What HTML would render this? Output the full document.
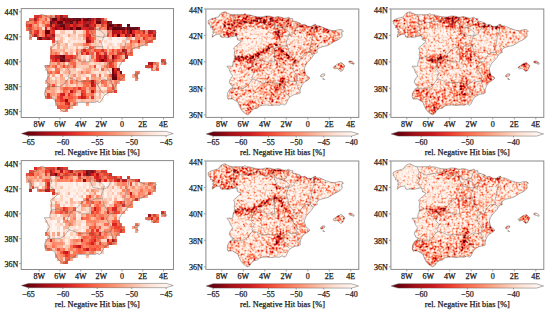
<!DOCTYPE html><html><head><meta charset="utf-8"><style>
html,body{margin:0;padding:0;background:#fff;}
body{width:550px;height:310px;overflow:hidden;position:relative;}
svg{position:absolute;left:0;top:0;}
text{font-family:"Liberation Serif",serif;fill:#1a1a1a;stroke:#1a1a1a;stroke-width:0.25px;}
</style></head><body>
<svg width="550" height="310" viewBox="0 0 550 310">
<defs>
<linearGradient id="cbg" x1="0" x2="1" y1="0" y2="0"><stop offset="0.000" stop-color="#67000d"/><stop offset="0.125" stop-color="#a50f15"/><stop offset="0.250" stop-color="#cb181d"/><stop offset="0.375" stop-color="#ef3b2c"/><stop offset="0.500" stop-color="#fb6a4a"/><stop offset="0.625" stop-color="#fc9272"/><stop offset="0.750" stop-color="#fcbba1"/><stop offset="0.875" stop-color="#fee0d2"/><stop offset="1.000" stop-color="#fff5f0"/></linearGradient>
<clipPath id="sp0"><path d="M30.3 38.3 L30.2 36.1 L30.8 35.2 L31.8 33.9 L30.2 33.6 L32.1 31.9 L30.0 31.1 L30.8 29.8 L29.5 29.4 L28.4 29.4 L28.6 27.9 L27.7 26.9 L26.2 25.4 L26.7 24.2 L25.8 23.2 L27.1 22.1 L29.5 20.8 L32.1 20.2 L34.6 19.4 L36.2 19.2 L36.7 17.9 L38.3 16.1 L40.5 14.7 L42.6 14.3 L44.0 15.2 L46.5 16.4 L49.1 17.2 L52.8 17.1 L56.9 17.1 L60.0 16.9 L61.6 16.1 L63.1 17.2 L66.2 17.3 L69.3 18.2 L72.9 18.9 L75.5 19.2 L78.6 19.2 L81.7 18.3 L83.3 18.3 L86.4 18.6 L89.0 19.4 L91.0 19.4 L93.1 18.8 L96.2 19.4 L99.3 20.4 L101.9 20.2 L103.7 19.4 L105.5 20.7 L107.6 20.8 L107.8 23.6 L109.7 23.2 L112.3 24.2 L114.3 24.8 L116.4 26.7 L119.0 26.2 L122.1 28.1 L125.2 28.2 L128.8 26.1 L129.9 26.4 L130.9 27.7 L133.5 27.7 L137.1 29.2 L139.9 30.4 L142.3 31.1 L143.8 31.7 L148.0 32.3 L150.6 31.4 L153.7 31.1 L154.9 31.3 L156.5 32.7 L154.7 33.6 L155.0 35.2 L155.2 37.3 L153.7 39.2 L151.1 40.9 L148.0 42.3 L144.9 44.2 L141.8 46.0 L138.1 46.9 L134.5 47.9 L131.9 48.9 L130.9 51.0 L131.2 52.9 L129.3 53.5 L127.8 54.8 L126.2 57.3 L123.7 60.4 L121.6 62.3 L120.0 64.8 L118.8 67.9 L119.0 69.8 L119.8 72.3 L120.5 74.4 L122.6 75.6 L124.2 76.9 L123.1 78.1 L121.6 79.1 L119.5 80.4 L117.4 81.9 L116.4 83.9 L115.4 86.0 L114.6 88.5 L114.9 91.0 L112.8 91.9 L109.7 92.3 L107.1 93.5 L105.0 94.8 L103.5 96.6 L102.2 99.1 L100.9 101.6 L99.3 102.6 L97.3 101.4 L94.7 102.6 L91.0 102.4 L86.9 102.9 L82.8 102.4 L78.6 102.6 L76.0 103.1 L73.5 105.4 L70.3 106.0 L67.8 107.9 L66.7 109.7 L65.7 111.0 L64.1 111.6 L62.1 110.6 L60.0 109.1 L57.9 106.6 L56.9 104.8 L55.7 102.3 L54.8 99.8 L51.7 97.9 L49.6 96.6 L47.1 96.6 L45.3 96.9 L44.5 94.1 L45.0 91.0 L47.1 87.3 L49.6 86.0 L50.2 84.1 L48.6 84.1 L46.5 81.0 L47.1 78.5 L49.1 75.6 L49.6 74.8 L47.6 71.7 L46.5 68.5 L44.2 65.8 L49.6 65.8 L50.2 61.7 L51.7 58.5 L51.2 55.4 L51.7 51.0 L50.7 48.5 L52.8 46.7 L55.9 44.2 L57.9 41.9 L54.3 40.7 L53.8 37.3 L51.2 37.3 L47.6 38.2 L45.0 38.6 L42.4 38.2 L39.8 38.6 L38.3 37.9 L37.2 35.2 L34.6 35.7 L32.6 36.4 L30.3 38.3Z M146.4 67.0 L148.0 68.4 L150.3 67.7 L152.6 69.7 L153.7 70.8 L155.7 69.8 L157.8 65.4 L156.8 64.4 L155.2 62.9 L154.2 62.3 L152.6 62.9 L150.6 63.8 L148.5 65.4 L146.7 66.4Z M161.4 61.7 L161.9 62.5 L164.5 63.3 L166.6 63.9 L166.8 63.2 L165.6 61.7 L163.5 60.9 L161.9 60.9Z M134.5 75.6 L136.1 76.0 L137.1 75.1 L138.7 74.2 L138.1 72.9 L136.1 73.2 L134.5 74.4Z M136.4 77.9 L137.1 78.3 L138.5 78.4 L137.6 77.5 L136.8 77.4Z"/></clipPath>
<clipPath id="sp1"><path d="M212.4 37.2 L212.3 34.8 L213.0 33.9 L214.1 32.5 L212.3 32.1 L214.3 30.4 L212.1 29.5 L213.0 28.2 L211.6 27.8 L210.5 27.8 L210.7 26.2 L209.8 25.1 L208.1 23.5 L208.7 22.2 L207.8 21.2 L209.1 20.0 L211.6 18.7 L214.3 18.0 L217.0 17.2 L218.6 16.9 L219.1 15.6 L220.7 13.6 L223.1 12.2 L225.2 11.8 L226.6 12.7 L229.3 14.0 L232.0 14.8 L235.8 14.7 L240.1 14.7 L243.3 14.6 L244.9 13.6 L246.5 14.8 L249.8 14.9 L253.0 15.9 L256.7 16.7 L259.4 16.9 L262.7 16.9 L265.9 16.0 L267.5 16.0 L270.7 16.3 L273.4 17.2 L275.6 17.2 L277.7 16.5 L280.9 17.2 L284.2 18.3 L286.8 18.0 L288.7 17.2 L290.6 18.5 L292.8 18.7 L293.0 21.6 L294.9 21.2 L297.6 22.2 L299.7 22.9 L301.9 24.9 L304.6 24.3 L307.8 26.3 L311.0 26.5 L314.8 24.2 L315.9 24.6 L316.9 25.9 L319.6 25.9 L323.4 27.5 L326.3 28.8 L328.8 29.5 L330.4 30.2 L334.7 30.8 L337.4 29.9 L340.6 29.5 L341.9 29.8 L343.5 31.2 L341.7 32.1 L342.0 33.9 L342.2 36.1 L340.6 38.1 L337.9 39.9 L334.7 41.4 L331.4 43.4 L328.2 45.4 L324.5 46.3 L320.7 47.3 L318.0 48.4 L316.9 50.6 L317.3 52.6 L315.3 53.3 L313.7 54.6 L312.1 57.3 L309.4 60.6 L307.3 62.5 L305.7 65.2 L304.4 68.5 L304.6 70.5 L305.4 73.1 L306.2 75.4 L308.3 76.7 L309.9 78.0 L308.9 79.3 L307.3 80.4 L305.1 81.7 L303.0 83.3 L301.9 85.4 L300.8 87.7 L300.1 90.3 L300.3 92.9 L298.1 93.9 L294.9 94.3 L292.2 95.6 L290.1 96.9 L288.4 98.9 L287.2 101.5 L285.8 104.2 L284.2 105.2 L282.0 103.9 L279.3 105.2 L275.6 105.0 L271.2 105.5 L266.9 105.0 L262.7 105.2 L260.0 105.8 L257.3 108.2 L254.1 108.8 L251.4 110.8 L250.3 112.8 L249.2 114.1 L247.6 114.8 L245.5 113.7 L243.3 112.1 L241.2 109.5 L240.1 107.5 L238.8 104.8 L237.9 102.2 L234.7 100.2 L232.6 98.9 L229.9 98.9 L228.0 99.2 L227.2 96.3 L227.7 92.9 L229.9 89.0 L232.6 87.7 L233.1 85.7 L231.5 85.7 L229.3 82.4 L229.9 79.7 L232.0 76.7 L232.6 75.8 L230.4 72.5 L229.3 69.2 L226.9 66.2 L232.6 66.2 L233.1 61.9 L234.7 58.6 L234.2 55.3 L234.7 50.6 L233.6 48.0 L235.8 46.0 L239.0 43.4 L241.2 41.0 L237.4 39.7 L236.9 36.1 L234.2 36.1 L230.4 37.0 L227.7 37.4 L225.0 37.0 L222.3 37.4 L220.7 36.8 L219.7 33.9 L217.0 34.4 L214.8 35.2 L212.4 37.2Z M333.1 67.6 L334.7 69.0 L337.0 68.2 L339.5 70.3 L340.6 71.5 L342.7 70.5 L344.9 65.8 L343.8 64.8 L342.2 63.2 L341.1 62.5 L339.5 63.2 L337.4 64.1 L335.2 65.8 L333.4 66.9Z M348.7 61.9 L349.2 62.8 L351.9 63.6 L354.0 64.3 L354.2 63.5 L352.9 61.9 L350.8 61.1 L349.2 61.1Z M320.7 76.7 L322.3 77.1 L323.4 76.2 L325.0 75.1 L324.5 73.8 L322.3 74.0 L320.7 75.4Z M322.6 79.1 L323.4 79.5 L324.8 79.6 L323.9 78.7 L323.1 78.5Z"/></clipPath>
<clipPath id="sp2"><path d="M397.4 37.2 L397.3 34.8 L398.0 33.9 L399.1 32.5 L397.3 32.1 L399.3 30.4 L397.1 29.5 L398.0 28.2 L396.6 27.8 L395.5 27.8 L395.7 26.2 L394.8 25.1 L393.1 23.5 L393.7 22.2 L392.8 21.2 L394.1 20.0 L396.6 18.7 L399.3 18.0 L402.0 17.2 L403.6 16.9 L404.1 15.6 L405.7 13.6 L408.1 12.2 L410.2 11.8 L411.6 12.7 L414.3 14.0 L417.0 14.8 L420.8 14.7 L425.1 14.7 L428.3 14.6 L429.9 13.6 L431.5 14.8 L434.8 14.9 L438.0 15.9 L441.7 16.7 L444.4 16.9 L447.7 16.9 L450.9 16.0 L452.5 16.0 L455.7 16.3 L458.4 17.2 L460.6 17.2 L462.7 16.5 L465.9 17.2 L469.2 18.3 L471.8 18.0 L473.7 17.2 L475.6 18.5 L477.8 18.7 L478.0 21.6 L479.9 21.2 L482.6 22.2 L484.7 22.9 L486.9 24.9 L489.6 24.3 L492.8 26.3 L496.0 26.5 L499.8 24.2 L500.9 24.6 L501.9 25.9 L504.6 25.9 L508.4 27.5 L511.3 28.8 L513.8 29.5 L515.4 30.2 L519.7 30.8 L522.4 29.9 L525.6 29.5 L526.9 29.8 L528.5 31.2 L526.7 32.1 L527.0 33.9 L527.2 36.1 L525.6 38.1 L522.9 39.9 L519.7 41.4 L516.5 43.4 L513.2 45.4 L509.5 46.3 L505.7 47.3 L503.0 48.4 L501.9 50.6 L502.3 52.6 L500.3 53.3 L498.7 54.6 L497.1 57.3 L494.4 60.6 L492.3 62.5 L490.7 65.2 L489.4 68.5 L489.6 70.5 L490.4 73.1 L491.2 75.4 L493.3 76.7 L494.9 78.0 L493.9 79.3 L492.3 80.4 L490.1 81.7 L488.0 83.3 L486.9 85.4 L485.8 87.7 L485.1 90.3 L485.3 92.9 L483.1 93.9 L479.9 94.3 L477.2 95.6 L475.1 96.9 L473.4 98.9 L472.2 101.5 L470.8 104.2 L469.2 105.2 L467.0 103.9 L464.3 105.2 L460.6 105.0 L456.2 105.5 L451.9 105.0 L447.7 105.2 L445.0 105.8 L442.3 108.2 L439.1 108.8 L436.4 110.8 L435.3 112.8 L434.2 114.1 L432.6 114.8 L430.4 113.7 L428.3 112.1 L426.1 109.5 L425.1 107.5 L423.8 104.8 L422.9 102.2 L419.7 100.2 L417.6 98.9 L414.9 98.9 L413.0 99.2 L412.2 96.3 L412.7 92.9 L414.9 89.0 L417.6 87.7 L418.1 85.7 L416.5 85.7 L414.3 82.4 L414.9 79.7 L417.0 76.7 L417.6 75.8 L415.4 72.5 L414.3 69.2 L411.9 66.2 L417.6 66.2 L418.1 61.9 L419.7 58.6 L419.2 55.3 L419.7 50.6 L418.6 48.0 L420.8 46.0 L424.0 43.4 L426.1 41.0 L422.4 39.7 L421.9 36.1 L419.2 36.1 L415.4 37.0 L412.7 37.4 L410.0 37.0 L407.3 37.4 L405.7 36.8 L404.7 33.9 L402.0 34.4 L399.8 35.2 L397.4 37.2Z M518.1 67.6 L519.7 69.0 L522.0 68.2 L524.5 70.3 L525.6 71.5 L527.7 70.5 L529.9 65.8 L528.8 64.8 L527.2 63.2 L526.1 62.5 L524.5 63.2 L522.4 64.1 L520.2 65.8 L518.4 66.9Z M533.6 61.9 L534.2 62.8 L536.9 63.6 L539.0 64.3 L539.2 63.5 L538.0 61.9 L535.8 61.1 L534.2 61.1Z M505.7 76.7 L507.3 77.1 L508.4 76.2 L510.0 75.1 L509.5 73.8 L507.3 74.0 L505.7 75.4Z M507.6 79.1 L508.4 79.5 L509.8 79.6 L508.9 78.7 L508.1 78.5Z"/></clipPath>
<clipPath id="sp3"><path d="M30.3 190.3 L30.2 188.1 L30.8 187.2 L31.8 185.9 L30.2 185.6 L32.1 183.9 L30.0 183.1 L30.8 181.8 L29.5 181.4 L28.4 181.4 L28.6 179.9 L27.7 178.9 L26.2 177.4 L26.7 176.2 L25.8 175.2 L27.1 174.1 L29.5 172.8 L32.1 172.2 L34.6 171.4 L36.2 171.2 L36.7 169.9 L38.3 168.1 L40.5 166.7 L42.6 166.3 L44.0 167.2 L46.5 168.4 L49.1 169.2 L52.8 169.1 L56.9 169.1 L60.0 168.9 L61.6 168.1 L63.1 169.2 L66.2 169.3 L69.3 170.2 L72.9 170.9 L75.5 171.2 L78.6 171.2 L81.7 170.3 L83.3 170.3 L86.4 170.6 L89.0 171.4 L91.0 171.4 L93.1 170.8 L96.2 171.4 L99.3 172.4 L101.9 172.2 L103.7 171.4 L105.5 172.7 L107.6 172.8 L107.8 175.6 L109.7 175.2 L112.3 176.2 L114.3 176.8 L116.4 178.7 L119.0 178.2 L122.1 180.1 L125.2 180.2 L128.8 178.1 L129.9 178.4 L130.9 179.7 L133.5 179.7 L137.1 181.2 L139.9 182.4 L142.3 183.1 L143.8 183.7 L148.0 184.3 L150.6 183.4 L153.7 183.1 L154.9 183.3 L156.5 184.7 L154.7 185.6 L155.0 187.2 L155.2 189.3 L153.7 191.2 L151.1 192.9 L148.0 194.3 L144.9 196.2 L141.8 198.0 L138.1 198.9 L134.5 199.9 L131.9 200.9 L130.9 203.0 L131.2 204.9 L129.3 205.5 L127.8 206.8 L126.2 209.3 L123.7 212.4 L121.6 214.3 L120.0 216.8 L118.8 219.9 L119.0 221.8 L119.8 224.3 L120.5 226.4 L122.6 227.6 L124.2 228.9 L123.1 230.1 L121.6 231.1 L119.5 232.4 L117.4 233.9 L116.4 235.9 L115.4 238.0 L114.6 240.5 L114.9 243.0 L112.8 243.9 L109.7 244.3 L107.1 245.5 L105.0 246.8 L103.5 248.6 L102.2 251.1 L100.9 253.6 L99.3 254.6 L97.3 253.4 L94.7 254.6 L91.0 254.4 L86.9 254.9 L82.8 254.4 L78.6 254.6 L76.0 255.1 L73.5 257.4 L70.3 258.0 L67.8 259.9 L66.7 261.7 L65.7 263.0 L64.1 263.6 L62.1 262.6 L60.0 261.1 L57.9 258.6 L56.9 256.8 L55.7 254.3 L54.8 251.8 L51.7 249.9 L49.6 248.6 L47.1 248.6 L45.3 248.9 L44.5 246.1 L45.0 243.0 L47.1 239.3 L49.6 238.0 L50.2 236.1 L48.6 236.1 L46.5 233.0 L47.1 230.5 L49.1 227.6 L49.6 226.8 L47.6 223.7 L46.5 220.5 L44.2 217.8 L49.6 217.8 L50.2 213.7 L51.7 210.5 L51.2 207.4 L51.7 203.0 L50.7 200.5 L52.8 198.7 L55.9 196.2 L57.9 193.9 L54.3 192.7 L53.8 189.3 L51.2 189.3 L47.6 190.2 L45.0 190.6 L42.4 190.2 L39.8 190.6 L38.3 189.9 L37.2 187.2 L34.6 187.7 L32.6 188.4 L30.3 190.3Z M146.4 219.0 L148.0 220.4 L150.3 219.7 L152.6 221.7 L153.7 222.8 L155.7 221.8 L157.8 217.4 L156.8 216.4 L155.2 214.9 L154.2 214.3 L152.6 214.9 L150.6 215.8 L148.5 217.4 L146.7 218.4Z M161.4 213.7 L161.9 214.5 L164.5 215.3 L166.6 215.9 L166.8 215.2 L165.6 213.7 L163.5 212.9 L161.9 212.9Z M134.5 227.6 L136.1 228.0 L137.1 227.1 L138.7 226.1 L138.1 224.9 L136.1 225.2 L134.5 226.4Z M136.4 229.9 L137.1 230.3 L138.5 230.4 L137.6 229.5 L136.8 229.4Z"/></clipPath>
<clipPath id="sp4"><path d="M212.4 189.2 L212.3 186.8 L213.0 185.9 L214.1 184.5 L212.3 184.1 L214.3 182.4 L212.1 181.5 L213.0 180.2 L211.6 179.8 L210.5 179.8 L210.7 178.2 L209.8 177.1 L208.1 175.5 L208.7 174.2 L207.8 173.2 L209.1 172.0 L211.6 170.7 L214.3 170.0 L217.0 169.2 L218.6 168.9 L219.1 167.6 L220.7 165.6 L223.1 164.2 L225.2 163.8 L226.6 164.7 L229.3 166.0 L232.0 166.8 L235.8 166.7 L240.1 166.7 L243.3 166.6 L244.9 165.6 L246.5 166.8 L249.8 166.9 L253.0 167.9 L256.7 168.7 L259.4 168.9 L262.7 168.9 L265.9 168.0 L267.5 168.0 L270.7 168.3 L273.4 169.2 L275.6 169.2 L277.7 168.5 L280.9 169.2 L284.2 170.3 L286.8 170.0 L288.7 169.2 L290.6 170.5 L292.8 170.7 L293.0 173.6 L294.9 173.2 L297.6 174.2 L299.7 174.9 L301.9 176.9 L304.6 176.3 L307.8 178.3 L311.0 178.5 L314.8 176.2 L315.9 176.6 L316.9 177.9 L319.6 177.9 L323.4 179.5 L326.3 180.8 L328.8 181.5 L330.4 182.2 L334.7 182.8 L337.4 181.9 L340.6 181.5 L341.9 181.8 L343.5 183.2 L341.7 184.1 L342.0 185.9 L342.2 188.1 L340.6 190.1 L337.9 191.9 L334.7 193.4 L331.4 195.4 L328.2 197.4 L324.5 198.3 L320.7 199.3 L318.0 200.4 L316.9 202.6 L317.3 204.6 L315.3 205.3 L313.7 206.6 L312.1 209.3 L309.4 212.6 L307.3 214.5 L305.7 217.2 L304.4 220.5 L304.6 222.5 L305.4 225.1 L306.2 227.4 L308.3 228.7 L309.9 230.0 L308.9 231.3 L307.3 232.4 L305.1 233.7 L303.0 235.3 L301.9 237.4 L300.8 239.7 L300.1 242.3 L300.3 244.9 L298.1 245.9 L294.9 246.3 L292.2 247.6 L290.1 248.9 L288.4 250.9 L287.2 253.5 L285.8 256.2 L284.2 257.2 L282.0 255.9 L279.3 257.2 L275.6 257.0 L271.2 257.5 L266.9 257.0 L262.7 257.2 L260.0 257.8 L257.3 260.1 L254.1 260.8 L251.4 262.8 L250.3 264.8 L249.2 266.1 L247.6 266.8 L245.5 265.7 L243.3 264.1 L241.2 261.5 L240.1 259.5 L238.8 256.8 L237.9 254.2 L234.7 252.2 L232.6 250.9 L229.9 250.9 L228.0 251.2 L227.2 248.3 L227.7 244.9 L229.9 241.0 L232.6 239.7 L233.1 237.7 L231.5 237.7 L229.3 234.4 L229.9 231.7 L232.0 228.7 L232.6 227.8 L230.4 224.5 L229.3 221.2 L226.9 218.2 L232.6 218.2 L233.1 213.9 L234.7 210.6 L234.2 207.3 L234.7 202.6 L233.6 200.0 L235.8 198.0 L239.0 195.4 L241.2 193.0 L237.4 191.7 L236.9 188.1 L234.2 188.1 L230.4 189.0 L227.7 189.4 L225.0 189.0 L222.3 189.4 L220.7 188.8 L219.7 185.9 L217.0 186.4 L214.8 187.2 L212.4 189.2Z M333.1 219.6 L334.7 221.0 L337.0 220.2 L339.5 222.3 L340.6 223.5 L342.7 222.5 L344.9 217.8 L343.8 216.8 L342.2 215.2 L341.1 214.5 L339.5 215.2 L337.4 216.1 L335.2 217.8 L333.4 218.9Z M348.7 213.9 L349.2 214.8 L351.9 215.6 L354.0 216.3 L354.2 215.5 L352.9 213.9 L350.8 213.1 L349.2 213.1Z M320.7 228.7 L322.3 229.1 L323.4 228.2 L325.0 227.1 L324.5 225.8 L322.3 226.0 L320.7 227.4Z M322.6 231.1 L323.4 231.5 L324.8 231.6 L323.9 230.7 L323.1 230.5Z"/></clipPath>
<clipPath id="sp5"><path d="M397.4 189.2 L397.3 186.8 L398.0 185.9 L399.1 184.5 L397.3 184.1 L399.3 182.4 L397.1 181.5 L398.0 180.2 L396.6 179.8 L395.5 179.8 L395.7 178.2 L394.8 177.1 L393.1 175.5 L393.7 174.2 L392.8 173.2 L394.1 172.0 L396.6 170.7 L399.3 170.0 L402.0 169.2 L403.6 168.9 L404.1 167.6 L405.7 165.6 L408.1 164.2 L410.2 163.8 L411.6 164.7 L414.3 166.0 L417.0 166.8 L420.8 166.7 L425.1 166.7 L428.3 166.6 L429.9 165.6 L431.5 166.8 L434.8 166.9 L438.0 167.9 L441.7 168.7 L444.4 168.9 L447.7 168.9 L450.9 168.0 L452.5 168.0 L455.7 168.3 L458.4 169.2 L460.6 169.2 L462.7 168.5 L465.9 169.2 L469.2 170.3 L471.8 170.0 L473.7 169.2 L475.6 170.5 L477.8 170.7 L478.0 173.6 L479.9 173.2 L482.6 174.2 L484.7 174.9 L486.9 176.9 L489.6 176.3 L492.8 178.3 L496.0 178.5 L499.8 176.2 L500.9 176.6 L501.9 177.9 L504.6 177.9 L508.4 179.5 L511.3 180.8 L513.8 181.5 L515.4 182.2 L519.7 182.8 L522.4 181.9 L525.6 181.5 L526.9 181.8 L528.5 183.2 L526.7 184.1 L527.0 185.9 L527.2 188.1 L525.6 190.1 L522.9 191.9 L519.7 193.4 L516.5 195.4 L513.2 197.4 L509.5 198.3 L505.7 199.3 L503.0 200.4 L501.9 202.6 L502.3 204.6 L500.3 205.3 L498.7 206.6 L497.1 209.3 L494.4 212.6 L492.3 214.5 L490.7 217.2 L489.4 220.5 L489.6 222.5 L490.4 225.1 L491.2 227.4 L493.3 228.7 L494.9 230.0 L493.9 231.3 L492.3 232.4 L490.1 233.7 L488.0 235.3 L486.9 237.4 L485.8 239.7 L485.1 242.3 L485.3 244.9 L483.1 245.9 L479.9 246.3 L477.2 247.6 L475.1 248.9 L473.4 250.9 L472.2 253.5 L470.8 256.2 L469.2 257.2 L467.0 255.9 L464.3 257.2 L460.6 257.0 L456.2 257.5 L451.9 257.0 L447.7 257.2 L445.0 257.8 L442.3 260.1 L439.1 260.8 L436.4 262.8 L435.3 264.8 L434.2 266.1 L432.6 266.8 L430.4 265.7 L428.3 264.1 L426.1 261.5 L425.1 259.5 L423.8 256.8 L422.9 254.2 L419.7 252.2 L417.6 250.9 L414.9 250.9 L413.0 251.2 L412.2 248.3 L412.7 244.9 L414.9 241.0 L417.6 239.7 L418.1 237.7 L416.5 237.7 L414.3 234.4 L414.9 231.7 L417.0 228.7 L417.6 227.8 L415.4 224.5 L414.3 221.2 L411.9 218.2 L417.6 218.2 L418.1 213.9 L419.7 210.6 L419.2 207.3 L419.7 202.6 L418.6 200.0 L420.8 198.0 L424.0 195.4 L426.1 193.0 L422.4 191.7 L421.9 188.1 L419.2 188.1 L415.4 189.0 L412.7 189.4 L410.0 189.0 L407.3 189.4 L405.7 188.8 L404.7 185.9 L402.0 186.4 L399.8 187.2 L397.4 189.2Z M518.1 219.6 L519.7 221.0 L522.0 220.2 L524.5 222.3 L525.6 223.5 L527.7 222.5 L529.9 217.8 L528.8 216.8 L527.2 215.2 L526.1 214.5 L524.5 215.2 L522.4 216.1 L520.2 217.8 L518.4 218.9Z M533.6 213.9 L534.2 214.8 L536.9 215.6 L539.0 216.3 L539.2 215.5 L538.0 213.9 L535.8 213.1 L534.2 213.1Z M505.7 228.7 L507.3 229.1 L508.4 228.2 L510.0 227.1 L509.5 225.8 L507.3 226.0 L505.7 227.4Z M507.6 231.1 L508.4 231.5 L509.8 231.6 L508.9 230.7 L508.1 230.5Z"/></clipPath>
<filter id="nf0" filterUnits="userSpaceOnUse" x="21.2" y="8.6" width="152.3" height="108.9" color-interpolation-filters="sRGB"><feGaussianBlur in="SourceGraphic" stdDeviation="1.2" result="v"/><feTurbulence type="fractalNoise" baseFrequency="0.50" numOctaves="2" seed="7" result="n0"/><feColorMatrix in="n0" type="matrix" values="1 0 0 0 0 1 0 0 0 0 1 0 0 0 0 0 0 0 0 1" result="n"/><feTurbulence type="fractalNoise" baseFrequency="0.3" numOctaves="2" seed="5" result="m0"/><feColorMatrix in="m0" type="matrix" values="0 1 0 0 0 0 1 0 0 0 0 1 0 0 0 0 0 0 0 1" result="m"/><feComposite in="v" in2="n" operator="arithmetic" k1="1.200" k2="0.400" k3="0.900" k4="-0.450" result="s1"/><feComposite in="s1" in2="m" operator="arithmetic" k1="1.400" k2="0.300" k3="0.500" k4="-0.250" result="s"/><feComponentTransfer in="s"><feFuncR type="table" tableValues="1.0000 0.9961 0.9882 0.9882 0.9843 0.9373 0.7961 0.6471 0.4039"/><feFuncG type="table" tableValues="0.9608 0.8784 0.7333 0.5725 0.4157 0.2314 0.0941 0.0588 0.0000"/><feFuncB type="table" tableValues="0.9412 0.8235 0.6314 0.4471 0.2902 0.1725 0.1137 0.0824 0.0510"/></feComponentTransfer></filter>
<filter id="nf1" filterUnits="userSpaceOnUse" x="205.9" y="9.0" width="152.9" height="108.4" color-interpolation-filters="sRGB"><feGaussianBlur in="SourceGraphic" stdDeviation="1.2" result="v"/><feTurbulence type="fractalNoise" baseFrequency="0.50" numOctaves="2" seed="20" result="n0"/><feColorMatrix in="n0" type="matrix" values="1 0 0 0 0 1 0 0 0 0 1 0 0 0 0 0 0 0 0 1" result="n"/><feTurbulence type="fractalNoise" baseFrequency="0.3" numOctaves="2" seed="16" result="m0"/><feColorMatrix in="m0" type="matrix" values="0 1 0 0 0 0 1 0 0 0 0 1 0 0 0 0 0 0 0 1" result="m"/><feComposite in="v" in2="n" operator="arithmetic" k1="1.200" k2="0.400" k3="0.900" k4="-0.450" result="s1"/><feComposite in="s1" in2="m" operator="arithmetic" k1="1.400" k2="0.300" k3="0.500" k4="-0.250" result="s"/><feComponentTransfer in="s"><feFuncR type="table" tableValues="1.0000 0.9961 0.9882 0.9882 0.9843 0.9373 0.7961 0.6471 0.4039"/><feFuncG type="table" tableValues="0.9608 0.8784 0.7333 0.5725 0.4157 0.2314 0.0941 0.0588 0.0000"/><feFuncB type="table" tableValues="0.9412 0.8235 0.6314 0.4471 0.2902 0.1725 0.1137 0.0824 0.0510"/></feComponentTransfer></filter>
<filter id="nf2" filterUnits="userSpaceOnUse" x="390.9" y="9.0" width="152.9" height="108.4" color-interpolation-filters="sRGB"><feGaussianBlur in="SourceGraphic" stdDeviation="1.2" result="v"/><feTurbulence type="fractalNoise" baseFrequency="0.50" numOctaves="2" seed="33" result="n0"/><feColorMatrix in="n0" type="matrix" values="1 0 0 0 0 1 0 0 0 0 1 0 0 0 0 0 0 0 0 1" result="n"/><feTurbulence type="fractalNoise" baseFrequency="0.3" numOctaves="2" seed="27" result="m0"/><feColorMatrix in="m0" type="matrix" values="0 1 0 0 0 0 1 0 0 0 0 1 0 0 0 0 0 0 0 1" result="m"/><feComposite in="v" in2="n" operator="arithmetic" k1="1.200" k2="0.400" k3="0.900" k4="-0.450" result="s1"/><feComposite in="s1" in2="m" operator="arithmetic" k1="1.400" k2="0.300" k3="0.500" k4="-0.250" result="s"/><feComponentTransfer in="s"><feFuncR type="table" tableValues="1.0000 0.9961 0.9882 0.9882 0.9843 0.9373 0.7961 0.6471 0.4039"/><feFuncG type="table" tableValues="0.9608 0.8784 0.7333 0.5725 0.4157 0.2314 0.0941 0.0588 0.0000"/><feFuncB type="table" tableValues="0.9412 0.8235 0.6314 0.4471 0.2902 0.1725 0.1137 0.0824 0.0510"/></feComponentTransfer></filter>
<filter id="nf3" filterUnits="userSpaceOnUse" x="21.2" y="160.6" width="152.3" height="108.9" color-interpolation-filters="sRGB"><feGaussianBlur in="SourceGraphic" stdDeviation="1.2" result="v"/><feTurbulence type="fractalNoise" baseFrequency="0.50" numOctaves="2" seed="46" result="n0"/><feColorMatrix in="n0" type="matrix" values="1 0 0 0 0 1 0 0 0 0 1 0 0 0 0 0 0 0 0 1" result="n"/><feTurbulence type="fractalNoise" baseFrequency="0.3" numOctaves="2" seed="38" result="m0"/><feColorMatrix in="m0" type="matrix" values="0 1 0 0 0 0 1 0 0 0 0 1 0 0 0 0 0 0 0 1" result="m"/><feComposite in="v" in2="n" operator="arithmetic" k1="1.200" k2="0.400" k3="0.900" k4="-0.450" result="s1"/><feComposite in="s1" in2="m" operator="arithmetic" k1="1.400" k2="0.300" k3="0.500" k4="-0.250" result="s"/><feComponentTransfer in="s"><feFuncR type="table" tableValues="1.0000 0.9961 0.9882 0.9882 0.9843 0.9373 0.7961 0.6471 0.4039"/><feFuncG type="table" tableValues="0.9608 0.8784 0.7333 0.5725 0.4157 0.2314 0.0941 0.0588 0.0000"/><feFuncB type="table" tableValues="0.9412 0.8235 0.6314 0.4471 0.2902 0.1725 0.1137 0.0824 0.0510"/></feComponentTransfer></filter>
<filter id="nf4" filterUnits="userSpaceOnUse" x="205.9" y="161.0" width="152.9" height="108.4" color-interpolation-filters="sRGB"><feGaussianBlur in="SourceGraphic" stdDeviation="1.2" result="v"/><feTurbulence type="fractalNoise" baseFrequency="0.50" numOctaves="2" seed="59" result="n0"/><feColorMatrix in="n0" type="matrix" values="1 0 0 0 0 1 0 0 0 0 1 0 0 0 0 0 0 0 0 1" result="n"/><feTurbulence type="fractalNoise" baseFrequency="0.3" numOctaves="2" seed="49" result="m0"/><feColorMatrix in="m0" type="matrix" values="0 1 0 0 0 0 1 0 0 0 0 1 0 0 0 0 0 0 0 1" result="m"/><feComposite in="v" in2="n" operator="arithmetic" k1="1.200" k2="0.400" k3="0.900" k4="-0.450" result="s1"/><feComposite in="s1" in2="m" operator="arithmetic" k1="1.400" k2="0.300" k3="0.500" k4="-0.250" result="s"/><feComponentTransfer in="s"><feFuncR type="table" tableValues="1.0000 0.9961 0.9882 0.9882 0.9843 0.9373 0.7961 0.6471 0.4039"/><feFuncG type="table" tableValues="0.9608 0.8784 0.7333 0.5725 0.4157 0.2314 0.0941 0.0588 0.0000"/><feFuncB type="table" tableValues="0.9412 0.8235 0.6314 0.4471 0.2902 0.1725 0.1137 0.0824 0.0510"/></feComponentTransfer></filter>
<filter id="nf5" filterUnits="userSpaceOnUse" x="390.9" y="161.0" width="152.9" height="108.4" color-interpolation-filters="sRGB"><feGaussianBlur in="SourceGraphic" stdDeviation="1.2" result="v"/><feTurbulence type="fractalNoise" baseFrequency="0.50" numOctaves="2" seed="72" result="n0"/><feColorMatrix in="n0" type="matrix" values="1 0 0 0 0 1 0 0 0 0 1 0 0 0 0 0 0 0 0 1" result="n"/><feTurbulence type="fractalNoise" baseFrequency="0.3" numOctaves="2" seed="60" result="m0"/><feColorMatrix in="m0" type="matrix" values="0 1 0 0 0 0 1 0 0 0 0 1 0 0 0 0 0 0 0 1" result="m"/><feComposite in="v" in2="n" operator="arithmetic" k1="1.200" k2="0.400" k3="0.900" k4="-0.450" result="s1"/><feComposite in="s1" in2="m" operator="arithmetic" k1="1.400" k2="0.300" k3="0.500" k4="-0.250" result="s"/><feComponentTransfer in="s"><feFuncR type="table" tableValues="1.0000 0.9961 0.9882 0.9882 0.9843 0.9373 0.7961 0.6471 0.4039"/><feFuncG type="table" tableValues="0.9608 0.8784 0.7333 0.5725 0.4157 0.2314 0.0941 0.0588 0.0000"/><feFuncB type="table" tableValues="0.9412 0.8235 0.6314 0.4471 0.2902 0.1725 0.1137 0.0824 0.0510"/></feComponentTransfer></filter>
</defs>
<g shape-rendering="crispEdges"><rect x="34.1" y="14.8" width="2.8" height="3.3" fill="#e63228"/><rect x="36.7" y="14.8" width="2.8" height="3.3" fill="#de2a25"/><rect x="39.3" y="14.8" width="2.8" height="3.3" fill="#f24733"/><rect x="41.9" y="14.8" width="2.8" height="3.3" fill="#fc9373"/><rect x="44.5" y="14.8" width="2.8" height="3.3" fill="#fc8262"/><rect x="47.1" y="14.8" width="2.8" height="3.3" fill="#fca689"/><rect x="49.6" y="14.8" width="2.8" height="3.3" fill="#fb6e4e"/><rect x="52.2" y="14.8" width="2.8" height="3.3" fill="#fcaa8d"/><rect x="54.8" y="14.8" width="2.8" height="3.3" fill="#da2623"/><rect x="57.4" y="14.8" width="2.8" height="3.3" fill="#eb372a"/><rect x="60.0" y="14.8" width="2.8" height="3.3" fill="#a20e15"/><rect x="62.6" y="14.8" width="2.8" height="3.3" fill="#e53128"/><rect x="65.2" y="14.8" width="2.8" height="3.3" fill="#de2b25"/><rect x="29.0" y="17.9" width="2.8" height="3.3" fill="#f85f43"/><rect x="31.5" y="17.9" width="2.8" height="3.3" fill="#fb6e4e"/><rect x="34.1" y="17.9" width="2.8" height="3.3" fill="#bf151b"/><rect x="36.7" y="17.9" width="2.8" height="3.3" fill="#f24834"/><rect x="39.3" y="17.9" width="2.8" height="3.3" fill="#fc8d6d"/><rect x="41.9" y="17.9" width="2.8" height="3.3" fill="#fc9777"/><rect x="44.5" y="17.9" width="2.8" height="3.3" fill="#f6583f"/><rect x="47.1" y="17.9" width="2.8" height="3.3" fill="#fcbfa7"/><rect x="49.6" y="17.9" width="2.8" height="3.3" fill="#d21e20"/><rect x="52.2" y="17.9" width="2.8" height="3.3" fill="#67000d"/><rect x="54.8" y="17.9" width="2.8" height="3.3" fill="#67000d"/><rect x="57.4" y="17.9" width="2.8" height="3.3" fill="#d92623"/><rect x="60.0" y="17.9" width="2.8" height="3.3" fill="#9f0d14"/><rect x="62.6" y="17.9" width="2.8" height="3.3" fill="#67000d"/><rect x="65.2" y="17.9" width="2.8" height="3.3" fill="#900a12"/><rect x="67.8" y="17.9" width="2.8" height="3.3" fill="#7e0610"/><rect x="70.3" y="17.9" width="2.8" height="3.3" fill="#870811"/><rect x="72.9" y="17.9" width="2.8" height="3.3" fill="#67000d"/><rect x="75.5" y="17.9" width="2.8" height="3.3" fill="#67000d"/><rect x="78.1" y="17.9" width="2.8" height="3.3" fill="#67000d"/><rect x="80.7" y="17.9" width="2.8" height="3.3" fill="#e43027"/><rect x="83.3" y="17.9" width="2.8" height="3.3" fill="#800610"/><rect x="85.9" y="17.9" width="2.8" height="3.3" fill="#67000d"/><rect x="88.5" y="17.9" width="2.8" height="3.3" fill="#830711"/><rect x="91.0" y="17.9" width="2.8" height="3.3" fill="#be151a"/><rect x="93.6" y="17.9" width="2.8" height="3.3" fill="#e63328"/><rect x="96.2" y="17.9" width="2.8" height="3.3" fill="#900a12"/><rect x="98.8" y="17.9" width="2.8" height="3.3" fill="#930b13"/><rect x="101.4" y="17.9" width="2.8" height="3.3" fill="#e43128"/><rect x="104.0" y="17.9" width="2.8" height="3.3" fill="#fc9070"/><rect x="26.4" y="21.1" width="2.8" height="3.3" fill="#fb7959"/><rect x="29.0" y="21.1" width="2.8" height="3.3" fill="#fc8666"/><rect x="31.5" y="21.1" width="2.8" height="3.3" fill="#fb7e5e"/><rect x="34.1" y="21.1" width="2.8" height="3.3" fill="#f24834"/><rect x="36.7" y="21.1" width="2.8" height="3.3" fill="#fc8464"/><rect x="39.3" y="21.1" width="2.8" height="3.3" fill="#fcb094"/><rect x="41.9" y="21.1" width="2.8" height="3.3" fill="#fb7252"/><rect x="44.5" y="21.1" width="2.8" height="3.3" fill="#fca082"/><rect x="47.1" y="21.1" width="2.8" height="3.3" fill="#fc8464"/><rect x="49.6" y="21.1" width="2.8" height="3.3" fill="#67000d"/><rect x="52.2" y="21.1" width="2.8" height="3.3" fill="#a00e14"/><rect x="54.8" y="21.1" width="2.8" height="3.3" fill="#cc181d"/><rect x="57.4" y="21.1" width="2.8" height="3.3" fill="#67000d"/><rect x="60.0" y="21.1" width="2.8" height="3.3" fill="#67000d"/><rect x="62.6" y="21.1" width="2.8" height="3.3" fill="#d62322"/><rect x="65.2" y="21.1" width="2.8" height="3.3" fill="#890811"/><rect x="67.8" y="21.1" width="2.8" height="3.3" fill="#960b13"/><rect x="70.3" y="21.1" width="2.8" height="3.3" fill="#67000d"/><rect x="72.9" y="21.1" width="2.8" height="3.3" fill="#d01d1f"/><rect x="75.5" y="21.1" width="2.8" height="3.3" fill="#840711"/><rect x="78.1" y="21.1" width="2.8" height="3.3" fill="#cb181d"/><rect x="80.7" y="21.1" width="2.8" height="3.3" fill="#df2b25"/><rect x="83.3" y="21.1" width="2.8" height="3.3" fill="#b21218"/><rect x="85.9" y="21.1" width="2.8" height="3.3" fill="#c3161b"/><rect x="88.5" y="21.1" width="2.8" height="3.3" fill="#ba1419"/><rect x="91.0" y="21.1" width="2.8" height="3.3" fill="#d42121"/><rect x="93.6" y="21.1" width="2.8" height="3.3" fill="#f24633"/><rect x="96.2" y="21.1" width="2.8" height="3.3" fill="#72030e"/><rect x="98.8" y="21.1" width="2.8" height="3.3" fill="#67000d"/><rect x="101.4" y="21.1" width="2.8" height="3.3" fill="#de2a25"/><rect x="104.0" y="21.1" width="2.8" height="3.3" fill="#ec382b"/><rect x="106.6" y="21.1" width="2.8" height="3.3" fill="#67000d"/><rect x="109.2" y="21.1" width="2.8" height="3.3" fill="#930b13"/><rect x="26.4" y="24.2" width="2.8" height="3.3" fill="#f24935"/><rect x="29.0" y="24.2" width="2.8" height="3.3" fill="#df2b25"/><rect x="31.5" y="24.2" width="2.8" height="3.3" fill="#fc7f5f"/><rect x="34.1" y="24.2" width="2.8" height="3.3" fill="#fca486"/><rect x="36.7" y="24.2" width="2.8" height="3.3" fill="#fb7e5e"/><rect x="39.3" y="24.2" width="2.8" height="3.3" fill="#fdceba"/><rect x="41.9" y="24.2" width="2.8" height="3.3" fill="#fca78a"/><rect x="44.5" y="24.2" width="2.8" height="3.3" fill="#f34a36"/><rect x="47.1" y="24.2" width="2.8" height="3.3" fill="#ed392b"/><rect x="49.6" y="24.2" width="2.8" height="3.3" fill="#920b13"/><rect x="52.2" y="24.2" width="2.8" height="3.3" fill="#ef3b2c"/><rect x="54.8" y="24.2" width="2.8" height="3.3" fill="#b91419"/><rect x="57.4" y="24.2" width="2.8" height="3.3" fill="#a00e14"/><rect x="60.0" y="24.2" width="2.8" height="3.3" fill="#6a010d"/><rect x="62.6" y="24.2" width="2.8" height="3.3" fill="#6c010e"/><rect x="65.2" y="24.2" width="2.8" height="3.3" fill="#bf151a"/><rect x="67.8" y="24.2" width="2.8" height="3.3" fill="#bb141a"/><rect x="70.3" y="24.2" width="2.8" height="3.3" fill="#e73328"/><rect x="72.9" y="24.2" width="2.8" height="3.3" fill="#c8171c"/><rect x="75.5" y="24.2" width="2.8" height="3.3" fill="#d72322"/><rect x="78.1" y="24.2" width="2.8" height="3.3" fill="#ec382b"/><rect x="80.7" y="24.2" width="2.8" height="3.3" fill="#ea362a"/><rect x="83.3" y="24.2" width="2.8" height="3.3" fill="#b01117"/><rect x="85.9" y="24.2" width="2.8" height="3.3" fill="#8c0912"/><rect x="88.5" y="24.2" width="2.8" height="3.3" fill="#d01c1f"/><rect x="91.0" y="24.2" width="2.8" height="3.3" fill="#e12e26"/><rect x="93.6" y="24.2" width="2.8" height="3.3" fill="#cf1b1e"/><rect x="96.2" y="24.2" width="2.8" height="3.3" fill="#fc8868"/><rect x="98.8" y="24.2" width="2.8" height="3.3" fill="#fc9272"/><rect x="101.4" y="24.2" width="2.8" height="3.3" fill="#f14130"/><rect x="104.0" y="24.2" width="2.8" height="3.3" fill="#f96144"/><rect x="106.6" y="24.2" width="2.8" height="3.3" fill="#850711"/><rect x="109.2" y="24.2" width="2.8" height="3.3" fill="#67000d"/><rect x="111.8" y="24.2" width="2.8" height="3.3" fill="#67000d"/><rect x="114.3" y="24.2" width="2.8" height="3.3" fill="#ae1117"/><rect x="116.9" y="24.2" width="2.8" height="3.3" fill="#67000d"/><rect x="119.5" y="24.2" width="2.8" height="3.3" fill="#a91016"/><rect x="127.3" y="24.2" width="2.8" height="3.3" fill="#67000d"/><rect x="26.4" y="27.3" width="2.8" height="3.3" fill="#fb6f4f"/><rect x="29.0" y="27.3" width="2.8" height="3.3" fill="#f24834"/><rect x="31.5" y="27.3" width="2.8" height="3.3" fill="#fb7050"/><rect x="34.1" y="27.3" width="2.8" height="3.3" fill="#fc8c6c"/><rect x="36.7" y="27.3" width="2.8" height="3.3" fill="#fb6d4d"/><rect x="39.3" y="27.3" width="2.8" height="3.3" fill="#fc8f6f"/><rect x="41.9" y="27.3" width="2.8" height="3.3" fill="#fee0d2"/><rect x="44.5" y="27.3" width="2.8" height="3.3" fill="#d01d1f"/><rect x="47.1" y="27.3" width="2.8" height="3.3" fill="#fcae93"/><rect x="49.6" y="27.3" width="2.8" height="3.3" fill="#f03e2e"/><rect x="52.2" y="27.3" width="2.8" height="3.3" fill="#c9181d"/><rect x="54.8" y="27.3" width="2.8" height="3.3" fill="#910a12"/><rect x="57.4" y="27.3" width="2.8" height="3.3" fill="#b41318"/><rect x="60.0" y="27.3" width="2.8" height="3.3" fill="#c9181d"/><rect x="62.6" y="27.3" width="2.8" height="3.3" fill="#67000d"/><rect x="65.2" y="27.3" width="2.8" height="3.3" fill="#ae1117"/><rect x="67.8" y="27.3" width="2.8" height="3.3" fill="#b21218"/><rect x="70.3" y="27.3" width="2.8" height="3.3" fill="#77040f"/><rect x="72.9" y="27.3" width="2.8" height="3.3" fill="#d01d1f"/><rect x="75.5" y="27.3" width="2.8" height="3.3" fill="#67000d"/><rect x="78.1" y="27.3" width="2.8" height="3.3" fill="#67000d"/><rect x="80.7" y="27.3" width="2.8" height="3.3" fill="#db2824"/><rect x="83.3" y="27.3" width="2.8" height="3.3" fill="#d82422"/><rect x="85.9" y="27.3" width="2.8" height="3.3" fill="#d32020"/><rect x="88.5" y="27.3" width="2.8" height="3.3" fill="#b91419"/><rect x="91.0" y="27.3" width="2.8" height="3.3" fill="#c8171c"/><rect x="93.6" y="27.3" width="2.8" height="3.3" fill="#f34b36"/><rect x="96.2" y="27.3" width="2.8" height="3.3" fill="#fdc8b3"/><rect x="98.8" y="27.3" width="2.8" height="3.3" fill="#fb7959"/><rect x="101.4" y="27.3" width="2.8" height="3.3" fill="#fc9070"/><rect x="104.0" y="27.3" width="2.8" height="3.3" fill="#fb7a5a"/><rect x="106.6" y="27.3" width="2.8" height="3.3" fill="#67000d"/><rect x="109.2" y="27.3" width="2.8" height="3.3" fill="#c4161c"/><rect x="111.8" y="27.3" width="2.8" height="3.3" fill="#67000d"/><rect x="114.3" y="27.3" width="2.8" height="3.3" fill="#67000d"/><rect x="116.9" y="27.3" width="2.8" height="3.3" fill="#67000d"/><rect x="119.5" y="27.3" width="2.8" height="3.3" fill="#67000d"/><rect x="122.1" y="27.3" width="2.8" height="3.3" fill="#67000d"/><rect x="124.7" y="27.3" width="2.8" height="3.3" fill="#b11217"/><rect x="127.3" y="27.3" width="2.8" height="3.3" fill="#67000d"/><rect x="129.9" y="27.3" width="2.8" height="3.3" fill="#67000d"/><rect x="132.4" y="27.3" width="2.8" height="3.3" fill="#67000d"/><rect x="135.0" y="27.3" width="2.8" height="3.3" fill="#67000d"/><rect x="137.6" y="27.3" width="2.8" height="3.3" fill="#ac1116"/><rect x="29.0" y="30.4" width="2.8" height="3.3" fill="#f96245"/><rect x="31.5" y="30.4" width="2.8" height="3.3" fill="#fc8363"/><rect x="34.1" y="30.4" width="2.8" height="3.3" fill="#ee3a2c"/><rect x="36.7" y="30.4" width="2.8" height="3.3" fill="#de2a25"/><rect x="39.3" y="30.4" width="2.8" height="3.3" fill="#fc9777"/><rect x="41.9" y="30.4" width="2.8" height="3.3" fill="#fb7454"/><rect x="44.5" y="30.4" width="2.8" height="3.3" fill="#67000d"/><rect x="47.1" y="30.4" width="2.8" height="3.3" fill="#67000d"/><rect x="49.6" y="30.4" width="2.8" height="3.3" fill="#f14532"/><rect x="52.2" y="30.4" width="2.8" height="3.3" fill="#e22f27"/><rect x="54.8" y="30.4" width="2.8" height="3.3" fill="#ffede5"/><rect x="57.4" y="30.4" width="2.8" height="3.3" fill="#ffede5"/><rect x="60.0" y="30.4" width="2.8" height="3.3" fill="#fdc9b4"/><rect x="62.6" y="30.4" width="2.8" height="3.3" fill="#fdc5af"/><rect x="65.2" y="30.4" width="2.8" height="3.3" fill="#fee6db"/><rect x="67.8" y="30.4" width="2.8" height="3.3" fill="#fee4d8"/><rect x="70.3" y="30.4" width="2.8" height="3.3" fill="#fee9df"/><rect x="72.9" y="30.4" width="2.8" height="3.3" fill="#fca88b"/><rect x="75.5" y="30.4" width="2.8" height="3.3" fill="#fee9df"/><rect x="78.1" y="30.4" width="2.8" height="3.3" fill="#fee5d9"/><rect x="80.7" y="30.4" width="2.8" height="3.3" fill="#fedecf"/><rect x="83.3" y="30.4" width="2.8" height="3.3" fill="#fcaf93"/><rect x="85.9" y="30.4" width="2.8" height="3.3" fill="#ed392b"/><rect x="88.5" y="30.4" width="2.8" height="3.3" fill="#fb7a5a"/><rect x="91.0" y="30.4" width="2.8" height="3.3" fill="#fb7353"/><rect x="93.6" y="30.4" width="2.8" height="3.3" fill="#fb7757"/><rect x="96.2" y="30.4" width="2.8" height="3.3" fill="#fee3d7"/><rect x="98.8" y="30.4" width="2.8" height="3.3" fill="#fedfd1"/><rect x="101.4" y="30.4" width="2.8" height="3.3" fill="#fedaca"/><rect x="104.0" y="30.4" width="2.8" height="3.3" fill="#fdd7c6"/><rect x="106.6" y="30.4" width="2.8" height="3.3" fill="#fb7656"/><rect x="109.2" y="30.4" width="2.8" height="3.3" fill="#fc8868"/><rect x="111.8" y="30.4" width="2.8" height="3.3" fill="#aa1016"/><rect x="114.3" y="30.4" width="2.8" height="3.3" fill="#b91419"/><rect x="116.9" y="30.4" width="2.8" height="3.3" fill="#c2161b"/><rect x="119.5" y="30.4" width="2.8" height="3.3" fill="#dd2a25"/><rect x="122.1" y="30.4" width="2.8" height="3.3" fill="#aa1016"/><rect x="124.7" y="30.4" width="2.8" height="3.3" fill="#e53228"/><rect x="127.3" y="30.4" width="2.8" height="3.3" fill="#a50f15"/><rect x="129.9" y="30.4" width="2.8" height="3.3" fill="#67000d"/><rect x="132.4" y="30.4" width="2.8" height="3.3" fill="#dc2824"/><rect x="135.0" y="30.4" width="2.8" height="3.3" fill="#f45039"/><rect x="137.6" y="30.4" width="2.8" height="3.3" fill="#f03f2e"/><rect x="140.2" y="30.4" width="2.8" height="3.3" fill="#f86043"/><rect x="142.8" y="30.4" width="2.8" height="3.3" fill="#da2623"/><rect x="145.4" y="30.4" width="2.8" height="3.3" fill="#fc9778"/><rect x="148.0" y="30.4" width="2.8" height="3.3" fill="#bd151a"/><rect x="150.6" y="30.4" width="2.8" height="3.3" fill="#c4161c"/><rect x="153.1" y="30.4" width="2.8" height="3.3" fill="#ee3a2b"/><rect x="29.0" y="33.6" width="2.8" height="3.3" fill="#fcaa8d"/><rect x="31.5" y="33.6" width="2.8" height="3.3" fill="#f96144"/><rect x="34.1" y="33.6" width="2.8" height="3.3" fill="#bf151a"/><rect x="36.7" y="33.6" width="2.8" height="3.3" fill="#f24834"/><rect x="39.3" y="33.6" width="2.8" height="3.3" fill="#fca082"/><rect x="41.9" y="33.6" width="2.8" height="3.3" fill="#fb7757"/><rect x="44.5" y="33.6" width="2.8" height="3.3" fill="#ac1116"/><rect x="47.1" y="33.6" width="2.8" height="3.3" fill="#e32f27"/><rect x="49.6" y="33.6" width="2.8" height="3.3" fill="#db2723"/><rect x="52.2" y="33.6" width="2.8" height="3.3" fill="#ad1117"/><rect x="54.8" y="33.6" width="2.8" height="3.3" fill="#fdc5af"/><rect x="57.4" y="33.6" width="2.8" height="3.3" fill="#fcc3ac"/><rect x="60.0" y="33.6" width="2.8" height="3.3" fill="#fed7c7"/><rect x="62.6" y="33.6" width="2.8" height="3.3" fill="#fee9e0"/><rect x="65.2" y="33.6" width="2.8" height="3.3" fill="#fee1d4"/><rect x="67.8" y="33.6" width="2.8" height="3.3" fill="#fca183"/><rect x="70.3" y="33.6" width="2.8" height="3.3" fill="#fdd0bd"/><rect x="72.9" y="33.6" width="2.8" height="3.3" fill="#fdcbb7"/><rect x="75.5" y="33.6" width="2.8" height="3.3" fill="#ffeee6"/><rect x="78.1" y="33.6" width="2.8" height="3.3" fill="#fcbfa7"/><rect x="80.7" y="33.6" width="2.8" height="3.3" fill="#fcbfa6"/><rect x="83.3" y="33.6" width="2.8" height="3.3" fill="#fc8b6b"/><rect x="85.9" y="33.6" width="2.8" height="3.3" fill="#e83429"/><rect x="88.5" y="33.6" width="2.8" height="3.3" fill="#dd2924"/><rect x="91.0" y="33.6" width="2.8" height="3.3" fill="#fc8868"/><rect x="93.6" y="33.6" width="2.8" height="3.3" fill="#fc9677"/><rect x="96.2" y="33.6" width="2.8" height="3.3" fill="#fee5da"/><rect x="98.8" y="33.6" width="2.8" height="3.3" fill="#feddce"/><rect x="101.4" y="33.6" width="2.8" height="3.3" fill="#fee1d3"/><rect x="104.0" y="33.6" width="2.8" height="3.3" fill="#fed8c7"/><rect x="106.6" y="33.6" width="2.8" height="3.3" fill="#f44f39"/><rect x="109.2" y="33.6" width="2.8" height="3.3" fill="#fc8c6c"/><rect x="111.8" y="33.6" width="2.8" height="3.3" fill="#c0151b"/><rect x="114.3" y="33.6" width="2.8" height="3.3" fill="#f14331"/><rect x="116.9" y="33.6" width="2.8" height="3.3" fill="#6c010e"/><rect x="119.5" y="33.6" width="2.8" height="3.3" fill="#f24533"/><rect x="122.1" y="33.6" width="2.8" height="3.3" fill="#f75b40"/><rect x="124.7" y="33.6" width="2.8" height="3.3" fill="#a60f15"/><rect x="127.3" y="33.6" width="2.8" height="3.3" fill="#c8171c"/><rect x="129.9" y="33.6" width="2.8" height="3.3" fill="#f44e38"/><rect x="132.4" y="33.6" width="2.8" height="3.3" fill="#930b13"/><rect x="135.0" y="33.6" width="2.8" height="3.3" fill="#fb7252"/><rect x="137.6" y="33.6" width="2.8" height="3.3" fill="#fc9475"/><rect x="140.2" y="33.6" width="2.8" height="3.3" fill="#f6563d"/><rect x="142.8" y="33.6" width="2.8" height="3.3" fill="#fa6547"/><rect x="145.4" y="33.6" width="2.8" height="3.3" fill="#f85e42"/><rect x="148.0" y="33.6" width="2.8" height="3.3" fill="#e83429"/><rect x="150.6" y="33.6" width="2.8" height="3.3" fill="#f7593f"/><rect x="153.1" y="33.6" width="2.8" height="3.3" fill="#c5171c"/><rect x="29.0" y="36.7" width="2.8" height="3.3" fill="#fc9474"/><rect x="36.7" y="36.7" width="2.8" height="3.3" fill="#c0151b"/><rect x="39.3" y="36.7" width="2.8" height="3.3" fill="#67000d"/><rect x="41.9" y="36.7" width="2.8" height="3.3" fill="#d01c1f"/><rect x="44.5" y="36.7" width="2.8" height="3.3" fill="#b31218"/><rect x="47.1" y="36.7" width="2.8" height="3.3" fill="#940b13"/><rect x="49.6" y="36.7" width="2.8" height="3.3" fill="#d21f20"/><rect x="52.2" y="36.7" width="2.8" height="3.3" fill="#e22f27"/><rect x="54.8" y="36.7" width="2.8" height="3.3" fill="#fff3ed"/><rect x="57.4" y="36.7" width="2.8" height="3.3" fill="#fedac9"/><rect x="60.0" y="36.7" width="2.8" height="3.3" fill="#fcc0a8"/><rect x="62.6" y="36.7" width="2.8" height="3.3" fill="#fee0d1"/><rect x="65.2" y="36.7" width="2.8" height="3.3" fill="#fff5ef"/><rect x="67.8" y="36.7" width="2.8" height="3.3" fill="#fee8dd"/><rect x="70.3" y="36.7" width="2.8" height="3.3" fill="#fedbcc"/><rect x="72.9" y="36.7" width="2.8" height="3.3" fill="#fdd1be"/><rect x="75.5" y="36.7" width="2.8" height="3.3" fill="#fee2d4"/><rect x="78.1" y="36.7" width="2.8" height="3.3" fill="#fdceba"/><rect x="80.7" y="36.7" width="2.8" height="3.3" fill="#fee8de"/><rect x="83.3" y="36.7" width="2.8" height="3.3" fill="#fca183"/><rect x="85.9" y="36.7" width="2.8" height="3.3" fill="#b91419"/><rect x="88.5" y="36.7" width="2.8" height="3.3" fill="#e22f27"/><rect x="91.0" y="36.7" width="2.8" height="3.3" fill="#f75c41"/><rect x="93.6" y="36.7" width="2.8" height="3.3" fill="#fb7858"/><rect x="96.2" y="36.7" width="2.8" height="3.3" fill="#fed7c6"/><rect x="98.8" y="36.7" width="2.8" height="3.3" fill="#fee7dc"/><rect x="101.4" y="36.7" width="2.8" height="3.3" fill="#fff0e8"/><rect x="104.0" y="36.7" width="2.8" height="3.3" fill="#fff1ea"/><rect x="106.6" y="36.7" width="2.8" height="3.3" fill="#fee6da"/><rect x="109.2" y="36.7" width="2.8" height="3.3" fill="#fdd4c2"/><rect x="111.8" y="36.7" width="2.8" height="3.3" fill="#fff4ee"/><rect x="114.3" y="36.7" width="2.8" height="3.3" fill="#fff3ed"/><rect x="116.9" y="36.7" width="2.8" height="3.3" fill="#ffebe2"/><rect x="119.5" y="36.7" width="2.8" height="3.3" fill="#fff5f0"/><rect x="122.1" y="36.7" width="2.8" height="3.3" fill="#fee3d6"/><rect x="124.7" y="36.7" width="2.8" height="3.3" fill="#fedecf"/><rect x="127.3" y="36.7" width="2.8" height="3.3" fill="#fc9e80"/><rect x="129.9" y="36.7" width="2.8" height="3.3" fill="#fcac90"/><rect x="132.4" y="36.7" width="2.8" height="3.3" fill="#fee0d2"/><rect x="135.0" y="36.7" width="2.8" height="3.3" fill="#fb7d5d"/><rect x="137.6" y="36.7" width="2.8" height="3.3" fill="#fb7454"/><rect x="140.2" y="36.7" width="2.8" height="3.3" fill="#fca082"/><rect x="142.8" y="36.7" width="2.8" height="3.3" fill="#e53128"/><rect x="145.4" y="36.7" width="2.8" height="3.3" fill="#f96144"/><rect x="148.0" y="36.7" width="2.8" height="3.3" fill="#fc8363"/><rect x="150.6" y="36.7" width="2.8" height="3.3" fill="#fb6f4f"/><rect x="153.1" y="36.7" width="2.8" height="3.3" fill="#fa6446"/><rect x="52.2" y="39.8" width="2.8" height="3.3" fill="#f24734"/><rect x="54.8" y="39.8" width="2.8" height="3.3" fill="#fed9c9"/><rect x="57.4" y="39.8" width="2.8" height="3.3" fill="#fcb49a"/><rect x="60.0" y="39.8" width="2.8" height="3.3" fill="#fcb89e"/><rect x="62.6" y="39.8" width="2.8" height="3.3" fill="#ffebe2"/><rect x="65.2" y="39.8" width="2.8" height="3.3" fill="#fff5f0"/><rect x="67.8" y="39.8" width="2.8" height="3.3" fill="#fdd5c3"/><rect x="70.3" y="39.8" width="2.8" height="3.3" fill="#fee8dd"/><rect x="72.9" y="39.8" width="2.8" height="3.3" fill="#fee7dd"/><rect x="75.5" y="39.8" width="2.8" height="3.3" fill="#fee7dc"/><rect x="78.1" y="39.8" width="2.8" height="3.3" fill="#fee1d3"/><rect x="80.7" y="39.8" width="2.8" height="3.3" fill="#fedfd0"/><rect x="83.3" y="39.8" width="2.8" height="3.3" fill="#fed7c6"/><rect x="85.9" y="39.8" width="2.8" height="3.3" fill="#a30f15"/><rect x="88.5" y="39.8" width="2.8" height="3.3" fill="#bc141a"/><rect x="91.0" y="39.8" width="2.8" height="3.3" fill="#f6553d"/><rect x="93.6" y="39.8" width="2.8" height="3.3" fill="#fcbba1"/><rect x="96.2" y="39.8" width="2.8" height="3.3" fill="#fdd5c3"/><rect x="98.8" y="39.8" width="2.8" height="3.3" fill="#fc9576"/><rect x="101.4" y="39.8" width="2.8" height="3.3" fill="#fff4ef"/><rect x="104.0" y="39.8" width="2.8" height="3.3" fill="#fed9c8"/><rect x="106.6" y="39.8" width="2.8" height="3.3" fill="#ffede4"/><rect x="109.2" y="39.8" width="2.8" height="3.3" fill="#fee9df"/><rect x="111.8" y="39.8" width="2.8" height="3.3" fill="#fff4ef"/><rect x="114.3" y="39.8" width="2.8" height="3.3" fill="#fff5f0"/><rect x="116.9" y="39.8" width="2.8" height="3.3" fill="#fff1eb"/><rect x="119.5" y="39.8" width="2.8" height="3.3" fill="#fff5f0"/><rect x="122.1" y="39.8" width="2.8" height="3.3" fill="#fcc3ac"/><rect x="124.7" y="39.8" width="2.8" height="3.3" fill="#fff0e9"/><rect x="127.3" y="39.8" width="2.8" height="3.3" fill="#fee0d2"/><rect x="129.9" y="39.8" width="2.8" height="3.3" fill="#f5523b"/><rect x="132.4" y="39.8" width="2.8" height="3.3" fill="#fc8767"/><rect x="135.0" y="39.8" width="2.8" height="3.3" fill="#fb7757"/><rect x="137.6" y="39.8" width="2.8" height="3.3" fill="#cb181d"/><rect x="140.2" y="39.8" width="2.8" height="3.3" fill="#fc9272"/><rect x="142.8" y="39.8" width="2.8" height="3.3" fill="#fc9676"/><rect x="145.4" y="39.8" width="2.8" height="3.3" fill="#f96345"/><rect x="148.0" y="39.8" width="2.8" height="3.3" fill="#f6583f"/><rect x="150.6" y="39.8" width="2.8" height="3.3" fill="#fa6647"/><rect x="52.2" y="42.9" width="2.8" height="3.3" fill="#fcb99f"/><rect x="54.8" y="42.9" width="2.8" height="3.3" fill="#fee5da"/><rect x="57.4" y="42.9" width="2.8" height="3.3" fill="#fc9f81"/><rect x="60.0" y="42.9" width="2.8" height="3.3" fill="#fdcdb8"/><rect x="62.6" y="42.9" width="2.8" height="3.3" fill="#fdceba"/><rect x="65.2" y="42.9" width="2.8" height="3.3" fill="#fcaf93"/><rect x="67.8" y="42.9" width="2.8" height="3.3" fill="#fff5f0"/><rect x="70.3" y="42.9" width="2.8" height="3.3" fill="#fee9df"/><rect x="72.9" y="42.9" width="2.8" height="3.3" fill="#fcb79c"/><rect x="75.5" y="42.9" width="2.8" height="3.3" fill="#fcb99f"/><rect x="78.1" y="42.9" width="2.8" height="3.3" fill="#fcb499"/><rect x="80.7" y="42.9" width="2.8" height="3.3" fill="#fcb094"/><rect x="83.3" y="42.9" width="2.8" height="3.3" fill="#fc7e5e"/><rect x="85.9" y="42.9" width="2.8" height="3.3" fill="#f96346"/><rect x="88.5" y="42.9" width="2.8" height="3.3" fill="#fc9c7e"/><rect x="91.0" y="42.9" width="2.8" height="3.3" fill="#fdcab5"/><rect x="93.6" y="42.9" width="2.8" height="3.3" fill="#fcc2ab"/><rect x="96.2" y="42.9" width="2.8" height="3.3" fill="#fdcab5"/><rect x="98.8" y="42.9" width="2.8" height="3.3" fill="#fedaca"/><rect x="101.4" y="42.9" width="2.8" height="3.3" fill="#fff5f0"/><rect x="104.0" y="42.9" width="2.8" height="3.3" fill="#ffede5"/><rect x="106.6" y="42.9" width="2.8" height="3.3" fill="#fee1d4"/><rect x="109.2" y="42.9" width="2.8" height="3.3" fill="#fdd1be"/><rect x="111.8" y="42.9" width="2.8" height="3.3" fill="#fee2d5"/><rect x="114.3" y="42.9" width="2.8" height="3.3" fill="#fff4ef"/><rect x="116.9" y="42.9" width="2.8" height="3.3" fill="#fedaca"/><rect x="119.5" y="42.9" width="2.8" height="3.3" fill="#fcb89e"/><rect x="122.1" y="42.9" width="2.8" height="3.3" fill="#fdd7c6"/><rect x="124.7" y="42.9" width="2.8" height="3.3" fill="#fcb499"/><rect x="127.3" y="42.9" width="2.8" height="3.3" fill="#fca386"/><rect x="129.9" y="42.9" width="2.8" height="3.3" fill="#fb7b5b"/><rect x="132.4" y="42.9" width="2.8" height="3.3" fill="#fca487"/><rect x="135.0" y="42.9" width="2.8" height="3.3" fill="#fdc5ae"/><rect x="137.6" y="42.9" width="2.8" height="3.3" fill="#fc9171"/><rect x="140.2" y="42.9" width="2.8" height="3.3" fill="#fcaa8d"/><rect x="142.8" y="42.9" width="2.8" height="3.3" fill="#fcc0a7"/><rect x="145.4" y="42.9" width="2.8" height="3.3" fill="#fc9677"/><rect x="49.6" y="46.0" width="2.8" height="3.3" fill="#fca285"/><rect x="52.2" y="46.0" width="2.8" height="3.3" fill="#fedccd"/><rect x="54.8" y="46.0" width="2.8" height="3.3" fill="#fedfd1"/><rect x="57.4" y="46.0" width="2.8" height="3.3" fill="#fcab8f"/><rect x="60.0" y="46.0" width="2.8" height="3.3" fill="#fedccc"/><rect x="62.6" y="46.0" width="2.8" height="3.3" fill="#fcb99f"/><rect x="65.2" y="46.0" width="2.8" height="3.3" fill="#fcbaa0"/><rect x="67.8" y="46.0" width="2.8" height="3.3" fill="#fee3d6"/><rect x="70.3" y="46.0" width="2.8" height="3.3" fill="#feddce"/><rect x="72.9" y="46.0" width="2.8" height="3.3" fill="#fee6db"/><rect x="75.5" y="46.0" width="2.8" height="3.3" fill="#fcbda4"/><rect x="78.1" y="46.0" width="2.8" height="3.3" fill="#fee6da"/><rect x="80.7" y="46.0" width="2.8" height="3.3" fill="#fed8c8"/><rect x="83.3" y="46.0" width="2.8" height="3.3" fill="#fcad92"/><rect x="85.9" y="46.0" width="2.8" height="3.3" fill="#fdd4c2"/><rect x="88.5" y="46.0" width="2.8" height="3.3" fill="#f24834"/><rect x="91.0" y="46.0" width="2.8" height="3.3" fill="#fb6a4a"/><rect x="93.6" y="46.0" width="2.8" height="3.3" fill="#fca184"/><rect x="96.2" y="46.0" width="2.8" height="3.3" fill="#fedaca"/><rect x="98.8" y="46.0" width="2.8" height="3.3" fill="#fdd7c6"/><rect x="101.4" y="46.0" width="2.8" height="3.3" fill="#feded0"/><rect x="104.0" y="46.0" width="2.8" height="3.3" fill="#fee7db"/><rect x="106.6" y="46.0" width="2.8" height="3.3" fill="#fcc1a9"/><rect x="109.2" y="46.0" width="2.8" height="3.3" fill="#ffebe1"/><rect x="111.8" y="46.0" width="2.8" height="3.3" fill="#fdd0bd"/><rect x="114.3" y="46.0" width="2.8" height="3.3" fill="#fee6da"/><rect x="116.9" y="46.0" width="2.8" height="3.3" fill="#fee7dc"/><rect x="119.5" y="46.0" width="2.8" height="3.3" fill="#fca587"/><rect x="122.1" y="46.0" width="2.8" height="3.3" fill="#fc8363"/><rect x="124.7" y="46.0" width="2.8" height="3.3" fill="#fca284"/><rect x="127.3" y="46.0" width="2.8" height="3.3" fill="#fc8767"/><rect x="129.9" y="46.0" width="2.8" height="3.3" fill="#fb7e5e"/><rect x="132.4" y="46.0" width="2.8" height="3.3" fill="#fcab8f"/><rect x="135.0" y="46.0" width="2.8" height="3.3" fill="#fcc2aa"/><rect x="137.6" y="46.0" width="2.8" height="3.3" fill="#fc9374"/><rect x="49.6" y="49.2" width="2.8" height="3.3" fill="#fc9575"/><rect x="52.2" y="49.2" width="2.8" height="3.3" fill="#fca284"/><rect x="54.8" y="49.2" width="2.8" height="3.3" fill="#fcb196"/><rect x="57.4" y="49.2" width="2.8" height="3.3" fill="#fcbca2"/><rect x="60.0" y="49.2" width="2.8" height="3.3" fill="#fcb99e"/><rect x="62.6" y="49.2" width="2.8" height="3.3" fill="#fca689"/><rect x="65.2" y="49.2" width="2.8" height="3.3" fill="#fedacb"/><rect x="67.8" y="49.2" width="2.8" height="3.3" fill="#fdd5c4"/><rect x="70.3" y="49.2" width="2.8" height="3.3" fill="#fdc5ae"/><rect x="72.9" y="49.2" width="2.8" height="3.3" fill="#fee0d2"/><rect x="75.5" y="49.2" width="2.8" height="3.3" fill="#fc8262"/><rect x="78.1" y="49.2" width="2.8" height="3.3" fill="#fcac90"/><rect x="80.7" y="49.2" width="2.8" height="3.3" fill="#f75a40"/><rect x="83.3" y="49.2" width="2.8" height="3.3" fill="#d72422"/><rect x="85.9" y="49.2" width="2.8" height="3.3" fill="#f5523a"/><rect x="88.5" y="49.2" width="2.8" height="3.3" fill="#fc8161"/><rect x="91.0" y="49.2" width="2.8" height="3.3" fill="#fc8a6a"/><rect x="93.6" y="49.2" width="2.8" height="3.3" fill="#f24633"/><rect x="96.2" y="49.2" width="2.8" height="3.3" fill="#f6563d"/><rect x="98.8" y="49.2" width="2.8" height="3.3" fill="#f85e43"/><rect x="101.4" y="49.2" width="2.8" height="3.3" fill="#e83429"/><rect x="104.0" y="49.2" width="2.8" height="3.3" fill="#fa6748"/><rect x="106.6" y="49.2" width="2.8" height="3.3" fill="#fcc3ab"/><rect x="109.2" y="49.2" width="2.8" height="3.3" fill="#fc8e6e"/><rect x="111.8" y="49.2" width="2.8" height="3.3" fill="#f34935"/><rect x="114.3" y="49.2" width="2.8" height="3.3" fill="#fc8363"/><rect x="116.9" y="49.2" width="2.8" height="3.3" fill="#f44e38"/><rect x="119.5" y="49.2" width="2.8" height="3.3" fill="#fb7b5b"/><rect x="122.1" y="49.2" width="2.8" height="3.3" fill="#ad1117"/><rect x="124.7" y="49.2" width="2.8" height="3.3" fill="#d62221"/><rect x="127.3" y="49.2" width="2.8" height="3.3" fill="#fca486"/><rect x="129.9" y="49.2" width="2.8" height="3.3" fill="#fc8363"/><rect x="49.6" y="52.3" width="2.8" height="3.3" fill="#fc9e80"/><rect x="52.2" y="52.3" width="2.8" height="3.3" fill="#fc8e6e"/><rect x="54.8" y="52.3" width="2.8" height="3.3" fill="#fb6a4a"/><rect x="57.4" y="52.3" width="2.8" height="3.3" fill="#fc9171"/><rect x="60.0" y="52.3" width="2.8" height="3.3" fill="#fedccd"/><rect x="62.6" y="52.3" width="2.8" height="3.3" fill="#fcaf93"/><rect x="65.2" y="52.3" width="2.8" height="3.3" fill="#fb7a5a"/><rect x="67.8" y="52.3" width="2.8" height="3.3" fill="#fdcdb9"/><rect x="70.3" y="52.3" width="2.8" height="3.3" fill="#fcb297"/><rect x="72.9" y="52.3" width="2.8" height="3.3" fill="#ffeee6"/><rect x="75.5" y="52.3" width="2.8" height="3.3" fill="#fa6547"/><rect x="78.1" y="52.3" width="2.8" height="3.3" fill="#fcc4ad"/><rect x="80.7" y="52.3" width="2.8" height="3.3" fill="#e32f27"/><rect x="83.3" y="52.3" width="2.8" height="3.3" fill="#fb6c4c"/><rect x="85.9" y="52.3" width="2.8" height="3.3" fill="#d42121"/><rect x="88.5" y="52.3" width="2.8" height="3.3" fill="#fc7f5f"/><rect x="91.0" y="52.3" width="2.8" height="3.3" fill="#f85d42"/><rect x="93.6" y="52.3" width="2.8" height="3.3" fill="#fcbfa7"/><rect x="96.2" y="52.3" width="2.8" height="3.3" fill="#da2623"/><rect x="98.8" y="52.3" width="2.8" height="3.3" fill="#f86044"/><rect x="101.4" y="52.3" width="2.8" height="3.3" fill="#fc8969"/><rect x="104.0" y="52.3" width="2.8" height="3.3" fill="#e32f27"/><rect x="106.6" y="52.3" width="2.8" height="3.3" fill="#fcb094"/><rect x="109.2" y="52.3" width="2.8" height="3.3" fill="#fb6d4d"/><rect x="111.8" y="52.3" width="2.8" height="3.3" fill="#f85f43"/><rect x="114.3" y="52.3" width="2.8" height="3.3" fill="#fc8a6a"/><rect x="116.9" y="52.3" width="2.8" height="3.3" fill="#ed392b"/><rect x="119.5" y="52.3" width="2.8" height="3.3" fill="#e43027"/><rect x="122.1" y="52.3" width="2.8" height="3.3" fill="#f6563d"/><rect x="124.7" y="52.3" width="2.8" height="3.3" fill="#c7171c"/><rect x="127.3" y="52.3" width="2.8" height="3.3" fill="#fb7a5a"/><rect x="129.9" y="52.3" width="2.8" height="3.3" fill="#f85e42"/><rect x="49.6" y="55.4" width="2.8" height="3.3" fill="#e53128"/><rect x="52.2" y="55.4" width="2.8" height="3.3" fill="#dd2924"/><rect x="54.8" y="55.4" width="2.8" height="3.3" fill="#c0151b"/><rect x="57.4" y="55.4" width="2.8" height="3.3" fill="#ba1419"/><rect x="60.0" y="55.4" width="2.8" height="3.3" fill="#810610"/><rect x="62.6" y="55.4" width="2.8" height="3.3" fill="#67000d"/><rect x="65.2" y="55.4" width="2.8" height="3.3" fill="#ed392b"/><rect x="67.8" y="55.4" width="2.8" height="3.3" fill="#ec382b"/><rect x="70.3" y="55.4" width="2.8" height="3.3" fill="#e02c26"/><rect x="72.9" y="55.4" width="2.8" height="3.3" fill="#f5513a"/><rect x="75.5" y="55.4" width="2.8" height="3.3" fill="#fc8969"/><rect x="78.1" y="55.4" width="2.8" height="3.3" fill="#fcb499"/><rect x="80.7" y="55.4" width="2.8" height="3.3" fill="#fee4d8"/><rect x="83.3" y="55.4" width="2.8" height="3.3" fill="#fdd4c2"/><rect x="85.9" y="55.4" width="2.8" height="3.3" fill="#ffebe2"/><rect x="88.5" y="55.4" width="2.8" height="3.3" fill="#fee6db"/><rect x="91.0" y="55.4" width="2.8" height="3.3" fill="#fb6f4f"/><rect x="93.6" y="55.4" width="2.8" height="3.3" fill="#fcb095"/><rect x="96.2" y="55.4" width="2.8" height="3.3" fill="#db2824"/><rect x="98.8" y="55.4" width="2.8" height="3.3" fill="#c0151b"/><rect x="101.4" y="55.4" width="2.8" height="3.3" fill="#e12d26"/><rect x="104.0" y="55.4" width="2.8" height="3.3" fill="#ad1117"/><rect x="106.6" y="55.4" width="2.8" height="3.3" fill="#f7583f"/><rect x="109.2" y="55.4" width="2.8" height="3.3" fill="#fc9373"/><rect x="111.8" y="55.4" width="2.8" height="3.3" fill="#850711"/><rect x="114.3" y="55.4" width="2.8" height="3.3" fill="#da2723"/><rect x="116.9" y="55.4" width="2.8" height="3.3" fill="#f6563d"/><rect x="119.5" y="55.4" width="2.8" height="3.3" fill="#fc7f5f"/><rect x="122.1" y="55.4" width="2.8" height="3.3" fill="#fcb89e"/><rect x="124.7" y="55.4" width="2.8" height="3.3" fill="#c9181d"/><rect x="49.6" y="58.5" width="2.8" height="3.3" fill="#fc8464"/><rect x="52.2" y="58.5" width="2.8" height="3.3" fill="#e93529"/><rect x="54.8" y="58.5" width="2.8" height="3.3" fill="#ca181d"/><rect x="57.4" y="58.5" width="2.8" height="3.3" fill="#e83429"/><rect x="60.0" y="58.5" width="2.8" height="3.3" fill="#75030f"/><rect x="62.6" y="58.5" width="2.8" height="3.3" fill="#79040f"/><rect x="65.2" y="58.5" width="2.8" height="3.3" fill="#d42121"/><rect x="67.8" y="58.5" width="2.8" height="3.3" fill="#cb181d"/><rect x="70.3" y="58.5" width="2.8" height="3.3" fill="#f85f43"/><rect x="72.9" y="58.5" width="2.8" height="3.3" fill="#fc8666"/><rect x="75.5" y="58.5" width="2.8" height="3.3" fill="#fdd0bd"/><rect x="78.1" y="58.5" width="2.8" height="3.3" fill="#fc9475"/><rect x="80.7" y="58.5" width="2.8" height="3.3" fill="#fdcfbc"/><rect x="83.3" y="58.5" width="2.8" height="3.3" fill="#fca689"/><rect x="85.9" y="58.5" width="2.8" height="3.3" fill="#feeae1"/><rect x="88.5" y="58.5" width="2.8" height="3.3" fill="#fcbea5"/><rect x="91.0" y="58.5" width="2.8" height="3.3" fill="#fcad91"/><rect x="93.6" y="58.5" width="2.8" height="3.3" fill="#fb7050"/><rect x="96.2" y="58.5" width="2.8" height="3.3" fill="#e22e27"/><rect x="98.8" y="58.5" width="2.8" height="3.3" fill="#bf151a"/><rect x="101.4" y="58.5" width="2.8" height="3.3" fill="#800610"/><rect x="104.0" y="58.5" width="2.8" height="3.3" fill="#c4161c"/><rect x="106.6" y="58.5" width="2.8" height="3.3" fill="#f04130"/><rect x="109.2" y="58.5" width="2.8" height="3.3" fill="#f75b40"/><rect x="111.8" y="58.5" width="2.8" height="3.3" fill="#db2724"/><rect x="114.3" y="58.5" width="2.8" height="3.3" fill="#f86043"/><rect x="116.9" y="58.5" width="2.8" height="3.3" fill="#fb7e5e"/><rect x="119.5" y="58.5" width="2.8" height="3.3" fill="#fc8464"/><rect x="122.1" y="58.5" width="2.8" height="3.3" fill="#fb7555"/><rect x="160.9" y="58.5" width="2.8" height="3.3" fill="#f14331"/><rect x="163.5" y="58.5" width="2.8" height="3.3" fill="#fa6748"/><rect x="49.6" y="61.7" width="2.8" height="3.3" fill="#fca98d"/><rect x="52.2" y="61.7" width="2.8" height="3.3" fill="#fca183"/><rect x="54.8" y="61.7" width="2.8" height="3.3" fill="#fcb499"/><rect x="57.4" y="61.7" width="2.8" height="3.3" fill="#fb6e4e"/><rect x="60.0" y="61.7" width="2.8" height="3.3" fill="#fca88b"/><rect x="62.6" y="61.7" width="2.8" height="3.3" fill="#fc8a6a"/><rect x="65.2" y="61.7" width="2.8" height="3.3" fill="#fee0d1"/><rect x="67.8" y="61.7" width="2.8" height="3.3" fill="#fcb195"/><rect x="70.3" y="61.7" width="2.8" height="3.3" fill="#fb7050"/><rect x="72.9" y="61.7" width="2.8" height="3.3" fill="#f96245"/><rect x="75.5" y="61.7" width="2.8" height="3.3" fill="#fcbea6"/><rect x="78.1" y="61.7" width="2.8" height="3.3" fill="#fcc1aa"/><rect x="80.7" y="61.7" width="2.8" height="3.3" fill="#fc997a"/><rect x="83.3" y="61.7" width="2.8" height="3.3" fill="#fca385"/><rect x="85.9" y="61.7" width="2.8" height="3.3" fill="#fcb095"/><rect x="88.5" y="61.7" width="2.8" height="3.3" fill="#fdd6c5"/><rect x="91.0" y="61.7" width="2.8" height="3.3" fill="#fee0d2"/><rect x="93.6" y="61.7" width="2.8" height="3.3" fill="#fdccb7"/><rect x="96.2" y="61.7" width="2.8" height="3.3" fill="#fdcfbb"/><rect x="98.8" y="61.7" width="2.8" height="3.3" fill="#fcc2ab"/><rect x="101.4" y="61.7" width="2.8" height="3.3" fill="#fed8c7"/><rect x="104.0" y="61.7" width="2.8" height="3.3" fill="#fcaf94"/><rect x="106.6" y="61.7" width="2.8" height="3.3" fill="#fb7d5d"/><rect x="109.2" y="61.7" width="2.8" height="3.3" fill="#e83429"/><rect x="111.8" y="61.7" width="2.8" height="3.3" fill="#f7593f"/><rect x="114.3" y="61.7" width="2.8" height="3.3" fill="#fc9070"/><rect x="116.9" y="61.7" width="2.8" height="3.3" fill="#ffebe2"/><rect x="119.5" y="61.7" width="2.8" height="3.3" fill="#ffede5"/><rect x="148.0" y="61.7" width="2.8" height="3.3" fill="#b91419"/><rect x="150.6" y="61.7" width="2.8" height="3.3" fill="#ae1117"/><rect x="153.1" y="61.7" width="2.8" height="3.3" fill="#fb7454"/><rect x="155.7" y="61.7" width="2.8" height="3.3" fill="#fc8e6e"/><rect x="160.9" y="61.7" width="2.8" height="3.3" fill="#fc8565"/><rect x="163.5" y="61.7" width="2.8" height="3.3" fill="#f44e38"/><rect x="44.5" y="64.8" width="2.8" height="3.3" fill="#fca78a"/><rect x="47.1" y="64.8" width="2.8" height="3.3" fill="#fc8464"/><rect x="49.6" y="64.8" width="2.8" height="3.3" fill="#fca386"/><rect x="52.2" y="64.8" width="2.8" height="3.3" fill="#fb7858"/><rect x="54.8" y="64.8" width="2.8" height="3.3" fill="#f6583f"/><rect x="57.4" y="64.8" width="2.8" height="3.3" fill="#fcbfa6"/><rect x="60.0" y="64.8" width="2.8" height="3.3" fill="#fc8c6c"/><rect x="62.6" y="64.8" width="2.8" height="3.3" fill="#f14331"/><rect x="65.2" y="64.8" width="2.8" height="3.3" fill="#fc8c6c"/><rect x="67.8" y="64.8" width="2.8" height="3.3" fill="#fc8464"/><rect x="70.3" y="64.8" width="2.8" height="3.3" fill="#fc9778"/><rect x="72.9" y="64.8" width="2.8" height="3.3" fill="#f6573e"/><rect x="75.5" y="64.8" width="2.8" height="3.3" fill="#fdc6b0"/><rect x="78.1" y="64.8" width="2.8" height="3.3" fill="#fdcfbb"/><rect x="80.7" y="64.8" width="2.8" height="3.3" fill="#fdceba"/><rect x="83.3" y="64.8" width="2.8" height="3.3" fill="#fdccb7"/><rect x="85.9" y="64.8" width="2.8" height="3.3" fill="#fdc9b4"/><rect x="88.5" y="64.8" width="2.8" height="3.3" fill="#fc9778"/><rect x="91.0" y="64.8" width="2.8" height="3.3" fill="#fcaf93"/><rect x="93.6" y="64.8" width="2.8" height="3.3" fill="#f24935"/><rect x="96.2" y="64.8" width="2.8" height="3.3" fill="#fee9df"/><rect x="98.8" y="64.8" width="2.8" height="3.3" fill="#fedbcc"/><rect x="101.4" y="64.8" width="2.8" height="3.3" fill="#fcb499"/><rect x="104.0" y="64.8" width="2.8" height="3.3" fill="#fc8363"/><rect x="106.6" y="64.8" width="2.8" height="3.3" fill="#fb7252"/><rect x="109.2" y="64.8" width="2.8" height="3.3" fill="#ee3a2b"/><rect x="111.8" y="64.8" width="2.8" height="3.3" fill="#f0402f"/><rect x="114.3" y="64.8" width="2.8" height="3.3" fill="#fc8b6b"/><rect x="116.9" y="64.8" width="2.8" height="3.3" fill="#fff5f0"/><rect x="145.4" y="64.8" width="2.8" height="3.3" fill="#f14432"/><rect x="148.0" y="64.8" width="2.8" height="3.3" fill="#f03f2e"/><rect x="150.6" y="64.8" width="2.8" height="3.3" fill="#d82523"/><rect x="153.1" y="64.8" width="2.8" height="3.3" fill="#fcbaa0"/><rect x="155.7" y="64.8" width="2.8" height="3.3" fill="#fc8a6a"/><rect x="44.5" y="67.9" width="2.8" height="3.3" fill="#fdc9b4"/><rect x="47.1" y="67.9" width="2.8" height="3.3" fill="#fcaa8d"/><rect x="49.6" y="67.9" width="2.8" height="3.3" fill="#fcc4ad"/><rect x="52.2" y="67.9" width="2.8" height="3.3" fill="#fedfd0"/><rect x="54.8" y="67.9" width="2.8" height="3.3" fill="#fb6c4c"/><rect x="57.4" y="67.9" width="2.8" height="3.3" fill="#fb7656"/><rect x="60.0" y="67.9" width="2.8" height="3.3" fill="#fcc0a8"/><rect x="62.6" y="67.9" width="2.8" height="3.3" fill="#fedccd"/><rect x="65.2" y="67.9" width="2.8" height="3.3" fill="#fcb195"/><rect x="67.8" y="67.9" width="2.8" height="3.3" fill="#fcad91"/><rect x="70.3" y="67.9" width="2.8" height="3.3" fill="#fdccb8"/><rect x="72.9" y="67.9" width="2.8" height="3.3" fill="#fcbea5"/><rect x="75.5" y="67.9" width="2.8" height="3.3" fill="#ffece3"/><rect x="78.1" y="67.9" width="2.8" height="3.3" fill="#fee0d2"/><rect x="80.7" y="67.9" width="2.8" height="3.3" fill="#fdceba"/><rect x="83.3" y="67.9" width="2.8" height="3.3" fill="#fcb99f"/><rect x="85.9" y="67.9" width="2.8" height="3.3" fill="#fca588"/><rect x="88.5" y="67.9" width="2.8" height="3.3" fill="#fca082"/><rect x="91.0" y="67.9" width="2.8" height="3.3" fill="#fdceba"/><rect x="93.6" y="67.9" width="2.8" height="3.3" fill="#fcb195"/><rect x="96.2" y="67.9" width="2.8" height="3.3" fill="#fcc1a9"/><rect x="98.8" y="67.9" width="2.8" height="3.3" fill="#fff1eb"/><rect x="101.4" y="67.9" width="2.8" height="3.3" fill="#fa6748"/><rect x="104.0" y="67.9" width="2.8" height="3.3" fill="#fcb195"/><rect x="106.6" y="67.9" width="2.8" height="3.3" fill="#fcc2ab"/><rect x="109.2" y="67.9" width="2.8" height="3.3" fill="#fdceba"/><rect x="111.8" y="67.9" width="2.8" height="3.3" fill="#67000d"/><rect x="114.3" y="67.9" width="2.8" height="3.3" fill="#d92623"/><rect x="116.9" y="67.9" width="2.8" height="3.3" fill="#a20e15"/><rect x="150.6" y="67.9" width="2.8" height="3.3" fill="#fc8161"/><rect x="153.1" y="67.9" width="2.8" height="3.3" fill="#fdc8b2"/><rect x="155.7" y="67.9" width="2.8" height="3.3" fill="#f5543c"/><rect x="47.1" y="71.0" width="2.8" height="3.3" fill="#fc8969"/><rect x="49.6" y="71.0" width="2.8" height="3.3" fill="#f75a40"/><rect x="52.2" y="71.0" width="2.8" height="3.3" fill="#fc9474"/><rect x="54.8" y="71.0" width="2.8" height="3.3" fill="#fa6547"/><rect x="57.4" y="71.0" width="2.8" height="3.3" fill="#f6563e"/><rect x="60.0" y="71.0" width="2.8" height="3.3" fill="#fee0d3"/><rect x="62.6" y="71.0" width="2.8" height="3.3" fill="#fcbaa0"/><rect x="65.2" y="71.0" width="2.8" height="3.3" fill="#fcae92"/><rect x="67.8" y="71.0" width="2.8" height="3.3" fill="#fc9c7e"/><rect x="70.3" y="71.0" width="2.8" height="3.3" fill="#fdcab5"/><rect x="72.9" y="71.0" width="2.8" height="3.3" fill="#fdcfbc"/><rect x="75.5" y="71.0" width="2.8" height="3.3" fill="#fdd2c0"/><rect x="78.1" y="71.0" width="2.8" height="3.3" fill="#fcb79c"/><rect x="80.7" y="71.0" width="2.8" height="3.3" fill="#fb7555"/><rect x="83.3" y="71.0" width="2.8" height="3.3" fill="#fcad91"/><rect x="85.9" y="71.0" width="2.8" height="3.3" fill="#fc8a6a"/><rect x="88.5" y="71.0" width="2.8" height="3.3" fill="#fca588"/><rect x="91.0" y="71.0" width="2.8" height="3.3" fill="#fdd3c1"/><rect x="93.6" y="71.0" width="2.8" height="3.3" fill="#fee2d5"/><rect x="96.2" y="71.0" width="2.8" height="3.3" fill="#fee5d9"/><rect x="98.8" y="71.0" width="2.8" height="3.3" fill="#fdd2bf"/><rect x="101.4" y="71.0" width="2.8" height="3.3" fill="#fed8c8"/><rect x="104.0" y="71.0" width="2.8" height="3.3" fill="#fdceba"/><rect x="106.6" y="71.0" width="2.8" height="3.3" fill="#ffefe8"/><rect x="109.2" y="71.0" width="2.8" height="3.3" fill="#fee0d2"/><rect x="111.8" y="71.0" width="2.8" height="3.3" fill="#7c0510"/><rect x="114.3" y="71.0" width="2.8" height="3.3" fill="#b91419"/><rect x="116.9" y="71.0" width="2.8" height="3.3" fill="#f85d42"/><rect x="119.5" y="71.0" width="2.8" height="3.3" fill="#820610"/><rect x="135.0" y="71.0" width="2.8" height="3.3" fill="#fb7454"/><rect x="137.6" y="71.0" width="2.8" height="3.3" fill="#fb7858"/><rect x="47.1" y="74.2" width="2.8" height="3.3" fill="#fcb99f"/><rect x="49.6" y="74.2" width="2.8" height="3.3" fill="#fee0d2"/><rect x="52.2" y="74.2" width="2.8" height="3.3" fill="#fca183"/><rect x="54.8" y="74.2" width="2.8" height="3.3" fill="#feeae0"/><rect x="57.4" y="74.2" width="2.8" height="3.3" fill="#fee4d8"/><rect x="60.0" y="74.2" width="2.8" height="3.3" fill="#fc9373"/><rect x="62.6" y="74.2" width="2.8" height="3.3" fill="#fee5d9"/><rect x="65.2" y="74.2" width="2.8" height="3.3" fill="#fdd4c2"/><rect x="67.8" y="74.2" width="2.8" height="3.3" fill="#fedecf"/><rect x="70.3" y="74.2" width="2.8" height="3.3" fill="#fcbba1"/><rect x="72.9" y="74.2" width="2.8" height="3.3" fill="#fc8c6c"/><rect x="75.5" y="74.2" width="2.8" height="3.3" fill="#fee1d3"/><rect x="78.1" y="74.2" width="2.8" height="3.3" fill="#fcbda4"/><rect x="80.7" y="74.2" width="2.8" height="3.3" fill="#fed7c6"/><rect x="83.3" y="74.2" width="2.8" height="3.3" fill="#fdcdb9"/><rect x="85.9" y="74.2" width="2.8" height="3.3" fill="#fee6da"/><rect x="88.5" y="74.2" width="2.8" height="3.3" fill="#ffebe2"/><rect x="91.0" y="74.2" width="2.8" height="3.3" fill="#fc8c6c"/><rect x="93.6" y="74.2" width="2.8" height="3.3" fill="#fc8767"/><rect x="96.2" y="74.2" width="2.8" height="3.3" fill="#fed9c9"/><rect x="98.8" y="74.2" width="2.8" height="3.3" fill="#fa6648"/><rect x="101.4" y="74.2" width="2.8" height="3.3" fill="#ffede4"/><rect x="104.0" y="74.2" width="2.8" height="3.3" fill="#fcb89e"/><rect x="106.6" y="74.2" width="2.8" height="3.3" fill="#fca385"/><rect x="109.2" y="74.2" width="2.8" height="3.3" fill="#f85d42"/><rect x="111.8" y="74.2" width="2.8" height="3.3" fill="#67000d"/><rect x="114.3" y="74.2" width="2.8" height="3.3" fill="#850711"/><rect x="116.9" y="74.2" width="2.8" height="3.3" fill="#f75c41"/><rect x="119.5" y="74.2" width="2.8" height="3.3" fill="#fa6547"/><rect x="122.1" y="74.2" width="2.8" height="3.3" fill="#fa6547"/><rect x="132.4" y="74.2" width="2.8" height="3.3" fill="#fcb398"/><rect x="135.0" y="74.2" width="2.8" height="3.3" fill="#fb6b4b"/><rect x="47.1" y="77.3" width="2.8" height="3.3" fill="#fc997b"/><rect x="49.6" y="77.3" width="2.8" height="3.3" fill="#fdc7b1"/><rect x="52.2" y="77.3" width="2.8" height="3.3" fill="#fee6db"/><rect x="54.8" y="77.3" width="2.8" height="3.3" fill="#fcc1a9"/><rect x="57.4" y="77.3" width="2.8" height="3.3" fill="#fdd7c5"/><rect x="60.0" y="77.3" width="2.8" height="3.3" fill="#fca98d"/><rect x="62.6" y="77.3" width="2.8" height="3.3" fill="#fcb499"/><rect x="65.2" y="77.3" width="2.8" height="3.3" fill="#ffefe8"/><rect x="67.8" y="77.3" width="2.8" height="3.3" fill="#fee2d4"/><rect x="70.3" y="77.3" width="2.8" height="3.3" fill="#fca386"/><rect x="72.9" y="77.3" width="2.8" height="3.3" fill="#fedbcc"/><rect x="75.5" y="77.3" width="2.8" height="3.3" fill="#fca78b"/><rect x="78.1" y="77.3" width="2.8" height="3.3" fill="#fcad90"/><rect x="80.7" y="77.3" width="2.8" height="3.3" fill="#fee1d3"/><rect x="83.3" y="77.3" width="2.8" height="3.3" fill="#ffece4"/><rect x="85.9" y="77.3" width="2.8" height="3.3" fill="#fc8262"/><rect x="88.5" y="77.3" width="2.8" height="3.3" fill="#fee7db"/><rect x="91.0" y="77.3" width="2.8" height="3.3" fill="#fc9f81"/><rect x="93.6" y="77.3" width="2.8" height="3.3" fill="#fc9879"/><rect x="96.2" y="77.3" width="2.8" height="3.3" fill="#fcb094"/><rect x="98.8" y="77.3" width="2.8" height="3.3" fill="#fc9b7c"/><rect x="101.4" y="77.3" width="2.8" height="3.3" fill="#fdd4c2"/><rect x="104.0" y="77.3" width="2.8" height="3.3" fill="#feddce"/><rect x="106.6" y="77.3" width="2.8" height="3.3" fill="#fc9878"/><rect x="109.2" y="77.3" width="2.8" height="3.3" fill="#fc9d7e"/><rect x="111.8" y="77.3" width="2.8" height="3.3" fill="#67000d"/><rect x="114.3" y="77.3" width="2.8" height="3.3" fill="#67000d"/><rect x="116.9" y="77.3" width="2.8" height="3.3" fill="#f34c37"/><rect x="119.5" y="77.3" width="2.8" height="3.3" fill="#fb6f4f"/><rect x="122.1" y="77.3" width="2.8" height="3.3" fill="#fc8464"/><rect x="135.0" y="77.3" width="2.8" height="3.3" fill="#fc8666"/><rect x="44.5" y="80.4" width="2.8" height="3.3" fill="#fcac8f"/><rect x="47.1" y="80.4" width="2.8" height="3.3" fill="#fca689"/><rect x="49.6" y="80.4" width="2.8" height="3.3" fill="#fcb69b"/><rect x="52.2" y="80.4" width="2.8" height="3.3" fill="#fcc2ab"/><rect x="54.8" y="80.4" width="2.8" height="3.3" fill="#fcaa8d"/><rect x="57.4" y="80.4" width="2.8" height="3.3" fill="#fdd3c1"/><rect x="60.0" y="80.4" width="2.8" height="3.3" fill="#fcb59a"/><rect x="62.6" y="80.4" width="2.8" height="3.3" fill="#fcb69b"/><rect x="65.2" y="80.4" width="2.8" height="3.3" fill="#fc9878"/><rect x="67.8" y="80.4" width="2.8" height="3.3" fill="#fdcab5"/><rect x="70.3" y="80.4" width="2.8" height="3.3" fill="#fb6e4e"/><rect x="72.9" y="80.4" width="2.8" height="3.3" fill="#fca284"/><rect x="75.5" y="80.4" width="2.8" height="3.3" fill="#fc8262"/><rect x="78.1" y="80.4" width="2.8" height="3.3" fill="#fcb69c"/><rect x="80.7" y="80.4" width="2.8" height="3.3" fill="#fc8c6c"/><rect x="83.3" y="80.4" width="2.8" height="3.3" fill="#f96245"/><rect x="85.9" y="80.4" width="2.8" height="3.3" fill="#fb6d4d"/><rect x="88.5" y="80.4" width="2.8" height="3.3" fill="#f85f43"/><rect x="91.0" y="80.4" width="2.8" height="3.3" fill="#b51318"/><rect x="93.6" y="80.4" width="2.8" height="3.3" fill="#f5533b"/><rect x="96.2" y="80.4" width="2.8" height="3.3" fill="#fc9879"/><rect x="98.8" y="80.4" width="2.8" height="3.3" fill="#fcc1a9"/><rect x="101.4" y="80.4" width="2.8" height="3.3" fill="#fa6547"/><rect x="104.0" y="80.4" width="2.8" height="3.3" fill="#fb7959"/><rect x="106.6" y="80.4" width="2.8" height="3.3" fill="#fcbba1"/><rect x="109.2" y="80.4" width="2.8" height="3.3" fill="#fc9a7b"/><rect x="111.8" y="80.4" width="2.8" height="3.3" fill="#fcb398"/><rect x="114.3" y="80.4" width="2.8" height="3.3" fill="#fc7f5f"/><rect x="116.9" y="80.4" width="2.8" height="3.3" fill="#fca98d"/><rect x="47.1" y="83.5" width="2.8" height="3.3" fill="#fc9070"/><rect x="49.6" y="83.5" width="2.8" height="3.3" fill="#fca88b"/><rect x="52.2" y="83.5" width="2.8" height="3.3" fill="#f24834"/><rect x="54.8" y="83.5" width="2.8" height="3.3" fill="#fcae92"/><rect x="57.4" y="83.5" width="2.8" height="3.3" fill="#fee3d7"/><rect x="60.0" y="83.5" width="2.8" height="3.3" fill="#fcb094"/><rect x="62.6" y="83.5" width="2.8" height="3.3" fill="#fdd6c5"/><rect x="65.2" y="83.5" width="2.8" height="3.3" fill="#fcaa8d"/><rect x="67.8" y="83.5" width="2.8" height="3.3" fill="#fcc1a9"/><rect x="70.3" y="83.5" width="2.8" height="3.3" fill="#fdd1be"/><rect x="72.9" y="83.5" width="2.8" height="3.3" fill="#fedbcb"/><rect x="75.5" y="83.5" width="2.8" height="3.3" fill="#fca98d"/><rect x="78.1" y="83.5" width="2.8" height="3.3" fill="#fdc5ae"/><rect x="80.7" y="83.5" width="2.8" height="3.3" fill="#fcba9f"/><rect x="83.3" y="83.5" width="2.8" height="3.3" fill="#fb7a5a"/><rect x="85.9" y="83.5" width="2.8" height="3.3" fill="#fb6a4a"/><rect x="88.5" y="83.5" width="2.8" height="3.3" fill="#fc8d6d"/><rect x="91.0" y="83.5" width="2.8" height="3.3" fill="#c3161b"/><rect x="93.6" y="83.5" width="2.8" height="3.3" fill="#e22e27"/><rect x="96.2" y="83.5" width="2.8" height="3.3" fill="#fdc7b1"/><rect x="98.8" y="83.5" width="2.8" height="3.3" fill="#fedaca"/><rect x="101.4" y="83.5" width="2.8" height="3.3" fill="#fca98c"/><rect x="104.0" y="83.5" width="2.8" height="3.3" fill="#fb7858"/><rect x="106.6" y="83.5" width="2.8" height="3.3" fill="#fcac8f"/><rect x="109.2" y="83.5" width="2.8" height="3.3" fill="#fdcbb6"/><rect x="111.8" y="83.5" width="2.8" height="3.3" fill="#fa6849"/><rect x="114.3" y="83.5" width="2.8" height="3.3" fill="#fca689"/><rect x="44.5" y="86.6" width="2.8" height="3.3" fill="#fcbea6"/><rect x="47.1" y="86.6" width="2.8" height="3.3" fill="#fb7555"/><rect x="49.6" y="86.6" width="2.8" height="3.3" fill="#fca78b"/><rect x="52.2" y="86.6" width="2.8" height="3.3" fill="#fca285"/><rect x="54.8" y="86.6" width="2.8" height="3.3" fill="#fcb79c"/><rect x="57.4" y="86.6" width="2.8" height="3.3" fill="#fdd3c0"/><rect x="60.0" y="86.6" width="2.8" height="3.3" fill="#fc8a6a"/><rect x="62.6" y="86.6" width="2.8" height="3.3" fill="#f85d42"/><rect x="65.2" y="86.6" width="2.8" height="3.3" fill="#f7593f"/><rect x="67.8" y="86.6" width="2.8" height="3.3" fill="#fb7151"/><rect x="70.3" y="86.6" width="2.8" height="3.3" fill="#fb7454"/><rect x="72.9" y="86.6" width="2.8" height="3.3" fill="#f5533b"/><rect x="75.5" y="86.6" width="2.8" height="3.3" fill="#fb7151"/><rect x="78.1" y="86.6" width="2.8" height="3.3" fill="#e22f27"/><rect x="80.7" y="86.6" width="2.8" height="3.3" fill="#fa6446"/><rect x="83.3" y="86.6" width="2.8" height="3.3" fill="#f96446"/><rect x="85.9" y="86.6" width="2.8" height="3.3" fill="#fca689"/><rect x="88.5" y="86.6" width="2.8" height="3.3" fill="#fb7252"/><rect x="91.0" y="86.6" width="2.8" height="3.3" fill="#fa6648"/><rect x="93.6" y="86.6" width="2.8" height="3.3" fill="#f96446"/><rect x="96.2" y="86.6" width="2.8" height="3.3" fill="#fdd2bf"/><rect x="98.8" y="86.6" width="2.8" height="3.3" fill="#fdc4ad"/><rect x="101.4" y="86.6" width="2.8" height="3.3" fill="#fee5da"/><rect x="104.0" y="86.6" width="2.8" height="3.3" fill="#fee0d2"/><rect x="106.6" y="86.6" width="2.8" height="3.3" fill="#fc8e6e"/><rect x="109.2" y="86.6" width="2.8" height="3.3" fill="#fc8565"/><rect x="111.8" y="86.6" width="2.8" height="3.3" fill="#f14331"/><rect x="114.3" y="86.6" width="2.8" height="3.3" fill="#fca98c"/><rect x="44.5" y="89.8" width="2.8" height="3.3" fill="#fc9879"/><rect x="47.1" y="89.8" width="2.8" height="3.3" fill="#fcb398"/><rect x="49.6" y="89.8" width="2.8" height="3.3" fill="#fcab8e"/><rect x="52.2" y="89.8" width="2.8" height="3.3" fill="#fca284"/><rect x="54.8" y="89.8" width="2.8" height="3.3" fill="#fcc3ab"/><rect x="57.4" y="89.8" width="2.8" height="3.3" fill="#fedaca"/><rect x="60.0" y="89.8" width="2.8" height="3.3" fill="#fcac90"/><rect x="62.6" y="89.8" width="2.8" height="3.3" fill="#f96245"/><rect x="65.2" y="89.8" width="2.8" height="3.3" fill="#fb7a5a"/><rect x="67.8" y="89.8" width="2.8" height="3.3" fill="#fc9d7f"/><rect x="70.3" y="89.8" width="2.8" height="3.3" fill="#c0151b"/><rect x="72.9" y="89.8" width="2.8" height="3.3" fill="#f5523b"/><rect x="75.5" y="89.8" width="2.8" height="3.3" fill="#fc9677"/><rect x="78.1" y="89.8" width="2.8" height="3.3" fill="#fcad91"/><rect x="80.7" y="89.8" width="2.8" height="3.3" fill="#f03f2e"/><rect x="83.3" y="89.8" width="2.8" height="3.3" fill="#f24835"/><rect x="85.9" y="89.8" width="2.8" height="3.3" fill="#fcba9f"/><rect x="88.5" y="89.8" width="2.8" height="3.3" fill="#fc9272"/><rect x="91.0" y="89.8" width="2.8" height="3.3" fill="#bd151a"/><rect x="93.6" y="89.8" width="2.8" height="3.3" fill="#f85f43"/><rect x="96.2" y="89.8" width="2.8" height="3.3" fill="#fcbfa7"/><rect x="98.8" y="89.8" width="2.8" height="3.3" fill="#fca385"/><rect x="101.4" y="89.8" width="2.8" height="3.3" fill="#fcc3ab"/><rect x="104.0" y="89.8" width="2.8" height="3.3" fill="#fcbaa0"/><rect x="106.6" y="89.8" width="2.8" height="3.3" fill="#fb7151"/><rect x="109.2" y="89.8" width="2.8" height="3.3" fill="#fb7757"/><rect x="111.8" y="89.8" width="2.8" height="3.3" fill="#fc9778"/><rect x="114.3" y="89.8" width="2.8" height="3.3" fill="#ef3c2c"/><rect x="44.5" y="92.9" width="2.8" height="3.3" fill="#fcaf93"/><rect x="47.1" y="92.9" width="2.8" height="3.3" fill="#e93529"/><rect x="49.6" y="92.9" width="2.8" height="3.3" fill="#fc8e6e"/><rect x="52.2" y="92.9" width="2.8" height="3.3" fill="#fc9b7c"/><rect x="54.8" y="92.9" width="2.8" height="3.3" fill="#fcaf94"/><rect x="57.4" y="92.9" width="2.8" height="3.3" fill="#fb7757"/><rect x="60.0" y="92.9" width="2.8" height="3.3" fill="#d32020"/><rect x="62.6" y="92.9" width="2.8" height="3.3" fill="#cc191e"/><rect x="65.2" y="92.9" width="2.8" height="3.3" fill="#fc8d6d"/><rect x="67.8" y="92.9" width="2.8" height="3.3" fill="#e12d26"/><rect x="70.3" y="92.9" width="2.8" height="3.3" fill="#fa6748"/><rect x="72.9" y="92.9" width="2.8" height="3.3" fill="#fc9171"/><rect x="75.5" y="92.9" width="2.8" height="3.3" fill="#fdc8b2"/><rect x="78.1" y="92.9" width="2.8" height="3.3" fill="#fcb79c"/><rect x="80.7" y="92.9" width="2.8" height="3.3" fill="#d42121"/><rect x="83.3" y="92.9" width="2.8" height="3.3" fill="#f03e2e"/><rect x="85.9" y="92.9" width="2.8" height="3.3" fill="#fc8666"/><rect x="88.5" y="92.9" width="2.8" height="3.3" fill="#fc8363"/><rect x="91.0" y="92.9" width="2.8" height="3.3" fill="#fb6e4e"/><rect x="93.6" y="92.9" width="2.8" height="3.3" fill="#fcbca3"/><rect x="96.2" y="92.9" width="2.8" height="3.3" fill="#fee4d8"/><rect x="98.8" y="92.9" width="2.8" height="3.3" fill="#fcaf93"/><rect x="101.4" y="92.9" width="2.8" height="3.3" fill="#ffede5"/><rect x="104.0" y="92.9" width="2.8" height="3.3" fill="#fff1ea"/><rect x="106.6" y="92.9" width="2.8" height="3.3" fill="#fee6db"/><rect x="44.5" y="96.0" width="2.8" height="3.3" fill="#fb7757"/><rect x="47.1" y="96.0" width="2.8" height="3.3" fill="#f03e2e"/><rect x="49.6" y="96.0" width="2.8" height="3.3" fill="#fb7454"/><rect x="52.2" y="96.0" width="2.8" height="3.3" fill="#fcbea6"/><rect x="54.8" y="96.0" width="2.8" height="3.3" fill="#fcac8f"/><rect x="57.4" y="96.0" width="2.8" height="3.3" fill="#f44e38"/><rect x="60.0" y="96.0" width="2.8" height="3.3" fill="#e22e26"/><rect x="62.6" y="96.0" width="2.8" height="3.3" fill="#fb7252"/><rect x="65.2" y="96.0" width="2.8" height="3.3" fill="#fb7858"/><rect x="67.8" y="96.0" width="2.8" height="3.3" fill="#f6553d"/><rect x="70.3" y="96.0" width="2.8" height="3.3" fill="#f6563d"/><rect x="72.9" y="96.0" width="2.8" height="3.3" fill="#fb7050"/><rect x="75.5" y="96.0" width="2.8" height="3.3" fill="#fc8c6c"/><rect x="78.1" y="96.0" width="2.8" height="3.3" fill="#ed392b"/><rect x="80.7" y="96.0" width="2.8" height="3.3" fill="#c6171c"/><rect x="83.3" y="96.0" width="2.8" height="3.3" fill="#d32020"/><rect x="85.9" y="96.0" width="2.8" height="3.3" fill="#fb694a"/><rect x="88.5" y="96.0" width="2.8" height="3.3" fill="#fcb296"/><rect x="91.0" y="96.0" width="2.8" height="3.3" fill="#e53228"/><rect x="93.6" y="96.0" width="2.8" height="3.3" fill="#fcb89e"/><rect x="96.2" y="96.0" width="2.8" height="3.3" fill="#fdcfbb"/><rect x="98.8" y="96.0" width="2.8" height="3.3" fill="#fcb69c"/><rect x="101.4" y="96.0" width="2.8" height="3.3" fill="#ffefe8"/><rect x="54.8" y="99.1" width="2.8" height="3.3" fill="#fb6a4a"/><rect x="57.4" y="99.1" width="2.8" height="3.3" fill="#f96446"/><rect x="60.0" y="99.1" width="2.8" height="3.3" fill="#ea362a"/><rect x="62.6" y="99.1" width="2.8" height="3.3" fill="#f03d2d"/><rect x="65.2" y="99.1" width="2.8" height="3.3" fill="#950b13"/><rect x="67.8" y="99.1" width="2.8" height="3.3" fill="#fa6547"/><rect x="70.3" y="99.1" width="2.8" height="3.3" fill="#fb6e4e"/><rect x="72.9" y="99.1" width="2.8" height="3.3" fill="#fc8565"/><rect x="75.5" y="99.1" width="2.8" height="3.3" fill="#fcc2aa"/><rect x="78.1" y="99.1" width="2.8" height="3.3" fill="#fdcdb9"/><rect x="80.7" y="99.1" width="2.8" height="3.3" fill="#fcae92"/><rect x="83.3" y="99.1" width="2.8" height="3.3" fill="#fcbca3"/><rect x="85.9" y="99.1" width="2.8" height="3.3" fill="#fdc6af"/><rect x="88.5" y="99.1" width="2.8" height="3.3" fill="#fcc3ac"/><rect x="91.0" y="99.1" width="2.8" height="3.3" fill="#fcb79c"/><rect x="93.6" y="99.1" width="2.8" height="3.3" fill="#fcbea5"/><rect x="96.2" y="99.1" width="2.8" height="3.3" fill="#fed7c6"/><rect x="98.8" y="99.1" width="2.8" height="3.3" fill="#fff0e8"/><rect x="101.4" y="99.1" width="2.8" height="3.3" fill="#ffebe1"/><rect x="54.8" y="102.3" width="2.8" height="3.3" fill="#fcaa8e"/><rect x="57.4" y="102.3" width="2.8" height="3.3" fill="#fc8464"/><rect x="60.0" y="102.3" width="2.8" height="3.3" fill="#fb7353"/><rect x="62.6" y="102.3" width="2.8" height="3.3" fill="#fb7b5b"/><rect x="65.2" y="102.3" width="2.8" height="3.3" fill="#df2b25"/><rect x="67.8" y="102.3" width="2.8" height="3.3" fill="#d72322"/><rect x="70.3" y="102.3" width="2.8" height="3.3" fill="#fca588"/><rect x="72.9" y="102.3" width="2.8" height="3.3" fill="#fb6d4d"/><rect x="75.5" y="102.3" width="2.8" height="3.3" fill="#fcab8e"/><rect x="85.9" y="102.3" width="2.8" height="3.3" fill="#fca386"/><rect x="57.4" y="105.4" width="2.8" height="3.3" fill="#f96446"/><rect x="60.0" y="105.4" width="2.8" height="3.3" fill="#f75c41"/><rect x="62.6" y="105.4" width="2.8" height="3.3" fill="#f96245"/><rect x="65.2" y="105.4" width="2.8" height="3.3" fill="#f96144"/><rect x="67.8" y="105.4" width="2.8" height="3.3" fill="#f34c37"/><rect x="70.3" y="105.4" width="2.8" height="3.3" fill="#fcaf94"/><rect x="60.0" y="108.5" width="2.8" height="3.3" fill="#fcc4ac"/><rect x="62.6" y="108.5" width="2.8" height="3.3" fill="#fcb296"/><rect x="65.2" y="108.5" width="2.8" height="3.3" fill="#fc8464"/></g>
<path d="M49.1 17.3 L51.2 21.7 L50.2 25.4 L51.7 30.4 L49.6 32.9 L52.2 36.1 L53.8 37.3 M51.2 22.3 L57.9 24.8 L65.2 23.6 L70.3 22.9 L75.0 21.7 L75.5 19.2 M75.0 21.7 L77.6 24.2 L80.7 26.1 L82.8 26.7 L84.8 24.2 L87.9 22.9 L89.5 19.8 M87.9 22.9 L90.0 25.4 L92.1 27.9 L96.2 29.2 L101.4 27.9 L104.0 20.4 M90.0 25.4 L90.0 29.2 L93.1 35.4 L99.3 36.7 L103.5 37.3 L104.5 34.2 L101.4 31.1 L96.2 29.2 M114.3 24.8 L110.7 30.4 L107.6 35.4 L103.5 37.3 M103.5 37.3 L101.4 42.9 L102.4 46.7 M129.3 26.1 L128.3 32.9 L126.2 39.2 L125.7 42.9 L124.2 49.2 L124.7 52.9 L127.3 55.4 M124.7 52.9 L120.0 52.9 L115.9 56.7 L113.8 61.7 L110.7 61.7 M110.7 61.7 L104.5 54.2 L102.4 46.7 M74.5 57.9 L78.6 54.2 L81.7 50.4 L86.9 47.3 L90.0 49.2 M74.5 57.9 L76.6 59.2 L82.8 61.7 L90.0 61.7 L90.0 55.4 L90.0 49.2 M90.0 49.2 L95.2 46.7 L102.4 46.7 M50.7 58.5 L57.9 56.7 L64.1 59.2 L70.3 60.4 L74.5 57.9 M70.3 60.4 L67.2 67.9 L70.3 71.7 L68.3 76.6 L69.3 77.9 M48.6 86.6 L53.8 86.6 L60.0 86.6 L64.1 84.1 L67.2 79.8 L69.3 77.9 M69.3 77.9 L73.5 79.1 L78.6 81.6 L85.9 81.0 L93.1 81.6 L97.3 84.1 M97.3 84.1 L99.3 87.9 L101.4 91.6 L104.5 94.1 M97.3 84.1 L103.5 79.1 L106.6 80.4 L110.7 79.8 M110.7 79.8 L111.8 82.9 L112.8 86.6 L114.3 88.5 M110.7 79.8 L111.8 75.4 L108.6 70.4 L106.6 66.7 L108.6 62.9 L110.7 61.7" fill="none" stroke="#5a5a5a" stroke-width="0.45" stroke-opacity="0.9"/>
<path d="M30.3 38.3 L30.2 36.1 L30.8 35.2 L31.8 33.9 L30.2 33.6 L32.1 31.9 L30.0 31.1 L30.8 29.8 L29.5 29.4 L28.4 29.4 L28.6 27.9 L27.7 26.9 L26.2 25.4 L26.7 24.2 L25.8 23.2 L27.1 22.1 L29.5 20.8 L32.1 20.2 L34.6 19.4 L36.2 19.2 L36.7 17.9 L38.3 16.1 L40.5 14.7 L42.6 14.3 L44.0 15.2 L46.5 16.4 L49.1 17.2 L52.8 17.1 L56.9 17.1 L60.0 16.9 L61.6 16.1 L63.1 17.2 L66.2 17.3 L69.3 18.2 L72.9 18.9 L75.5 19.2 L78.6 19.2 L81.7 18.3 L83.3 18.3 L86.4 18.6 L89.0 19.4 L91.0 19.4 L93.1 18.8 L96.2 19.4 L99.3 20.4 L101.9 20.2 L103.7 19.4 L105.5 20.7 L107.6 20.8 L107.8 23.6 L109.7 23.2 L112.3 24.2 L114.3 24.8 L116.4 26.7 L119.0 26.2 L122.1 28.1 L125.2 28.2 L128.8 26.1 L129.9 26.4 L130.9 27.7 L133.5 27.7 L137.1 29.2 L139.9 30.4 L142.3 31.1 L143.8 31.7 L148.0 32.3 L150.6 31.4 L153.7 31.1 L154.9 31.3 L156.5 32.7 L154.7 33.6 L155.0 35.2 L155.2 37.3 L153.7 39.2 L151.1 40.9 L148.0 42.3 L144.9 44.2 L141.8 46.0 L138.1 46.9 L134.5 47.9 L131.9 48.9 L130.9 51.0 L131.2 52.9 L129.3 53.5 L127.8 54.8 L126.2 57.3 L123.7 60.4 L121.6 62.3 L120.0 64.8 L118.8 67.9 L119.0 69.8 L119.8 72.3 L120.5 74.4 L122.6 75.6 L124.2 76.9 L123.1 78.1 L121.6 79.1 L119.5 80.4 L117.4 81.9 L116.4 83.9 L115.4 86.0 L114.6 88.5 L114.9 91.0 L112.8 91.9 L109.7 92.3 L107.1 93.5 L105.0 94.8 L103.5 96.6 L102.2 99.1 L100.9 101.6 L99.3 102.6 L97.3 101.4 L94.7 102.6 L91.0 102.4 L86.9 102.9 L82.8 102.4 L78.6 102.6 L76.0 103.1 L73.5 105.4 L70.3 106.0 L67.8 107.9 L66.7 109.7 L65.7 111.0 L64.1 111.6 L62.1 110.6 L60.0 109.1 L57.9 106.6 L56.9 104.8 L55.7 102.3 L54.8 99.8 L51.7 97.9 L49.6 96.6 L47.1 96.6 L45.3 96.9 L44.5 94.1 L45.0 91.0 L47.1 87.3 L49.6 86.0 L50.2 84.1 L48.6 84.1 L46.5 81.0 L47.1 78.5 L49.1 75.6 L49.6 74.8 L47.6 71.7 L46.5 68.5 L44.2 65.8 L49.6 65.8 L50.2 61.7 L51.7 58.5 L51.2 55.4 L51.7 51.0 L50.7 48.5 L52.8 46.7 L55.9 44.2 L57.9 41.9 L54.3 40.7 L53.8 37.3 L51.2 37.3 L47.6 38.2 L45.0 38.6 L42.4 38.2 L39.8 38.6 L38.3 37.9 L37.2 35.2 L34.6 35.7 L32.6 36.4 L30.3 38.3Z M146.4 67.0 L148.0 68.4 L150.3 67.7 L152.6 69.7 L153.7 70.8 L155.7 69.8 L157.8 65.4 L156.8 64.4 L155.2 62.9 L154.2 62.3 L152.6 62.9 L150.6 63.8 L148.5 65.4 L146.7 66.4Z M161.4 61.7 L161.9 62.5 L164.5 63.3 L166.6 63.9 L166.8 63.2 L165.6 61.7 L163.5 60.9 L161.9 60.9Z M134.5 75.6 L136.1 76.0 L137.1 75.1 L138.7 74.2 L138.1 72.9 L136.1 73.2 L134.5 74.4Z M136.4 77.9 L137.1 78.3 L138.5 78.4 L137.6 77.5 L136.8 77.4Z" fill="none" stroke="#555" stroke-width="0.45"/>
<rect x="21.2" y="8.6" width="152.3" height="108.9" fill="none" stroke="#8a8a8a" stroke-width="1"/>
<line x1="19.2" x2="21.2" y1="11.7" y2="11.7" stroke="#888" stroke-width="0.8"/>
<text x="18.2" y="15.2" font-size="8" text-anchor="end">44N</text>
<line x1="19.2" x2="21.2" y1="36.7" y2="36.7" stroke="#888" stroke-width="0.8"/>
<text x="18.2" y="40.2" font-size="8" text-anchor="end">42N</text>
<line x1="19.2" x2="21.2" y1="61.7" y2="61.7" stroke="#888" stroke-width="0.8"/>
<text x="18.2" y="65.2" font-size="8" text-anchor="end">40N</text>
<line x1="19.2" x2="21.2" y1="86.6" y2="86.6" stroke="#888" stroke-width="0.8"/>
<text x="18.2" y="90.1" font-size="8" text-anchor="end">38N</text>
<line x1="19.2" x2="21.2" y1="111.6" y2="111.6" stroke="#888" stroke-width="0.8"/>
<text x="18.2" y="115.1" font-size="8" text-anchor="end">36N</text>
<line x1="39.3" x2="39.3" y1="117.5" y2="119.5" stroke="#888" stroke-width="0.8"/>
<text x="39.3" y="126.6" font-size="8" text-anchor="middle">8W</text>
<line x1="60.0" x2="60.0" y1="117.5" y2="119.5" stroke="#888" stroke-width="0.8"/>
<text x="60.0" y="126.6" font-size="8" text-anchor="middle">6W</text>
<line x1="80.7" x2="80.7" y1="117.5" y2="119.5" stroke="#888" stroke-width="0.8"/>
<text x="80.7" y="126.6" font-size="8" text-anchor="middle">4W</text>
<line x1="101.4" x2="101.4" y1="117.5" y2="119.5" stroke="#888" stroke-width="0.8"/>
<text x="101.4" y="126.6" font-size="8" text-anchor="middle">2W</text>
<line x1="122.1" x2="122.1" y1="117.5" y2="119.5" stroke="#888" stroke-width="0.8"/>
<text x="122.1" y="126.6" font-size="8" text-anchor="middle">0</text>
<line x1="142.8" x2="142.8" y1="117.5" y2="119.5" stroke="#888" stroke-width="0.8"/>
<text x="142.8" y="126.6" font-size="8" text-anchor="middle">2E</text>
<line x1="163.5" x2="163.5" y1="117.5" y2="119.5" stroke="#888" stroke-width="0.8"/>
<text x="163.5" y="126.6" font-size="8" text-anchor="middle">4E</text>
<linearGradient id="cbg0" gradientUnits="userSpaceOnUse" x1="28.5" x2="166.2" y1="0" y2="0"><stop offset="0.000" stop-color="#67000d"/><stop offset="0.125" stop-color="#a50f15"/><stop offset="0.250" stop-color="#cb181d"/><stop offset="0.375" stop-color="#ef3b2c"/><stop offset="0.500" stop-color="#fb6a4a"/><stop offset="0.625" stop-color="#fc9272"/><stop offset="0.750" stop-color="#fcbba1"/><stop offset="0.875" stop-color="#fee0d2"/><stop offset="1.000" stop-color="#fff5f0"/></linearGradient>
<path d="M21.5 133.6 L28.5 131.4 L166.2 131.4 L173.2 133.6 L166.2 135.7 L28.5 135.7 Z" fill="url(#cbg0)" stroke="#555" stroke-width="0.45"/>
<line x1="28.5" x2="28.5" y1="135.7" y2="137.0" stroke="#555" stroke-width="0.6"/>
<text x="28.5" y="144.7" font-size="8" text-anchor="middle">−65</text>
<line x1="62.9" x2="62.9" y1="135.7" y2="137.0" stroke="#555" stroke-width="0.6"/>
<text x="62.9" y="144.7" font-size="8" text-anchor="middle">−60</text>
<line x1="97.3" x2="97.3" y1="135.7" y2="137.0" stroke="#555" stroke-width="0.6"/>
<text x="97.3" y="144.7" font-size="8" text-anchor="middle">−55</text>
<line x1="131.8" x2="131.8" y1="135.7" y2="137.0" stroke="#555" stroke-width="0.6"/>
<text x="131.8" y="144.7" font-size="8" text-anchor="middle">−50</text>
<line x1="166.2" x2="166.2" y1="135.7" y2="137.0" stroke="#555" stroke-width="0.6"/>
<text x="166.2" y="144.7" font-size="8" text-anchor="middle">−45</text>
<text x="97.3" y="154.9" font-size="8.25" text-anchor="middle">rel. Negative Hit bias [%]</text>
<g clip-path="url(#sp1)"><g filter="url(#nf1)"><rect x="205.7" y="9.0" width="5.6" height="6.8" fill="#494949"/><rect x="211.1" y="9.0" width="5.6" height="6.8" fill="#424242"/><rect x="216.4" y="9.0" width="5.6" height="6.8" fill="#494949"/><rect x="221.8" y="9.0" width="5.6" height="6.8" fill="#494949"/><rect x="227.2" y="9.0" width="5.6" height="6.8" fill="#494949"/><rect x="232.6" y="9.0" width="5.6" height="6.8" fill="#676767"/><rect x="237.9" y="9.0" width="5.6" height="6.8" fill="#676767"/><rect x="243.3" y="9.0" width="5.6" height="6.8" fill="#676767"/><rect x="248.7" y="9.0" width="5.6" height="6.8" fill="#676767"/><rect x="254.1" y="9.0" width="5.6" height="6.8" fill="#888888"/><rect x="259.4" y="9.0" width="5.6" height="6.8" fill="#949494"/><rect x="264.8" y="9.0" width="5.6" height="6.8" fill="#888888"/><rect x="270.2" y="9.0" width="5.6" height="6.8" fill="#888888"/><rect x="275.6" y="9.0" width="5.6" height="6.8" fill="#888888"/><rect x="280.9" y="9.0" width="5.6" height="6.8" fill="#7c7c7c"/><rect x="286.3" y="9.0" width="5.6" height="6.8" fill="#676767"/><rect x="291.7" y="9.0" width="5.6" height="6.8" fill="#575757"/><rect x="297.1" y="9.0" width="5.6" height="6.8" fill="#494949"/><rect x="302.4" y="9.0" width="5.6" height="6.8" fill="#616161"/><rect x="307.8" y="9.0" width="5.6" height="6.8" fill="#6d6d6d"/><rect x="313.2" y="9.0" width="5.6" height="6.8" fill="#6d6d6d"/><rect x="318.6" y="9.0" width="5.6" height="6.8" fill="#606060"/><rect x="323.9" y="9.0" width="5.6" height="6.8" fill="#545454"/><rect x="329.3" y="9.0" width="5.6" height="6.8" fill="#494949"/><rect x="334.7" y="9.0" width="5.6" height="6.8" fill="#424242"/><rect x="340.1" y="9.0" width="5.6" height="6.8" fill="#3f3f3f"/><rect x="345.4" y="9.0" width="5.6" height="6.8" fill="#494949"/><rect x="350.8" y="9.0" width="5.6" height="6.8" fill="#494949"/><rect x="205.7" y="15.6" width="5.6" height="6.8" fill="#494949"/><rect x="211.1" y="15.6" width="5.6" height="6.8" fill="#494949"/><rect x="216.4" y="15.6" width="5.6" height="6.8" fill="#2e2e2e"/><rect x="221.8" y="15.6" width="5.6" height="6.8" fill="#494949"/><rect x="227.2" y="15.6" width="5.6" height="6.8" fill="#676767"/><rect x="232.6" y="15.6" width="5.6" height="6.8" fill="#676767"/><rect x="237.9" y="15.6" width="5.6" height="6.8" fill="#888888"/><rect x="243.3" y="15.6" width="5.6" height="6.8" fill="#888888"/><rect x="248.7" y="15.6" width="5.6" height="6.8" fill="#888888"/><rect x="254.1" y="15.6" width="5.6" height="6.8" fill="#adadad"/><rect x="259.4" y="15.6" width="5.6" height="6.8" fill="#888888"/><rect x="264.8" y="15.6" width="5.6" height="6.8" fill="#888888"/><rect x="270.2" y="15.6" width="5.6" height="6.8" fill="#888888"/><rect x="275.6" y="15.6" width="5.6" height="6.8" fill="#888888"/><rect x="280.9" y="15.6" width="5.6" height="6.8" fill="#888888"/><rect x="286.3" y="15.6" width="5.6" height="6.8" fill="#676767"/><rect x="291.7" y="15.6" width="5.6" height="6.8" fill="#494949"/><rect x="297.1" y="15.6" width="5.6" height="6.8" fill="#505050"/><rect x="302.4" y="15.6" width="5.6" height="6.8" fill="#676767"/><rect x="307.8" y="15.6" width="5.6" height="6.8" fill="#7c7c7c"/><rect x="313.2" y="15.6" width="5.6" height="6.8" fill="#7c7c7c"/><rect x="318.6" y="15.6" width="5.6" height="6.8" fill="#676767"/><rect x="323.9" y="15.6" width="5.6" height="6.8" fill="#494949"/><rect x="329.3" y="15.6" width="5.6" height="6.8" fill="#3f3f3f"/><rect x="334.7" y="15.6" width="5.6" height="6.8" fill="#3f3f3f"/><rect x="340.1" y="15.6" width="5.6" height="6.8" fill="#494949"/><rect x="345.4" y="15.6" width="5.6" height="6.8" fill="#494949"/><rect x="350.8" y="15.6" width="5.6" height="6.8" fill="#494949"/><rect x="205.7" y="22.2" width="5.6" height="6.8" fill="#494949"/><rect x="211.1" y="22.2" width="5.6" height="6.8" fill="#494949"/><rect x="216.4" y="22.2" width="5.6" height="6.8" fill="#2e2e2e"/><rect x="221.8" y="22.2" width="5.6" height="6.8" fill="#676767"/><rect x="227.2" y="22.2" width="5.6" height="6.8" fill="#888888"/><rect x="232.6" y="22.2" width="5.6" height="6.8" fill="#888888"/><rect x="237.9" y="22.2" width="5.6" height="6.8" fill="#676767"/><rect x="243.3" y="22.2" width="5.6" height="6.8" fill="#494949"/><rect x="248.7" y="22.2" width="5.6" height="6.8" fill="#494949"/><rect x="254.1" y="22.2" width="5.6" height="6.8" fill="#494949"/><rect x="259.4" y="22.2" width="5.6" height="6.8" fill="#494949"/><rect x="264.8" y="22.2" width="5.6" height="6.8" fill="#676767"/><rect x="270.2" y="22.2" width="5.6" height="6.8" fill="#676767"/><rect x="275.6" y="22.2" width="5.6" height="6.8" fill="#676767"/><rect x="280.9" y="22.2" width="5.6" height="6.8" fill="#676767"/><rect x="286.3" y="22.2" width="5.6" height="6.8" fill="#676767"/><rect x="291.7" y="22.2" width="5.6" height="6.8" fill="#494949"/><rect x="297.1" y="22.2" width="5.6" height="6.8" fill="#494949"/><rect x="302.4" y="22.2" width="5.6" height="6.8" fill="#676767"/><rect x="307.8" y="22.2" width="5.6" height="6.8" fill="#888888"/><rect x="313.2" y="22.2" width="5.6" height="6.8" fill="#888888"/><rect x="318.6" y="22.2" width="5.6" height="6.8" fill="#676767"/><rect x="323.9" y="22.2" width="5.6" height="6.8" fill="#494949"/><rect x="329.3" y="22.2" width="5.6" height="6.8" fill="#2e2e2e"/><rect x="334.7" y="22.2" width="5.6" height="6.8" fill="#494949"/><rect x="340.1" y="22.2" width="5.6" height="6.8" fill="#494949"/><rect x="345.4" y="22.2" width="5.6" height="6.8" fill="#494949"/><rect x="350.8" y="22.2" width="5.6" height="6.8" fill="#373737"/><rect x="205.7" y="28.8" width="5.6" height="6.8" fill="#494949"/><rect x="211.1" y="28.8" width="5.6" height="6.8" fill="#494949"/><rect x="216.4" y="28.8" width="5.6" height="6.8" fill="#2e2e2e"/><rect x="221.8" y="28.8" width="5.6" height="6.8" fill="#494949"/><rect x="227.2" y="28.8" width="5.6" height="6.8" fill="#676767"/><rect x="232.6" y="28.8" width="5.6" height="6.8" fill="#494949"/><rect x="237.9" y="28.8" width="5.6" height="6.8" fill="#191919"/><rect x="243.3" y="28.8" width="5.6" height="6.8" fill="#080808"/><rect x="248.7" y="28.8" width="5.6" height="6.8" fill="#080808"/><rect x="254.1" y="28.8" width="5.6" height="6.8" fill="#080808"/><rect x="259.4" y="28.8" width="5.6" height="6.8" fill="#191919"/><rect x="264.8" y="28.8" width="5.6" height="6.8" fill="#191919"/><rect x="270.2" y="28.8" width="5.6" height="6.8" fill="#191919"/><rect x="275.6" y="28.8" width="5.6" height="6.8" fill="#676767"/><rect x="280.9" y="28.8" width="5.6" height="6.8" fill="#676767"/><rect x="286.3" y="28.8" width="5.6" height="6.8" fill="#191919"/><rect x="291.7" y="28.8" width="5.6" height="6.8" fill="#2e2e2e"/><rect x="297.1" y="28.8" width="5.6" height="6.8" fill="#494949"/><rect x="302.4" y="28.8" width="5.6" height="6.8" fill="#494949"/><rect x="307.8" y="28.8" width="5.6" height="6.8" fill="#676767"/><rect x="313.2" y="28.8" width="5.6" height="6.8" fill="#494949"/><rect x="318.6" y="28.8" width="5.6" height="6.8" fill="#494949"/><rect x="323.9" y="28.8" width="5.6" height="6.8" fill="#2e2e2e"/><rect x="329.3" y="28.8" width="5.6" height="6.8" fill="#494949"/><rect x="334.7" y="28.8" width="5.6" height="6.8" fill="#494949"/><rect x="340.1" y="28.8" width="5.6" height="6.8" fill="#494949"/><rect x="345.4" y="28.8" width="5.6" height="6.8" fill="#373737"/><rect x="350.8" y="28.8" width="5.6" height="6.8" fill="#191919"/><rect x="205.7" y="35.4" width="5.6" height="6.8" fill="#525252"/><rect x="211.1" y="35.4" width="5.6" height="6.8" fill="#676767"/><rect x="216.4" y="35.4" width="5.6" height="6.8" fill="#676767"/><rect x="221.8" y="35.4" width="5.6" height="6.8" fill="#676767"/><rect x="227.2" y="35.4" width="5.6" height="6.8" fill="#676767"/><rect x="232.6" y="35.4" width="5.6" height="6.8" fill="#676767"/><rect x="237.9" y="35.4" width="5.6" height="6.8" fill="#2e2e2e"/><rect x="243.3" y="35.4" width="5.6" height="6.8" fill="#191919"/><rect x="248.7" y="35.4" width="5.6" height="6.8" fill="#080808"/><rect x="254.1" y="35.4" width="5.6" height="6.8" fill="#080808"/><rect x="259.4" y="35.4" width="5.6" height="6.8" fill="#080808"/><rect x="264.8" y="35.4" width="5.6" height="6.8" fill="#191919"/><rect x="270.2" y="35.4" width="5.6" height="6.8" fill="#191919"/><rect x="275.6" y="35.4" width="5.6" height="6.8" fill="#888888"/><rect x="280.9" y="35.4" width="5.6" height="6.8" fill="#191919"/><rect x="286.3" y="35.4" width="5.6" height="6.8" fill="#191919"/><rect x="291.7" y="35.4" width="5.6" height="6.8" fill="#191919"/><rect x="297.1" y="35.4" width="5.6" height="6.8" fill="#191919"/><rect x="302.4" y="35.4" width="5.6" height="6.8" fill="#2e2e2e"/><rect x="307.8" y="35.4" width="5.6" height="6.8" fill="#2e2e2e"/><rect x="313.2" y="35.4" width="5.6" height="6.8" fill="#494949"/><rect x="318.6" y="35.4" width="5.6" height="6.8" fill="#2e2e2e"/><rect x="323.9" y="35.4" width="5.6" height="6.8" fill="#494949"/><rect x="329.3" y="35.4" width="5.6" height="6.8" fill="#676767"/><rect x="334.7" y="35.4" width="5.6" height="6.8" fill="#494949"/><rect x="340.1" y="35.4" width="5.6" height="6.8" fill="#3b3b3b"/><rect x="345.4" y="35.4" width="5.6" height="6.8" fill="#191919"/><rect x="350.8" y="35.4" width="5.6" height="6.8" fill="#191919"/><rect x="205.7" y="42.1" width="5.6" height="6.8" fill="#676767"/><rect x="211.1" y="42.1" width="5.6" height="6.8" fill="#676767"/><rect x="216.4" y="42.1" width="5.6" height="6.8" fill="#676767"/><rect x="221.8" y="42.1" width="5.6" height="6.8" fill="#676767"/><rect x="227.2" y="42.1" width="5.6" height="6.8" fill="#494949"/><rect x="232.6" y="42.1" width="5.6" height="6.8" fill="#2e2e2e"/><rect x="237.9" y="42.1" width="5.6" height="6.8" fill="#191919"/><rect x="243.3" y="42.1" width="5.6" height="6.8" fill="#080808"/><rect x="248.7" y="42.1" width="5.6" height="6.8" fill="#080808"/><rect x="254.1" y="42.1" width="5.6" height="6.8" fill="#191919"/><rect x="259.4" y="42.1" width="5.6" height="6.8" fill="#191919"/><rect x="264.8" y="42.1" width="5.6" height="6.8" fill="#2e2e2e"/><rect x="270.2" y="42.1" width="5.6" height="6.8" fill="#494949"/><rect x="275.6" y="42.1" width="5.6" height="6.8" fill="#2e2e2e"/><rect x="280.9" y="42.1" width="5.6" height="6.8" fill="#2e2e2e"/><rect x="286.3" y="42.1" width="5.6" height="6.8" fill="#191919"/><rect x="291.7" y="42.1" width="5.6" height="6.8" fill="#191919"/><rect x="297.1" y="42.1" width="5.6" height="6.8" fill="#2e2e2e"/><rect x="302.4" y="42.1" width="5.6" height="6.8" fill="#2e2e2e"/><rect x="307.8" y="42.1" width="5.6" height="6.8" fill="#494949"/><rect x="313.2" y="42.1" width="5.6" height="6.8" fill="#494949"/><rect x="318.6" y="42.1" width="5.6" height="6.8" fill="#191919"/><rect x="323.9" y="42.1" width="5.6" height="6.8" fill="#2e2e2e"/><rect x="329.3" y="42.1" width="5.6" height="6.8" fill="#494949"/><rect x="334.7" y="42.1" width="5.6" height="6.8" fill="#575757"/><rect x="340.1" y="42.1" width="5.6" height="6.8" fill="#2e2e2e"/><rect x="345.4" y="42.1" width="5.6" height="6.8" fill="#191919"/><rect x="350.8" y="42.1" width="5.6" height="6.8" fill="#191919"/><rect x="205.7" y="48.7" width="5.6" height="6.8" fill="#676767"/><rect x="211.1" y="48.7" width="5.6" height="6.8" fill="#676767"/><rect x="216.4" y="48.7" width="5.6" height="6.8" fill="#545454"/><rect x="221.8" y="48.7" width="5.6" height="6.8" fill="#494949"/><rect x="227.2" y="48.7" width="5.6" height="6.8" fill="#373737"/><rect x="232.6" y="48.7" width="5.6" height="6.8" fill="#191919"/><rect x="237.9" y="48.7" width="5.6" height="6.8" fill="#2e2e2e"/><rect x="243.3" y="48.7" width="5.6" height="6.8" fill="#191919"/><rect x="248.7" y="48.7" width="5.6" height="6.8" fill="#191919"/><rect x="254.1" y="48.7" width="5.6" height="6.8" fill="#2e2e2e"/><rect x="259.4" y="48.7" width="5.6" height="6.8" fill="#494949"/><rect x="264.8" y="48.7" width="5.6" height="6.8" fill="#676767"/><rect x="270.2" y="48.7" width="5.6" height="6.8" fill="#494949"/><rect x="275.6" y="48.7" width="5.6" height="6.8" fill="#676767"/><rect x="280.9" y="48.7" width="5.6" height="6.8" fill="#494949"/><rect x="286.3" y="48.7" width="5.6" height="6.8" fill="#2e2e2e"/><rect x="291.7" y="48.7" width="5.6" height="6.8" fill="#2e2e2e"/><rect x="297.1" y="48.7" width="5.6" height="6.8" fill="#2e2e2e"/><rect x="302.4" y="48.7" width="5.6" height="6.8" fill="#494949"/><rect x="307.8" y="48.7" width="5.6" height="6.8" fill="#494949"/><rect x="313.2" y="48.7" width="5.6" height="6.8" fill="#494949"/><rect x="318.6" y="48.7" width="5.6" height="6.8" fill="#353535"/><rect x="323.9" y="48.7" width="5.6" height="6.8" fill="#232323"/><rect x="329.3" y="48.7" width="5.6" height="6.8" fill="#2e2e2e"/><rect x="334.7" y="48.7" width="5.6" height="6.8" fill="#4c4c4c"/><rect x="340.1" y="48.7" width="5.6" height="6.8" fill="#494949"/><rect x="345.4" y="48.7" width="5.6" height="6.8" fill="#494949"/><rect x="350.8" y="48.7" width="5.6" height="6.8" fill="#494949"/><rect x="205.7" y="55.3" width="5.6" height="6.8" fill="#676767"/><rect x="211.1" y="55.3" width="5.6" height="6.8" fill="#414141"/><rect x="216.4" y="55.3" width="5.6" height="6.8" fill="#191919"/><rect x="221.8" y="55.3" width="5.6" height="6.8" fill="#191919"/><rect x="227.2" y="55.3" width="5.6" height="6.8" fill="#2e2e2e"/><rect x="232.6" y="55.3" width="5.6" height="6.8" fill="#676767"/><rect x="237.9" y="55.3" width="5.6" height="6.8" fill="#888888"/><rect x="243.3" y="55.3" width="5.6" height="6.8" fill="#676767"/><rect x="248.7" y="55.3" width="5.6" height="6.8" fill="#888888"/><rect x="254.1" y="55.3" width="5.6" height="6.8" fill="#494949"/><rect x="259.4" y="55.3" width="5.6" height="6.8" fill="#494949"/><rect x="264.8" y="55.3" width="5.6" height="6.8" fill="#191919"/><rect x="270.2" y="55.3" width="5.6" height="6.8" fill="#191919"/><rect x="275.6" y="55.3" width="5.6" height="6.8" fill="#888888"/><rect x="280.9" y="55.3" width="5.6" height="6.8" fill="#676767"/><rect x="286.3" y="55.3" width="5.6" height="6.8" fill="#191919"/><rect x="291.7" y="55.3" width="5.6" height="6.8" fill="#2e2e2e"/><rect x="297.1" y="55.3" width="5.6" height="6.8" fill="#191919"/><rect x="302.4" y="55.3" width="5.6" height="6.8" fill="#2e2e2e"/><rect x="307.8" y="55.3" width="5.6" height="6.8" fill="#191919"/><rect x="313.2" y="55.3" width="5.6" height="6.8" fill="#373737"/><rect x="318.6" y="55.3" width="5.6" height="6.8" fill="#494949"/><rect x="323.9" y="55.3" width="5.6" height="6.8" fill="#353535"/><rect x="329.3" y="55.3" width="5.6" height="6.8" fill="#676767"/><rect x="334.7" y="55.3" width="5.6" height="6.8" fill="#676767"/><rect x="340.1" y="55.3" width="5.6" height="6.8" fill="#5f5f5f"/><rect x="345.4" y="55.3" width="5.6" height="6.8" fill="#494949"/><rect x="350.8" y="55.3" width="5.6" height="6.8" fill="#494949"/><rect x="205.7" y="61.9" width="5.6" height="6.8" fill="#2e2e2e"/><rect x="211.1" y="61.9" width="5.6" height="6.8" fill="#1e1e1e"/><rect x="216.4" y="61.9" width="5.6" height="6.8" fill="#191919"/><rect x="221.8" y="61.9" width="5.6" height="6.8" fill="#191919"/><rect x="227.2" y="61.9" width="5.6" height="6.8" fill="#191919"/><rect x="232.6" y="61.9" width="5.6" height="6.8" fill="#2e2e2e"/><rect x="237.9" y="61.9" width="5.6" height="6.8" fill="#2e2e2e"/><rect x="243.3" y="61.9" width="5.6" height="6.8" fill="#494949"/><rect x="248.7" y="61.9" width="5.6" height="6.8" fill="#676767"/><rect x="254.1" y="61.9" width="5.6" height="6.8" fill="#494949"/><rect x="259.4" y="61.9" width="5.6" height="6.8" fill="#494949"/><rect x="264.8" y="61.9" width="5.6" height="6.8" fill="#494949"/><rect x="270.2" y="61.9" width="5.6" height="6.8" fill="#2e2e2e"/><rect x="275.6" y="61.9" width="5.6" height="6.8" fill="#494949"/><rect x="280.9" y="61.9" width="5.6" height="6.8" fill="#494949"/><rect x="286.3" y="61.9" width="5.6" height="6.8" fill="#2e2e2e"/><rect x="291.7" y="61.9" width="5.6" height="6.8" fill="#494949"/><rect x="297.1" y="61.9" width="5.6" height="6.8" fill="#191919"/><rect x="302.4" y="61.9" width="5.6" height="6.8" fill="#2e2e2e"/><rect x="307.8" y="61.9" width="5.6" height="6.8" fill="#2e2e2e"/><rect x="313.2" y="61.9" width="5.6" height="6.8" fill="#232323"/><rect x="318.6" y="61.9" width="5.6" height="6.8" fill="#2e2e2e"/><rect x="323.9" y="61.9" width="5.6" height="6.8" fill="#2e2e2e"/><rect x="329.3" y="61.9" width="5.6" height="6.8" fill="#373737"/><rect x="334.7" y="61.9" width="5.6" height="6.8" fill="#676767"/><rect x="340.1" y="61.9" width="5.6" height="6.8" fill="#676767"/><rect x="345.4" y="61.9" width="5.6" height="6.8" fill="#676767"/><rect x="350.8" y="61.9" width="5.6" height="6.8" fill="#525252"/><rect x="205.7" y="68.5" width="5.6" height="6.8" fill="#2e2e2e"/><rect x="211.1" y="68.5" width="5.6" height="6.8" fill="#252525"/><rect x="216.4" y="68.5" width="5.6" height="6.8" fill="#1e1e1e"/><rect x="221.8" y="68.5" width="5.6" height="6.8" fill="#191919"/><rect x="227.2" y="68.5" width="5.6" height="6.8" fill="#191919"/><rect x="232.6" y="68.5" width="5.6" height="6.8" fill="#191919"/><rect x="237.9" y="68.5" width="5.6" height="6.8" fill="#2e2e2e"/><rect x="243.3" y="68.5" width="5.6" height="6.8" fill="#2e2e2e"/><rect x="248.7" y="68.5" width="5.6" height="6.8" fill="#191919"/><rect x="254.1" y="68.5" width="5.6" height="6.8" fill="#2e2e2e"/><rect x="259.4" y="68.5" width="5.6" height="6.8" fill="#2e2e2e"/><rect x="264.8" y="68.5" width="5.6" height="6.8" fill="#191919"/><rect x="270.2" y="68.5" width="5.6" height="6.8" fill="#2e2e2e"/><rect x="275.6" y="68.5" width="5.6" height="6.8" fill="#2e2e2e"/><rect x="280.9" y="68.5" width="5.6" height="6.8" fill="#494949"/><rect x="286.3" y="68.5" width="5.6" height="6.8" fill="#191919"/><rect x="291.7" y="68.5" width="5.6" height="6.8" fill="#2e2e2e"/><rect x="297.1" y="68.5" width="5.6" height="6.8" fill="#494949"/><rect x="302.4" y="68.5" width="5.6" height="6.8" fill="#494949"/><rect x="307.8" y="68.5" width="5.6" height="6.8" fill="#424242"/><rect x="313.2" y="68.5" width="5.6" height="6.8" fill="#373737"/><rect x="318.6" y="68.5" width="5.6" height="6.8" fill="#2e2e2e"/><rect x="323.9" y="68.5" width="5.6" height="6.8" fill="#2e2e2e"/><rect x="329.3" y="68.5" width="5.6" height="6.8" fill="#353535"/><rect x="334.7" y="68.5" width="5.6" height="6.8" fill="#191919"/><rect x="340.1" y="68.5" width="5.6" height="6.8" fill="#2e2e2e"/><rect x="345.4" y="68.5" width="5.6" height="6.8" fill="#525252"/><rect x="350.8" y="68.5" width="5.6" height="6.8" fill="#676767"/><rect x="205.7" y="75.1" width="5.6" height="6.8" fill="#2e2e2e"/><rect x="211.1" y="75.1" width="5.6" height="6.8" fill="#272727"/><rect x="216.4" y="75.1" width="5.6" height="6.8" fill="#252525"/><rect x="221.8" y="75.1" width="5.6" height="6.8" fill="#1f1f1f"/><rect x="227.2" y="75.1" width="5.6" height="6.8" fill="#191919"/><rect x="232.6" y="75.1" width="5.6" height="6.8" fill="#191919"/><rect x="237.9" y="75.1" width="5.6" height="6.8" fill="#2e2e2e"/><rect x="243.3" y="75.1" width="5.6" height="6.8" fill="#191919"/><rect x="248.7" y="75.1" width="5.6" height="6.8" fill="#191919"/><rect x="254.1" y="75.1" width="5.6" height="6.8" fill="#191919"/><rect x="259.4" y="75.1" width="5.6" height="6.8" fill="#2e2e2e"/><rect x="264.8" y="75.1" width="5.6" height="6.8" fill="#494949"/><rect x="270.2" y="75.1" width="5.6" height="6.8" fill="#2e2e2e"/><rect x="275.6" y="75.1" width="5.6" height="6.8" fill="#2e2e2e"/><rect x="280.9" y="75.1" width="5.6" height="6.8" fill="#191919"/><rect x="286.3" y="75.1" width="5.6" height="6.8" fill="#494949"/><rect x="291.7" y="75.1" width="5.6" height="6.8" fill="#2e2e2e"/><rect x="297.1" y="75.1" width="5.6" height="6.8" fill="#494949"/><rect x="302.4" y="75.1" width="5.6" height="6.8" fill="#494949"/><rect x="307.8" y="75.1" width="5.6" height="6.8" fill="#494949"/><rect x="313.2" y="75.1" width="5.6" height="6.8" fill="#373737"/><rect x="318.6" y="75.1" width="5.6" height="6.8" fill="#2e2e2e"/><rect x="323.9" y="75.1" width="5.6" height="6.8" fill="#2e2e2e"/><rect x="329.3" y="75.1" width="5.6" height="6.8" fill="#272727"/><rect x="334.7" y="75.1" width="5.6" height="6.8" fill="#232323"/><rect x="340.1" y="75.1" width="5.6" height="6.8" fill="#232323"/><rect x="345.4" y="75.1" width="5.6" height="6.8" fill="#2e2e2e"/><rect x="350.8" y="75.1" width="5.6" height="6.8" fill="#525252"/><rect x="205.7" y="81.7" width="5.6" height="6.8" fill="#2e2e2e"/><rect x="211.1" y="81.7" width="5.6" height="6.8" fill="#272727"/><rect x="216.4" y="81.7" width="5.6" height="6.8" fill="#2a2a2a"/><rect x="221.8" y="81.7" width="5.6" height="6.8" fill="#2e2e2e"/><rect x="227.2" y="81.7" width="5.6" height="6.8" fill="#2e2e2e"/><rect x="232.6" y="81.7" width="5.6" height="6.8" fill="#2e2e2e"/><rect x="237.9" y="81.7" width="5.6" height="6.8" fill="#2e2e2e"/><rect x="243.3" y="81.7" width="5.6" height="6.8" fill="#2e2e2e"/><rect x="248.7" y="81.7" width="5.6" height="6.8" fill="#191919"/><rect x="254.1" y="81.7" width="5.6" height="6.8" fill="#2e2e2e"/><rect x="259.4" y="81.7" width="5.6" height="6.8" fill="#494949"/><rect x="264.8" y="81.7" width="5.6" height="6.8" fill="#494949"/><rect x="270.2" y="81.7" width="5.6" height="6.8" fill="#494949"/><rect x="275.6" y="81.7" width="5.6" height="6.8" fill="#2e2e2e"/><rect x="280.9" y="81.7" width="5.6" height="6.8" fill="#494949"/><rect x="286.3" y="81.7" width="5.6" height="6.8" fill="#2e2e2e"/><rect x="291.7" y="81.7" width="5.6" height="6.8" fill="#2e2e2e"/><rect x="297.1" y="81.7" width="5.6" height="6.8" fill="#2e2e2e"/><rect x="302.4" y="81.7" width="5.6" height="6.8" fill="#2e2e2e"/><rect x="307.8" y="81.7" width="5.6" height="6.8" fill="#3f3f3f"/><rect x="313.2" y="81.7" width="5.6" height="6.8" fill="#3b3b3b"/><rect x="318.6" y="81.7" width="5.6" height="6.8" fill="#2e2e2e"/><rect x="323.9" y="81.7" width="5.6" height="6.8" fill="#2e2e2e"/><rect x="329.3" y="81.7" width="5.6" height="6.8" fill="#2e2e2e"/><rect x="334.7" y="81.7" width="5.6" height="6.8" fill="#292929"/><rect x="340.1" y="81.7" width="5.6" height="6.8" fill="#232323"/><rect x="345.4" y="81.7" width="5.6" height="6.8" fill="#232323"/><rect x="350.8" y="81.7" width="5.6" height="6.8" fill="#2e2e2e"/><rect x="205.7" y="88.3" width="5.6" height="6.8" fill="#2e2e2e"/><rect x="211.1" y="88.3" width="5.6" height="6.8" fill="#2a2a2a"/><rect x="216.4" y="88.3" width="5.6" height="6.8" fill="#2e2e2e"/><rect x="221.8" y="88.3" width="5.6" height="6.8" fill="#373737"/><rect x="227.2" y="88.3" width="5.6" height="6.8" fill="#494949"/><rect x="232.6" y="88.3" width="5.6" height="6.8" fill="#494949"/><rect x="237.9" y="88.3" width="5.6" height="6.8" fill="#2e2e2e"/><rect x="243.3" y="88.3" width="5.6" height="6.8" fill="#494949"/><rect x="248.7" y="88.3" width="5.6" height="6.8" fill="#494949"/><rect x="254.1" y="88.3" width="5.6" height="6.8" fill="#2e2e2e"/><rect x="259.4" y="88.3" width="5.6" height="6.8" fill="#494949"/><rect x="264.8" y="88.3" width="5.6" height="6.8" fill="#494949"/><rect x="270.2" y="88.3" width="5.6" height="6.8" fill="#494949"/><rect x="275.6" y="88.3" width="5.6" height="6.8" fill="#494949"/><rect x="280.9" y="88.3" width="5.6" height="6.8" fill="#494949"/><rect x="286.3" y="88.3" width="5.6" height="6.8" fill="#2e2e2e"/><rect x="291.7" y="88.3" width="5.6" height="6.8" fill="#191919"/><rect x="297.1" y="88.3" width="5.6" height="6.8" fill="#191919"/><rect x="302.4" y="88.3" width="5.6" height="6.8" fill="#272727"/><rect x="307.8" y="88.3" width="5.6" height="6.8" fill="#2e2e2e"/><rect x="313.2" y="88.3" width="5.6" height="6.8" fill="#383838"/><rect x="318.6" y="88.3" width="5.6" height="6.8" fill="#373737"/><rect x="323.9" y="88.3" width="5.6" height="6.8" fill="#2e2e2e"/><rect x="329.3" y="88.3" width="5.6" height="6.8" fill="#2e2e2e"/><rect x="334.7" y="88.3" width="5.6" height="6.8" fill="#2e2e2e"/><rect x="340.1" y="88.3" width="5.6" height="6.8" fill="#292929"/><rect x="345.4" y="88.3" width="5.6" height="6.8" fill="#232323"/><rect x="350.8" y="88.3" width="5.6" height="6.8" fill="#232323"/><rect x="205.7" y="94.9" width="5.6" height="6.8" fill="#2e2e2e"/><rect x="211.1" y="94.9" width="5.6" height="6.8" fill="#2e2e2e"/><rect x="216.4" y="94.9" width="5.6" height="6.8" fill="#373737"/><rect x="221.8" y="94.9" width="5.6" height="6.8" fill="#3b3b3b"/><rect x="227.2" y="94.9" width="5.6" height="6.8" fill="#2e2e2e"/><rect x="232.6" y="94.9" width="5.6" height="6.8" fill="#2e2e2e"/><rect x="237.9" y="94.9" width="5.6" height="6.8" fill="#2e2e2e"/><rect x="243.3" y="94.9" width="5.6" height="6.8" fill="#191919"/><rect x="248.7" y="94.9" width="5.6" height="6.8" fill="#2e2e2e"/><rect x="254.1" y="94.9" width="5.6" height="6.8" fill="#191919"/><rect x="259.4" y="94.9" width="5.6" height="6.8" fill="#494949"/><rect x="264.8" y="94.9" width="5.6" height="6.8" fill="#2e2e2e"/><rect x="270.2" y="94.9" width="5.6" height="6.8" fill="#494949"/><rect x="275.6" y="94.9" width="5.6" height="6.8" fill="#494949"/><rect x="280.9" y="94.9" width="5.6" height="6.8" fill="#2e2e2e"/><rect x="286.3" y="94.9" width="5.6" height="6.8" fill="#191919"/><rect x="291.7" y="94.9" width="5.6" height="6.8" fill="#1e1e1e"/><rect x="297.1" y="94.9" width="5.6" height="6.8" fill="#191919"/><rect x="302.4" y="94.9" width="5.6" height="6.8" fill="#191919"/><rect x="307.8" y="94.9" width="5.6" height="6.8" fill="#272727"/><rect x="313.2" y="94.9" width="5.6" height="6.8" fill="#2e2e2e"/><rect x="318.6" y="94.9" width="5.6" height="6.8" fill="#383838"/><rect x="323.9" y="94.9" width="5.6" height="6.8" fill="#373737"/><rect x="329.3" y="94.9" width="5.6" height="6.8" fill="#2e2e2e"/><rect x="334.7" y="94.9" width="5.6" height="6.8" fill="#2e2e2e"/><rect x="340.1" y="94.9" width="5.6" height="6.8" fill="#2e2e2e"/><rect x="345.4" y="94.9" width="5.6" height="6.8" fill="#2e2e2e"/><rect x="350.8" y="94.9" width="5.6" height="6.8" fill="#2e2e2e"/><rect x="205.7" y="101.5" width="5.6" height="6.8" fill="#2e2e2e"/><rect x="211.1" y="101.5" width="5.6" height="6.8" fill="#373737"/><rect x="216.4" y="101.5" width="5.6" height="6.8" fill="#3b3b3b"/><rect x="221.8" y="101.5" width="5.6" height="6.8" fill="#2e2e2e"/><rect x="227.2" y="101.5" width="5.6" height="6.8" fill="#2e2e2e"/><rect x="232.6" y="101.5" width="5.6" height="6.8" fill="#2e2e2e"/><rect x="237.9" y="101.5" width="5.6" height="6.8" fill="#2e2e2e"/><rect x="243.3" y="101.5" width="5.6" height="6.8" fill="#2e2e2e"/><rect x="248.7" y="101.5" width="5.6" height="6.8" fill="#676767"/><rect x="254.1" y="101.5" width="5.6" height="6.8" fill="#494949"/><rect x="259.4" y="101.5" width="5.6" height="6.8" fill="#2e2e2e"/><rect x="264.8" y="101.5" width="5.6" height="6.8" fill="#191919"/><rect x="270.2" y="101.5" width="5.6" height="6.8" fill="#2e2e2e"/><rect x="275.6" y="101.5" width="5.6" height="6.8" fill="#2e2e2e"/><rect x="280.9" y="101.5" width="5.6" height="6.8" fill="#191919"/><rect x="286.3" y="101.5" width="5.6" height="6.8" fill="#1f1f1f"/><rect x="291.7" y="101.5" width="5.6" height="6.8" fill="#191919"/><rect x="297.1" y="101.5" width="5.6" height="6.8" fill="#1e1e1e"/><rect x="302.4" y="101.5" width="5.6" height="6.8" fill="#191919"/><rect x="307.8" y="101.5" width="5.6" height="6.8" fill="#191919"/><rect x="313.2" y="101.5" width="5.6" height="6.8" fill="#272727"/><rect x="318.6" y="101.5" width="5.6" height="6.8" fill="#2e2e2e"/><rect x="323.9" y="101.5" width="5.6" height="6.8" fill="#2e2e2e"/><rect x="329.3" y="101.5" width="5.6" height="6.8" fill="#2e2e2e"/><rect x="334.7" y="101.5" width="5.6" height="6.8" fill="#2e2e2e"/><rect x="340.1" y="101.5" width="5.6" height="6.8" fill="#2e2e2e"/><rect x="345.4" y="101.5" width="5.6" height="6.8" fill="#2e2e2e"/><rect x="350.8" y="101.5" width="5.6" height="6.8" fill="#2e2e2e"/><rect x="205.7" y="108.2" width="5.6" height="6.8" fill="#2e2e2e"/><rect x="211.1" y="108.2" width="5.6" height="6.8" fill="#3b3b3b"/><rect x="216.4" y="108.2" width="5.6" height="6.8" fill="#2e2e2e"/><rect x="221.8" y="108.2" width="5.6" height="6.8" fill="#2e2e2e"/><rect x="227.2" y="108.2" width="5.6" height="6.8" fill="#2e2e2e"/><rect x="232.6" y="108.2" width="5.6" height="6.8" fill="#2e2e2e"/><rect x="237.9" y="108.2" width="5.6" height="6.8" fill="#373737"/><rect x="243.3" y="108.2" width="5.6" height="6.8" fill="#494949"/><rect x="248.7" y="108.2" width="5.6" height="6.8" fill="#676767"/><rect x="254.1" y="108.2" width="5.6" height="6.8" fill="#2e2e2e"/><rect x="259.4" y="108.2" width="5.6" height="6.8" fill="#2e2e2e"/><rect x="264.8" y="108.2" width="5.6" height="6.8" fill="#272727"/><rect x="270.2" y="108.2" width="5.6" height="6.8" fill="#272727"/><rect x="275.6" y="108.2" width="5.6" height="6.8" fill="#272727"/><rect x="280.9" y="108.2" width="5.6" height="6.8" fill="#232323"/><rect x="286.3" y="108.2" width="5.6" height="6.8" fill="#191919"/><rect x="291.7" y="108.2" width="5.6" height="6.8" fill="#1f1f1f"/><rect x="297.1" y="108.2" width="5.6" height="6.8" fill="#191919"/><rect x="302.4" y="108.2" width="5.6" height="6.8" fill="#1e1e1e"/><rect x="307.8" y="108.2" width="5.6" height="6.8" fill="#191919"/><rect x="313.2" y="108.2" width="5.6" height="6.8" fill="#191919"/><rect x="318.6" y="108.2" width="5.6" height="6.8" fill="#2e2e2e"/><rect x="323.9" y="108.2" width="5.6" height="6.8" fill="#2e2e2e"/><rect x="329.3" y="108.2" width="5.6" height="6.8" fill="#2e2e2e"/><rect x="334.7" y="108.2" width="5.6" height="6.8" fill="#2e2e2e"/><rect x="340.1" y="108.2" width="5.6" height="6.8" fill="#2e2e2e"/><rect x="345.4" y="108.2" width="5.6" height="6.8" fill="#2e2e2e"/><rect x="350.8" y="108.2" width="5.6" height="6.8" fill="#2e2e2e"/><polyline points="232.6,59.9 241.2,57.9 251.4,57.3 258.4,53.9 264.0,50.0 271.2,46.7" fill="none" stroke="#e9e9e9" stroke-width="2.3" stroke-linecap="round" stroke-linejoin="round"/><polyline points="275.6,44.7 280.9,50.0 286.3,55.3 291.7,59.2 296.0,61.2" fill="none" stroke="#e9e9e9" stroke-width="2.3" stroke-linecap="round" stroke-linejoin="round"/><polyline points="283.6,77.7 279.9,84.4 275.6,91.0" fill="none" stroke="#ffffff" stroke-width="2.3" stroke-linecap="round" stroke-linejoin="round"/><polyline points="272.3,96.3 270.2,102.2" fill="none" stroke="#c0c0c0" stroke-width="2.3" stroke-linecap="round" stroke-linejoin="round"/><polyline points="237.9,22.9 243.3,22.2 254.1,21.6 264.8,22.2 272.3,21.6" fill="none" stroke="#c0c0c0" stroke-width="2.4" stroke-linecap="round" stroke-linejoin="round"/><polyline points="297.1,24.2 307.8,26.2 318.6,27.5 329.3,30.8" fill="none" stroke="#c0c0c0" stroke-width="2.3" stroke-linecap="round" stroke-linejoin="round"/><polyline points="226.1,32.8 234.7,34.1" fill="none" stroke="#c0c0c0" stroke-width="2.4" stroke-linecap="round" stroke-linejoin="round"/><polyline points="248.7,68.5 261.6,69.2" fill="none" stroke="#9a9a9a" stroke-width="2.3" stroke-linecap="round" stroke-linejoin="round"/><polyline points="247.6,105.5 250.8,109.5" fill="none" stroke="#c0c0c0" stroke-width="2.3" stroke-linecap="round" stroke-linejoin="round"/><polyline points="273.4,31.5 279.9,36.8" fill="none" stroke="#e9e9e9" stroke-width="2.4" stroke-linecap="round" stroke-linejoin="round"/></g></g>
<path d="M232.0 14.9 L234.2 19.6 L233.1 23.5 L234.7 28.8 L232.6 31.5 L235.2 34.8 L236.9 36.1 M234.2 20.2 L241.2 22.9 L248.7 21.6 L254.1 20.9 L258.9 19.6 L259.4 16.9 M258.9 19.6 L261.6 22.2 L264.8 24.2 L266.9 24.9 L269.1 22.2 L272.3 20.9 L273.9 17.6 M272.3 20.9 L274.5 23.5 L276.6 26.2 L280.9 27.5 L286.3 26.2 L289.0 18.3 M274.5 23.5 L274.5 27.5 L277.7 34.1 L284.2 35.4 L288.4 36.1 L289.5 32.8 L286.3 29.5 L280.9 27.5 M299.7 22.9 L296.0 28.8 L292.8 34.1 L288.4 36.1 M288.4 36.1 L286.3 42.1 L287.4 46.0 M315.3 24.2 L314.2 31.5 L312.1 38.1 L311.6 42.1 L309.9 48.7 L310.5 52.6 L313.2 55.3 M310.5 52.6 L305.7 52.6 L301.4 56.6 L299.2 61.9 L296.0 61.9 M296.0 61.9 L289.5 53.9 L287.4 46.0 M258.4 57.9 L262.7 53.9 L265.9 50.0 L271.2 46.7 L274.5 48.7 M258.4 57.9 L260.5 59.2 L266.9 61.9 L274.5 61.9 L274.5 55.3 L274.5 48.7 M274.5 48.7 L279.9 46.0 L287.4 46.0 M233.6 58.6 L241.2 56.6 L247.6 59.2 L254.1 60.6 L258.4 57.9 M254.1 60.6 L250.8 68.5 L254.1 72.5 L251.9 77.7 L253.0 79.1 M231.5 88.3 L236.9 88.3 L243.3 88.3 L247.6 85.7 L250.8 81.0 L253.0 79.1 M253.0 79.1 L257.3 80.4 L262.7 83.0 L270.2 82.4 L277.7 83.0 L282.0 85.7 M282.0 85.7 L284.2 89.6 L286.3 93.6 L289.5 96.3 M282.0 85.7 L288.4 80.4 L291.7 81.7 L296.0 81.0 M296.0 81.0 L297.1 84.4 L298.1 88.3 L299.7 90.3 M296.0 81.0 L297.1 76.4 L293.8 71.1 L291.7 67.2 L293.8 63.2 L296.0 61.9" fill="none" stroke="#5a5a5a" stroke-width="0.45" stroke-opacity="0.9"/>
<path d="M212.4 37.2 L212.3 34.8 L213.0 33.9 L214.1 32.5 L212.3 32.1 L214.3 30.4 L212.1 29.5 L213.0 28.2 L211.6 27.8 L210.5 27.8 L210.7 26.2 L209.8 25.1 L208.1 23.5 L208.7 22.2 L207.8 21.2 L209.1 20.0 L211.6 18.7 L214.3 18.0 L217.0 17.2 L218.6 16.9 L219.1 15.6 L220.7 13.6 L223.1 12.2 L225.2 11.8 L226.6 12.7 L229.3 14.0 L232.0 14.8 L235.8 14.7 L240.1 14.7 L243.3 14.6 L244.9 13.6 L246.5 14.8 L249.8 14.9 L253.0 15.9 L256.7 16.7 L259.4 16.9 L262.7 16.9 L265.9 16.0 L267.5 16.0 L270.7 16.3 L273.4 17.2 L275.6 17.2 L277.7 16.5 L280.9 17.2 L284.2 18.3 L286.8 18.0 L288.7 17.2 L290.6 18.5 L292.8 18.7 L293.0 21.6 L294.9 21.2 L297.6 22.2 L299.7 22.9 L301.9 24.9 L304.6 24.3 L307.8 26.3 L311.0 26.5 L314.8 24.2 L315.9 24.6 L316.9 25.9 L319.6 25.9 L323.4 27.5 L326.3 28.8 L328.8 29.5 L330.4 30.2 L334.7 30.8 L337.4 29.9 L340.6 29.5 L341.9 29.8 L343.5 31.2 L341.7 32.1 L342.0 33.9 L342.2 36.1 L340.6 38.1 L337.9 39.9 L334.7 41.4 L331.4 43.4 L328.2 45.4 L324.5 46.3 L320.7 47.3 L318.0 48.4 L316.9 50.6 L317.3 52.6 L315.3 53.3 L313.7 54.6 L312.1 57.3 L309.4 60.6 L307.3 62.5 L305.7 65.2 L304.4 68.5 L304.6 70.5 L305.4 73.1 L306.2 75.4 L308.3 76.7 L309.9 78.0 L308.9 79.3 L307.3 80.4 L305.1 81.7 L303.0 83.3 L301.9 85.4 L300.8 87.7 L300.1 90.3 L300.3 92.9 L298.1 93.9 L294.9 94.3 L292.2 95.6 L290.1 96.9 L288.4 98.9 L287.2 101.5 L285.8 104.2 L284.2 105.2 L282.0 103.9 L279.3 105.2 L275.6 105.0 L271.2 105.5 L266.9 105.0 L262.7 105.2 L260.0 105.8 L257.3 108.2 L254.1 108.8 L251.4 110.8 L250.3 112.8 L249.2 114.1 L247.6 114.8 L245.5 113.7 L243.3 112.1 L241.2 109.5 L240.1 107.5 L238.8 104.8 L237.9 102.2 L234.7 100.2 L232.6 98.9 L229.9 98.9 L228.0 99.2 L227.2 96.3 L227.7 92.9 L229.9 89.0 L232.6 87.7 L233.1 85.7 L231.5 85.7 L229.3 82.4 L229.9 79.7 L232.0 76.7 L232.6 75.8 L230.4 72.5 L229.3 69.2 L226.9 66.2 L232.6 66.2 L233.1 61.9 L234.7 58.6 L234.2 55.3 L234.7 50.6 L233.6 48.0 L235.8 46.0 L239.0 43.4 L241.2 41.0 L237.4 39.7 L236.9 36.1 L234.2 36.1 L230.4 37.0 L227.7 37.4 L225.0 37.0 L222.3 37.4 L220.7 36.8 L219.7 33.9 L217.0 34.4 L214.8 35.2 L212.4 37.2Z M333.1 67.6 L334.7 69.0 L337.0 68.2 L339.5 70.3 L340.6 71.5 L342.7 70.5 L344.9 65.8 L343.8 64.8 L342.2 63.2 L341.1 62.5 L339.5 63.2 L337.4 64.1 L335.2 65.8 L333.4 66.9Z M348.7 61.9 L349.2 62.8 L351.9 63.6 L354.0 64.3 L354.2 63.5 L352.9 61.9 L350.8 61.1 L349.2 61.1Z M320.7 76.7 L322.3 77.1 L323.4 76.2 L325.0 75.1 L324.5 73.8 L322.3 74.0 L320.7 75.4Z M322.6 79.1 L323.4 79.5 L324.8 79.6 L323.9 78.7 L323.1 78.5Z" fill="none" stroke="#555" stroke-width="0.45"/>
<rect x="205.9" y="9.0" width="152.9" height="108.4" fill="none" stroke="#8a8a8a" stroke-width="1"/>
<line x1="203.9" x2="205.9" y1="9.0" y2="9.0" stroke="#888" stroke-width="0.8"/>
<text x="202.9" y="12.5" font-size="8" text-anchor="end">44N</text>
<line x1="203.9" x2="205.9" y1="35.4" y2="35.4" stroke="#888" stroke-width="0.8"/>
<text x="202.9" y="38.9" font-size="8" text-anchor="end">42N</text>
<line x1="203.9" x2="205.9" y1="61.9" y2="61.9" stroke="#888" stroke-width="0.8"/>
<text x="202.9" y="65.4" font-size="8" text-anchor="end">40N</text>
<line x1="203.9" x2="205.9" y1="88.3" y2="88.3" stroke="#888" stroke-width="0.8"/>
<text x="202.9" y="91.8" font-size="8" text-anchor="end">38N</text>
<line x1="203.9" x2="205.9" y1="114.8" y2="114.8" stroke="#888" stroke-width="0.8"/>
<text x="202.9" y="118.3" font-size="8" text-anchor="end">36N</text>
<line x1="221.8" x2="221.8" y1="117.4" y2="119.4" stroke="#888" stroke-width="0.8"/>
<text x="221.8" y="126.5" font-size="8" text-anchor="middle">8W</text>
<line x1="243.3" x2="243.3" y1="117.4" y2="119.4" stroke="#888" stroke-width="0.8"/>
<text x="243.3" y="126.5" font-size="8" text-anchor="middle">6W</text>
<line x1="264.8" x2="264.8" y1="117.4" y2="119.4" stroke="#888" stroke-width="0.8"/>
<text x="264.8" y="126.5" font-size="8" text-anchor="middle">4W</text>
<line x1="286.3" x2="286.3" y1="117.4" y2="119.4" stroke="#888" stroke-width="0.8"/>
<text x="286.3" y="126.5" font-size="8" text-anchor="middle">2W</text>
<line x1="307.8" x2="307.8" y1="117.4" y2="119.4" stroke="#888" stroke-width="0.8"/>
<text x="307.8" y="126.5" font-size="8" text-anchor="middle">0</text>
<line x1="329.3" x2="329.3" y1="117.4" y2="119.4" stroke="#888" stroke-width="0.8"/>
<text x="329.3" y="126.5" font-size="8" text-anchor="middle">2E</text>
<line x1="350.8" x2="350.8" y1="117.4" y2="119.4" stroke="#888" stroke-width="0.8"/>
<text x="350.8" y="126.5" font-size="8" text-anchor="middle">4E</text>
<linearGradient id="cbg1" gradientUnits="userSpaceOnUse" x1="213.2" x2="351.5" y1="0" y2="0"><stop offset="0.000" stop-color="#67000d"/><stop offset="0.125" stop-color="#a50f15"/><stop offset="0.250" stop-color="#cb181d"/><stop offset="0.375" stop-color="#ef3b2c"/><stop offset="0.500" stop-color="#fb6a4a"/><stop offset="0.625" stop-color="#fc9272"/><stop offset="0.750" stop-color="#fcbba1"/><stop offset="0.875" stop-color="#fee0d2"/><stop offset="1.000" stop-color="#fff5f0"/></linearGradient>
<path d="M206.2 133.9 L213.2 131.8 L351.5 131.8 L358.5 133.9 L351.5 136.1 L213.2 136.1 Z" fill="url(#cbg1)" stroke="#555" stroke-width="0.45"/>
<line x1="213.2" x2="213.2" y1="136.1" y2="137.4" stroke="#555" stroke-width="0.6"/>
<text x="213.2" y="145.1" font-size="8" text-anchor="middle">−65</text>
<line x1="240.9" x2="240.9" y1="136.1" y2="137.4" stroke="#555" stroke-width="0.6"/>
<text x="240.9" y="145.1" font-size="8" text-anchor="middle">−60</text>
<line x1="268.5" x2="268.5" y1="136.1" y2="137.4" stroke="#555" stroke-width="0.6"/>
<text x="268.5" y="145.1" font-size="8" text-anchor="middle">−55</text>
<line x1="296.2" x2="296.2" y1="136.1" y2="137.4" stroke="#555" stroke-width="0.6"/>
<text x="296.2" y="145.1" font-size="8" text-anchor="middle">−50</text>
<line x1="323.8" x2="323.8" y1="136.1" y2="137.4" stroke="#555" stroke-width="0.6"/>
<text x="323.8" y="145.1" font-size="8" text-anchor="middle">−45</text>
<line x1="351.5" x2="351.5" y1="136.1" y2="137.4" stroke="#555" stroke-width="0.6"/>
<text x="351.5" y="145.1" font-size="8" text-anchor="middle">−40</text>
<text x="282.4" y="155.3" font-size="8.25" text-anchor="middle">rel. Negative Hit bias [%]</text>
<g clip-path="url(#sp2)"><g filter="url(#nf2)"><rect x="390.7" y="9.0" width="5.6" height="6.8" fill="#494949"/><rect x="396.1" y="9.0" width="5.6" height="6.8" fill="#424242"/><rect x="401.4" y="9.0" width="5.6" height="6.8" fill="#494949"/><rect x="406.8" y="9.0" width="5.6" height="6.8" fill="#494949"/><rect x="412.2" y="9.0" width="5.6" height="6.8" fill="#494949"/><rect x="417.6" y="9.0" width="5.6" height="6.8" fill="#2e2e2e"/><rect x="422.9" y="9.0" width="5.6" height="6.8" fill="#2e2e2e"/><rect x="428.3" y="9.0" width="5.6" height="6.8" fill="#2e2e2e"/><rect x="433.7" y="9.0" width="5.6" height="6.8" fill="#2e2e2e"/><rect x="439.1" y="9.0" width="5.6" height="6.8" fill="#5f5f5f"/><rect x="444.4" y="9.0" width="5.6" height="6.8" fill="#949494"/><rect x="449.8" y="9.0" width="5.6" height="6.8" fill="#a0a0a0"/><rect x="455.2" y="9.0" width="5.6" height="6.8" fill="#888888"/><rect x="460.6" y="9.0" width="5.6" height="6.8" fill="#717171"/><rect x="465.9" y="9.0" width="5.6" height="6.8" fill="#5c5c5c"/><rect x="471.3" y="9.0" width="5.6" height="6.8" fill="#525252"/><rect x="476.7" y="9.0" width="5.6" height="6.8" fill="#494949"/><rect x="482.1" y="9.0" width="5.6" height="6.8" fill="#494949"/><rect x="487.4" y="9.0" width="5.6" height="6.8" fill="#6c6c6c"/><rect x="492.8" y="9.0" width="5.6" height="6.8" fill="#676767"/><rect x="498.2" y="9.0" width="5.6" height="6.8" fill="#545454"/><rect x="503.6" y="9.0" width="5.6" height="6.8" fill="#494949"/><rect x="508.9" y="9.0" width="5.6" height="6.8" fill="#383838"/><rect x="514.3" y="9.0" width="5.6" height="6.8" fill="#2e2e2e"/><rect x="519.7" y="9.0" width="5.6" height="6.8" fill="#2e2e2e"/><rect x="525.0" y="9.0" width="5.6" height="6.8" fill="#2e2e2e"/><rect x="530.4" y="9.0" width="5.6" height="6.8" fill="#2e2e2e"/><rect x="535.8" y="9.0" width="5.6" height="6.8" fill="#2e2e2e"/><rect x="390.7" y="15.6" width="5.6" height="6.8" fill="#494949"/><rect x="396.1" y="15.6" width="5.6" height="6.8" fill="#494949"/><rect x="401.4" y="15.6" width="5.6" height="6.8" fill="#2e2e2e"/><rect x="406.8" y="15.6" width="5.6" height="6.8" fill="#494949"/><rect x="412.2" y="15.6" width="5.6" height="6.8" fill="#2e2e2e"/><rect x="417.6" y="15.6" width="5.6" height="6.8" fill="#2e2e2e"/><rect x="422.9" y="15.6" width="5.6" height="6.8" fill="#494949"/><rect x="428.3" y="15.6" width="5.6" height="6.8" fill="#494949"/><rect x="433.7" y="15.6" width="5.6" height="6.8" fill="#494949"/><rect x="439.1" y="15.6" width="5.6" height="6.8" fill="#676767"/><rect x="444.4" y="15.6" width="5.6" height="6.8" fill="#adadad"/><rect x="449.8" y="15.6" width="5.6" height="6.8" fill="#adadad"/><rect x="455.2" y="15.6" width="5.6" height="6.8" fill="#888888"/><rect x="460.6" y="15.6" width="5.6" height="6.8" fill="#676767"/><rect x="465.9" y="15.6" width="5.6" height="6.8" fill="#676767"/><rect x="471.3" y="15.6" width="5.6" height="6.8" fill="#494949"/><rect x="476.7" y="15.6" width="5.6" height="6.8" fill="#494949"/><rect x="482.1" y="15.6" width="5.6" height="6.8" fill="#676767"/><rect x="487.4" y="15.6" width="5.6" height="6.8" fill="#7c7c7c"/><rect x="492.8" y="15.6" width="5.6" height="6.8" fill="#717171"/><rect x="498.2" y="15.6" width="5.6" height="6.8" fill="#5c5c5c"/><rect x="503.6" y="15.6" width="5.6" height="6.8" fill="#3f3f3f"/><rect x="508.9" y="15.6" width="5.6" height="6.8" fill="#2e2e2e"/><rect x="514.3" y="15.6" width="5.6" height="6.8" fill="#2e2e2e"/><rect x="519.7" y="15.6" width="5.6" height="6.8" fill="#2e2e2e"/><rect x="525.0" y="15.6" width="5.6" height="6.8" fill="#2e2e2e"/><rect x="530.4" y="15.6" width="5.6" height="6.8" fill="#2e2e2e"/><rect x="535.8" y="15.6" width="5.6" height="6.8" fill="#2e2e2e"/><rect x="390.7" y="22.2" width="5.6" height="6.8" fill="#494949"/><rect x="396.1" y="22.2" width="5.6" height="6.8" fill="#494949"/><rect x="401.4" y="22.2" width="5.6" height="6.8" fill="#2e2e2e"/><rect x="406.8" y="22.2" width="5.6" height="6.8" fill="#494949"/><rect x="412.2" y="22.2" width="5.6" height="6.8" fill="#676767"/><rect x="417.6" y="22.2" width="5.6" height="6.8" fill="#494949"/><rect x="422.9" y="22.2" width="5.6" height="6.8" fill="#2e2e2e"/><rect x="428.3" y="22.2" width="5.6" height="6.8" fill="#494949"/><rect x="433.7" y="22.2" width="5.6" height="6.8" fill="#494949"/><rect x="439.1" y="22.2" width="5.6" height="6.8" fill="#2e2e2e"/><rect x="444.4" y="22.2" width="5.6" height="6.8" fill="#676767"/><rect x="449.8" y="22.2" width="5.6" height="6.8" fill="#888888"/><rect x="455.2" y="22.2" width="5.6" height="6.8" fill="#676767"/><rect x="460.6" y="22.2" width="5.6" height="6.8" fill="#494949"/><rect x="465.9" y="22.2" width="5.6" height="6.8" fill="#494949"/><rect x="471.3" y="22.2" width="5.6" height="6.8" fill="#494949"/><rect x="476.7" y="22.2" width="5.6" height="6.8" fill="#676767"/><rect x="482.1" y="22.2" width="5.6" height="6.8" fill="#888888"/><rect x="487.4" y="22.2" width="5.6" height="6.8" fill="#676767"/><rect x="492.8" y="22.2" width="5.6" height="6.8" fill="#888888"/><rect x="498.2" y="22.2" width="5.6" height="6.8" fill="#676767"/><rect x="503.6" y="22.2" width="5.6" height="6.8" fill="#2e2e2e"/><rect x="508.9" y="22.2" width="5.6" height="6.8" fill="#2e2e2e"/><rect x="514.3" y="22.2" width="5.6" height="6.8" fill="#2e2e2e"/><rect x="519.7" y="22.2" width="5.6" height="6.8" fill="#2e2e2e"/><rect x="525.0" y="22.2" width="5.6" height="6.8" fill="#2e2e2e"/><rect x="530.4" y="22.2" width="5.6" height="6.8" fill="#2e2e2e"/><rect x="535.8" y="22.2" width="5.6" height="6.8" fill="#2e2e2e"/><rect x="390.7" y="28.8" width="5.6" height="6.8" fill="#494949"/><rect x="396.1" y="28.8" width="5.6" height="6.8" fill="#494949"/><rect x="401.4" y="28.8" width="5.6" height="6.8" fill="#494949"/><rect x="406.8" y="28.8" width="5.6" height="6.8" fill="#494949"/><rect x="412.2" y="28.8" width="5.6" height="6.8" fill="#676767"/><rect x="417.6" y="28.8" width="5.6" height="6.8" fill="#2e2e2e"/><rect x="422.9" y="28.8" width="5.6" height="6.8" fill="#191919"/><rect x="428.3" y="28.8" width="5.6" height="6.8" fill="#080808"/><rect x="433.7" y="28.8" width="5.6" height="6.8" fill="#191919"/><rect x="439.1" y="28.8" width="5.6" height="6.8" fill="#080808"/><rect x="444.4" y="28.8" width="5.6" height="6.8" fill="#191919"/><rect x="449.8" y="28.8" width="5.6" height="6.8" fill="#191919"/><rect x="455.2" y="28.8" width="5.6" height="6.8" fill="#191919"/><rect x="460.6" y="28.8" width="5.6" height="6.8" fill="#191919"/><rect x="465.9" y="28.8" width="5.6" height="6.8" fill="#191919"/><rect x="471.3" y="28.8" width="5.6" height="6.8" fill="#191919"/><rect x="476.7" y="28.8" width="5.6" height="6.8" fill="#191919"/><rect x="482.1" y="28.8" width="5.6" height="6.8" fill="#2e2e2e"/><rect x="487.4" y="28.8" width="5.6" height="6.8" fill="#2e2e2e"/><rect x="492.8" y="28.8" width="5.6" height="6.8" fill="#2e2e2e"/><rect x="498.2" y="28.8" width="5.6" height="6.8" fill="#2e2e2e"/><rect x="503.6" y="28.8" width="5.6" height="6.8" fill="#2e2e2e"/><rect x="508.9" y="28.8" width="5.6" height="6.8" fill="#2e2e2e"/><rect x="514.3" y="28.8" width="5.6" height="6.8" fill="#2e2e2e"/><rect x="519.7" y="28.8" width="5.6" height="6.8" fill="#2e2e2e"/><rect x="525.0" y="28.8" width="5.6" height="6.8" fill="#2e2e2e"/><rect x="530.4" y="28.8" width="5.6" height="6.8" fill="#2e2e2e"/><rect x="535.8" y="28.8" width="5.6" height="6.8" fill="#2e2e2e"/><rect x="390.7" y="35.4" width="5.6" height="6.8" fill="#525252"/><rect x="396.1" y="35.4" width="5.6" height="6.8" fill="#676767"/><rect x="401.4" y="35.4" width="5.6" height="6.8" fill="#676767"/><rect x="406.8" y="35.4" width="5.6" height="6.8" fill="#676767"/><rect x="412.2" y="35.4" width="5.6" height="6.8" fill="#676767"/><rect x="417.6" y="35.4" width="5.6" height="6.8" fill="#494949"/><rect x="422.9" y="35.4" width="5.6" height="6.8" fill="#2e2e2e"/><rect x="428.3" y="35.4" width="5.6" height="6.8" fill="#191919"/><rect x="433.7" y="35.4" width="5.6" height="6.8" fill="#191919"/><rect x="439.1" y="35.4" width="5.6" height="6.8" fill="#191919"/><rect x="444.4" y="35.4" width="5.6" height="6.8" fill="#191919"/><rect x="449.8" y="35.4" width="5.6" height="6.8" fill="#2e2e2e"/><rect x="455.2" y="35.4" width="5.6" height="6.8" fill="#2e2e2e"/><rect x="460.6" y="35.4" width="5.6" height="6.8" fill="#494949"/><rect x="465.9" y="35.4" width="5.6" height="6.8" fill="#191919"/><rect x="471.3" y="35.4" width="5.6" height="6.8" fill="#191919"/><rect x="476.7" y="35.4" width="5.6" height="6.8" fill="#191919"/><rect x="482.1" y="35.4" width="5.6" height="6.8" fill="#191919"/><rect x="487.4" y="35.4" width="5.6" height="6.8" fill="#191919"/><rect x="492.8" y="35.4" width="5.6" height="6.8" fill="#191919"/><rect x="498.2" y="35.4" width="5.6" height="6.8" fill="#2e2e2e"/><rect x="503.6" y="35.4" width="5.6" height="6.8" fill="#191919"/><rect x="508.9" y="35.4" width="5.6" height="6.8" fill="#2e2e2e"/><rect x="514.3" y="35.4" width="5.6" height="6.8" fill="#2e2e2e"/><rect x="519.7" y="35.4" width="5.6" height="6.8" fill="#2e2e2e"/><rect x="525.0" y="35.4" width="5.6" height="6.8" fill="#2e2e2e"/><rect x="530.4" y="35.4" width="5.6" height="6.8" fill="#2e2e2e"/><rect x="535.8" y="35.4" width="5.6" height="6.8" fill="#2e2e2e"/><rect x="390.7" y="42.1" width="5.6" height="6.8" fill="#676767"/><rect x="396.1" y="42.1" width="5.6" height="6.8" fill="#676767"/><rect x="401.4" y="42.1" width="5.6" height="6.8" fill="#676767"/><rect x="406.8" y="42.1" width="5.6" height="6.8" fill="#676767"/><rect x="412.2" y="42.1" width="5.6" height="6.8" fill="#3e3e3e"/><rect x="417.6" y="42.1" width="5.6" height="6.8" fill="#191919"/><rect x="422.9" y="42.1" width="5.6" height="6.8" fill="#191919"/><rect x="428.3" y="42.1" width="5.6" height="6.8" fill="#191919"/><rect x="433.7" y="42.1" width="5.6" height="6.8" fill="#191919"/><rect x="439.1" y="42.1" width="5.6" height="6.8" fill="#191919"/><rect x="444.4" y="42.1" width="5.6" height="6.8" fill="#191919"/><rect x="449.8" y="42.1" width="5.6" height="6.8" fill="#2e2e2e"/><rect x="455.2" y="42.1" width="5.6" height="6.8" fill="#494949"/><rect x="460.6" y="42.1" width="5.6" height="6.8" fill="#494949"/><rect x="465.9" y="42.1" width="5.6" height="6.8" fill="#494949"/><rect x="471.3" y="42.1" width="5.6" height="6.8" fill="#2e2e2e"/><rect x="476.7" y="42.1" width="5.6" height="6.8" fill="#191919"/><rect x="482.1" y="42.1" width="5.6" height="6.8" fill="#191919"/><rect x="487.4" y="42.1" width="5.6" height="6.8" fill="#191919"/><rect x="492.8" y="42.1" width="5.6" height="6.8" fill="#2e2e2e"/><rect x="498.2" y="42.1" width="5.6" height="6.8" fill="#2e2e2e"/><rect x="503.6" y="42.1" width="5.6" height="6.8" fill="#191919"/><rect x="508.9" y="42.1" width="5.6" height="6.8" fill="#191919"/><rect x="514.3" y="42.1" width="5.6" height="6.8" fill="#292929"/><rect x="519.7" y="42.1" width="5.6" height="6.8" fill="#2e2e2e"/><rect x="525.0" y="42.1" width="5.6" height="6.8" fill="#2e2e2e"/><rect x="530.4" y="42.1" width="5.6" height="6.8" fill="#383838"/><rect x="535.8" y="42.1" width="5.6" height="6.8" fill="#3f3f3f"/><rect x="390.7" y="48.7" width="5.6" height="6.8" fill="#676767"/><rect x="396.1" y="48.7" width="5.6" height="6.8" fill="#676767"/><rect x="401.4" y="48.7" width="5.6" height="6.8" fill="#545454"/><rect x="406.8" y="48.7" width="5.6" height="6.8" fill="#3b3b3b"/><rect x="412.2" y="48.7" width="5.6" height="6.8" fill="#1f1f1f"/><rect x="417.6" y="48.7" width="5.6" height="6.8" fill="#191919"/><rect x="422.9" y="48.7" width="5.6" height="6.8" fill="#191919"/><rect x="428.3" y="48.7" width="5.6" height="6.8" fill="#191919"/><rect x="433.7" y="48.7" width="5.6" height="6.8" fill="#191919"/><rect x="439.1" y="48.7" width="5.6" height="6.8" fill="#2e2e2e"/><rect x="444.4" y="48.7" width="5.6" height="6.8" fill="#2e2e2e"/><rect x="449.8" y="48.7" width="5.6" height="6.8" fill="#2e2e2e"/><rect x="455.2" y="48.7" width="5.6" height="6.8" fill="#2e2e2e"/><rect x="460.6" y="48.7" width="5.6" height="6.8" fill="#676767"/><rect x="465.9" y="48.7" width="5.6" height="6.8" fill="#676767"/><rect x="471.3" y="48.7" width="5.6" height="6.8" fill="#494949"/><rect x="476.7" y="48.7" width="5.6" height="6.8" fill="#2e2e2e"/><rect x="482.1" y="48.7" width="5.6" height="6.8" fill="#2e2e2e"/><rect x="487.4" y="48.7" width="5.6" height="6.8" fill="#2e2e2e"/><rect x="492.8" y="48.7" width="5.6" height="6.8" fill="#2e2e2e"/><rect x="498.2" y="48.7" width="5.6" height="6.8" fill="#2e2e2e"/><rect x="503.6" y="48.7" width="5.6" height="6.8" fill="#232323"/><rect x="508.9" y="48.7" width="5.6" height="6.8" fill="#191919"/><rect x="514.3" y="48.7" width="5.6" height="6.8" fill="#191919"/><rect x="519.7" y="48.7" width="5.6" height="6.8" fill="#494949"/><rect x="525.0" y="48.7" width="5.6" height="6.8" fill="#494949"/><rect x="530.4" y="48.7" width="5.6" height="6.8" fill="#494949"/><rect x="535.8" y="48.7" width="5.6" height="6.8" fill="#494949"/><rect x="390.7" y="55.3" width="5.6" height="6.8" fill="#676767"/><rect x="396.1" y="55.3" width="5.6" height="6.8" fill="#414141"/><rect x="401.4" y="55.3" width="5.6" height="6.8" fill="#191919"/><rect x="406.8" y="55.3" width="5.6" height="6.8" fill="#191919"/><rect x="412.2" y="55.3" width="5.6" height="6.8" fill="#1e1e1e"/><rect x="417.6" y="55.3" width="5.6" height="6.8" fill="#2e2e2e"/><rect x="422.9" y="55.3" width="5.6" height="6.8" fill="#2e2e2e"/><rect x="428.3" y="55.3" width="5.6" height="6.8" fill="#676767"/><rect x="433.7" y="55.3" width="5.6" height="6.8" fill="#888888"/><rect x="439.1" y="55.3" width="5.6" height="6.8" fill="#888888"/><rect x="444.4" y="55.3" width="5.6" height="6.8" fill="#494949"/><rect x="449.8" y="55.3" width="5.6" height="6.8" fill="#191919"/><rect x="455.2" y="55.3" width="5.6" height="6.8" fill="#191919"/><rect x="460.6" y="55.3" width="5.6" height="6.8" fill="#676767"/><rect x="465.9" y="55.3" width="5.6" height="6.8" fill="#888888"/><rect x="471.3" y="55.3" width="5.6" height="6.8" fill="#494949"/><rect x="476.7" y="55.3" width="5.6" height="6.8" fill="#2e2e2e"/><rect x="482.1" y="55.3" width="5.6" height="6.8" fill="#191919"/><rect x="487.4" y="55.3" width="5.6" height="6.8" fill="#191919"/><rect x="492.8" y="55.3" width="5.6" height="6.8" fill="#191919"/><rect x="498.2" y="55.3" width="5.6" height="6.8" fill="#272727"/><rect x="503.6" y="55.3" width="5.6" height="6.8" fill="#2e2e2e"/><rect x="508.9" y="55.3" width="5.6" height="6.8" fill="#383838"/><rect x="514.3" y="55.3" width="5.6" height="6.8" fill="#888888"/><rect x="519.7" y="55.3" width="5.6" height="6.8" fill="#888888"/><rect x="525.0" y="55.3" width="5.6" height="6.8" fill="#6f6f6f"/><rect x="530.4" y="55.3" width="5.6" height="6.8" fill="#494949"/><rect x="535.8" y="55.3" width="5.6" height="6.8" fill="#494949"/><rect x="390.7" y="61.9" width="5.6" height="6.8" fill="#2e2e2e"/><rect x="396.1" y="61.9" width="5.6" height="6.8" fill="#191919"/><rect x="401.4" y="61.9" width="5.6" height="6.8" fill="#191919"/><rect x="406.8" y="61.9" width="5.6" height="6.8" fill="#191919"/><rect x="412.2" y="61.9" width="5.6" height="6.8" fill="#191919"/><rect x="417.6" y="61.9" width="5.6" height="6.8" fill="#191919"/><rect x="422.9" y="61.9" width="5.6" height="6.8" fill="#2e2e2e"/><rect x="428.3" y="61.9" width="5.6" height="6.8" fill="#494949"/><rect x="433.7" y="61.9" width="5.6" height="6.8" fill="#676767"/><rect x="439.1" y="61.9" width="5.6" height="6.8" fill="#494949"/><rect x="444.4" y="61.9" width="5.6" height="6.8" fill="#494949"/><rect x="449.8" y="61.9" width="5.6" height="6.8" fill="#2e2e2e"/><rect x="455.2" y="61.9" width="5.6" height="6.8" fill="#2e2e2e"/><rect x="460.6" y="61.9" width="5.6" height="6.8" fill="#2e2e2e"/><rect x="465.9" y="61.9" width="5.6" height="6.8" fill="#2e2e2e"/><rect x="471.3" y="61.9" width="5.6" height="6.8" fill="#2e2e2e"/><rect x="476.7" y="61.9" width="5.6" height="6.8" fill="#494949"/><rect x="482.1" y="61.9" width="5.6" height="6.8" fill="#494949"/><rect x="487.4" y="61.9" width="5.6" height="6.8" fill="#191919"/><rect x="492.8" y="61.9" width="5.6" height="6.8" fill="#292929"/><rect x="498.2" y="61.9" width="5.6" height="6.8" fill="#2e2e2e"/><rect x="503.6" y="61.9" width="5.6" height="6.8" fill="#494949"/><rect x="508.9" y="61.9" width="5.6" height="6.8" fill="#494949"/><rect x="514.3" y="61.9" width="5.6" height="6.8" fill="#525252"/><rect x="519.7" y="61.9" width="5.6" height="6.8" fill="#888888"/><rect x="525.0" y="61.9" width="5.6" height="6.8" fill="#888888"/><rect x="530.4" y="61.9" width="5.6" height="6.8" fill="#676767"/><rect x="535.8" y="61.9" width="5.6" height="6.8" fill="#525252"/><rect x="390.7" y="68.5" width="5.6" height="6.8" fill="#2e2e2e"/><rect x="396.1" y="68.5" width="5.6" height="6.8" fill="#252525"/><rect x="401.4" y="68.5" width="5.6" height="6.8" fill="#191919"/><rect x="406.8" y="68.5" width="5.6" height="6.8" fill="#191919"/><rect x="412.2" y="68.5" width="5.6" height="6.8" fill="#191919"/><rect x="417.6" y="68.5" width="5.6" height="6.8" fill="#191919"/><rect x="422.9" y="68.5" width="5.6" height="6.8" fill="#191919"/><rect x="428.3" y="68.5" width="5.6" height="6.8" fill="#2e2e2e"/><rect x="433.7" y="68.5" width="5.6" height="6.8" fill="#191919"/><rect x="439.1" y="68.5" width="5.6" height="6.8" fill="#2e2e2e"/><rect x="444.4" y="68.5" width="5.6" height="6.8" fill="#2e2e2e"/><rect x="449.8" y="68.5" width="5.6" height="6.8" fill="#191919"/><rect x="455.2" y="68.5" width="5.6" height="6.8" fill="#191919"/><rect x="460.6" y="68.5" width="5.6" height="6.8" fill="#2e2e2e"/><rect x="465.9" y="68.5" width="5.6" height="6.8" fill="#2e2e2e"/><rect x="471.3" y="68.5" width="5.6" height="6.8" fill="#191919"/><rect x="476.7" y="68.5" width="5.6" height="6.8" fill="#2e2e2e"/><rect x="482.1" y="68.5" width="5.6" height="6.8" fill="#494949"/><rect x="487.4" y="68.5" width="5.6" height="6.8" fill="#676767"/><rect x="492.8" y="68.5" width="5.6" height="6.8" fill="#505050"/><rect x="498.2" y="68.5" width="5.6" height="6.8" fill="#494949"/><rect x="503.6" y="68.5" width="5.6" height="6.8" fill="#494949"/><rect x="508.9" y="68.5" width="5.6" height="6.8" fill="#494949"/><rect x="514.3" y="68.5" width="5.6" height="6.8" fill="#505050"/><rect x="519.7" y="68.5" width="5.6" height="6.8" fill="#2e2e2e"/><rect x="525.0" y="68.5" width="5.6" height="6.8" fill="#2e2e2e"/><rect x="530.4" y="68.5" width="5.6" height="6.8" fill="#5c5c5c"/><rect x="535.8" y="68.5" width="5.6" height="6.8" fill="#676767"/><rect x="390.7" y="75.1" width="5.6" height="6.8" fill="#2e2e2e"/><rect x="396.1" y="75.1" width="5.6" height="6.8" fill="#2b2b2b"/><rect x="401.4" y="75.1" width="5.6" height="6.8" fill="#252525"/><rect x="406.8" y="75.1" width="5.6" height="6.8" fill="#191919"/><rect x="412.2" y="75.1" width="5.6" height="6.8" fill="#191919"/><rect x="417.6" y="75.1" width="5.6" height="6.8" fill="#191919"/><rect x="422.9" y="75.1" width="5.6" height="6.8" fill="#191919"/><rect x="428.3" y="75.1" width="5.6" height="6.8" fill="#191919"/><rect x="433.7" y="75.1" width="5.6" height="6.8" fill="#191919"/><rect x="439.1" y="75.1" width="5.6" height="6.8" fill="#191919"/><rect x="444.4" y="75.1" width="5.6" height="6.8" fill="#191919"/><rect x="449.8" y="75.1" width="5.6" height="6.8" fill="#2e2e2e"/><rect x="455.2" y="75.1" width="5.6" height="6.8" fill="#2e2e2e"/><rect x="460.6" y="75.1" width="5.6" height="6.8" fill="#494949"/><rect x="465.9" y="75.1" width="5.6" height="6.8" fill="#2e2e2e"/><rect x="471.3" y="75.1" width="5.6" height="6.8" fill="#191919"/><rect x="476.7" y="75.1" width="5.6" height="6.8" fill="#2e2e2e"/><rect x="482.1" y="75.1" width="5.6" height="6.8" fill="#676767"/><rect x="487.4" y="75.1" width="5.6" height="6.8" fill="#888888"/><rect x="492.8" y="75.1" width="5.6" height="6.8" fill="#494949"/><rect x="498.2" y="75.1" width="5.6" height="6.8" fill="#494949"/><rect x="503.6" y="75.1" width="5.6" height="6.8" fill="#494949"/><rect x="508.9" y="75.1" width="5.6" height="6.8" fill="#494949"/><rect x="514.3" y="75.1" width="5.6" height="6.8" fill="#3f3f3f"/><rect x="519.7" y="75.1" width="5.6" height="6.8" fill="#2e2e2e"/><rect x="525.0" y="75.1" width="5.6" height="6.8" fill="#2e2e2e"/><rect x="530.4" y="75.1" width="5.6" height="6.8" fill="#2e2e2e"/><rect x="535.8" y="75.1" width="5.6" height="6.8" fill="#5c5c5c"/><rect x="390.7" y="81.7" width="5.6" height="6.8" fill="#2e2e2e"/><rect x="396.1" y="81.7" width="5.6" height="6.8" fill="#2b2b2b"/><rect x="401.4" y="81.7" width="5.6" height="6.8" fill="#2e2e2e"/><rect x="406.8" y="81.7" width="5.6" height="6.8" fill="#2e2e2e"/><rect x="412.2" y="81.7" width="5.6" height="6.8" fill="#191919"/><rect x="417.6" y="81.7" width="5.6" height="6.8" fill="#2e2e2e"/><rect x="422.9" y="81.7" width="5.6" height="6.8" fill="#2e2e2e"/><rect x="428.3" y="81.7" width="5.6" height="6.8" fill="#2e2e2e"/><rect x="433.7" y="81.7" width="5.6" height="6.8" fill="#191919"/><rect x="439.1" y="81.7" width="5.6" height="6.8" fill="#191919"/><rect x="444.4" y="81.7" width="5.6" height="6.8" fill="#2e2e2e"/><rect x="449.8" y="81.7" width="5.6" height="6.8" fill="#494949"/><rect x="455.2" y="81.7" width="5.6" height="6.8" fill="#494949"/><rect x="460.6" y="81.7" width="5.6" height="6.8" fill="#888888"/><rect x="465.9" y="81.7" width="5.6" height="6.8" fill="#494949"/><rect x="471.3" y="81.7" width="5.6" height="6.8" fill="#2e2e2e"/><rect x="476.7" y="81.7" width="5.6" height="6.8" fill="#2e2e2e"/><rect x="482.1" y="81.7" width="5.6" height="6.8" fill="#2e2e2e"/><rect x="487.4" y="81.7" width="5.6" height="6.8" fill="#2e2e2e"/><rect x="492.8" y="81.7" width="5.6" height="6.8" fill="#525252"/><rect x="498.2" y="81.7" width="5.6" height="6.8" fill="#494949"/><rect x="503.6" y="81.7" width="5.6" height="6.8" fill="#494949"/><rect x="508.9" y="81.7" width="5.6" height="6.8" fill="#494949"/><rect x="514.3" y="81.7" width="5.6" height="6.8" fill="#494949"/><rect x="519.7" y="81.7" width="5.6" height="6.8" fill="#3b3b3b"/><rect x="525.0" y="81.7" width="5.6" height="6.8" fill="#2e2e2e"/><rect x="530.4" y="81.7" width="5.6" height="6.8" fill="#2e2e2e"/><rect x="535.8" y="81.7" width="5.6" height="6.8" fill="#2e2e2e"/><rect x="390.7" y="88.3" width="5.6" height="6.8" fill="#2e2e2e"/><rect x="396.1" y="88.3" width="5.6" height="6.8" fill="#2e2e2e"/><rect x="401.4" y="88.3" width="5.6" height="6.8" fill="#353535"/><rect x="406.8" y="88.3" width="5.6" height="6.8" fill="#3f3f3f"/><rect x="412.2" y="88.3" width="5.6" height="6.8" fill="#676767"/><rect x="417.6" y="88.3" width="5.6" height="6.8" fill="#676767"/><rect x="422.9" y="88.3" width="5.6" height="6.8" fill="#676767"/><rect x="428.3" y="88.3" width="5.6" height="6.8" fill="#494949"/><rect x="433.7" y="88.3" width="5.6" height="6.8" fill="#494949"/><rect x="439.1" y="88.3" width="5.6" height="6.8" fill="#494949"/><rect x="444.4" y="88.3" width="5.6" height="6.8" fill="#494949"/><rect x="449.8" y="88.3" width="5.6" height="6.8" fill="#494949"/><rect x="455.2" y="88.3" width="5.6" height="6.8" fill="#676767"/><rect x="460.6" y="88.3" width="5.6" height="6.8" fill="#888888"/><rect x="465.9" y="88.3" width="5.6" height="6.8" fill="#494949"/><rect x="471.3" y="88.3" width="5.6" height="6.8" fill="#494949"/><rect x="476.7" y="88.3" width="5.6" height="6.8" fill="#2e2e2e"/><rect x="482.1" y="88.3" width="5.6" height="6.8" fill="#2e2e2e"/><rect x="487.4" y="88.3" width="5.6" height="6.8" fill="#2e2e2e"/><rect x="492.8" y="88.3" width="5.6" height="6.8" fill="#2e2e2e"/><rect x="498.2" y="88.3" width="5.6" height="6.8" fill="#4e4e4e"/><rect x="503.6" y="88.3" width="5.6" height="6.8" fill="#494949"/><rect x="508.9" y="88.3" width="5.6" height="6.8" fill="#494949"/><rect x="514.3" y="88.3" width="5.6" height="6.8" fill="#494949"/><rect x="519.7" y="88.3" width="5.6" height="6.8" fill="#494949"/><rect x="525.0" y="88.3" width="5.6" height="6.8" fill="#3b3b3b"/><rect x="530.4" y="88.3" width="5.6" height="6.8" fill="#2e2e2e"/><rect x="535.8" y="88.3" width="5.6" height="6.8" fill="#2e2e2e"/><rect x="390.7" y="94.9" width="5.6" height="6.8" fill="#2e2e2e"/><rect x="396.1" y="94.9" width="5.6" height="6.8" fill="#353535"/><rect x="401.4" y="94.9" width="5.6" height="6.8" fill="#3f3f3f"/><rect x="406.8" y="94.9" width="5.6" height="6.8" fill="#575757"/><rect x="412.2" y="94.9" width="5.6" height="6.8" fill="#494949"/><rect x="417.6" y="94.9" width="5.6" height="6.8" fill="#676767"/><rect x="422.9" y="94.9" width="5.6" height="6.8" fill="#494949"/><rect x="428.3" y="94.9" width="5.6" height="6.8" fill="#494949"/><rect x="433.7" y="94.9" width="5.6" height="6.8" fill="#494949"/><rect x="439.1" y="94.9" width="5.6" height="6.8" fill="#494949"/><rect x="444.4" y="94.9" width="5.6" height="6.8" fill="#494949"/><rect x="449.8" y="94.9" width="5.6" height="6.8" fill="#494949"/><rect x="455.2" y="94.9" width="5.6" height="6.8" fill="#494949"/><rect x="460.6" y="94.9" width="5.6" height="6.8" fill="#676767"/><rect x="465.9" y="94.9" width="5.6" height="6.8" fill="#494949"/><rect x="471.3" y="94.9" width="5.6" height="6.8" fill="#2e2e2e"/><rect x="476.7" y="94.9" width="5.6" height="6.8" fill="#353535"/><rect x="482.1" y="94.9" width="5.6" height="6.8" fill="#2e2e2e"/><rect x="487.4" y="94.9" width="5.6" height="6.8" fill="#2e2e2e"/><rect x="492.8" y="94.9" width="5.6" height="6.8" fill="#2e2e2e"/><rect x="498.2" y="94.9" width="5.6" height="6.8" fill="#2e2e2e"/><rect x="503.6" y="94.9" width="5.6" height="6.8" fill="#4e4e4e"/><rect x="508.9" y="94.9" width="5.6" height="6.8" fill="#494949"/><rect x="514.3" y="94.9" width="5.6" height="6.8" fill="#494949"/><rect x="519.7" y="94.9" width="5.6" height="6.8" fill="#494949"/><rect x="525.0" y="94.9" width="5.6" height="6.8" fill="#494949"/><rect x="530.4" y="94.9" width="5.6" height="6.8" fill="#2e2e2e"/><rect x="535.8" y="94.9" width="5.6" height="6.8" fill="#2e2e2e"/><rect x="390.7" y="101.5" width="5.6" height="6.8" fill="#2e2e2e"/><rect x="396.1" y="101.5" width="5.6" height="6.8" fill="#3f3f3f"/><rect x="401.4" y="101.5" width="5.6" height="6.8" fill="#575757"/><rect x="406.8" y="101.5" width="5.6" height="6.8" fill="#494949"/><rect x="412.2" y="101.5" width="5.6" height="6.8" fill="#575757"/><rect x="417.6" y="101.5" width="5.6" height="6.8" fill="#505050"/><rect x="422.9" y="101.5" width="5.6" height="6.8" fill="#494949"/><rect x="428.3" y="101.5" width="5.6" height="6.8" fill="#494949"/><rect x="433.7" y="101.5" width="5.6" height="6.8" fill="#888888"/><rect x="439.1" y="101.5" width="5.6" height="6.8" fill="#494949"/><rect x="444.4" y="101.5" width="5.6" height="6.8" fill="#494949"/><rect x="449.8" y="101.5" width="5.6" height="6.8" fill="#494949"/><rect x="455.2" y="101.5" width="5.6" height="6.8" fill="#494949"/><rect x="460.6" y="101.5" width="5.6" height="6.8" fill="#494949"/><rect x="465.9" y="101.5" width="5.6" height="6.8" fill="#2e2e2e"/><rect x="471.3" y="101.5" width="5.6" height="6.8" fill="#373737"/><rect x="476.7" y="101.5" width="5.6" height="6.8" fill="#2e2e2e"/><rect x="482.1" y="101.5" width="5.6" height="6.8" fill="#353535"/><rect x="487.4" y="101.5" width="5.6" height="6.8" fill="#2e2e2e"/><rect x="492.8" y="101.5" width="5.6" height="6.8" fill="#2e2e2e"/><rect x="498.2" y="101.5" width="5.6" height="6.8" fill="#2e2e2e"/><rect x="503.6" y="101.5" width="5.6" height="6.8" fill="#2e2e2e"/><rect x="508.9" y="101.5" width="5.6" height="6.8" fill="#2e2e2e"/><rect x="514.3" y="101.5" width="5.6" height="6.8" fill="#2e2e2e"/><rect x="519.7" y="101.5" width="5.6" height="6.8" fill="#2e2e2e"/><rect x="525.0" y="101.5" width="5.6" height="6.8" fill="#2e2e2e"/><rect x="530.4" y="101.5" width="5.6" height="6.8" fill="#2e2e2e"/><rect x="535.8" y="101.5" width="5.6" height="6.8" fill="#2e2e2e"/><rect x="390.7" y="108.2" width="5.6" height="6.8" fill="#2e2e2e"/><rect x="396.1" y="108.2" width="5.6" height="6.8" fill="#575757"/><rect x="401.4" y="108.2" width="5.6" height="6.8" fill="#494949"/><rect x="406.8" y="108.2" width="5.6" height="6.8" fill="#575757"/><rect x="412.2" y="108.2" width="5.6" height="6.8" fill="#505050"/><rect x="417.6" y="108.2" width="5.6" height="6.8" fill="#494949"/><rect x="422.9" y="108.2" width="5.6" height="6.8" fill="#525252"/><rect x="428.3" y="108.2" width="5.6" height="6.8" fill="#676767"/><rect x="433.7" y="108.2" width="5.6" height="6.8" fill="#888888"/><rect x="439.1" y="108.2" width="5.6" height="6.8" fill="#494949"/><rect x="444.4" y="108.2" width="5.6" height="6.8" fill="#494949"/><rect x="449.8" y="108.2" width="5.6" height="6.8" fill="#494949"/><rect x="455.2" y="108.2" width="5.6" height="6.8" fill="#494949"/><rect x="460.6" y="108.2" width="5.6" height="6.8" fill="#3f3f3f"/><rect x="465.9" y="108.2" width="5.6" height="6.8" fill="#3b3b3b"/><rect x="471.3" y="108.2" width="5.6" height="6.8" fill="#2e2e2e"/><rect x="476.7" y="108.2" width="5.6" height="6.8" fill="#373737"/><rect x="482.1" y="108.2" width="5.6" height="6.8" fill="#2e2e2e"/><rect x="487.4" y="108.2" width="5.6" height="6.8" fill="#353535"/><rect x="492.8" y="108.2" width="5.6" height="6.8" fill="#2e2e2e"/><rect x="498.2" y="108.2" width="5.6" height="6.8" fill="#2e2e2e"/><rect x="503.6" y="108.2" width="5.6" height="6.8" fill="#2e2e2e"/><rect x="508.9" y="108.2" width="5.6" height="6.8" fill="#2e2e2e"/><rect x="514.3" y="108.2" width="5.6" height="6.8" fill="#2e2e2e"/><rect x="519.7" y="108.2" width="5.6" height="6.8" fill="#2e2e2e"/><rect x="525.0" y="108.2" width="5.6" height="6.8" fill="#2e2e2e"/><rect x="530.4" y="108.2" width="5.6" height="6.8" fill="#2e2e2e"/><rect x="535.8" y="108.2" width="5.6" height="6.8" fill="#2e2e2e"/><polyline points="428.3,58.6 436.9,57.9 446.6,57.3" fill="none" stroke="#e9e9e9" stroke-width="2.3" stroke-linecap="round" stroke-linejoin="round"/><polyline points="465.9,80.4 461.6,89.6" fill="none" stroke="#c0c0c0" stroke-width="2.3" stroke-linecap="round" stroke-linejoin="round"/><polyline points="487.4,73.8 490.7,77.7" fill="none" stroke="#e9e9e9" stroke-width="2.4" stroke-linecap="round" stroke-linejoin="round"/><polyline points="441.2,21.6 455.2,22.2" fill="none" stroke="#c0c0c0" stroke-width="2.4" stroke-linecap="round" stroke-linejoin="round"/><polyline points="494.9,26.2 502.5,26.8" fill="none" stroke="#c0c0c0" stroke-width="2.3" stroke-linecap="round" stroke-linejoin="round"/><polyline points="459.5,31.5 462.7,35.4" fill="none" stroke="#c0c0c0" stroke-width="2.4" stroke-linecap="round" stroke-linejoin="round"/><polyline points="429.4,105.5 434.8,108.2" fill="none" stroke="#c0c0c0" stroke-width="2.4" stroke-linecap="round" stroke-linejoin="round"/><polyline points="487.4,25.5 494.9,26.2" fill="none" stroke="#c0c0c0" stroke-width="2.3" stroke-linecap="round" stroke-linejoin="round"/></g></g>
<path d="M417.0 14.9 L419.2 19.6 L418.1 23.5 L419.7 28.8 L417.6 31.5 L420.2 34.8 L421.9 36.1 M419.2 20.2 L426.1 22.9 L433.7 21.6 L439.1 20.9 L443.9 19.6 L444.4 16.9 M443.9 19.6 L446.6 22.2 L449.8 24.2 L451.9 24.9 L454.1 22.2 L457.3 20.9 L458.9 17.6 M457.3 20.9 L459.5 23.5 L461.6 26.2 L465.9 27.5 L471.3 26.2 L474.0 18.3 M459.5 23.5 L459.5 27.5 L462.7 34.1 L469.2 35.4 L473.4 36.1 L474.5 32.8 L471.3 29.5 L465.9 27.5 M484.7 22.9 L481.0 28.8 L477.8 34.1 L473.4 36.1 M473.4 36.1 L471.3 42.1 L472.4 46.0 M500.3 24.2 L499.2 31.5 L497.1 38.1 L496.6 42.1 L494.9 48.7 L495.5 52.6 L498.2 55.3 M495.5 52.6 L490.7 52.6 L486.4 56.6 L484.2 61.9 L481.0 61.9 M481.0 61.9 L474.5 53.9 L472.4 46.0 M443.4 57.9 L447.7 53.9 L450.9 50.0 L456.2 46.7 L459.5 48.7 M443.4 57.9 L445.5 59.2 L451.9 61.9 L459.5 61.9 L459.5 55.3 L459.5 48.7 M459.5 48.7 L464.9 46.0 L472.4 46.0 M418.6 58.6 L426.1 56.6 L432.6 59.2 L439.1 60.6 L443.4 57.9 M439.1 60.6 L435.8 68.5 L439.1 72.5 L436.9 77.7 L438.0 79.1 M416.5 88.3 L421.9 88.3 L428.3 88.3 L432.6 85.7 L435.8 81.0 L438.0 79.1 M438.0 79.1 L442.3 80.4 L447.7 83.0 L455.2 82.4 L462.7 83.0 L467.0 85.7 M467.0 85.7 L469.2 89.6 L471.3 93.6 L474.5 96.3 M467.0 85.7 L473.4 80.4 L476.7 81.7 L481.0 81.0 M481.0 81.0 L482.1 84.4 L483.1 88.3 L484.7 90.3 M481.0 81.0 L482.1 76.4 L478.8 71.1 L476.7 67.2 L478.8 63.2 L481.0 61.9" fill="none" stroke="#5a5a5a" stroke-width="0.45" stroke-opacity="0.9"/>
<path d="M397.4 37.2 L397.3 34.8 L398.0 33.9 L399.1 32.5 L397.3 32.1 L399.3 30.4 L397.1 29.5 L398.0 28.2 L396.6 27.8 L395.5 27.8 L395.7 26.2 L394.8 25.1 L393.1 23.5 L393.7 22.2 L392.8 21.2 L394.1 20.0 L396.6 18.7 L399.3 18.0 L402.0 17.2 L403.6 16.9 L404.1 15.6 L405.7 13.6 L408.1 12.2 L410.2 11.8 L411.6 12.7 L414.3 14.0 L417.0 14.8 L420.8 14.7 L425.1 14.7 L428.3 14.6 L429.9 13.6 L431.5 14.8 L434.8 14.9 L438.0 15.9 L441.7 16.7 L444.4 16.9 L447.7 16.9 L450.9 16.0 L452.5 16.0 L455.7 16.3 L458.4 17.2 L460.6 17.2 L462.7 16.5 L465.9 17.2 L469.2 18.3 L471.8 18.0 L473.7 17.2 L475.6 18.5 L477.8 18.7 L478.0 21.6 L479.9 21.2 L482.6 22.2 L484.7 22.9 L486.9 24.9 L489.6 24.3 L492.8 26.3 L496.0 26.5 L499.8 24.2 L500.9 24.6 L501.9 25.9 L504.6 25.9 L508.4 27.5 L511.3 28.8 L513.8 29.5 L515.4 30.2 L519.7 30.8 L522.4 29.9 L525.6 29.5 L526.9 29.8 L528.5 31.2 L526.7 32.1 L527.0 33.9 L527.2 36.1 L525.6 38.1 L522.9 39.9 L519.7 41.4 L516.5 43.4 L513.2 45.4 L509.5 46.3 L505.7 47.3 L503.0 48.4 L501.9 50.6 L502.3 52.6 L500.3 53.3 L498.7 54.6 L497.1 57.3 L494.4 60.6 L492.3 62.5 L490.7 65.2 L489.4 68.5 L489.6 70.5 L490.4 73.1 L491.2 75.4 L493.3 76.7 L494.9 78.0 L493.9 79.3 L492.3 80.4 L490.1 81.7 L488.0 83.3 L486.9 85.4 L485.8 87.7 L485.1 90.3 L485.3 92.9 L483.1 93.9 L479.9 94.3 L477.2 95.6 L475.1 96.9 L473.4 98.9 L472.2 101.5 L470.8 104.2 L469.2 105.2 L467.0 103.9 L464.3 105.2 L460.6 105.0 L456.2 105.5 L451.9 105.0 L447.7 105.2 L445.0 105.8 L442.3 108.2 L439.1 108.8 L436.4 110.8 L435.3 112.8 L434.2 114.1 L432.6 114.8 L430.4 113.7 L428.3 112.1 L426.1 109.5 L425.1 107.5 L423.8 104.8 L422.9 102.2 L419.7 100.2 L417.6 98.9 L414.9 98.9 L413.0 99.2 L412.2 96.3 L412.7 92.9 L414.9 89.0 L417.6 87.7 L418.1 85.7 L416.5 85.7 L414.3 82.4 L414.9 79.7 L417.0 76.7 L417.6 75.8 L415.4 72.5 L414.3 69.2 L411.9 66.2 L417.6 66.2 L418.1 61.9 L419.7 58.6 L419.2 55.3 L419.7 50.6 L418.6 48.0 L420.8 46.0 L424.0 43.4 L426.1 41.0 L422.4 39.7 L421.9 36.1 L419.2 36.1 L415.4 37.0 L412.7 37.4 L410.0 37.0 L407.3 37.4 L405.7 36.8 L404.7 33.9 L402.0 34.4 L399.8 35.2 L397.4 37.2Z M518.1 67.6 L519.7 69.0 L522.0 68.2 L524.5 70.3 L525.6 71.5 L527.7 70.5 L529.9 65.8 L528.8 64.8 L527.2 63.2 L526.1 62.5 L524.5 63.2 L522.4 64.1 L520.2 65.8 L518.4 66.9Z M533.6 61.9 L534.2 62.8 L536.9 63.6 L539.0 64.3 L539.2 63.5 L538.0 61.9 L535.8 61.1 L534.2 61.1Z M505.7 76.7 L507.3 77.1 L508.4 76.2 L510.0 75.1 L509.5 73.8 L507.3 74.0 L505.7 75.4Z M507.6 79.1 L508.4 79.5 L509.8 79.6 L508.9 78.7 L508.1 78.5Z" fill="none" stroke="#555" stroke-width="0.45"/>
<rect x="390.9" y="9.0" width="152.9" height="108.4" fill="none" stroke="#8a8a8a" stroke-width="1"/>
<line x1="388.9" x2="390.9" y1="9.0" y2="9.0" stroke="#888" stroke-width="0.8"/>
<text x="387.9" y="12.5" font-size="8" text-anchor="end">44N</text>
<line x1="388.9" x2="390.9" y1="35.4" y2="35.4" stroke="#888" stroke-width="0.8"/>
<text x="387.9" y="38.9" font-size="8" text-anchor="end">42N</text>
<line x1="388.9" x2="390.9" y1="61.9" y2="61.9" stroke="#888" stroke-width="0.8"/>
<text x="387.9" y="65.4" font-size="8" text-anchor="end">40N</text>
<line x1="388.9" x2="390.9" y1="88.3" y2="88.3" stroke="#888" stroke-width="0.8"/>
<text x="387.9" y="91.8" font-size="8" text-anchor="end">38N</text>
<line x1="388.9" x2="390.9" y1="114.8" y2="114.8" stroke="#888" stroke-width="0.8"/>
<text x="387.9" y="118.3" font-size="8" text-anchor="end">36N</text>
<line x1="406.8" x2="406.8" y1="117.4" y2="119.4" stroke="#888" stroke-width="0.8"/>
<text x="406.8" y="126.5" font-size="8" text-anchor="middle">8W</text>
<line x1="428.3" x2="428.3" y1="117.4" y2="119.4" stroke="#888" stroke-width="0.8"/>
<text x="428.3" y="126.5" font-size="8" text-anchor="middle">6W</text>
<line x1="449.8" x2="449.8" y1="117.4" y2="119.4" stroke="#888" stroke-width="0.8"/>
<text x="449.8" y="126.5" font-size="8" text-anchor="middle">4W</text>
<line x1="471.3" x2="471.3" y1="117.4" y2="119.4" stroke="#888" stroke-width="0.8"/>
<text x="471.3" y="126.5" font-size="8" text-anchor="middle">2W</text>
<line x1="492.8" x2="492.8" y1="117.4" y2="119.4" stroke="#888" stroke-width="0.8"/>
<text x="492.8" y="126.5" font-size="8" text-anchor="middle">0</text>
<line x1="514.3" x2="514.3" y1="117.4" y2="119.4" stroke="#888" stroke-width="0.8"/>
<text x="514.3" y="126.5" font-size="8" text-anchor="middle">2E</text>
<line x1="535.8" x2="535.8" y1="117.4" y2="119.4" stroke="#888" stroke-width="0.8"/>
<text x="535.8" y="126.5" font-size="8" text-anchor="middle">4E</text>
<linearGradient id="cbg2" gradientUnits="userSpaceOnUse" x1="398.2" x2="536.5" y1="0" y2="0"><stop offset="0.000" stop-color="#67000d"/><stop offset="0.125" stop-color="#a50f15"/><stop offset="0.250" stop-color="#cb181d"/><stop offset="0.375" stop-color="#ef3b2c"/><stop offset="0.500" stop-color="#fb6a4a"/><stop offset="0.625" stop-color="#fc9272"/><stop offset="0.750" stop-color="#fcbba1"/><stop offset="0.875" stop-color="#fee0d2"/><stop offset="1.000" stop-color="#fff5f0"/></linearGradient>
<path d="M391.2 133.9 L398.2 131.8 L536.5 131.8 L543.5 133.9 L536.5 136.1 L398.2 136.1 Z" fill="url(#cbg2)" stroke="#555" stroke-width="0.45"/>
<line x1="421.2" x2="421.2" y1="136.1" y2="137.4" stroke="#555" stroke-width="0.6"/>
<text x="421.2" y="145.1" font-size="8" text-anchor="middle">−60</text>
<line x1="467.4" x2="467.4" y1="136.1" y2="137.4" stroke="#555" stroke-width="0.6"/>
<text x="467.4" y="145.1" font-size="8" text-anchor="middle">−50</text>
<line x1="513.5" x2="513.5" y1="136.1" y2="137.4" stroke="#555" stroke-width="0.6"/>
<text x="513.5" y="145.1" font-size="8" text-anchor="middle">−40</text>
<text x="467.3" y="155.3" font-size="8.25" text-anchor="middle">rel. Negative Hit bias [%]</text>
<g shape-rendering="crispEdges"><rect x="34.1" y="166.8" width="2.8" height="3.3" fill="#dd2924"/><rect x="36.7" y="166.8" width="2.8" height="3.3" fill="#f96245"/><rect x="39.3" y="166.8" width="2.8" height="3.3" fill="#fb6a4a"/><rect x="41.9" y="166.8" width="2.8" height="3.3" fill="#fc9c7e"/><rect x="44.5" y="166.8" width="2.8" height="3.3" fill="#f6563d"/><rect x="47.1" y="166.8" width="2.8" height="3.3" fill="#f24734"/><rect x="49.6" y="166.8" width="2.8" height="3.3" fill="#f03d2d"/><rect x="52.2" y="166.8" width="2.8" height="3.3" fill="#ed392b"/><rect x="54.8" y="166.8" width="2.8" height="3.3" fill="#fb7454"/><rect x="57.4" y="166.8" width="2.8" height="3.3" fill="#a20e15"/><rect x="60.0" y="166.8" width="2.8" height="3.3" fill="#d21f20"/><rect x="62.6" y="166.8" width="2.8" height="3.3" fill="#ef3b2c"/><rect x="65.2" y="166.8" width="2.8" height="3.3" fill="#ef3c2d"/><rect x="29.0" y="169.9" width="2.8" height="3.3" fill="#f34935"/><rect x="31.5" y="169.9" width="2.8" height="3.3" fill="#f6563d"/><rect x="34.1" y="169.9" width="2.8" height="3.3" fill="#fc8d6d"/><rect x="36.7" y="169.9" width="2.8" height="3.3" fill="#fc8262"/><rect x="39.3" y="169.9" width="2.8" height="3.3" fill="#fc997b"/><rect x="41.9" y="169.9" width="2.8" height="3.3" fill="#fc8b6b"/><rect x="44.5" y="169.9" width="2.8" height="3.3" fill="#e53228"/><rect x="47.1" y="169.9" width="2.8" height="3.3" fill="#f24633"/><rect x="49.6" y="169.9" width="2.8" height="3.3" fill="#b91419"/><rect x="52.2" y="169.9" width="2.8" height="3.3" fill="#e73329"/><rect x="54.8" y="169.9" width="2.8" height="3.3" fill="#fb7555"/><rect x="57.4" y="169.9" width="2.8" height="3.3" fill="#fb7252"/><rect x="60.0" y="169.9" width="2.8" height="3.3" fill="#bb141a"/><rect x="62.6" y="169.9" width="2.8" height="3.3" fill="#fb7959"/><rect x="65.2" y="169.9" width="2.8" height="3.3" fill="#f5523b"/><rect x="67.8" y="169.9" width="2.8" height="3.3" fill="#e02d26"/><rect x="70.3" y="169.9" width="2.8" height="3.3" fill="#b81319"/><rect x="72.9" y="169.9" width="2.8" height="3.3" fill="#fc8a6a"/><rect x="75.5" y="169.9" width="2.8" height="3.3" fill="#f96345"/><rect x="78.1" y="169.9" width="2.8" height="3.3" fill="#f5533b"/><rect x="80.7" y="169.9" width="2.8" height="3.3" fill="#f44f39"/><rect x="83.3" y="169.9" width="2.8" height="3.3" fill="#e12d26"/><rect x="85.9" y="169.9" width="2.8" height="3.3" fill="#850711"/><rect x="88.5" y="169.9" width="2.8" height="3.3" fill="#930b13"/><rect x="91.0" y="169.9" width="2.8" height="3.3" fill="#810610"/><rect x="93.6" y="169.9" width="2.8" height="3.3" fill="#c8171c"/><rect x="96.2" y="169.9" width="2.8" height="3.3" fill="#fb6d4d"/><rect x="98.8" y="169.9" width="2.8" height="3.3" fill="#fb7353"/><rect x="101.4" y="169.9" width="2.8" height="3.3" fill="#ec382b"/><rect x="104.0" y="169.9" width="2.8" height="3.3" fill="#ee3a2b"/><rect x="26.4" y="173.1" width="2.8" height="3.3" fill="#f6563d"/><rect x="29.0" y="173.1" width="2.8" height="3.3" fill="#ef3b2c"/><rect x="31.5" y="173.1" width="2.8" height="3.3" fill="#e73429"/><rect x="34.1" y="173.1" width="2.8" height="3.3" fill="#fc8666"/><rect x="36.7" y="173.1" width="2.8" height="3.3" fill="#fb7353"/><rect x="39.3" y="173.1" width="2.8" height="3.3" fill="#fc9c7e"/><rect x="41.9" y="173.1" width="2.8" height="3.3" fill="#fcb398"/><rect x="44.5" y="173.1" width="2.8" height="3.3" fill="#ef3d2d"/><rect x="47.1" y="173.1" width="2.8" height="3.3" fill="#fc9676"/><rect x="49.6" y="173.1" width="2.8" height="3.3" fill="#b71319"/><rect x="52.2" y="173.1" width="2.8" height="3.3" fill="#c7171c"/><rect x="54.8" y="173.1" width="2.8" height="3.3" fill="#67000d"/><rect x="57.4" y="173.1" width="2.8" height="3.3" fill="#e43027"/><rect x="60.0" y="173.1" width="2.8" height="3.3" fill="#fb7555"/><rect x="62.6" y="173.1" width="2.8" height="3.3" fill="#f34a36"/><rect x="65.2" y="173.1" width="2.8" height="3.3" fill="#e93529"/><rect x="67.8" y="173.1" width="2.8" height="3.3" fill="#f5513a"/><rect x="70.3" y="173.1" width="2.8" height="3.3" fill="#fb6849"/><rect x="72.9" y="173.1" width="2.8" height="3.3" fill="#f03e2e"/><rect x="75.5" y="173.1" width="2.8" height="3.3" fill="#fb7050"/><rect x="78.1" y="173.1" width="2.8" height="3.3" fill="#b01217"/><rect x="80.7" y="173.1" width="2.8" height="3.3" fill="#fb7454"/><rect x="83.3" y="173.1" width="2.8" height="3.3" fill="#c9181d"/><rect x="85.9" y="173.1" width="2.8" height="3.3" fill="#77040f"/><rect x="88.5" y="173.1" width="2.8" height="3.3" fill="#a10e15"/><rect x="91.0" y="173.1" width="2.8" height="3.3" fill="#d11e1f"/><rect x="93.6" y="173.1" width="2.8" height="3.3" fill="#f24734"/><rect x="96.2" y="173.1" width="2.8" height="3.3" fill="#bc141a"/><rect x="98.8" y="173.1" width="2.8" height="3.3" fill="#f6563d"/><rect x="101.4" y="173.1" width="2.8" height="3.3" fill="#fb6849"/><rect x="104.0" y="173.1" width="2.8" height="3.3" fill="#f14532"/><rect x="106.6" y="173.1" width="2.8" height="3.3" fill="#f5543c"/><rect x="109.2" y="173.1" width="2.8" height="3.3" fill="#e12e26"/><rect x="26.4" y="176.2" width="2.8" height="3.3" fill="#fcb59a"/><rect x="29.0" y="176.2" width="2.8" height="3.3" fill="#fc9f81"/><rect x="31.5" y="176.2" width="2.8" height="3.3" fill="#fca587"/><rect x="34.1" y="176.2" width="2.8" height="3.3" fill="#fc8e6e"/><rect x="36.7" y="176.2" width="2.8" height="3.3" fill="#fcc0a8"/><rect x="39.3" y="176.2" width="2.8" height="3.3" fill="#fc8161"/><rect x="41.9" y="176.2" width="2.8" height="3.3" fill="#fcb99f"/><rect x="44.5" y="176.2" width="2.8" height="3.3" fill="#fca386"/><rect x="47.1" y="176.2" width="2.8" height="3.3" fill="#fca385"/><rect x="49.6" y="176.2" width="2.8" height="3.3" fill="#fdc5ae"/><rect x="52.2" y="176.2" width="2.8" height="3.3" fill="#fedfd1"/><rect x="54.8" y="176.2" width="2.8" height="3.3" fill="#fc9e7f"/><rect x="57.4" y="176.2" width="2.8" height="3.3" fill="#fca487"/><rect x="60.0" y="176.2" width="2.8" height="3.3" fill="#dd2924"/><rect x="62.6" y="176.2" width="2.8" height="3.3" fill="#fb7656"/><rect x="65.2" y="176.2" width="2.8" height="3.3" fill="#f96144"/><rect x="67.8" y="176.2" width="2.8" height="3.3" fill="#fc8161"/><rect x="70.3" y="176.2" width="2.8" height="3.3" fill="#fc8e6e"/><rect x="72.9" y="176.2" width="2.8" height="3.3" fill="#fcbda4"/><rect x="75.5" y="176.2" width="2.8" height="3.3" fill="#fcb79c"/><rect x="78.1" y="176.2" width="2.8" height="3.3" fill="#f24633"/><rect x="80.7" y="176.2" width="2.8" height="3.3" fill="#fc997a"/><rect x="83.3" y="176.2" width="2.8" height="3.3" fill="#fc997a"/><rect x="85.9" y="176.2" width="2.8" height="3.3" fill="#fa6748"/><rect x="88.5" y="176.2" width="2.8" height="3.3" fill="#fc8f6f"/><rect x="91.0" y="176.2" width="2.8" height="3.3" fill="#fc9070"/><rect x="93.6" y="176.2" width="2.8" height="3.3" fill="#df2c25"/><rect x="96.2" y="176.2" width="2.8" height="3.3" fill="#d21f20"/><rect x="98.8" y="176.2" width="2.8" height="3.3" fill="#f03e2e"/><rect x="101.4" y="176.2" width="2.8" height="3.3" fill="#fb6f4f"/><rect x="104.0" y="176.2" width="2.8" height="3.3" fill="#fb7b5b"/><rect x="106.6" y="176.2" width="2.8" height="3.3" fill="#f34935"/><rect x="109.2" y="176.2" width="2.8" height="3.3" fill="#f03f2e"/><rect x="111.8" y="176.2" width="2.8" height="3.3" fill="#f24734"/><rect x="114.3" y="176.2" width="2.8" height="3.3" fill="#eb372a"/><rect x="116.9" y="176.2" width="2.8" height="3.3" fill="#fb7757"/><rect x="119.5" y="176.2" width="2.8" height="3.3" fill="#ed392b"/><rect x="127.3" y="176.2" width="2.8" height="3.3" fill="#ed392b"/><rect x="26.4" y="179.3" width="2.8" height="3.3" fill="#fcab8f"/><rect x="29.0" y="179.3" width="2.8" height="3.3" fill="#fc8a6a"/><rect x="31.5" y="179.3" width="2.8" height="3.3" fill="#fca184"/><rect x="34.1" y="179.3" width="2.8" height="3.3" fill="#fcbca3"/><rect x="36.7" y="179.3" width="2.8" height="3.3" fill="#fca082"/><rect x="39.3" y="179.3" width="2.8" height="3.3" fill="#fdcbb7"/><rect x="41.9" y="179.3" width="2.8" height="3.3" fill="#fc8060"/><rect x="44.5" y="179.3" width="2.8" height="3.3" fill="#f34c37"/><rect x="47.1" y="179.3" width="2.8" height="3.3" fill="#f5513a"/><rect x="49.6" y="179.3" width="2.8" height="3.3" fill="#fca88b"/><rect x="52.2" y="179.3" width="2.8" height="3.3" fill="#fdcab4"/><rect x="54.8" y="179.3" width="2.8" height="3.3" fill="#fc9c7d"/><rect x="57.4" y="179.3" width="2.8" height="3.3" fill="#fc8060"/><rect x="60.0" y="179.3" width="2.8" height="3.3" fill="#fc8767"/><rect x="62.6" y="179.3" width="2.8" height="3.3" fill="#fc8d6d"/><rect x="65.2" y="179.3" width="2.8" height="3.3" fill="#fc8565"/><rect x="67.8" y="179.3" width="2.8" height="3.3" fill="#fc9474"/><rect x="70.3" y="179.3" width="2.8" height="3.3" fill="#fb6c4c"/><rect x="72.9" y="179.3" width="2.8" height="3.3" fill="#fcbba1"/><rect x="75.5" y="179.3" width="2.8" height="3.3" fill="#fb7757"/><rect x="78.1" y="179.3" width="2.8" height="3.3" fill="#fb7252"/><rect x="80.7" y="179.3" width="2.8" height="3.3" fill="#fc9c7d"/><rect x="83.3" y="179.3" width="2.8" height="3.3" fill="#8c0912"/><rect x="85.9" y="179.3" width="2.8" height="3.3" fill="#fb7b5b"/><rect x="88.5" y="179.3" width="2.8" height="3.3" fill="#fb7b5b"/><rect x="91.0" y="179.3" width="2.8" height="3.3" fill="#fcb398"/><rect x="93.6" y="179.3" width="2.8" height="3.3" fill="#fb7c5c"/><rect x="96.2" y="179.3" width="2.8" height="3.3" fill="#d82522"/><rect x="98.8" y="179.3" width="2.8" height="3.3" fill="#b11217"/><rect x="101.4" y="179.3" width="2.8" height="3.3" fill="#fb7151"/><rect x="104.0" y="179.3" width="2.8" height="3.3" fill="#dc2824"/><rect x="106.6" y="179.3" width="2.8" height="3.3" fill="#fc9373"/><rect x="109.2" y="179.3" width="2.8" height="3.3" fill="#f75a40"/><rect x="111.8" y="179.3" width="2.8" height="3.3" fill="#fb7e5e"/><rect x="114.3" y="179.3" width="2.8" height="3.3" fill="#e12e26"/><rect x="116.9" y="179.3" width="2.8" height="3.3" fill="#c1161b"/><rect x="119.5" y="179.3" width="2.8" height="3.3" fill="#fb7454"/><rect x="122.1" y="179.3" width="2.8" height="3.3" fill="#c4161b"/><rect x="124.7" y="179.3" width="2.8" height="3.3" fill="#ce1b1e"/><rect x="127.3" y="179.3" width="2.8" height="3.3" fill="#fc9d7e"/><rect x="129.9" y="179.3" width="2.8" height="3.3" fill="#fc8565"/><rect x="132.4" y="179.3" width="2.8" height="3.3" fill="#fb7353"/><rect x="135.0" y="179.3" width="2.8" height="3.3" fill="#f14130"/><rect x="137.6" y="179.3" width="2.8" height="3.3" fill="#d11d1f"/><rect x="29.0" y="182.4" width="2.8" height="3.3" fill="#fc9f81"/><rect x="31.5" y="182.4" width="2.8" height="3.3" fill="#fcaa8e"/><rect x="34.1" y="182.4" width="2.8" height="3.3" fill="#fee6db"/><rect x="36.7" y="182.4" width="2.8" height="3.3" fill="#fff5f0"/><rect x="39.3" y="182.4" width="2.8" height="3.3" fill="#fdd5c4"/><rect x="41.9" y="182.4" width="2.8" height="3.3" fill="#fee3d6"/><rect x="44.5" y="182.4" width="2.8" height="3.3" fill="#fb6a4a"/><rect x="47.1" y="182.4" width="2.8" height="3.3" fill="#d32020"/><rect x="49.6" y="182.4" width="2.8" height="3.3" fill="#fee5d9"/><rect x="52.2" y="182.4" width="2.8" height="3.3" fill="#ffebe1"/><rect x="54.8" y="182.4" width="2.8" height="3.3" fill="#fdc5ae"/><rect x="57.4" y="182.4" width="2.8" height="3.3" fill="#fee7dc"/><rect x="60.0" y="182.4" width="2.8" height="3.3" fill="#ffede4"/><rect x="62.6" y="182.4" width="2.8" height="3.3" fill="#fff1ea"/><rect x="65.2" y="182.4" width="2.8" height="3.3" fill="#ffeee6"/><rect x="67.8" y="182.4" width="2.8" height="3.3" fill="#ffebe2"/><rect x="70.3" y="182.4" width="2.8" height="3.3" fill="#feeae0"/><rect x="72.9" y="182.4" width="2.8" height="3.3" fill="#fff5f0"/><rect x="75.5" y="182.4" width="2.8" height="3.3" fill="#fed9c9"/><rect x="78.1" y="182.4" width="2.8" height="3.3" fill="#fff1eb"/><rect x="80.7" y="182.4" width="2.8" height="3.3" fill="#fff1eb"/><rect x="83.3" y="182.4" width="2.8" height="3.3" fill="#fee3d6"/><rect x="85.9" y="182.4" width="2.8" height="3.3" fill="#fee7dc"/><rect x="88.5" y="182.4" width="2.8" height="3.3" fill="#fdd5c3"/><rect x="91.0" y="182.4" width="2.8" height="3.3" fill="#fcc2aa"/><rect x="93.6" y="182.4" width="2.8" height="3.3" fill="#fdc8b2"/><rect x="96.2" y="182.4" width="2.8" height="3.3" fill="#fee6db"/><rect x="98.8" y="182.4" width="2.8" height="3.3" fill="#fdc5ae"/><rect x="101.4" y="182.4" width="2.8" height="3.3" fill="#ffefe8"/><rect x="104.0" y="182.4" width="2.8" height="3.3" fill="#fff4ef"/><rect x="106.6" y="182.4" width="2.8" height="3.3" fill="#ffebe2"/><rect x="109.2" y="182.4" width="2.8" height="3.3" fill="#fed8c8"/><rect x="111.8" y="182.4" width="2.8" height="3.3" fill="#fee9df"/><rect x="114.3" y="182.4" width="2.8" height="3.3" fill="#fcbca2"/><rect x="116.9" y="182.4" width="2.8" height="3.3" fill="#fc8c6c"/><rect x="119.5" y="182.4" width="2.8" height="3.3" fill="#fc9576"/><rect x="122.1" y="182.4" width="2.8" height="3.3" fill="#fc7f5f"/><rect x="124.7" y="182.4" width="2.8" height="3.3" fill="#fc8767"/><rect x="127.3" y="182.4" width="2.8" height="3.3" fill="#fdc4ae"/><rect x="129.9" y="182.4" width="2.8" height="3.3" fill="#f14331"/><rect x="132.4" y="182.4" width="2.8" height="3.3" fill="#fed8c8"/><rect x="135.0" y="182.4" width="2.8" height="3.3" fill="#fca588"/><rect x="137.6" y="182.4" width="2.8" height="3.3" fill="#fee1d3"/><rect x="140.2" y="182.4" width="2.8" height="3.3" fill="#fcb59a"/><rect x="142.8" y="182.4" width="2.8" height="3.3" fill="#fc9677"/><rect x="145.4" y="182.4" width="2.8" height="3.3" fill="#fcb89d"/><rect x="148.0" y="182.4" width="2.8" height="3.3" fill="#fb7050"/><rect x="150.6" y="182.4" width="2.8" height="3.3" fill="#fc8161"/><rect x="153.1" y="182.4" width="2.8" height="3.3" fill="#fcab8e"/><rect x="29.0" y="185.6" width="2.8" height="3.3" fill="#fcac90"/><rect x="31.5" y="185.6" width="2.8" height="3.3" fill="#f24733"/><rect x="34.1" y="185.6" width="2.8" height="3.3" fill="#fee4d7"/><rect x="36.7" y="185.6" width="2.8" height="3.3" fill="#fdcdb9"/><rect x="39.3" y="185.6" width="2.8" height="3.3" fill="#fff2ec"/><rect x="41.9" y="185.6" width="2.8" height="3.3" fill="#fcb89e"/><rect x="44.5" y="185.6" width="2.8" height="3.3" fill="#fb6b4b"/><rect x="47.1" y="185.6" width="2.8" height="3.3" fill="#e22e26"/><rect x="49.6" y="185.6" width="2.8" height="3.3" fill="#fee6db"/><rect x="52.2" y="185.6" width="2.8" height="3.3" fill="#fee1d4"/><rect x="54.8" y="185.6" width="2.8" height="3.3" fill="#fdd4c2"/><rect x="57.4" y="185.6" width="2.8" height="3.3" fill="#fee1d3"/><rect x="60.0" y="185.6" width="2.8" height="3.3" fill="#fcc2aa"/><rect x="62.6" y="185.6" width="2.8" height="3.3" fill="#ffefe7"/><rect x="65.2" y="185.6" width="2.8" height="3.3" fill="#fff0e9"/><rect x="67.8" y="185.6" width="2.8" height="3.3" fill="#fedfd0"/><rect x="70.3" y="185.6" width="2.8" height="3.3" fill="#ffebe2"/><rect x="72.9" y="185.6" width="2.8" height="3.3" fill="#fff5f0"/><rect x="75.5" y="185.6" width="2.8" height="3.3" fill="#fff0e9"/><rect x="78.1" y="185.6" width="2.8" height="3.3" fill="#fee4d7"/><rect x="80.7" y="185.6" width="2.8" height="3.3" fill="#ffece3"/><rect x="83.3" y="185.6" width="2.8" height="3.3" fill="#feddce"/><rect x="85.9" y="185.6" width="2.8" height="3.3" fill="#ffefe7"/><rect x="88.5" y="185.6" width="2.8" height="3.3" fill="#fed8c8"/><rect x="91.0" y="185.6" width="2.8" height="3.3" fill="#feeae0"/><rect x="93.6" y="185.6" width="2.8" height="3.3" fill="#fee5d9"/><rect x="96.2" y="185.6" width="2.8" height="3.3" fill="#fee8de"/><rect x="98.8" y="185.6" width="2.8" height="3.3" fill="#ffebe2"/><rect x="101.4" y="185.6" width="2.8" height="3.3" fill="#fcbaa0"/><rect x="104.0" y="185.6" width="2.8" height="3.3" fill="#ffebe2"/><rect x="106.6" y="185.6" width="2.8" height="3.3" fill="#fdcbb6"/><rect x="109.2" y="185.6" width="2.8" height="3.3" fill="#fdd6c5"/><rect x="111.8" y="185.6" width="2.8" height="3.3" fill="#fca587"/><rect x="114.3" y="185.6" width="2.8" height="3.3" fill="#fee7dd"/><rect x="116.9" y="185.6" width="2.8" height="3.3" fill="#fdd2bf"/><rect x="119.5" y="185.6" width="2.8" height="3.3" fill="#fc9272"/><rect x="122.1" y="185.6" width="2.8" height="3.3" fill="#fdc8b3"/><rect x="124.7" y="185.6" width="2.8" height="3.3" fill="#fb7252"/><rect x="127.3" y="185.6" width="2.8" height="3.3" fill="#fdc8b2"/><rect x="129.9" y="185.6" width="2.8" height="3.3" fill="#fcb398"/><rect x="132.4" y="185.6" width="2.8" height="3.3" fill="#fc9171"/><rect x="135.0" y="185.6" width="2.8" height="3.3" fill="#fdcdb9"/><rect x="137.6" y="185.6" width="2.8" height="3.3" fill="#fcb499"/><rect x="140.2" y="185.6" width="2.8" height="3.3" fill="#fc9e7f"/><rect x="142.8" y="185.6" width="2.8" height="3.3" fill="#fcb99f"/><rect x="145.4" y="185.6" width="2.8" height="3.3" fill="#fc8868"/><rect x="148.0" y="185.6" width="2.8" height="3.3" fill="#fcb89d"/><rect x="150.6" y="185.6" width="2.8" height="3.3" fill="#fc8b6b"/><rect x="153.1" y="185.6" width="2.8" height="3.3" fill="#fb6c4c"/><rect x="29.0" y="188.7" width="2.8" height="3.3" fill="#d01d1f"/><rect x="36.7" y="188.7" width="2.8" height="3.3" fill="#fc8c6c"/><rect x="39.3" y="188.7" width="2.8" height="3.3" fill="#f96346"/><rect x="41.9" y="188.7" width="2.8" height="3.3" fill="#fb7a5a"/><rect x="44.5" y="188.7" width="2.8" height="3.3" fill="#bf151a"/><rect x="47.1" y="188.7" width="2.8" height="3.3" fill="#c2161b"/><rect x="49.6" y="188.7" width="2.8" height="3.3" fill="#fb6b4b"/><rect x="52.2" y="188.7" width="2.8" height="3.3" fill="#f6563d"/><rect x="54.8" y="188.7" width="2.8" height="3.3" fill="#fff0e8"/><rect x="57.4" y="188.7" width="2.8" height="3.3" fill="#fedccc"/><rect x="60.0" y="188.7" width="2.8" height="3.3" fill="#feeae1"/><rect x="62.6" y="188.7" width="2.8" height="3.3" fill="#ffebe2"/><rect x="65.2" y="188.7" width="2.8" height="3.3" fill="#fee6da"/><rect x="67.8" y="188.7" width="2.8" height="3.3" fill="#fee6db"/><rect x="70.3" y="188.7" width="2.8" height="3.3" fill="#ffede5"/><rect x="72.9" y="188.7" width="2.8" height="3.3" fill="#fee7db"/><rect x="75.5" y="188.7" width="2.8" height="3.3" fill="#fff2ec"/><rect x="78.1" y="188.7" width="2.8" height="3.3" fill="#fee4d7"/><rect x="80.7" y="188.7" width="2.8" height="3.3" fill="#fee0d2"/><rect x="83.3" y="188.7" width="2.8" height="3.3" fill="#fff5f0"/><rect x="85.9" y="188.7" width="2.8" height="3.3" fill="#fcb195"/><rect x="88.5" y="188.7" width="2.8" height="3.3" fill="#fee1d4"/><rect x="91.0" y="188.7" width="2.8" height="3.3" fill="#fc8f6f"/><rect x="93.6" y="188.7" width="2.8" height="3.3" fill="#fca98c"/><rect x="96.2" y="188.7" width="2.8" height="3.3" fill="#fcb499"/><rect x="98.8" y="188.7" width="2.8" height="3.3" fill="#fee1d3"/><rect x="101.4" y="188.7" width="2.8" height="3.3" fill="#fdd6c5"/><rect x="104.0" y="188.7" width="2.8" height="3.3" fill="#fee8dd"/><rect x="106.6" y="188.7" width="2.8" height="3.3" fill="#fee0d2"/><rect x="109.2" y="188.7" width="2.8" height="3.3" fill="#fdd5c3"/><rect x="111.8" y="188.7" width="2.8" height="3.3" fill="#ffede4"/><rect x="114.3" y="188.7" width="2.8" height="3.3" fill="#fee3d6"/><rect x="116.9" y="188.7" width="2.8" height="3.3" fill="#fee8dd"/><rect x="119.5" y="188.7" width="2.8" height="3.3" fill="#feded0"/><rect x="122.1" y="188.7" width="2.8" height="3.3" fill="#fc8666"/><rect x="124.7" y="188.7" width="2.8" height="3.3" fill="#fca588"/><rect x="127.3" y="188.7" width="2.8" height="3.3" fill="#fb7959"/><rect x="129.9" y="188.7" width="2.8" height="3.3" fill="#fcc1a9"/><rect x="132.4" y="188.7" width="2.8" height="3.3" fill="#fcb69c"/><rect x="135.0" y="188.7" width="2.8" height="3.3" fill="#fcb195"/><rect x="137.6" y="188.7" width="2.8" height="3.3" fill="#fca689"/><rect x="140.2" y="188.7" width="2.8" height="3.3" fill="#fb7656"/><rect x="142.8" y="188.7" width="2.8" height="3.3" fill="#fca082"/><rect x="145.4" y="188.7" width="2.8" height="3.3" fill="#fca184"/><rect x="148.0" y="188.7" width="2.8" height="3.3" fill="#fb7b5b"/><rect x="150.6" y="188.7" width="2.8" height="3.3" fill="#fca284"/><rect x="153.1" y="188.7" width="2.8" height="3.3" fill="#fc9373"/><rect x="52.2" y="191.8" width="2.8" height="3.3" fill="#e43128"/><rect x="54.8" y="191.8" width="2.8" height="3.3" fill="#fcc3ac"/><rect x="57.4" y="191.8" width="2.8" height="3.3" fill="#fcb89e"/><rect x="60.0" y="191.8" width="2.8" height="3.3" fill="#fee7dc"/><rect x="62.6" y="191.8" width="2.8" height="3.3" fill="#fff3ee"/><rect x="65.2" y="191.8" width="2.8" height="3.3" fill="#fee3d7"/><rect x="67.8" y="191.8" width="2.8" height="3.3" fill="#fcb99e"/><rect x="70.3" y="191.8" width="2.8" height="3.3" fill="#fff1ea"/><rect x="72.9" y="191.8" width="2.8" height="3.3" fill="#fff0e8"/><rect x="75.5" y="191.8" width="2.8" height="3.3" fill="#fed9c9"/><rect x="78.1" y="191.8" width="2.8" height="3.3" fill="#ffeee6"/><rect x="80.7" y="191.8" width="2.8" height="3.3" fill="#fff1ea"/><rect x="83.3" y="191.8" width="2.8" height="3.3" fill="#fedecf"/><rect x="85.9" y="191.8" width="2.8" height="3.3" fill="#ffece3"/><rect x="88.5" y="191.8" width="2.8" height="3.3" fill="#fdc7b0"/><rect x="91.0" y="191.8" width="2.8" height="3.3" fill="#fdc6b0"/><rect x="93.6" y="191.8" width="2.8" height="3.3" fill="#fc9879"/><rect x="96.2" y="191.8" width="2.8" height="3.3" fill="#fee2d5"/><rect x="98.8" y="191.8" width="2.8" height="3.3" fill="#ffece3"/><rect x="101.4" y="191.8" width="2.8" height="3.3" fill="#fdcbb7"/><rect x="104.0" y="191.8" width="2.8" height="3.3" fill="#fff2eb"/><rect x="106.6" y="191.8" width="2.8" height="3.3" fill="#fdd3c0"/><rect x="109.2" y="191.8" width="2.8" height="3.3" fill="#fee3d7"/><rect x="111.8" y="191.8" width="2.8" height="3.3" fill="#fdc5ae"/><rect x="114.3" y="191.8" width="2.8" height="3.3" fill="#ffefe8"/><rect x="116.9" y="191.8" width="2.8" height="3.3" fill="#fdc8b2"/><rect x="119.5" y="191.8" width="2.8" height="3.3" fill="#fca386"/><rect x="122.1" y="191.8" width="2.8" height="3.3" fill="#fcc0a8"/><rect x="124.7" y="191.8" width="2.8" height="3.3" fill="#fcab8f"/><rect x="127.3" y="191.8" width="2.8" height="3.3" fill="#fc8868"/><rect x="129.9" y="191.8" width="2.8" height="3.3" fill="#c7171c"/><rect x="132.4" y="191.8" width="2.8" height="3.3" fill="#fca285"/><rect x="135.0" y="191.8" width="2.8" height="3.3" fill="#fcc2aa"/><rect x="137.6" y="191.8" width="2.8" height="3.3" fill="#fb7d5d"/><rect x="140.2" y="191.8" width="2.8" height="3.3" fill="#fc8c6c"/><rect x="142.8" y="191.8" width="2.8" height="3.3" fill="#fc9778"/><rect x="145.4" y="191.8" width="2.8" height="3.3" fill="#fcb79c"/><rect x="148.0" y="191.8" width="2.8" height="3.3" fill="#f14231"/><rect x="150.6" y="191.8" width="2.8" height="3.3" fill="#fcbfa7"/><rect x="52.2" y="194.9" width="2.8" height="3.3" fill="#fee4d7"/><rect x="54.8" y="194.9" width="2.8" height="3.3" fill="#fff5f0"/><rect x="57.4" y="194.9" width="2.8" height="3.3" fill="#fff5f0"/><rect x="60.0" y="194.9" width="2.8" height="3.3" fill="#fdd3c1"/><rect x="62.6" y="194.9" width="2.8" height="3.3" fill="#fff2eb"/><rect x="65.2" y="194.9" width="2.8" height="3.3" fill="#fee5d9"/><rect x="67.8" y="194.9" width="2.8" height="3.3" fill="#ffede5"/><rect x="70.3" y="194.9" width="2.8" height="3.3" fill="#fff5f0"/><rect x="72.9" y="194.9" width="2.8" height="3.3" fill="#fee5d9"/><rect x="75.5" y="194.9" width="2.8" height="3.3" fill="#fff5f0"/><rect x="78.1" y="194.9" width="2.8" height="3.3" fill="#fee4d8"/><rect x="80.7" y="194.9" width="2.8" height="3.3" fill="#fcc2aa"/><rect x="83.3" y="194.9" width="2.8" height="3.3" fill="#fff1ea"/><rect x="85.9" y="194.9" width="2.8" height="3.3" fill="#fc8161"/><rect x="88.5" y="194.9" width="2.8" height="3.3" fill="#f0402f"/><rect x="91.0" y="194.9" width="2.8" height="3.3" fill="#fca183"/><rect x="93.6" y="194.9" width="2.8" height="3.3" fill="#fdd4c2"/><rect x="96.2" y="194.9" width="2.8" height="3.3" fill="#fc8666"/><rect x="98.8" y="194.9" width="2.8" height="3.3" fill="#fcab8e"/><rect x="101.4" y="194.9" width="2.8" height="3.3" fill="#fedccc"/><rect x="104.0" y="194.9" width="2.8" height="3.3" fill="#fff1eb"/><rect x="106.6" y="194.9" width="2.8" height="3.3" fill="#fed9c9"/><rect x="109.2" y="194.9" width="2.8" height="3.3" fill="#fedbcc"/><rect x="111.8" y="194.9" width="2.8" height="3.3" fill="#fff0e8"/><rect x="114.3" y="194.9" width="2.8" height="3.3" fill="#fdd5c4"/><rect x="116.9" y="194.9" width="2.8" height="3.3" fill="#fee6db"/><rect x="119.5" y="194.9" width="2.8" height="3.3" fill="#fdcdb9"/><rect x="122.1" y="194.9" width="2.8" height="3.3" fill="#fc9070"/><rect x="124.7" y="194.9" width="2.8" height="3.3" fill="#fdc9b4"/><rect x="127.3" y="194.9" width="2.8" height="3.3" fill="#fcbaa0"/><rect x="129.9" y="194.9" width="2.8" height="3.3" fill="#f44f39"/><rect x="132.4" y="194.9" width="2.8" height="3.3" fill="#fb7050"/><rect x="135.0" y="194.9" width="2.8" height="3.3" fill="#fca183"/><rect x="137.6" y="194.9" width="2.8" height="3.3" fill="#fc8666"/><rect x="140.2" y="194.9" width="2.8" height="3.3" fill="#fc997a"/><rect x="142.8" y="194.9" width="2.8" height="3.3" fill="#fc8262"/><rect x="145.4" y="194.9" width="2.8" height="3.3" fill="#fca588"/><rect x="49.6" y="198.0" width="2.8" height="3.3" fill="#feeae0"/><rect x="52.2" y="198.0" width="2.8" height="3.3" fill="#fcc0a8"/><rect x="54.8" y="198.0" width="2.8" height="3.3" fill="#fee3d6"/><rect x="57.4" y="198.0" width="2.8" height="3.3" fill="#fee6da"/><rect x="60.0" y="198.0" width="2.8" height="3.3" fill="#fdd3c1"/><rect x="62.6" y="198.0" width="2.8" height="3.3" fill="#ffefe8"/><rect x="65.2" y="198.0" width="2.8" height="3.3" fill="#ffefe8"/><rect x="67.8" y="198.0" width="2.8" height="3.3" fill="#ffeee6"/><rect x="70.3" y="198.0" width="2.8" height="3.3" fill="#fcb195"/><rect x="72.9" y="198.0" width="2.8" height="3.3" fill="#fff5f0"/><rect x="75.5" y="198.0" width="2.8" height="3.3" fill="#ffeee6"/><rect x="78.1" y="198.0" width="2.8" height="3.3" fill="#fff4ee"/><rect x="80.7" y="198.0" width="2.8" height="3.3" fill="#fff4ee"/><rect x="83.3" y="198.0" width="2.8" height="3.3" fill="#fca284"/><rect x="85.9" y="198.0" width="2.8" height="3.3" fill="#f03f2f"/><rect x="88.5" y="198.0" width="2.8" height="3.3" fill="#fc9879"/><rect x="91.0" y="198.0" width="2.8" height="3.3" fill="#fcb79d"/><rect x="93.6" y="198.0" width="2.8" height="3.3" fill="#fcb59a"/><rect x="96.2" y="198.0" width="2.8" height="3.3" fill="#fcb296"/><rect x="98.8" y="198.0" width="2.8" height="3.3" fill="#fcb99f"/><rect x="101.4" y="198.0" width="2.8" height="3.3" fill="#fedccc"/><rect x="104.0" y="198.0" width="2.8" height="3.3" fill="#fcc4ad"/><rect x="106.6" y="198.0" width="2.8" height="3.3" fill="#fed8c8"/><rect x="109.2" y="198.0" width="2.8" height="3.3" fill="#fdc9b3"/><rect x="111.8" y="198.0" width="2.8" height="3.3" fill="#fff1eb"/><rect x="114.3" y="198.0" width="2.8" height="3.3" fill="#fcb297"/><rect x="116.9" y="198.0" width="2.8" height="3.3" fill="#feeae0"/><rect x="119.5" y="198.0" width="2.8" height="3.3" fill="#ffede5"/><rect x="122.1" y="198.0" width="2.8" height="3.3" fill="#fdc9b3"/><rect x="124.7" y="198.0" width="2.8" height="3.3" fill="#fc9879"/><rect x="127.3" y="198.0" width="2.8" height="3.3" fill="#fc8a6a"/><rect x="129.9" y="198.0" width="2.8" height="3.3" fill="#fcb499"/><rect x="132.4" y="198.0" width="2.8" height="3.3" fill="#fc8b6b"/><rect x="135.0" y="198.0" width="2.8" height="3.3" fill="#df2c25"/><rect x="137.6" y="198.0" width="2.8" height="3.3" fill="#fca487"/><rect x="49.6" y="201.2" width="2.8" height="3.3" fill="#fee6da"/><rect x="52.2" y="201.2" width="2.8" height="3.3" fill="#ffebe2"/><rect x="54.8" y="201.2" width="2.8" height="3.3" fill="#fc9f81"/><rect x="57.4" y="201.2" width="2.8" height="3.3" fill="#fdceba"/><rect x="60.0" y="201.2" width="2.8" height="3.3" fill="#fee3d7"/><rect x="62.6" y="201.2" width="2.8" height="3.3" fill="#fff0e9"/><rect x="65.2" y="201.2" width="2.8" height="3.3" fill="#fdcdb8"/><rect x="67.8" y="201.2" width="2.8" height="3.3" fill="#ffece4"/><rect x="70.3" y="201.2" width="2.8" height="3.3" fill="#fcb89d"/><rect x="72.9" y="201.2" width="2.8" height="3.3" fill="#fdc8b2"/><rect x="75.5" y="201.2" width="2.8" height="3.3" fill="#feddce"/><rect x="78.1" y="201.2" width="2.8" height="3.3" fill="#fcbda3"/><rect x="80.7" y="201.2" width="2.8" height="3.3" fill="#fb7353"/><rect x="83.3" y="201.2" width="2.8" height="3.3" fill="#fcc1a9"/><rect x="85.9" y="201.2" width="2.8" height="3.3" fill="#fa6849"/><rect x="88.5" y="201.2" width="2.8" height="3.3" fill="#fc8d6d"/><rect x="91.0" y="201.2" width="2.8" height="3.3" fill="#f6563d"/><rect x="93.6" y="201.2" width="2.8" height="3.3" fill="#fc8e6e"/><rect x="96.2" y="201.2" width="2.8" height="3.3" fill="#fc8767"/><rect x="98.8" y="201.2" width="2.8" height="3.3" fill="#f6553d"/><rect x="101.4" y="201.2" width="2.8" height="3.3" fill="#fcb69b"/><rect x="104.0" y="201.2" width="2.8" height="3.3" fill="#fcad91"/><rect x="106.6" y="201.2" width="2.8" height="3.3" fill="#fdcbb6"/><rect x="109.2" y="201.2" width="2.8" height="3.3" fill="#ffefe8"/><rect x="111.8" y="201.2" width="2.8" height="3.3" fill="#fed9c9"/><rect x="114.3" y="201.2" width="2.8" height="3.3" fill="#fc8262"/><rect x="116.9" y="201.2" width="2.8" height="3.3" fill="#f75c41"/><rect x="119.5" y="201.2" width="2.8" height="3.3" fill="#e63228"/><rect x="122.1" y="201.2" width="2.8" height="3.3" fill="#fb6849"/><rect x="124.7" y="201.2" width="2.8" height="3.3" fill="#fca78a"/><rect x="127.3" y="201.2" width="2.8" height="3.3" fill="#fc8c6c"/><rect x="129.9" y="201.2" width="2.8" height="3.3" fill="#fc9070"/><rect x="49.6" y="204.3" width="2.8" height="3.3" fill="#fdc6af"/><rect x="52.2" y="204.3" width="2.8" height="3.3" fill="#fdccb7"/><rect x="54.8" y="204.3" width="2.8" height="3.3" fill="#fc8f6f"/><rect x="57.4" y="204.3" width="2.8" height="3.3" fill="#fc8767"/><rect x="60.0" y="204.3" width="2.8" height="3.3" fill="#feeae1"/><rect x="62.6" y="204.3" width="2.8" height="3.3" fill="#fdd4c3"/><rect x="65.2" y="204.3" width="2.8" height="3.3" fill="#ffeee6"/><rect x="67.8" y="204.3" width="2.8" height="3.3" fill="#fee9df"/><rect x="70.3" y="204.3" width="2.8" height="3.3" fill="#fdcbb6"/><rect x="72.9" y="204.3" width="2.8" height="3.3" fill="#feeae1"/><rect x="75.5" y="204.3" width="2.8" height="3.3" fill="#fff2eb"/><rect x="78.1" y="204.3" width="2.8" height="3.3" fill="#feeae0"/><rect x="80.7" y="204.3" width="2.8" height="3.3" fill="#fc9373"/><rect x="83.3" y="204.3" width="2.8" height="3.3" fill="#fc8363"/><rect x="85.9" y="204.3" width="2.8" height="3.3" fill="#fc9979"/><rect x="88.5" y="204.3" width="2.8" height="3.3" fill="#fc8363"/><rect x="91.0" y="204.3" width="2.8" height="3.3" fill="#fdd0bd"/><rect x="93.6" y="204.3" width="2.8" height="3.3" fill="#fc8a6a"/><rect x="96.2" y="204.3" width="2.8" height="3.3" fill="#f96346"/><rect x="98.8" y="204.3" width="2.8" height="3.3" fill="#fc8d6d"/><rect x="101.4" y="204.3" width="2.8" height="3.3" fill="#fc9576"/><rect x="104.0" y="204.3" width="2.8" height="3.3" fill="#fdc4ae"/><rect x="106.6" y="204.3" width="2.8" height="3.3" fill="#fee1d3"/><rect x="109.2" y="204.3" width="2.8" height="3.3" fill="#fcbba1"/><rect x="111.8" y="204.3" width="2.8" height="3.3" fill="#fdc5ae"/><rect x="114.3" y="204.3" width="2.8" height="3.3" fill="#f34d37"/><rect x="116.9" y="204.3" width="2.8" height="3.3" fill="#fb7d5d"/><rect x="119.5" y="204.3" width="2.8" height="3.3" fill="#fc8b6b"/><rect x="122.1" y="204.3" width="2.8" height="3.3" fill="#dd2a25"/><rect x="124.7" y="204.3" width="2.8" height="3.3" fill="#fc8d6d"/><rect x="127.3" y="204.3" width="2.8" height="3.3" fill="#fc8767"/><rect x="129.9" y="204.3" width="2.8" height="3.3" fill="#fc8161"/><rect x="49.6" y="207.4" width="2.8" height="3.3" fill="#fee8dd"/><rect x="52.2" y="207.4" width="2.8" height="3.3" fill="#fee3d7"/><rect x="54.8" y="207.4" width="2.8" height="3.3" fill="#fc8767"/><rect x="57.4" y="207.4" width="2.8" height="3.3" fill="#fc8b6b"/><rect x="60.0" y="207.4" width="2.8" height="3.3" fill="#fb7858"/><rect x="62.6" y="207.4" width="2.8" height="3.3" fill="#e12e26"/><rect x="65.2" y="207.4" width="2.8" height="3.3" fill="#f34a36"/><rect x="67.8" y="207.4" width="2.8" height="3.3" fill="#fc8464"/><rect x="70.3" y="207.4" width="2.8" height="3.3" fill="#fc8f6f"/><rect x="72.9" y="207.4" width="2.8" height="3.3" fill="#f6563d"/><rect x="75.5" y="207.4" width="2.8" height="3.3" fill="#ffede5"/><rect x="78.1" y="207.4" width="2.8" height="3.3" fill="#fee4d8"/><rect x="80.7" y="207.4" width="2.8" height="3.3" fill="#fcb398"/><rect x="83.3" y="207.4" width="2.8" height="3.3" fill="#fcc3ab"/><rect x="85.9" y="207.4" width="2.8" height="3.3" fill="#fedccd"/><rect x="88.5" y="207.4" width="2.8" height="3.3" fill="#fdd0bd"/><rect x="91.0" y="207.4" width="2.8" height="3.3" fill="#fb7151"/><rect x="93.6" y="207.4" width="2.8" height="3.3" fill="#cb181d"/><rect x="96.2" y="207.4" width="2.8" height="3.3" fill="#f44f39"/><rect x="98.8" y="207.4" width="2.8" height="3.3" fill="#fb6b4b"/><rect x="101.4" y="207.4" width="2.8" height="3.3" fill="#fcc1a9"/><rect x="104.0" y="207.4" width="2.8" height="3.3" fill="#fcb69b"/><rect x="106.6" y="207.4" width="2.8" height="3.3" fill="#f5543c"/><rect x="109.2" y="207.4" width="2.8" height="3.3" fill="#fb7656"/><rect x="111.8" y="207.4" width="2.8" height="3.3" fill="#d92623"/><rect x="114.3" y="207.4" width="2.8" height="3.3" fill="#da2723"/><rect x="116.9" y="207.4" width="2.8" height="3.3" fill="#fc8c6c"/><rect x="119.5" y="207.4" width="2.8" height="3.3" fill="#fc9070"/><rect x="122.1" y="207.4" width="2.8" height="3.3" fill="#fdceba"/><rect x="124.7" y="207.4" width="2.8" height="3.3" fill="#fdcab5"/><rect x="49.6" y="210.5" width="2.8" height="3.3" fill="#fca082"/><rect x="52.2" y="210.5" width="2.8" height="3.3" fill="#fcb398"/><rect x="54.8" y="210.5" width="2.8" height="3.3" fill="#fb6e4e"/><rect x="57.4" y="210.5" width="2.8" height="3.3" fill="#fb6b4b"/><rect x="60.0" y="210.5" width="2.8" height="3.3" fill="#f44f39"/><rect x="62.6" y="210.5" width="2.8" height="3.3" fill="#fb7b5b"/><rect x="65.2" y="210.5" width="2.8" height="3.3" fill="#f44d37"/><rect x="67.8" y="210.5" width="2.8" height="3.3" fill="#fc997a"/><rect x="70.3" y="210.5" width="2.8" height="3.3" fill="#fc8363"/><rect x="72.9" y="210.5" width="2.8" height="3.3" fill="#fcaa8d"/><rect x="75.5" y="210.5" width="2.8" height="3.3" fill="#fee3d6"/><rect x="78.1" y="210.5" width="2.8" height="3.3" fill="#fcc2aa"/><rect x="80.7" y="210.5" width="2.8" height="3.3" fill="#fee3d6"/><rect x="83.3" y="210.5" width="2.8" height="3.3" fill="#fee3d6"/><rect x="85.9" y="210.5" width="2.8" height="3.3" fill="#fdcfbc"/><rect x="88.5" y="210.5" width="2.8" height="3.3" fill="#fdd6c4"/><rect x="91.0" y="210.5" width="2.8" height="3.3" fill="#f03d2d"/><rect x="93.6" y="210.5" width="2.8" height="3.3" fill="#fb7050"/><rect x="96.2" y="210.5" width="2.8" height="3.3" fill="#f5523a"/><rect x="98.8" y="210.5" width="2.8" height="3.3" fill="#fc8d6d"/><rect x="101.4" y="210.5" width="2.8" height="3.3" fill="#fcbda4"/><rect x="104.0" y="210.5" width="2.8" height="3.3" fill="#fc8969"/><rect x="106.6" y="210.5" width="2.8" height="3.3" fill="#db2824"/><rect x="109.2" y="210.5" width="2.8" height="3.3" fill="#fc8a6a"/><rect x="111.8" y="210.5" width="2.8" height="3.3" fill="#fb6b4b"/><rect x="114.3" y="210.5" width="2.8" height="3.3" fill="#f14231"/><rect x="116.9" y="210.5" width="2.8" height="3.3" fill="#f5513a"/><rect x="119.5" y="210.5" width="2.8" height="3.3" fill="#fca083"/><rect x="122.1" y="210.5" width="2.8" height="3.3" fill="#fc9879"/><rect x="160.9" y="210.5" width="2.8" height="3.3" fill="#df2c25"/><rect x="163.5" y="210.5" width="2.8" height="3.3" fill="#fb7050"/><rect x="49.6" y="213.7" width="2.8" height="3.3" fill="#feddce"/><rect x="52.2" y="213.7" width="2.8" height="3.3" fill="#fed8c8"/><rect x="54.8" y="213.7" width="2.8" height="3.3" fill="#fdc8b2"/><rect x="57.4" y="213.7" width="2.8" height="3.3" fill="#fff3ee"/><rect x="60.0" y="213.7" width="2.8" height="3.3" fill="#fdc7b1"/><rect x="62.6" y="213.7" width="2.8" height="3.3" fill="#fcad91"/><rect x="65.2" y="213.7" width="2.8" height="3.3" fill="#fca284"/><rect x="67.8" y="213.7" width="2.8" height="3.3" fill="#fca285"/><rect x="70.3" y="213.7" width="2.8" height="3.3" fill="#fcad91"/><rect x="72.9" y="213.7" width="2.8" height="3.3" fill="#fc9979"/><rect x="75.5" y="213.7" width="2.8" height="3.3" fill="#ffefe8"/><rect x="78.1" y="213.7" width="2.8" height="3.3" fill="#fee8de"/><rect x="80.7" y="213.7" width="2.8" height="3.3" fill="#fca587"/><rect x="83.3" y="213.7" width="2.8" height="3.3" fill="#fcbda4"/><rect x="85.9" y="213.7" width="2.8" height="3.3" fill="#fb7353"/><rect x="88.5" y="213.7" width="2.8" height="3.3" fill="#fc8f6f"/><rect x="91.0" y="213.7" width="2.8" height="3.3" fill="#fb7a5a"/><rect x="93.6" y="213.7" width="2.8" height="3.3" fill="#f75a40"/><rect x="96.2" y="213.7" width="2.8" height="3.3" fill="#fc8e6e"/><rect x="98.8" y="213.7" width="2.8" height="3.3" fill="#fb7454"/><rect x="101.4" y="213.7" width="2.8" height="3.3" fill="#fb7a5a"/><rect x="104.0" y="213.7" width="2.8" height="3.3" fill="#fc9474"/><rect x="106.6" y="213.7" width="2.8" height="3.3" fill="#fca689"/><rect x="109.2" y="213.7" width="2.8" height="3.3" fill="#fcb99f"/><rect x="111.8" y="213.7" width="2.8" height="3.3" fill="#fca284"/><rect x="114.3" y="213.7" width="2.8" height="3.3" fill="#fc9b7d"/><rect x="116.9" y="213.7" width="2.8" height="3.3" fill="#feeae0"/><rect x="119.5" y="213.7" width="2.8" height="3.3" fill="#fff3ed"/><rect x="148.0" y="213.7" width="2.8" height="3.3" fill="#a71015"/><rect x="150.6" y="213.7" width="2.8" height="3.3" fill="#fc8a6a"/><rect x="153.1" y="213.7" width="2.8" height="3.3" fill="#f03e2e"/><rect x="155.7" y="213.7" width="2.8" height="3.3" fill="#fb7b5b"/><rect x="160.9" y="213.7" width="2.8" height="3.3" fill="#fc9879"/><rect x="163.5" y="213.7" width="2.8" height="3.3" fill="#fb7e5e"/><rect x="44.5" y="216.8" width="2.8" height="3.3" fill="#fff5f0"/><rect x="47.1" y="216.8" width="2.8" height="3.3" fill="#fff3ed"/><rect x="49.6" y="216.8" width="2.8" height="3.3" fill="#fcb99f"/><rect x="52.2" y="216.8" width="2.8" height="3.3" fill="#fdcdb9"/><rect x="54.8" y="216.8" width="2.8" height="3.3" fill="#feddcd"/><rect x="57.4" y="216.8" width="2.8" height="3.3" fill="#fdd0bc"/><rect x="60.0" y="216.8" width="2.8" height="3.3" fill="#fee1d3"/><rect x="62.6" y="216.8" width="2.8" height="3.3" fill="#fa6849"/><rect x="65.2" y="216.8" width="2.8" height="3.3" fill="#fedbcb"/><rect x="67.8" y="216.8" width="2.8" height="3.3" fill="#fee9df"/><rect x="70.3" y="216.8" width="2.8" height="3.3" fill="#fca386"/><rect x="72.9" y="216.8" width="2.8" height="3.3" fill="#fc8060"/><rect x="75.5" y="216.8" width="2.8" height="3.3" fill="#fee9df"/><rect x="78.1" y="216.8" width="2.8" height="3.3" fill="#fee0d2"/><rect x="80.7" y="216.8" width="2.8" height="3.3" fill="#f44f39"/><rect x="83.3" y="216.8" width="2.8" height="3.3" fill="#fb7454"/><rect x="85.9" y="216.8" width="2.8" height="3.3" fill="#fb6c4c"/><rect x="88.5" y="216.8" width="2.8" height="3.3" fill="#fc8e6e"/><rect x="91.0" y="216.8" width="2.8" height="3.3" fill="#fcc0a8"/><rect x="93.6" y="216.8" width="2.8" height="3.3" fill="#fca588"/><rect x="96.2" y="216.8" width="2.8" height="3.3" fill="#fc8060"/><rect x="98.8" y="216.8" width="2.8" height="3.3" fill="#fb7959"/><rect x="101.4" y="216.8" width="2.8" height="3.3" fill="#ee3a2c"/><rect x="104.0" y="216.8" width="2.8" height="3.3" fill="#fc8e6e"/><rect x="106.6" y="216.8" width="2.8" height="3.3" fill="#fcab8f"/><rect x="109.2" y="216.8" width="2.8" height="3.3" fill="#fcbea5"/><rect x="111.8" y="216.8" width="2.8" height="3.3" fill="#fcbda4"/><rect x="114.3" y="216.8" width="2.8" height="3.3" fill="#fb7a5a"/><rect x="116.9" y="216.8" width="2.8" height="3.3" fill="#ffeee6"/><rect x="145.4" y="216.8" width="2.8" height="3.3" fill="#fc8161"/><rect x="148.0" y="216.8" width="2.8" height="3.3" fill="#fa6748"/><rect x="150.6" y="216.8" width="2.8" height="3.3" fill="#d82522"/><rect x="153.1" y="216.8" width="2.8" height="3.3" fill="#fb7c5c"/><rect x="155.7" y="216.8" width="2.8" height="3.3" fill="#f24834"/><rect x="44.5" y="219.9" width="2.8" height="3.3" fill="#fdc9b4"/><rect x="47.1" y="219.9" width="2.8" height="3.3" fill="#ffede5"/><rect x="49.6" y="219.9" width="2.8" height="3.3" fill="#ffebe2"/><rect x="52.2" y="219.9" width="2.8" height="3.3" fill="#fff4ee"/><rect x="54.8" y="219.9" width="2.8" height="3.3" fill="#fff5f0"/><rect x="57.4" y="219.9" width="2.8" height="3.3" fill="#fdc9b3"/><rect x="60.0" y="219.9" width="2.8" height="3.3" fill="#fff5f0"/><rect x="62.6" y="219.9" width="2.8" height="3.3" fill="#fc9e80"/><rect x="65.2" y="219.9" width="2.8" height="3.3" fill="#fc8262"/><rect x="67.8" y="219.9" width="2.8" height="3.3" fill="#fcaf93"/><rect x="70.3" y="219.9" width="2.8" height="3.3" fill="#fc9778"/><rect x="72.9" y="219.9" width="2.8" height="3.3" fill="#fcae92"/><rect x="75.5" y="219.9" width="2.8" height="3.3" fill="#fdd6c4"/><rect x="78.1" y="219.9" width="2.8" height="3.3" fill="#fdd2bf"/><rect x="80.7" y="219.9" width="2.8" height="3.3" fill="#fee0d2"/><rect x="83.3" y="219.9" width="2.8" height="3.3" fill="#fee5d9"/><rect x="85.9" y="219.9" width="2.8" height="3.3" fill="#fc8a6a"/><rect x="88.5" y="219.9" width="2.8" height="3.3" fill="#fc8565"/><rect x="91.0" y="219.9" width="2.8" height="3.3" fill="#fc8868"/><rect x="93.6" y="219.9" width="2.8" height="3.3" fill="#fc8161"/><rect x="96.2" y="219.9" width="2.8" height="3.3" fill="#fc9575"/><rect x="98.8" y="219.9" width="2.8" height="3.3" fill="#fcaa8e"/><rect x="101.4" y="219.9" width="2.8" height="3.3" fill="#fcaa8e"/><rect x="104.0" y="219.9" width="2.8" height="3.3" fill="#fcb89e"/><rect x="106.6" y="219.9" width="2.8" height="3.3" fill="#fcac8f"/><rect x="109.2" y="219.9" width="2.8" height="3.3" fill="#fcaa8d"/><rect x="111.8" y="219.9" width="2.8" height="3.3" fill="#f7593f"/><rect x="114.3" y="219.9" width="2.8" height="3.3" fill="#f34c37"/><rect x="116.9" y="219.9" width="2.8" height="3.3" fill="#fb7252"/><rect x="150.6" y="219.9" width="2.8" height="3.3" fill="#fcbba1"/><rect x="153.1" y="219.9" width="2.8" height="3.3" fill="#f85f43"/><rect x="155.7" y="219.9" width="2.8" height="3.3" fill="#fb6e4e"/><rect x="47.1" y="223.0" width="2.8" height="3.3" fill="#fee4d8"/><rect x="49.6" y="223.0" width="2.8" height="3.3" fill="#fee5d9"/><rect x="52.2" y="223.0" width="2.8" height="3.3" fill="#fff5f0"/><rect x="54.8" y="223.0" width="2.8" height="3.3" fill="#fee3d7"/><rect x="57.4" y="223.0" width="2.8" height="3.3" fill="#fee2d5"/><rect x="60.0" y="223.0" width="2.8" height="3.3" fill="#fdd0bd"/><rect x="62.6" y="223.0" width="2.8" height="3.3" fill="#ffeee6"/><rect x="65.2" y="223.0" width="2.8" height="3.3" fill="#fcae93"/><rect x="67.8" y="223.0" width="2.8" height="3.3" fill="#fc9171"/><rect x="70.3" y="223.0" width="2.8" height="3.3" fill="#fc8c6c"/><rect x="72.9" y="223.0" width="2.8" height="3.3" fill="#fcbea5"/><rect x="75.5" y="223.0" width="2.8" height="3.3" fill="#fedaca"/><rect x="78.1" y="223.0" width="2.8" height="3.3" fill="#fdcdb8"/><rect x="80.7" y="223.0" width="2.8" height="3.3" fill="#fff3ed"/><rect x="83.3" y="223.0" width="2.8" height="3.3" fill="#ffefe7"/><rect x="85.9" y="223.0" width="2.8" height="3.3" fill="#fca183"/><rect x="88.5" y="223.0" width="2.8" height="3.3" fill="#fcb195"/><rect x="91.0" y="223.0" width="2.8" height="3.3" fill="#fc9676"/><rect x="93.6" y="223.0" width="2.8" height="3.3" fill="#fb6e4e"/><rect x="96.2" y="223.0" width="2.8" height="3.3" fill="#fcbaa0"/><rect x="98.8" y="223.0" width="2.8" height="3.3" fill="#fdc7b0"/><rect x="101.4" y="223.0" width="2.8" height="3.3" fill="#fcbca3"/><rect x="104.0" y="223.0" width="2.8" height="3.3" fill="#fb6f4f"/><rect x="106.6" y="223.0" width="2.8" height="3.3" fill="#fb6a4a"/><rect x="109.2" y="223.0" width="2.8" height="3.3" fill="#fdcab4"/><rect x="111.8" y="223.0" width="2.8" height="3.3" fill="#d72422"/><rect x="114.3" y="223.0" width="2.8" height="3.3" fill="#da2623"/><rect x="116.9" y="223.0" width="2.8" height="3.3" fill="#fb6c4c"/><rect x="119.5" y="223.0" width="2.8" height="3.3" fill="#f85f43"/><rect x="135.0" y="223.0" width="2.8" height="3.3" fill="#fb7454"/><rect x="137.6" y="223.0" width="2.8" height="3.3" fill="#fcb196"/><rect x="47.1" y="226.1" width="2.8" height="3.3" fill="#fee6da"/><rect x="49.6" y="226.1" width="2.8" height="3.3" fill="#ffede4"/><rect x="52.2" y="226.1" width="2.8" height="3.3" fill="#fff5f0"/><rect x="54.8" y="226.1" width="2.8" height="3.3" fill="#fff1eb"/><rect x="57.4" y="226.1" width="2.8" height="3.3" fill="#fee0d3"/><rect x="60.0" y="226.1" width="2.8" height="3.3" fill="#fff5f0"/><rect x="62.6" y="226.1" width="2.8" height="3.3" fill="#fcb69c"/><rect x="65.2" y="226.1" width="2.8" height="3.3" fill="#fcb296"/><rect x="67.8" y="226.1" width="2.8" height="3.3" fill="#fee3d6"/><rect x="70.3" y="226.1" width="2.8" height="3.3" fill="#fedecf"/><rect x="72.9" y="226.1" width="2.8" height="3.3" fill="#fee0d2"/><rect x="75.5" y="226.1" width="2.8" height="3.3" fill="#fff4ef"/><rect x="78.1" y="226.1" width="2.8" height="3.3" fill="#feddce"/><rect x="80.7" y="226.1" width="2.8" height="3.3" fill="#fee8dd"/><rect x="83.3" y="226.1" width="2.8" height="3.3" fill="#fee3d6"/><rect x="85.9" y="226.1" width="2.8" height="3.3" fill="#fdd4c2"/><rect x="88.5" y="226.1" width="2.8" height="3.3" fill="#f85f43"/><rect x="91.0" y="226.1" width="2.8" height="3.3" fill="#fa6849"/><rect x="93.6" y="226.1" width="2.8" height="3.3" fill="#f44e38"/><rect x="96.2" y="226.1" width="2.8" height="3.3" fill="#fc9575"/><rect x="98.8" y="226.1" width="2.8" height="3.3" fill="#f75a40"/><rect x="101.4" y="226.1" width="2.8" height="3.3" fill="#fdc7b1"/><rect x="104.0" y="226.1" width="2.8" height="3.3" fill="#fdc8b3"/><rect x="106.6" y="226.1" width="2.8" height="3.3" fill="#fcbaa0"/><rect x="109.2" y="226.1" width="2.8" height="3.3" fill="#fc8767"/><rect x="111.8" y="226.1" width="2.8" height="3.3" fill="#fb6849"/><rect x="114.3" y="226.1" width="2.8" height="3.3" fill="#f14432"/><rect x="116.9" y="226.1" width="2.8" height="3.3" fill="#ef3c2d"/><rect x="119.5" y="226.1" width="2.8" height="3.3" fill="#f5513a"/><rect x="122.1" y="226.1" width="2.8" height="3.3" fill="#fc8464"/><rect x="132.4" y="226.1" width="2.8" height="3.3" fill="#fc9f81"/><rect x="135.0" y="226.1" width="2.8" height="3.3" fill="#fca98d"/><rect x="47.1" y="229.3" width="2.8" height="3.3" fill="#fdd3c0"/><rect x="49.6" y="229.3" width="2.8" height="3.3" fill="#ffeee5"/><rect x="52.2" y="229.3" width="2.8" height="3.3" fill="#fff3ed"/><rect x="54.8" y="229.3" width="2.8" height="3.3" fill="#ffefe7"/><rect x="57.4" y="229.3" width="2.8" height="3.3" fill="#fee3d7"/><rect x="60.0" y="229.3" width="2.8" height="3.3" fill="#fff5f0"/><rect x="62.6" y="229.3" width="2.8" height="3.3" fill="#fdd4c2"/><rect x="65.2" y="229.3" width="2.8" height="3.3" fill="#fee2d5"/><rect x="67.8" y="229.3" width="2.8" height="3.3" fill="#fee3d6"/><rect x="70.3" y="229.3" width="2.8" height="3.3" fill="#fff0e9"/><rect x="72.9" y="229.3" width="2.8" height="3.3" fill="#fdc9b4"/><rect x="75.5" y="229.3" width="2.8" height="3.3" fill="#fdd0bd"/><rect x="78.1" y="229.3" width="2.8" height="3.3" fill="#fee4d8"/><rect x="80.7" y="229.3" width="2.8" height="3.3" fill="#fff3ed"/><rect x="83.3" y="229.3" width="2.8" height="3.3" fill="#fee6db"/><rect x="85.9" y="229.3" width="2.8" height="3.3" fill="#fc8161"/><rect x="88.5" y="229.3" width="2.8" height="3.3" fill="#fc9e80"/><rect x="91.0" y="229.3" width="2.8" height="3.3" fill="#f03d2d"/><rect x="93.6" y="229.3" width="2.8" height="3.3" fill="#fc9677"/><rect x="96.2" y="229.3" width="2.8" height="3.3" fill="#e12d26"/><rect x="98.8" y="229.3" width="2.8" height="3.3" fill="#fcad91"/><rect x="101.4" y="229.3" width="2.8" height="3.3" fill="#fdcab4"/><rect x="104.0" y="229.3" width="2.8" height="3.3" fill="#fc8969"/><rect x="106.6" y="229.3" width="2.8" height="3.3" fill="#fc8565"/><rect x="109.2" y="229.3" width="2.8" height="3.3" fill="#fc8262"/><rect x="111.8" y="229.3" width="2.8" height="3.3" fill="#fc9b7c"/><rect x="114.3" y="229.3" width="2.8" height="3.3" fill="#f96346"/><rect x="116.9" y="229.3" width="2.8" height="3.3" fill="#f6563d"/><rect x="119.5" y="229.3" width="2.8" height="3.3" fill="#e73329"/><rect x="122.1" y="229.3" width="2.8" height="3.3" fill="#f75a40"/><rect x="135.0" y="229.3" width="2.8" height="3.3" fill="#fca588"/><rect x="44.5" y="232.4" width="2.8" height="3.3" fill="#fb6b4b"/><rect x="47.1" y="232.4" width="2.8" height="3.3" fill="#fca487"/><rect x="49.6" y="232.4" width="2.8" height="3.3" fill="#ffede4"/><rect x="52.2" y="232.4" width="2.8" height="3.3" fill="#fcad91"/><rect x="54.8" y="232.4" width="2.8" height="3.3" fill="#ffeee5"/><rect x="57.4" y="232.4" width="2.8" height="3.3" fill="#fc9677"/><rect x="60.0" y="232.4" width="2.8" height="3.3" fill="#ffede4"/><rect x="62.6" y="232.4" width="2.8" height="3.3" fill="#fca88c"/><rect x="65.2" y="232.4" width="2.8" height="3.3" fill="#fff2eb"/><rect x="67.8" y="232.4" width="2.8" height="3.3" fill="#fff5f0"/><rect x="70.3" y="232.4" width="2.8" height="3.3" fill="#fdcdb9"/><rect x="72.9" y="232.4" width="2.8" height="3.3" fill="#fee3d7"/><rect x="75.5" y="232.4" width="2.8" height="3.3" fill="#fcb79c"/><rect x="78.1" y="232.4" width="2.8" height="3.3" fill="#fb7555"/><rect x="80.7" y="232.4" width="2.8" height="3.3" fill="#fc9e80"/><rect x="83.3" y="232.4" width="2.8" height="3.3" fill="#fcb094"/><rect x="85.9" y="232.4" width="2.8" height="3.3" fill="#fc9070"/><rect x="88.5" y="232.4" width="2.8" height="3.3" fill="#f24834"/><rect x="91.0" y="232.4" width="2.8" height="3.3" fill="#ed392b"/><rect x="93.6" y="232.4" width="2.8" height="3.3" fill="#f6583f"/><rect x="96.2" y="232.4" width="2.8" height="3.3" fill="#fb6a4a"/><rect x="98.8" y="232.4" width="2.8" height="3.3" fill="#da2623"/><rect x="101.4" y="232.4" width="2.8" height="3.3" fill="#fc997a"/><rect x="104.0" y="232.4" width="2.8" height="3.3" fill="#fb7151"/><rect x="106.6" y="232.4" width="2.8" height="3.3" fill="#fc9778"/><rect x="109.2" y="232.4" width="2.8" height="3.3" fill="#fca78a"/><rect x="111.8" y="232.4" width="2.8" height="3.3" fill="#fca285"/><rect x="114.3" y="232.4" width="2.8" height="3.3" fill="#fc8c6c"/><rect x="116.9" y="232.4" width="2.8" height="3.3" fill="#fc8464"/><rect x="47.1" y="235.5" width="2.8" height="3.3" fill="#fdccb7"/><rect x="49.6" y="235.5" width="2.8" height="3.3" fill="#fff1ea"/><rect x="52.2" y="235.5" width="2.8" height="3.3" fill="#fdccb8"/><rect x="54.8" y="235.5" width="2.8" height="3.3" fill="#fff1ea"/><rect x="57.4" y="235.5" width="2.8" height="3.3" fill="#fedccd"/><rect x="60.0" y="235.5" width="2.8" height="3.3" fill="#fee2d5"/><rect x="62.6" y="235.5" width="2.8" height="3.3" fill="#fcc4ac"/><rect x="65.2" y="235.5" width="2.8" height="3.3" fill="#fee3d7"/><rect x="67.8" y="235.5" width="2.8" height="3.3" fill="#fedfd0"/><rect x="70.3" y="235.5" width="2.8" height="3.3" fill="#fff1ea"/><rect x="72.9" y="235.5" width="2.8" height="3.3" fill="#feddce"/><rect x="75.5" y="235.5" width="2.8" height="3.3" fill="#fff2ec"/><rect x="78.1" y="235.5" width="2.8" height="3.3" fill="#fdcebb"/><rect x="80.7" y="235.5" width="2.8" height="3.3" fill="#fc8464"/><rect x="83.3" y="235.5" width="2.8" height="3.3" fill="#f85d42"/><rect x="85.9" y="235.5" width="2.8" height="3.3" fill="#fb6d4d"/><rect x="88.5" y="235.5" width="2.8" height="3.3" fill="#fc8767"/><rect x="91.0" y="235.5" width="2.8" height="3.3" fill="#f5533b"/><rect x="93.6" y="235.5" width="2.8" height="3.3" fill="#f03d2d"/><rect x="96.2" y="235.5" width="2.8" height="3.3" fill="#fa6547"/><rect x="98.8" y="235.5" width="2.8" height="3.3" fill="#f85f43"/><rect x="101.4" y="235.5" width="2.8" height="3.3" fill="#f96245"/><rect x="104.0" y="235.5" width="2.8" height="3.3" fill="#fc9070"/><rect x="106.6" y="235.5" width="2.8" height="3.3" fill="#fdc8b2"/><rect x="109.2" y="235.5" width="2.8" height="3.3" fill="#fee1d3"/><rect x="111.8" y="235.5" width="2.8" height="3.3" fill="#fc8b6b"/><rect x="114.3" y="235.5" width="2.8" height="3.3" fill="#fcb196"/><rect x="44.5" y="238.6" width="2.8" height="3.3" fill="#fcbda4"/><rect x="47.1" y="238.6" width="2.8" height="3.3" fill="#fc9f80"/><rect x="49.6" y="238.6" width="2.8" height="3.3" fill="#db2824"/><rect x="52.2" y="238.6" width="2.8" height="3.3" fill="#fc9374"/><rect x="54.8" y="238.6" width="2.8" height="3.3" fill="#fcbaa0"/><rect x="57.4" y="238.6" width="2.8" height="3.3" fill="#fdcab5"/><rect x="60.0" y="238.6" width="2.8" height="3.3" fill="#fca487"/><rect x="62.6" y="238.6" width="2.8" height="3.3" fill="#fedaca"/><rect x="65.2" y="238.6" width="2.8" height="3.3" fill="#fff0e8"/><rect x="67.8" y="238.6" width="2.8" height="3.3" fill="#fedbcb"/><rect x="70.3" y="238.6" width="2.8" height="3.3" fill="#fca487"/><rect x="72.9" y="238.6" width="2.8" height="3.3" fill="#fc8565"/><rect x="75.5" y="238.6" width="2.8" height="3.3" fill="#fb7353"/><rect x="78.1" y="238.6" width="2.8" height="3.3" fill="#fc8c6c"/><rect x="80.7" y="238.6" width="2.8" height="3.3" fill="#cf1c1f"/><rect x="83.3" y="238.6" width="2.8" height="3.3" fill="#fb7757"/><rect x="85.9" y="238.6" width="2.8" height="3.3" fill="#fc8666"/><rect x="88.5" y="238.6" width="2.8" height="3.3" fill="#f75b41"/><rect x="91.0" y="238.6" width="2.8" height="3.3" fill="#f0402f"/><rect x="93.6" y="238.6" width="2.8" height="3.3" fill="#d42121"/><rect x="96.2" y="238.6" width="2.8" height="3.3" fill="#fb7050"/><rect x="98.8" y="238.6" width="2.8" height="3.3" fill="#fc9373"/><rect x="101.4" y="238.6" width="2.8" height="3.3" fill="#fdd7c6"/><rect x="104.0" y="238.6" width="2.8" height="3.3" fill="#fdd7c5"/><rect x="106.6" y="238.6" width="2.8" height="3.3" fill="#d01d1f"/><rect x="109.2" y="238.6" width="2.8" height="3.3" fill="#fb6e4e"/><rect x="111.8" y="238.6" width="2.8" height="3.3" fill="#ac1116"/><rect x="114.3" y="238.6" width="2.8" height="3.3" fill="#f14130"/><rect x="44.5" y="241.8" width="2.8" height="3.3" fill="#fcb89d"/><rect x="47.1" y="241.8" width="2.8" height="3.3" fill="#fcc0a8"/><rect x="49.6" y="241.8" width="2.8" height="3.3" fill="#fcb59a"/><rect x="52.2" y="241.8" width="2.8" height="3.3" fill="#fc8666"/><rect x="54.8" y="241.8" width="2.8" height="3.3" fill="#fc8e6e"/><rect x="57.4" y="241.8" width="2.8" height="3.3" fill="#fc9070"/><rect x="60.0" y="241.8" width="2.8" height="3.3" fill="#fc9171"/><rect x="62.6" y="241.8" width="2.8" height="3.3" fill="#fca78a"/><rect x="65.2" y="241.8" width="2.8" height="3.3" fill="#ffece4"/><rect x="67.8" y="241.8" width="2.8" height="3.3" fill="#fedbcc"/><rect x="70.3" y="241.8" width="2.8" height="3.3" fill="#fca88c"/><rect x="72.9" y="241.8" width="2.8" height="3.3" fill="#fc9474"/><rect x="75.5" y="241.8" width="2.8" height="3.3" fill="#fca487"/><rect x="78.1" y="241.8" width="2.8" height="3.3" fill="#fcaf93"/><rect x="80.7" y="241.8" width="2.8" height="3.3" fill="#fc8262"/><rect x="83.3" y="241.8" width="2.8" height="3.3" fill="#fb7e5e"/><rect x="85.9" y="241.8" width="2.8" height="3.3" fill="#f7593f"/><rect x="88.5" y="241.8" width="2.8" height="3.3" fill="#f14130"/><rect x="91.0" y="241.8" width="2.8" height="3.3" fill="#d42121"/><rect x="93.6" y="241.8" width="2.8" height="3.3" fill="#f85d42"/><rect x="96.2" y="241.8" width="2.8" height="3.3" fill="#fc9c7e"/><rect x="98.8" y="241.8" width="2.8" height="3.3" fill="#f24532"/><rect x="101.4" y="241.8" width="2.8" height="3.3" fill="#fc9475"/><rect x="104.0" y="241.8" width="2.8" height="3.3" fill="#fc997a"/><rect x="106.6" y="241.8" width="2.8" height="3.3" fill="#f44d38"/><rect x="109.2" y="241.8" width="2.8" height="3.3" fill="#ea362a"/><rect x="111.8" y="241.8" width="2.8" height="3.3" fill="#fb7a5a"/><rect x="114.3" y="241.8" width="2.8" height="3.3" fill="#fc8e6e"/><rect x="44.5" y="244.9" width="2.8" height="3.3" fill="#fa6648"/><rect x="47.1" y="244.9" width="2.8" height="3.3" fill="#fca78a"/><rect x="49.6" y="244.9" width="2.8" height="3.3" fill="#fca98c"/><rect x="52.2" y="244.9" width="2.8" height="3.3" fill="#fb7555"/><rect x="54.8" y="244.9" width="2.8" height="3.3" fill="#fc9373"/><rect x="57.4" y="244.9" width="2.8" height="3.3" fill="#fcad91"/><rect x="60.0" y="244.9" width="2.8" height="3.3" fill="#fcab8e"/><rect x="62.6" y="244.9" width="2.8" height="3.3" fill="#fedccd"/><rect x="65.2" y="244.9" width="2.8" height="3.3" fill="#fdc9b3"/><rect x="67.8" y="244.9" width="2.8" height="3.3" fill="#fcbea5"/><rect x="70.3" y="244.9" width="2.8" height="3.3" fill="#fb7353"/><rect x="72.9" y="244.9" width="2.8" height="3.3" fill="#ec382b"/><rect x="75.5" y="244.9" width="2.8" height="3.3" fill="#d52221"/><rect x="78.1" y="244.9" width="2.8" height="3.3" fill="#bf151a"/><rect x="80.7" y="244.9" width="2.8" height="3.3" fill="#f96044"/><rect x="83.3" y="244.9" width="2.8" height="3.3" fill="#fc8d6d"/><rect x="85.9" y="244.9" width="2.8" height="3.3" fill="#fb7e5e"/><rect x="88.5" y="244.9" width="2.8" height="3.3" fill="#fa6547"/><rect x="91.0" y="244.9" width="2.8" height="3.3" fill="#fb6849"/><rect x="93.6" y="244.9" width="2.8" height="3.3" fill="#fb6c4c"/><rect x="96.2" y="244.9" width="2.8" height="3.3" fill="#f86044"/><rect x="98.8" y="244.9" width="2.8" height="3.3" fill="#fb7555"/><rect x="101.4" y="244.9" width="2.8" height="3.3" fill="#fc7f5f"/><rect x="104.0" y="244.9" width="2.8" height="3.3" fill="#fb7050"/><rect x="106.6" y="244.9" width="2.8" height="3.3" fill="#fca285"/><rect x="44.5" y="248.0" width="2.8" height="3.3" fill="#fc9d7e"/><rect x="47.1" y="248.0" width="2.8" height="3.3" fill="#f86044"/><rect x="49.6" y="248.0" width="2.8" height="3.3" fill="#fc8363"/><rect x="52.2" y="248.0" width="2.8" height="3.3" fill="#fcc4ad"/><rect x="54.8" y="248.0" width="2.8" height="3.3" fill="#fc9273"/><rect x="57.4" y="248.0" width="2.8" height="3.3" fill="#f34935"/><rect x="60.0" y="248.0" width="2.8" height="3.3" fill="#fc8868"/><rect x="62.6" y="248.0" width="2.8" height="3.3" fill="#fb7050"/><rect x="65.2" y="248.0" width="2.8" height="3.3" fill="#fcc3ac"/><rect x="67.8" y="248.0" width="2.8" height="3.3" fill="#fc9373"/><rect x="70.3" y="248.0" width="2.8" height="3.3" fill="#fb7e5e"/><rect x="72.9" y="248.0" width="2.8" height="3.3" fill="#fc9a7c"/><rect x="75.5" y="248.0" width="2.8" height="3.3" fill="#fb7252"/><rect x="78.1" y="248.0" width="2.8" height="3.3" fill="#f6583e"/><rect x="80.7" y="248.0" width="2.8" height="3.3" fill="#fb7656"/><rect x="83.3" y="248.0" width="2.8" height="3.3" fill="#ed392b"/><rect x="85.9" y="248.0" width="2.8" height="3.3" fill="#c5171c"/><rect x="88.5" y="248.0" width="2.8" height="3.3" fill="#fa6648"/><rect x="91.0" y="248.0" width="2.8" height="3.3" fill="#f5543c"/><rect x="93.6" y="248.0" width="2.8" height="3.3" fill="#f0402f"/><rect x="96.2" y="248.0" width="2.8" height="3.3" fill="#fb7050"/><rect x="98.8" y="248.0" width="2.8" height="3.3" fill="#f85e42"/><rect x="101.4" y="248.0" width="2.8" height="3.3" fill="#fdd1be"/><rect x="54.8" y="251.1" width="2.8" height="3.3" fill="#fdc6b0"/><rect x="57.4" y="251.1" width="2.8" height="3.3" fill="#fc9b7d"/><rect x="60.0" y="251.1" width="2.8" height="3.3" fill="#f7593f"/><rect x="62.6" y="251.1" width="2.8" height="3.3" fill="#da2623"/><rect x="65.2" y="251.1" width="2.8" height="3.3" fill="#c6171c"/><rect x="67.8" y="251.1" width="2.8" height="3.3" fill="#f24633"/><rect x="70.3" y="251.1" width="2.8" height="3.3" fill="#fdc5ae"/><rect x="72.9" y="251.1" width="2.8" height="3.3" fill="#fb7b5b"/><rect x="75.5" y="251.1" width="2.8" height="3.3" fill="#fb7858"/><rect x="78.1" y="251.1" width="2.8" height="3.3" fill="#f85e43"/><rect x="80.7" y="251.1" width="2.8" height="3.3" fill="#fa6849"/><rect x="83.3" y="251.1" width="2.8" height="3.3" fill="#fb7b5b"/><rect x="85.9" y="251.1" width="2.8" height="3.3" fill="#fca78a"/><rect x="88.5" y="251.1" width="2.8" height="3.3" fill="#fc8464"/><rect x="91.0" y="251.1" width="2.8" height="3.3" fill="#fb7050"/><rect x="93.6" y="251.1" width="2.8" height="3.3" fill="#fca486"/><rect x="96.2" y="251.1" width="2.8" height="3.3" fill="#fee0d2"/><rect x="98.8" y="251.1" width="2.8" height="3.3" fill="#fee9df"/><rect x="101.4" y="251.1" width="2.8" height="3.3" fill="#fdc9b3"/><rect x="54.8" y="254.3" width="2.8" height="3.3" fill="#fc9373"/><rect x="57.4" y="254.3" width="2.8" height="3.3" fill="#fc9777"/><rect x="60.0" y="254.3" width="2.8" height="3.3" fill="#fc8969"/><rect x="62.6" y="254.3" width="2.8" height="3.3" fill="#fb7050"/><rect x="65.2" y="254.3" width="2.8" height="3.3" fill="#ef3b2c"/><rect x="67.8" y="254.3" width="2.8" height="3.3" fill="#f34d37"/><rect x="70.3" y="254.3" width="2.8" height="3.3" fill="#fb7656"/><rect x="72.9" y="254.3" width="2.8" height="3.3" fill="#fb7050"/><rect x="75.5" y="254.3" width="2.8" height="3.3" fill="#fcb79d"/><rect x="85.9" y="254.3" width="2.8" height="3.3" fill="#fcbea5"/><rect x="57.4" y="257.4" width="2.8" height="3.3" fill="#fca689"/><rect x="60.0" y="257.4" width="2.8" height="3.3" fill="#fc9373"/><rect x="62.6" y="257.4" width="2.8" height="3.3" fill="#fdd5c3"/><rect x="65.2" y="257.4" width="2.8" height="3.3" fill="#f85f43"/><rect x="67.8" y="257.4" width="2.8" height="3.3" fill="#f86044"/><rect x="70.3" y="257.4" width="2.8" height="3.3" fill="#fca386"/><rect x="60.0" y="260.5" width="2.8" height="3.3" fill="#fc9979"/><rect x="62.6" y="260.5" width="2.8" height="3.3" fill="#fb6b4b"/><rect x="65.2" y="260.5" width="2.8" height="3.3" fill="#f44d38"/></g>
<path d="M49.1 169.3 L51.2 173.7 L50.2 177.4 L51.7 182.4 L49.6 184.9 L52.2 188.1 L53.8 189.3 M51.2 174.3 L57.9 176.8 L65.2 175.6 L70.3 174.9 L75.0 173.7 L75.5 171.2 M75.0 173.7 L77.6 176.2 L80.7 178.1 L82.8 178.7 L84.8 176.2 L87.9 174.9 L89.5 171.8 M87.9 174.9 L90.0 177.4 L92.1 179.9 L96.2 181.2 L101.4 179.9 L104.0 172.4 M90.0 177.4 L90.0 181.2 L93.1 187.4 L99.3 188.7 L103.5 189.3 L104.5 186.2 L101.4 183.1 L96.2 181.2 M114.3 176.8 L110.7 182.4 L107.6 187.4 L103.5 189.3 M103.5 189.3 L101.4 194.9 L102.4 198.7 M129.3 178.1 L128.3 184.9 L126.2 191.2 L125.7 194.9 L124.2 201.2 L124.7 204.9 L127.3 207.4 M124.7 204.9 L120.0 204.9 L115.9 208.7 L113.8 213.7 L110.7 213.7 M110.7 213.7 L104.5 206.2 L102.4 198.7 M74.5 209.9 L78.6 206.2 L81.7 202.4 L86.9 199.3 L90.0 201.2 M74.5 209.9 L76.6 211.2 L82.8 213.7 L90.0 213.7 L90.0 207.4 L90.0 201.2 M90.0 201.2 L95.2 198.7 L102.4 198.7 M50.7 210.5 L57.9 208.7 L64.1 211.2 L70.3 212.4 L74.5 209.9 M70.3 212.4 L67.2 219.9 L70.3 223.7 L68.3 228.6 L69.3 229.9 M48.6 238.6 L53.8 238.6 L60.0 238.6 L64.1 236.1 L67.2 231.8 L69.3 229.9 M69.3 229.9 L73.5 231.1 L78.6 233.6 L85.9 233.0 L93.1 233.6 L97.3 236.1 M97.3 236.1 L99.3 239.9 L101.4 243.6 L104.5 246.1 M97.3 236.1 L103.5 231.1 L106.6 232.4 L110.7 231.8 M110.7 231.8 L111.8 234.9 L112.8 238.6 L114.3 240.5 M110.7 231.8 L111.8 227.4 L108.6 222.4 L106.6 218.7 L108.6 214.9 L110.7 213.7" fill="none" stroke="#5a5a5a" stroke-width="0.45" stroke-opacity="0.9"/>
<path d="M30.3 190.3 L30.2 188.1 L30.8 187.2 L31.8 185.9 L30.2 185.6 L32.1 183.9 L30.0 183.1 L30.8 181.8 L29.5 181.4 L28.4 181.4 L28.6 179.9 L27.7 178.9 L26.2 177.4 L26.7 176.2 L25.8 175.2 L27.1 174.1 L29.5 172.8 L32.1 172.2 L34.6 171.4 L36.2 171.2 L36.7 169.9 L38.3 168.1 L40.5 166.7 L42.6 166.3 L44.0 167.2 L46.5 168.4 L49.1 169.2 L52.8 169.1 L56.9 169.1 L60.0 168.9 L61.6 168.1 L63.1 169.2 L66.2 169.3 L69.3 170.2 L72.9 170.9 L75.5 171.2 L78.6 171.2 L81.7 170.3 L83.3 170.3 L86.4 170.6 L89.0 171.4 L91.0 171.4 L93.1 170.8 L96.2 171.4 L99.3 172.4 L101.9 172.2 L103.7 171.4 L105.5 172.7 L107.6 172.8 L107.8 175.6 L109.7 175.2 L112.3 176.2 L114.3 176.8 L116.4 178.7 L119.0 178.2 L122.1 180.1 L125.2 180.2 L128.8 178.1 L129.9 178.4 L130.9 179.7 L133.5 179.7 L137.1 181.2 L139.9 182.4 L142.3 183.1 L143.8 183.7 L148.0 184.3 L150.6 183.4 L153.7 183.1 L154.9 183.3 L156.5 184.7 L154.7 185.6 L155.0 187.2 L155.2 189.3 L153.7 191.2 L151.1 192.9 L148.0 194.3 L144.9 196.2 L141.8 198.0 L138.1 198.9 L134.5 199.9 L131.9 200.9 L130.9 203.0 L131.2 204.9 L129.3 205.5 L127.8 206.8 L126.2 209.3 L123.7 212.4 L121.6 214.3 L120.0 216.8 L118.8 219.9 L119.0 221.8 L119.8 224.3 L120.5 226.4 L122.6 227.6 L124.2 228.9 L123.1 230.1 L121.6 231.1 L119.5 232.4 L117.4 233.9 L116.4 235.9 L115.4 238.0 L114.6 240.5 L114.9 243.0 L112.8 243.9 L109.7 244.3 L107.1 245.5 L105.0 246.8 L103.5 248.6 L102.2 251.1 L100.9 253.6 L99.3 254.6 L97.3 253.4 L94.7 254.6 L91.0 254.4 L86.9 254.9 L82.8 254.4 L78.6 254.6 L76.0 255.1 L73.5 257.4 L70.3 258.0 L67.8 259.9 L66.7 261.7 L65.7 263.0 L64.1 263.6 L62.1 262.6 L60.0 261.1 L57.9 258.6 L56.9 256.8 L55.7 254.3 L54.8 251.8 L51.7 249.9 L49.6 248.6 L47.1 248.6 L45.3 248.9 L44.5 246.1 L45.0 243.0 L47.1 239.3 L49.6 238.0 L50.2 236.1 L48.6 236.1 L46.5 233.0 L47.1 230.5 L49.1 227.6 L49.6 226.8 L47.6 223.7 L46.5 220.5 L44.2 217.8 L49.6 217.8 L50.2 213.7 L51.7 210.5 L51.2 207.4 L51.7 203.0 L50.7 200.5 L52.8 198.7 L55.9 196.2 L57.9 193.9 L54.3 192.7 L53.8 189.3 L51.2 189.3 L47.6 190.2 L45.0 190.6 L42.4 190.2 L39.8 190.6 L38.3 189.9 L37.2 187.2 L34.6 187.7 L32.6 188.4 L30.3 190.3Z M146.4 219.0 L148.0 220.4 L150.3 219.7 L152.6 221.7 L153.7 222.8 L155.7 221.8 L157.8 217.4 L156.8 216.4 L155.2 214.9 L154.2 214.3 L152.6 214.9 L150.6 215.8 L148.5 217.4 L146.7 218.4Z M161.4 213.7 L161.9 214.5 L164.5 215.3 L166.6 215.9 L166.8 215.2 L165.6 213.7 L163.5 212.9 L161.9 212.9Z M134.5 227.6 L136.1 228.0 L137.1 227.1 L138.7 226.1 L138.1 224.9 L136.1 225.2 L134.5 226.4Z M136.4 229.9 L137.1 230.3 L138.5 230.4 L137.6 229.5 L136.8 229.4Z" fill="none" stroke="#555" stroke-width="0.45"/>
<rect x="21.2" y="160.6" width="152.3" height="108.9" fill="none" stroke="#8a8a8a" stroke-width="1"/>
<line x1="19.2" x2="21.2" y1="163.7" y2="163.7" stroke="#888" stroke-width="0.8"/>
<text x="18.2" y="167.2" font-size="8" text-anchor="end">44N</text>
<line x1="19.2" x2="21.2" y1="188.7" y2="188.7" stroke="#888" stroke-width="0.8"/>
<text x="18.2" y="192.2" font-size="8" text-anchor="end">42N</text>
<line x1="19.2" x2="21.2" y1="213.7" y2="213.7" stroke="#888" stroke-width="0.8"/>
<text x="18.2" y="217.2" font-size="8" text-anchor="end">40N</text>
<line x1="19.2" x2="21.2" y1="238.6" y2="238.6" stroke="#888" stroke-width="0.8"/>
<text x="18.2" y="242.1" font-size="8" text-anchor="end">38N</text>
<line x1="19.2" x2="21.2" y1="263.6" y2="263.6" stroke="#888" stroke-width="0.8"/>
<text x="18.2" y="267.1" font-size="8" text-anchor="end">36N</text>
<line x1="39.3" x2="39.3" y1="269.5" y2="271.5" stroke="#888" stroke-width="0.8"/>
<text x="39.3" y="278.6" font-size="8" text-anchor="middle">8W</text>
<line x1="60.0" x2="60.0" y1="269.5" y2="271.5" stroke="#888" stroke-width="0.8"/>
<text x="60.0" y="278.6" font-size="8" text-anchor="middle">6W</text>
<line x1="80.7" x2="80.7" y1="269.5" y2="271.5" stroke="#888" stroke-width="0.8"/>
<text x="80.7" y="278.6" font-size="8" text-anchor="middle">4W</text>
<line x1="101.4" x2="101.4" y1="269.5" y2="271.5" stroke="#888" stroke-width="0.8"/>
<text x="101.4" y="278.6" font-size="8" text-anchor="middle">2W</text>
<line x1="122.1" x2="122.1" y1="269.5" y2="271.5" stroke="#888" stroke-width="0.8"/>
<text x="122.1" y="278.6" font-size="8" text-anchor="middle">0</text>
<line x1="142.8" x2="142.8" y1="269.5" y2="271.5" stroke="#888" stroke-width="0.8"/>
<text x="142.8" y="278.6" font-size="8" text-anchor="middle">2E</text>
<line x1="163.5" x2="163.5" y1="269.5" y2="271.5" stroke="#888" stroke-width="0.8"/>
<text x="163.5" y="278.6" font-size="8" text-anchor="middle">4E</text>
<linearGradient id="cbg3" gradientUnits="userSpaceOnUse" x1="28.5" x2="166.2" y1="0" y2="0"><stop offset="0.000" stop-color="#67000d"/><stop offset="0.125" stop-color="#a50f15"/><stop offset="0.250" stop-color="#cb181d"/><stop offset="0.375" stop-color="#ef3b2c"/><stop offset="0.500" stop-color="#fb6a4a"/><stop offset="0.625" stop-color="#fc9272"/><stop offset="0.750" stop-color="#fcbba1"/><stop offset="0.875" stop-color="#fee0d2"/><stop offset="1.000" stop-color="#fff5f0"/></linearGradient>
<path d="M21.5 285.5 L28.5 283.4 L166.2 283.4 L173.2 285.5 L166.2 287.7 L28.5 287.7 Z" fill="url(#cbg3)" stroke="#555" stroke-width="0.45"/>
<line x1="28.5" x2="28.5" y1="287.7" y2="289.0" stroke="#555" stroke-width="0.6"/>
<text x="28.5" y="296.7" font-size="8" text-anchor="middle">−65</text>
<line x1="62.9" x2="62.9" y1="287.7" y2="289.0" stroke="#555" stroke-width="0.6"/>
<text x="62.9" y="296.7" font-size="8" text-anchor="middle">−60</text>
<line x1="97.3" x2="97.3" y1="287.7" y2="289.0" stroke="#555" stroke-width="0.6"/>
<text x="97.3" y="296.7" font-size="8" text-anchor="middle">−55</text>
<line x1="131.8" x2="131.8" y1="287.7" y2="289.0" stroke="#555" stroke-width="0.6"/>
<text x="131.8" y="296.7" font-size="8" text-anchor="middle">−50</text>
<line x1="166.2" x2="166.2" y1="287.7" y2="289.0" stroke="#555" stroke-width="0.6"/>
<text x="166.2" y="296.7" font-size="8" text-anchor="middle">−45</text>
<text x="97.3" y="306.9" font-size="8.25" text-anchor="middle">rel. Negative Hit bias [%]</text>
<g clip-path="url(#sp4)"><g filter="url(#nf4)"><rect x="205.7" y="161.0" width="5.6" height="6.8" fill="#494949"/><rect x="211.1" y="161.0" width="5.6" height="6.8" fill="#424242"/><rect x="216.4" y="161.0" width="5.6" height="6.8" fill="#494949"/><rect x="221.8" y="161.0" width="5.6" height="6.8" fill="#494949"/><rect x="227.2" y="161.0" width="5.6" height="6.8" fill="#494949"/><rect x="232.6" y="161.0" width="5.6" height="6.8" fill="#676767"/><rect x="237.9" y="161.0" width="5.6" height="6.8" fill="#494949"/><rect x="243.3" y="161.0" width="5.6" height="6.8" fill="#494949"/><rect x="248.7" y="161.0" width="5.6" height="6.8" fill="#494949"/><rect x="254.1" y="161.0" width="5.6" height="6.8" fill="#5f5f5f"/><rect x="259.4" y="161.0" width="5.6" height="6.8" fill="#676767"/><rect x="264.8" y="161.0" width="5.6" height="6.8" fill="#717171"/><rect x="270.2" y="161.0" width="5.6" height="6.8" fill="#7c7c7c"/><rect x="275.6" y="161.0" width="5.6" height="6.8" fill="#7c7c7c"/><rect x="280.9" y="161.0" width="5.6" height="6.8" fill="#676767"/><rect x="286.3" y="161.0" width="5.6" height="6.8" fill="#494949"/><rect x="291.7" y="161.0" width="5.6" height="6.8" fill="#3b3b3b"/><rect x="297.1" y="161.0" width="5.6" height="6.8" fill="#2e2e2e"/><rect x="302.4" y="161.0" width="5.6" height="6.8" fill="#444444"/><rect x="307.8" y="161.0" width="5.6" height="6.8" fill="#494949"/><rect x="313.2" y="161.0" width="5.6" height="6.8" fill="#434343"/><rect x="318.6" y="161.0" width="5.6" height="6.8" fill="#3e3e3e"/><rect x="323.9" y="161.0" width="5.6" height="6.8" fill="#383838"/><rect x="329.3" y="161.0" width="5.6" height="6.8" fill="#333333"/><rect x="334.7" y="161.0" width="5.6" height="6.8" fill="#2e2e2e"/><rect x="340.1" y="161.0" width="5.6" height="6.8" fill="#2e2e2e"/><rect x="345.4" y="161.0" width="5.6" height="6.8" fill="#2e2e2e"/><rect x="350.8" y="161.0" width="5.6" height="6.8" fill="#2e2e2e"/><rect x="205.7" y="167.6" width="5.6" height="6.8" fill="#494949"/><rect x="211.1" y="167.6" width="5.6" height="6.8" fill="#494949"/><rect x="216.4" y="167.6" width="5.6" height="6.8" fill="#2e2e2e"/><rect x="221.8" y="167.6" width="5.6" height="6.8" fill="#494949"/><rect x="227.2" y="167.6" width="5.6" height="6.8" fill="#676767"/><rect x="232.6" y="167.6" width="5.6" height="6.8" fill="#888888"/><rect x="237.9" y="167.6" width="5.6" height="6.8" fill="#676767"/><rect x="243.3" y="167.6" width="5.6" height="6.8" fill="#676767"/><rect x="248.7" y="167.6" width="5.6" height="6.8" fill="#676767"/><rect x="254.1" y="167.6" width="5.6" height="6.8" fill="#676767"/><rect x="259.4" y="167.6" width="5.6" height="6.8" fill="#676767"/><rect x="264.8" y="167.6" width="5.6" height="6.8" fill="#676767"/><rect x="270.2" y="167.6" width="5.6" height="6.8" fill="#888888"/><rect x="275.6" y="167.6" width="5.6" height="6.8" fill="#888888"/><rect x="280.9" y="167.6" width="5.6" height="6.8" fill="#676767"/><rect x="286.3" y="167.6" width="5.6" height="6.8" fill="#494949"/><rect x="291.7" y="167.6" width="5.6" height="6.8" fill="#2e2e2e"/><rect x="297.1" y="167.6" width="5.6" height="6.8" fill="#424242"/><rect x="302.4" y="167.6" width="5.6" height="6.8" fill="#494949"/><rect x="307.8" y="167.6" width="5.6" height="6.8" fill="#494949"/><rect x="313.2" y="167.6" width="5.6" height="6.8" fill="#494949"/><rect x="318.6" y="167.6" width="5.6" height="6.8" fill="#3f3f3f"/><rect x="323.9" y="167.6" width="5.6" height="6.8" fill="#373737"/><rect x="329.3" y="167.6" width="5.6" height="6.8" fill="#2e2e2e"/><rect x="334.7" y="167.6" width="5.6" height="6.8" fill="#2e2e2e"/><rect x="340.1" y="167.6" width="5.6" height="6.8" fill="#2e2e2e"/><rect x="345.4" y="167.6" width="5.6" height="6.8" fill="#2e2e2e"/><rect x="350.8" y="167.6" width="5.6" height="6.8" fill="#2e2e2e"/><rect x="205.7" y="174.2" width="5.6" height="6.8" fill="#494949"/><rect x="211.1" y="174.2" width="5.6" height="6.8" fill="#494949"/><rect x="216.4" y="174.2" width="5.6" height="6.8" fill="#494949"/><rect x="221.8" y="174.2" width="5.6" height="6.8" fill="#494949"/><rect x="227.2" y="174.2" width="5.6" height="6.8" fill="#676767"/><rect x="232.6" y="174.2" width="5.6" height="6.8" fill="#676767"/><rect x="237.9" y="174.2" width="5.6" height="6.8" fill="#2e2e2e"/><rect x="243.3" y="174.2" width="5.6" height="6.8" fill="#2e2e2e"/><rect x="248.7" y="174.2" width="5.6" height="6.8" fill="#2e2e2e"/><rect x="254.1" y="174.2" width="5.6" height="6.8" fill="#191919"/><rect x="259.4" y="174.2" width="5.6" height="6.8" fill="#2e2e2e"/><rect x="264.8" y="174.2" width="5.6" height="6.8" fill="#2e2e2e"/><rect x="270.2" y="174.2" width="5.6" height="6.8" fill="#2e2e2e"/><rect x="275.6" y="174.2" width="5.6" height="6.8" fill="#2e2e2e"/><rect x="280.9" y="174.2" width="5.6" height="6.8" fill="#2e2e2e"/><rect x="286.3" y="174.2" width="5.6" height="6.8" fill="#2e2e2e"/><rect x="291.7" y="174.2" width="5.6" height="6.8" fill="#494949"/><rect x="297.1" y="174.2" width="5.6" height="6.8" fill="#494949"/><rect x="302.4" y="174.2" width="5.6" height="6.8" fill="#494949"/><rect x="307.8" y="174.2" width="5.6" height="6.8" fill="#494949"/><rect x="313.2" y="174.2" width="5.6" height="6.8" fill="#494949"/><rect x="318.6" y="174.2" width="5.6" height="6.8" fill="#494949"/><rect x="323.9" y="174.2" width="5.6" height="6.8" fill="#2e2e2e"/><rect x="329.3" y="174.2" width="5.6" height="6.8" fill="#2e2e2e"/><rect x="334.7" y="174.2" width="5.6" height="6.8" fill="#2e2e2e"/><rect x="340.1" y="174.2" width="5.6" height="6.8" fill="#2e2e2e"/><rect x="345.4" y="174.2" width="5.6" height="6.8" fill="#2e2e2e"/><rect x="350.8" y="174.2" width="5.6" height="6.8" fill="#2e2e2e"/><rect x="205.7" y="180.8" width="5.6" height="6.8" fill="#494949"/><rect x="211.1" y="180.8" width="5.6" height="6.8" fill="#676767"/><rect x="216.4" y="180.8" width="5.6" height="6.8" fill="#494949"/><rect x="221.8" y="180.8" width="5.6" height="6.8" fill="#676767"/><rect x="227.2" y="180.8" width="5.6" height="6.8" fill="#676767"/><rect x="232.6" y="180.8" width="5.6" height="6.8" fill="#494949"/><rect x="237.9" y="180.8" width="5.6" height="6.8" fill="#191919"/><rect x="243.3" y="180.8" width="5.6" height="6.8" fill="#191919"/><rect x="248.7" y="180.8" width="5.6" height="6.8" fill="#080808"/><rect x="254.1" y="180.8" width="5.6" height="6.8" fill="#080808"/><rect x="259.4" y="180.8" width="5.6" height="6.8" fill="#191919"/><rect x="264.8" y="180.8" width="5.6" height="6.8" fill="#191919"/><rect x="270.2" y="180.8" width="5.6" height="6.8" fill="#191919"/><rect x="275.6" y="180.8" width="5.6" height="6.8" fill="#191919"/><rect x="280.9" y="180.8" width="5.6" height="6.8" fill="#191919"/><rect x="286.3" y="180.8" width="5.6" height="6.8" fill="#191919"/><rect x="291.7" y="180.8" width="5.6" height="6.8" fill="#191919"/><rect x="297.1" y="180.8" width="5.6" height="6.8" fill="#2e2e2e"/><rect x="302.4" y="180.8" width="5.6" height="6.8" fill="#2e2e2e"/><rect x="307.8" y="180.8" width="5.6" height="6.8" fill="#2e2e2e"/><rect x="313.2" y="180.8" width="5.6" height="6.8" fill="#2e2e2e"/><rect x="318.6" y="180.8" width="5.6" height="6.8" fill="#2e2e2e"/><rect x="323.9" y="180.8" width="5.6" height="6.8" fill="#2e2e2e"/><rect x="329.3" y="180.8" width="5.6" height="6.8" fill="#2e2e2e"/><rect x="334.7" y="180.8" width="5.6" height="6.8" fill="#2e2e2e"/><rect x="340.1" y="180.8" width="5.6" height="6.8" fill="#2e2e2e"/><rect x="345.4" y="180.8" width="5.6" height="6.8" fill="#2e2e2e"/><rect x="350.8" y="180.8" width="5.6" height="6.8" fill="#2e2e2e"/><rect x="205.7" y="187.4" width="5.6" height="6.8" fill="#5c5c5c"/><rect x="211.1" y="187.4" width="5.6" height="6.8" fill="#676767"/><rect x="216.4" y="187.4" width="5.6" height="6.8" fill="#676767"/><rect x="221.8" y="187.4" width="5.6" height="6.8" fill="#676767"/><rect x="227.2" y="187.4" width="5.6" height="6.8" fill="#676767"/><rect x="232.6" y="187.4" width="5.6" height="6.8" fill="#676767"/><rect x="237.9" y="187.4" width="5.6" height="6.8" fill="#2e2e2e"/><rect x="243.3" y="187.4" width="5.6" height="6.8" fill="#191919"/><rect x="248.7" y="187.4" width="5.6" height="6.8" fill="#191919"/><rect x="254.1" y="187.4" width="5.6" height="6.8" fill="#191919"/><rect x="259.4" y="187.4" width="5.6" height="6.8" fill="#191919"/><rect x="264.8" y="187.4" width="5.6" height="6.8" fill="#191919"/><rect x="270.2" y="187.4" width="5.6" height="6.8" fill="#191919"/><rect x="275.6" y="187.4" width="5.6" height="6.8" fill="#494949"/><rect x="280.9" y="187.4" width="5.6" height="6.8" fill="#2e2e2e"/><rect x="286.3" y="187.4" width="5.6" height="6.8" fill="#191919"/><rect x="291.7" y="187.4" width="5.6" height="6.8" fill="#191919"/><rect x="297.1" y="187.4" width="5.6" height="6.8" fill="#191919"/><rect x="302.4" y="187.4" width="5.6" height="6.8" fill="#191919"/><rect x="307.8" y="187.4" width="5.6" height="6.8" fill="#2e2e2e"/><rect x="313.2" y="187.4" width="5.6" height="6.8" fill="#2e2e2e"/><rect x="318.6" y="187.4" width="5.6" height="6.8" fill="#2e2e2e"/><rect x="323.9" y="187.4" width="5.6" height="6.8" fill="#2e2e2e"/><rect x="329.3" y="187.4" width="5.6" height="6.8" fill="#2e2e2e"/><rect x="334.7" y="187.4" width="5.6" height="6.8" fill="#2e2e2e"/><rect x="340.1" y="187.4" width="5.6" height="6.8" fill="#2e2e2e"/><rect x="345.4" y="187.4" width="5.6" height="6.8" fill="#2e2e2e"/><rect x="350.8" y="187.4" width="5.6" height="6.8" fill="#2e2e2e"/><rect x="205.7" y="194.1" width="5.6" height="6.8" fill="#676767"/><rect x="211.1" y="194.1" width="5.6" height="6.8" fill="#676767"/><rect x="216.4" y="194.1" width="5.6" height="6.8" fill="#676767"/><rect x="221.8" y="194.1" width="5.6" height="6.8" fill="#676767"/><rect x="227.2" y="194.1" width="5.6" height="6.8" fill="#434343"/><rect x="232.6" y="194.1" width="5.6" height="6.8" fill="#191919"/><rect x="237.9" y="194.1" width="5.6" height="6.8" fill="#191919"/><rect x="243.3" y="194.1" width="5.6" height="6.8" fill="#191919"/><rect x="248.7" y="194.1" width="5.6" height="6.8" fill="#191919"/><rect x="254.1" y="194.1" width="5.6" height="6.8" fill="#191919"/><rect x="259.4" y="194.1" width="5.6" height="6.8" fill="#191919"/><rect x="264.8" y="194.1" width="5.6" height="6.8" fill="#2e2e2e"/><rect x="270.2" y="194.1" width="5.6" height="6.8" fill="#494949"/><rect x="275.6" y="194.1" width="5.6" height="6.8" fill="#494949"/><rect x="280.9" y="194.1" width="5.6" height="6.8" fill="#2e2e2e"/><rect x="286.3" y="194.1" width="5.6" height="6.8" fill="#191919"/><rect x="291.7" y="194.1" width="5.6" height="6.8" fill="#191919"/><rect x="297.1" y="194.1" width="5.6" height="6.8" fill="#191919"/><rect x="302.4" y="194.1" width="5.6" height="6.8" fill="#2e2e2e"/><rect x="307.8" y="194.1" width="5.6" height="6.8" fill="#2e2e2e"/><rect x="313.2" y="194.1" width="5.6" height="6.8" fill="#2e2e2e"/><rect x="318.6" y="194.1" width="5.6" height="6.8" fill="#191919"/><rect x="323.9" y="194.1" width="5.6" height="6.8" fill="#191919"/><rect x="329.3" y="194.1" width="5.6" height="6.8" fill="#292929"/><rect x="334.7" y="194.1" width="5.6" height="6.8" fill="#2e2e2e"/><rect x="340.1" y="194.1" width="5.6" height="6.8" fill="#2e2e2e"/><rect x="345.4" y="194.1" width="5.6" height="6.8" fill="#2e2e2e"/><rect x="350.8" y="194.1" width="5.6" height="6.8" fill="#2e2e2e"/><rect x="205.7" y="200.7" width="5.6" height="6.8" fill="#676767"/><rect x="211.1" y="200.7" width="5.6" height="6.8" fill="#676767"/><rect x="216.4" y="200.7" width="5.6" height="6.8" fill="#545454"/><rect x="221.8" y="200.7" width="5.6" height="6.8" fill="#404040"/><rect x="227.2" y="200.7" width="5.6" height="6.8" fill="#272727"/><rect x="232.6" y="200.7" width="5.6" height="6.8" fill="#191919"/><rect x="237.9" y="200.7" width="5.6" height="6.8" fill="#2e2e2e"/><rect x="243.3" y="200.7" width="5.6" height="6.8" fill="#191919"/><rect x="248.7" y="200.7" width="5.6" height="6.8" fill="#191919"/><rect x="254.1" y="200.7" width="5.6" height="6.8" fill="#2e2e2e"/><rect x="259.4" y="200.7" width="5.6" height="6.8" fill="#2e2e2e"/><rect x="264.8" y="200.7" width="5.6" height="6.8" fill="#494949"/><rect x="270.2" y="200.7" width="5.6" height="6.8" fill="#2e2e2e"/><rect x="275.6" y="200.7" width="5.6" height="6.8" fill="#494949"/><rect x="280.9" y="200.7" width="5.6" height="6.8" fill="#494949"/><rect x="286.3" y="200.7" width="5.6" height="6.8" fill="#2e2e2e"/><rect x="291.7" y="200.7" width="5.6" height="6.8" fill="#2e2e2e"/><rect x="297.1" y="200.7" width="5.6" height="6.8" fill="#2e2e2e"/><rect x="302.4" y="200.7" width="5.6" height="6.8" fill="#494949"/><rect x="307.8" y="200.7" width="5.6" height="6.8" fill="#2e2e2e"/><rect x="313.2" y="200.7" width="5.6" height="6.8" fill="#2e2e2e"/><rect x="318.6" y="200.7" width="5.6" height="6.8" fill="#232323"/><rect x="323.9" y="200.7" width="5.6" height="6.8" fill="#191919"/><rect x="329.3" y="200.7" width="5.6" height="6.8" fill="#191919"/><rect x="334.7" y="200.7" width="5.6" height="6.8" fill="#3b3b3b"/><rect x="340.1" y="200.7" width="5.6" height="6.8" fill="#2e2e2e"/><rect x="345.4" y="200.7" width="5.6" height="6.8" fill="#2e2e2e"/><rect x="350.8" y="200.7" width="5.6" height="6.8" fill="#2e2e2e"/><rect x="205.7" y="207.3" width="5.6" height="6.8" fill="#676767"/><rect x="211.1" y="207.3" width="5.6" height="6.8" fill="#414141"/><rect x="216.4" y="207.3" width="5.6" height="6.8" fill="#191919"/><rect x="221.8" y="207.3" width="5.6" height="6.8" fill="#191919"/><rect x="227.2" y="207.3" width="5.6" height="6.8" fill="#232323"/><rect x="232.6" y="207.3" width="5.6" height="6.8" fill="#494949"/><rect x="237.9" y="207.3" width="5.6" height="6.8" fill="#676767"/><rect x="243.3" y="207.3" width="5.6" height="6.8" fill="#494949"/><rect x="248.7" y="207.3" width="5.6" height="6.8" fill="#676767"/><rect x="254.1" y="207.3" width="5.6" height="6.8" fill="#494949"/><rect x="259.4" y="207.3" width="5.6" height="6.8" fill="#2e2e2e"/><rect x="264.8" y="207.3" width="5.6" height="6.8" fill="#191919"/><rect x="270.2" y="207.3" width="5.6" height="6.8" fill="#191919"/><rect x="275.6" y="207.3" width="5.6" height="6.8" fill="#676767"/><rect x="280.9" y="207.3" width="5.6" height="6.8" fill="#494949"/><rect x="286.3" y="207.3" width="5.6" height="6.8" fill="#494949"/><rect x="291.7" y="207.3" width="5.6" height="6.8" fill="#2e2e2e"/><rect x="297.1" y="207.3" width="5.6" height="6.8" fill="#2e2e2e"/><rect x="302.4" y="207.3" width="5.6" height="6.8" fill="#2e2e2e"/><rect x="307.8" y="207.3" width="5.6" height="6.8" fill="#191919"/><rect x="313.2" y="207.3" width="5.6" height="6.8" fill="#272727"/><rect x="318.6" y="207.3" width="5.6" height="6.8" fill="#2e2e2e"/><rect x="323.9" y="207.3" width="5.6" height="6.8" fill="#2e2e2e"/><rect x="329.3" y="207.3" width="5.6" height="6.8" fill="#676767"/><rect x="334.7" y="207.3" width="5.6" height="6.8" fill="#676767"/><rect x="340.1" y="207.3" width="5.6" height="6.8" fill="#505050"/><rect x="345.4" y="207.3" width="5.6" height="6.8" fill="#2e2e2e"/><rect x="350.8" y="207.3" width="5.6" height="6.8" fill="#2e2e2e"/><rect x="205.7" y="213.9" width="5.6" height="6.8" fill="#2e2e2e"/><rect x="211.1" y="213.9" width="5.6" height="6.8" fill="#191919"/><rect x="216.4" y="213.9" width="5.6" height="6.8" fill="#191919"/><rect x="221.8" y="213.9" width="5.6" height="6.8" fill="#191919"/><rect x="227.2" y="213.9" width="5.6" height="6.8" fill="#191919"/><rect x="232.6" y="213.9" width="5.6" height="6.8" fill="#191919"/><rect x="237.9" y="213.9" width="5.6" height="6.8" fill="#2e2e2e"/><rect x="243.3" y="213.9" width="5.6" height="6.8" fill="#2e2e2e"/><rect x="248.7" y="213.9" width="5.6" height="6.8" fill="#494949"/><rect x="254.1" y="213.9" width="5.6" height="6.8" fill="#2e2e2e"/><rect x="259.4" y="213.9" width="5.6" height="6.8" fill="#494949"/><rect x="264.8" y="213.9" width="5.6" height="6.8" fill="#2e2e2e"/><rect x="270.2" y="213.9" width="5.6" height="6.8" fill="#2e2e2e"/><rect x="275.6" y="213.9" width="5.6" height="6.8" fill="#494949"/><rect x="280.9" y="213.9" width="5.6" height="6.8" fill="#2e2e2e"/><rect x="286.3" y="213.9" width="5.6" height="6.8" fill="#2e2e2e"/><rect x="291.7" y="213.9" width="5.6" height="6.8" fill="#2e2e2e"/><rect x="297.1" y="213.9" width="5.6" height="6.8" fill="#2e2e2e"/><rect x="302.4" y="213.9" width="5.6" height="6.8" fill="#191919"/><rect x="307.8" y="213.9" width="5.6" height="6.8" fill="#292929"/><rect x="313.2" y="213.9" width="5.6" height="6.8" fill="#232323"/><rect x="318.6" y="213.9" width="5.6" height="6.8" fill="#2e2e2e"/><rect x="323.9" y="213.9" width="5.6" height="6.8" fill="#2e2e2e"/><rect x="329.3" y="213.9" width="5.6" height="6.8" fill="#3f3f3f"/><rect x="334.7" y="213.9" width="5.6" height="6.8" fill="#676767"/><rect x="340.1" y="213.9" width="5.6" height="6.8" fill="#676767"/><rect x="345.4" y="213.9" width="5.6" height="6.8" fill="#494949"/><rect x="350.8" y="213.9" width="5.6" height="6.8" fill="#373737"/><rect x="205.7" y="220.5" width="5.6" height="6.8" fill="#2e2e2e"/><rect x="211.1" y="220.5" width="5.6" height="6.8" fill="#212121"/><rect x="216.4" y="220.5" width="5.6" height="6.8" fill="#191919"/><rect x="221.8" y="220.5" width="5.6" height="6.8" fill="#191919"/><rect x="227.2" y="220.5" width="5.6" height="6.8" fill="#191919"/><rect x="232.6" y="220.5" width="5.6" height="6.8" fill="#191919"/><rect x="237.9" y="220.5" width="5.6" height="6.8" fill="#191919"/><rect x="243.3" y="220.5" width="5.6" height="6.8" fill="#191919"/><rect x="248.7" y="220.5" width="5.6" height="6.8" fill="#191919"/><rect x="254.1" y="220.5" width="5.6" height="6.8" fill="#191919"/><rect x="259.4" y="220.5" width="5.6" height="6.8" fill="#2e2e2e"/><rect x="264.8" y="220.5" width="5.6" height="6.8" fill="#191919"/><rect x="270.2" y="220.5" width="5.6" height="6.8" fill="#191919"/><rect x="275.6" y="220.5" width="5.6" height="6.8" fill="#2e2e2e"/><rect x="280.9" y="220.5" width="5.6" height="6.8" fill="#2e2e2e"/><rect x="286.3" y="220.5" width="5.6" height="6.8" fill="#2e2e2e"/><rect x="291.7" y="220.5" width="5.6" height="6.8" fill="#2e2e2e"/><rect x="297.1" y="220.5" width="5.6" height="6.8" fill="#494949"/><rect x="302.4" y="220.5" width="5.6" height="6.8" fill="#494949"/><rect x="307.8" y="220.5" width="5.6" height="6.8" fill="#3b3b3b"/><rect x="313.2" y="220.5" width="5.6" height="6.8" fill="#373737"/><rect x="318.6" y="220.5" width="5.6" height="6.8" fill="#2e2e2e"/><rect x="323.9" y="220.5" width="5.6" height="6.8" fill="#2e2e2e"/><rect x="329.3" y="220.5" width="5.6" height="6.8" fill="#3b3b3b"/><rect x="334.7" y="220.5" width="5.6" height="6.8" fill="#2e2e2e"/><rect x="340.1" y="220.5" width="5.6" height="6.8" fill="#2e2e2e"/><rect x="345.4" y="220.5" width="5.6" height="6.8" fill="#494949"/><rect x="350.8" y="220.5" width="5.6" height="6.8" fill="#494949"/><rect x="205.7" y="227.1" width="5.6" height="6.8" fill="#2e2e2e"/><rect x="211.1" y="227.1" width="5.6" height="6.8" fill="#232323"/><rect x="216.4" y="227.1" width="5.6" height="6.8" fill="#212121"/><rect x="221.8" y="227.1" width="5.6" height="6.8" fill="#191919"/><rect x="227.2" y="227.1" width="5.6" height="6.8" fill="#191919"/><rect x="232.6" y="227.1" width="5.6" height="6.8" fill="#191919"/><rect x="237.9" y="227.1" width="5.6" height="6.8" fill="#191919"/><rect x="243.3" y="227.1" width="5.6" height="6.8" fill="#191919"/><rect x="248.7" y="227.1" width="5.6" height="6.8" fill="#191919"/><rect x="254.1" y="227.1" width="5.6" height="6.8" fill="#191919"/><rect x="259.4" y="227.1" width="5.6" height="6.8" fill="#2e2e2e"/><rect x="264.8" y="227.1" width="5.6" height="6.8" fill="#2e2e2e"/><rect x="270.2" y="227.1" width="5.6" height="6.8" fill="#2e2e2e"/><rect x="275.6" y="227.1" width="5.6" height="6.8" fill="#494949"/><rect x="280.9" y="227.1" width="5.6" height="6.8" fill="#2e2e2e"/><rect x="286.3" y="227.1" width="5.6" height="6.8" fill="#2e2e2e"/><rect x="291.7" y="227.1" width="5.6" height="6.8" fill="#2e2e2e"/><rect x="297.1" y="227.1" width="5.6" height="6.8" fill="#494949"/><rect x="302.4" y="227.1" width="5.6" height="6.8" fill="#494949"/><rect x="307.8" y="227.1" width="5.6" height="6.8" fill="#494949"/><rect x="313.2" y="227.1" width="5.6" height="6.8" fill="#373737"/><rect x="318.6" y="227.1" width="5.6" height="6.8" fill="#2e2e2e"/><rect x="323.9" y="227.1" width="5.6" height="6.8" fill="#2e2e2e"/><rect x="329.3" y="227.1" width="5.6" height="6.8" fill="#2e2e2e"/><rect x="334.7" y="227.1" width="5.6" height="6.8" fill="#2e2e2e"/><rect x="340.1" y="227.1" width="5.6" height="6.8" fill="#2e2e2e"/><rect x="345.4" y="227.1" width="5.6" height="6.8" fill="#2e2e2e"/><rect x="350.8" y="227.1" width="5.6" height="6.8" fill="#494949"/><rect x="205.7" y="233.7" width="5.6" height="6.8" fill="#2e2e2e"/><rect x="211.1" y="233.7" width="5.6" height="6.8" fill="#232323"/><rect x="216.4" y="233.7" width="5.6" height="6.8" fill="#252525"/><rect x="221.8" y="233.7" width="5.6" height="6.8" fill="#272727"/><rect x="227.2" y="233.7" width="5.6" height="6.8" fill="#191919"/><rect x="232.6" y="233.7" width="5.6" height="6.8" fill="#191919"/><rect x="237.9" y="233.7" width="5.6" height="6.8" fill="#2e2e2e"/><rect x="243.3" y="233.7" width="5.6" height="6.8" fill="#2e2e2e"/><rect x="248.7" y="233.7" width="5.6" height="6.8" fill="#191919"/><rect x="254.1" y="233.7" width="5.6" height="6.8" fill="#2e2e2e"/><rect x="259.4" y="233.7" width="5.6" height="6.8" fill="#2e2e2e"/><rect x="264.8" y="233.7" width="5.6" height="6.8" fill="#2e2e2e"/><rect x="270.2" y="233.7" width="5.6" height="6.8" fill="#494949"/><rect x="275.6" y="233.7" width="5.6" height="6.8" fill="#888888"/><rect x="280.9" y="233.7" width="5.6" height="6.8" fill="#494949"/><rect x="286.3" y="233.7" width="5.6" height="6.8" fill="#2e2e2e"/><rect x="291.7" y="233.7" width="5.6" height="6.8" fill="#2e2e2e"/><rect x="297.1" y="233.7" width="5.6" height="6.8" fill="#2e2e2e"/><rect x="302.4" y="233.7" width="5.6" height="6.8" fill="#2e2e2e"/><rect x="307.8" y="233.7" width="5.6" height="6.8" fill="#3f3f3f"/><rect x="313.2" y="233.7" width="5.6" height="6.8" fill="#3b3b3b"/><rect x="318.6" y="233.7" width="5.6" height="6.8" fill="#2e2e2e"/><rect x="323.9" y="233.7" width="5.6" height="6.8" fill="#2e2e2e"/><rect x="329.3" y="233.7" width="5.6" height="6.8" fill="#2e2e2e"/><rect x="334.7" y="233.7" width="5.6" height="6.8" fill="#2e2e2e"/><rect x="340.1" y="233.7" width="5.6" height="6.8" fill="#2e2e2e"/><rect x="345.4" y="233.7" width="5.6" height="6.8" fill="#2e2e2e"/><rect x="350.8" y="233.7" width="5.6" height="6.8" fill="#2e2e2e"/><rect x="205.7" y="240.3" width="5.6" height="6.8" fill="#2e2e2e"/><rect x="211.1" y="240.3" width="5.6" height="6.8" fill="#252525"/><rect x="216.4" y="240.3" width="5.6" height="6.8" fill="#292929"/><rect x="221.8" y="240.3" width="5.6" height="6.8" fill="#2e2e2e"/><rect x="227.2" y="240.3" width="5.6" height="6.8" fill="#494949"/><rect x="232.6" y="240.3" width="5.6" height="6.8" fill="#494949"/><rect x="237.9" y="240.3" width="5.6" height="6.8" fill="#2e2e2e"/><rect x="243.3" y="240.3" width="5.6" height="6.8" fill="#2e2e2e"/><rect x="248.7" y="240.3" width="5.6" height="6.8" fill="#2e2e2e"/><rect x="254.1" y="240.3" width="5.6" height="6.8" fill="#2e2e2e"/><rect x="259.4" y="240.3" width="5.6" height="6.8" fill="#2e2e2e"/><rect x="264.8" y="240.3" width="5.6" height="6.8" fill="#494949"/><rect x="270.2" y="240.3" width="5.6" height="6.8" fill="#494949"/><rect x="275.6" y="240.3" width="5.6" height="6.8" fill="#676767"/><rect x="280.9" y="240.3" width="5.6" height="6.8" fill="#494949"/><rect x="286.3" y="240.3" width="5.6" height="6.8" fill="#2e2e2e"/><rect x="291.7" y="240.3" width="5.6" height="6.8" fill="#2e2e2e"/><rect x="297.1" y="240.3" width="5.6" height="6.8" fill="#2e2e2e"/><rect x="302.4" y="240.3" width="5.6" height="6.8" fill="#2e2e2e"/><rect x="307.8" y="240.3" width="5.6" height="6.8" fill="#2e2e2e"/><rect x="313.2" y="240.3" width="5.6" height="6.8" fill="#383838"/><rect x="318.6" y="240.3" width="5.6" height="6.8" fill="#373737"/><rect x="323.9" y="240.3" width="5.6" height="6.8" fill="#2e2e2e"/><rect x="329.3" y="240.3" width="5.6" height="6.8" fill="#2e2e2e"/><rect x="334.7" y="240.3" width="5.6" height="6.8" fill="#2e2e2e"/><rect x="340.1" y="240.3" width="5.6" height="6.8" fill="#2e2e2e"/><rect x="345.4" y="240.3" width="5.6" height="6.8" fill="#2e2e2e"/><rect x="350.8" y="240.3" width="5.6" height="6.8" fill="#2e2e2e"/><rect x="205.7" y="246.9" width="5.6" height="6.8" fill="#2e2e2e"/><rect x="211.1" y="246.9" width="5.6" height="6.8" fill="#292929"/><rect x="216.4" y="246.9" width="5.6" height="6.8" fill="#2e2e2e"/><rect x="221.8" y="246.9" width="5.6" height="6.8" fill="#3b3b3b"/><rect x="227.2" y="246.9" width="5.6" height="6.8" fill="#2e2e2e"/><rect x="232.6" y="246.9" width="5.6" height="6.8" fill="#2e2e2e"/><rect x="237.9" y="246.9" width="5.6" height="6.8" fill="#2e2e2e"/><rect x="243.3" y="246.9" width="5.6" height="6.8" fill="#191919"/><rect x="248.7" y="246.9" width="5.6" height="6.8" fill="#2e2e2e"/><rect x="254.1" y="246.9" width="5.6" height="6.8" fill="#191919"/><rect x="259.4" y="246.9" width="5.6" height="6.8" fill="#2e2e2e"/><rect x="264.8" y="246.9" width="5.6" height="6.8" fill="#2e2e2e"/><rect x="270.2" y="246.9" width="5.6" height="6.8" fill="#494949"/><rect x="275.6" y="246.9" width="5.6" height="6.8" fill="#494949"/><rect x="280.9" y="246.9" width="5.6" height="6.8" fill="#2e2e2e"/><rect x="286.3" y="246.9" width="5.6" height="6.8" fill="#191919"/><rect x="291.7" y="246.9" width="5.6" height="6.8" fill="#292929"/><rect x="297.1" y="246.9" width="5.6" height="6.8" fill="#2e2e2e"/><rect x="302.4" y="246.9" width="5.6" height="6.8" fill="#2e2e2e"/><rect x="307.8" y="246.9" width="5.6" height="6.8" fill="#2e2e2e"/><rect x="313.2" y="246.9" width="5.6" height="6.8" fill="#2e2e2e"/><rect x="318.6" y="246.9" width="5.6" height="6.8" fill="#383838"/><rect x="323.9" y="246.9" width="5.6" height="6.8" fill="#373737"/><rect x="329.3" y="246.9" width="5.6" height="6.8" fill="#2e2e2e"/><rect x="334.7" y="246.9" width="5.6" height="6.8" fill="#2e2e2e"/><rect x="340.1" y="246.9" width="5.6" height="6.8" fill="#2e2e2e"/><rect x="345.4" y="246.9" width="5.6" height="6.8" fill="#2e2e2e"/><rect x="350.8" y="246.9" width="5.6" height="6.8" fill="#2e2e2e"/><rect x="205.7" y="253.5" width="5.6" height="6.8" fill="#2e2e2e"/><rect x="211.1" y="253.5" width="5.6" height="6.8" fill="#2e2e2e"/><rect x="216.4" y="253.5" width="5.6" height="6.8" fill="#3b3b3b"/><rect x="221.8" y="253.5" width="5.6" height="6.8" fill="#2e2e2e"/><rect x="227.2" y="253.5" width="5.6" height="6.8" fill="#2e2e2e"/><rect x="232.6" y="253.5" width="5.6" height="6.8" fill="#2e2e2e"/><rect x="237.9" y="253.5" width="5.6" height="6.8" fill="#2e2e2e"/><rect x="243.3" y="253.5" width="5.6" height="6.8" fill="#2e2e2e"/><rect x="248.7" y="253.5" width="5.6" height="6.8" fill="#676767"/><rect x="254.1" y="253.5" width="5.6" height="6.8" fill="#2e2e2e"/><rect x="259.4" y="253.5" width="5.6" height="6.8" fill="#2e2e2e"/><rect x="264.8" y="253.5" width="5.6" height="6.8" fill="#2e2e2e"/><rect x="270.2" y="253.5" width="5.6" height="6.8" fill="#2e2e2e"/><rect x="275.6" y="253.5" width="5.6" height="6.8" fill="#2e2e2e"/><rect x="280.9" y="253.5" width="5.6" height="6.8" fill="#191919"/><rect x="286.3" y="253.5" width="5.6" height="6.8" fill="#1f1f1f"/><rect x="291.7" y="253.5" width="5.6" height="6.8" fill="#191919"/><rect x="297.1" y="253.5" width="5.6" height="6.8" fill="#292929"/><rect x="302.4" y="253.5" width="5.6" height="6.8" fill="#2e2e2e"/><rect x="307.8" y="253.5" width="5.6" height="6.8" fill="#2e2e2e"/><rect x="313.2" y="253.5" width="5.6" height="6.8" fill="#2e2e2e"/><rect x="318.6" y="253.5" width="5.6" height="6.8" fill="#2e2e2e"/><rect x="323.9" y="253.5" width="5.6" height="6.8" fill="#2e2e2e"/><rect x="329.3" y="253.5" width="5.6" height="6.8" fill="#2e2e2e"/><rect x="334.7" y="253.5" width="5.6" height="6.8" fill="#2e2e2e"/><rect x="340.1" y="253.5" width="5.6" height="6.8" fill="#2e2e2e"/><rect x="345.4" y="253.5" width="5.6" height="6.8" fill="#2e2e2e"/><rect x="350.8" y="253.5" width="5.6" height="6.8" fill="#2e2e2e"/><rect x="205.7" y="260.1" width="5.6" height="6.8" fill="#2e2e2e"/><rect x="211.1" y="260.1" width="5.6" height="6.8" fill="#3b3b3b"/><rect x="216.4" y="260.1" width="5.6" height="6.8" fill="#2e2e2e"/><rect x="221.8" y="260.1" width="5.6" height="6.8" fill="#2e2e2e"/><rect x="227.2" y="260.1" width="5.6" height="6.8" fill="#2e2e2e"/><rect x="232.6" y="260.1" width="5.6" height="6.8" fill="#2e2e2e"/><rect x="237.9" y="260.1" width="5.6" height="6.8" fill="#373737"/><rect x="243.3" y="260.1" width="5.6" height="6.8" fill="#494949"/><rect x="248.7" y="260.1" width="5.6" height="6.8" fill="#676767"/><rect x="254.1" y="260.1" width="5.6" height="6.8" fill="#2e2e2e"/><rect x="259.4" y="260.1" width="5.6" height="6.8" fill="#2e2e2e"/><rect x="264.8" y="260.1" width="5.6" height="6.8" fill="#2e2e2e"/><rect x="270.2" y="260.1" width="5.6" height="6.8" fill="#2e2e2e"/><rect x="275.6" y="260.1" width="5.6" height="6.8" fill="#272727"/><rect x="280.9" y="260.1" width="5.6" height="6.8" fill="#232323"/><rect x="286.3" y="260.1" width="5.6" height="6.8" fill="#191919"/><rect x="291.7" y="260.1" width="5.6" height="6.8" fill="#1f1f1f"/><rect x="297.1" y="260.1" width="5.6" height="6.8" fill="#191919"/><rect x="302.4" y="260.1" width="5.6" height="6.8" fill="#292929"/><rect x="307.8" y="260.1" width="5.6" height="6.8" fill="#2e2e2e"/><rect x="313.2" y="260.1" width="5.6" height="6.8" fill="#2e2e2e"/><rect x="318.6" y="260.1" width="5.6" height="6.8" fill="#2e2e2e"/><rect x="323.9" y="260.1" width="5.6" height="6.8" fill="#2e2e2e"/><rect x="329.3" y="260.1" width="5.6" height="6.8" fill="#2e2e2e"/><rect x="334.7" y="260.1" width="5.6" height="6.8" fill="#2e2e2e"/><rect x="340.1" y="260.1" width="5.6" height="6.8" fill="#2e2e2e"/><rect x="345.4" y="260.1" width="5.6" height="6.8" fill="#2e2e2e"/><rect x="350.8" y="260.1" width="5.6" height="6.8" fill="#2e2e2e"/><polyline points="232.6,212.6 241.2,210.6 251.4,209.9 258.4,206.6 264.8,202.6 272.3,199.3" fill="none" stroke="#e9e9e9" stroke-width="2.3" stroke-linecap="round" stroke-linejoin="round"/><polyline points="275.6,195.4 279.9,200.7 286.3,209.9 291.7,219.2" fill="none" stroke="#c0c0c0" stroke-width="2.3" stroke-linecap="round" stroke-linejoin="round"/><polyline points="282.2,232.4 279.9,237.0 276.4,243.0" fill="none" stroke="#e9e9e9" stroke-width="2.3" stroke-linecap="round" stroke-linejoin="round"/><polyline points="272.3,248.3 270.2,254.2" fill="none" stroke="#9a9a9a" stroke-width="2.3" stroke-linecap="round" stroke-linejoin="round"/><polyline points="243.3,174.2 259.4,173.6 272.3,173.6" fill="none" stroke="#777777" stroke-width="2.3" stroke-linecap="round" stroke-linejoin="round"/><polyline points="302.4,176.9 318.6,179.5" fill="none" stroke="#9a9a9a" stroke-width="2.3" stroke-linecap="round" stroke-linejoin="round"/><polyline points="274.5,184.8 278.8,188.1" fill="none" stroke="#9a9a9a" stroke-width="2.3" stroke-linecap="round" stroke-linejoin="round"/></g></g>
<path d="M232.0 166.9 L234.2 171.6 L233.1 175.5 L234.7 180.8 L232.6 183.5 L235.2 186.8 L236.9 188.1 M234.2 172.2 L241.2 174.9 L248.7 173.6 L254.1 172.9 L258.9 171.6 L259.4 168.9 M258.9 171.6 L261.6 174.2 L264.8 176.2 L266.9 176.9 L269.1 174.2 L272.3 172.9 L273.9 169.6 M272.3 172.9 L274.5 175.5 L276.6 178.2 L280.9 179.5 L286.3 178.2 L289.0 170.3 M274.5 175.5 L274.5 179.5 L277.7 186.1 L284.2 187.4 L288.4 188.1 L289.5 184.8 L286.3 181.5 L280.9 179.5 M299.7 174.9 L296.0 180.8 L292.8 186.1 L288.4 188.1 M288.4 188.1 L286.3 194.1 L287.4 198.0 M315.3 176.2 L314.2 183.5 L312.1 190.1 L311.6 194.1 L309.9 200.7 L310.5 204.6 L313.2 207.3 M310.5 204.6 L305.7 204.6 L301.4 208.6 L299.2 213.9 L296.0 213.9 M296.0 213.9 L289.5 205.9 L287.4 198.0 M258.4 209.9 L262.7 205.9 L265.9 202.0 L271.2 198.7 L274.5 200.7 M258.4 209.9 L260.5 211.2 L266.9 213.9 L274.5 213.9 L274.5 207.3 L274.5 200.7 M274.5 200.7 L279.9 198.0 L287.4 198.0 M233.6 210.6 L241.2 208.6 L247.6 211.2 L254.1 212.6 L258.4 209.9 M254.1 212.6 L250.8 220.5 L254.1 224.5 L251.9 229.7 L253.0 231.1 M231.5 240.3 L236.9 240.3 L243.3 240.3 L247.6 237.7 L250.8 233.0 L253.0 231.1 M253.0 231.1 L257.3 232.4 L262.7 235.0 L270.2 234.4 L277.7 235.0 L282.0 237.7 M282.0 237.7 L284.2 241.6 L286.3 245.6 L289.5 248.3 M282.0 237.7 L288.4 232.4 L291.7 233.7 L296.0 233.0 M296.0 233.0 L297.1 236.4 L298.1 240.3 L299.7 242.3 M296.0 233.0 L297.1 228.4 L293.8 223.1 L291.7 219.2 L293.8 215.2 L296.0 213.9" fill="none" stroke="#5a5a5a" stroke-width="0.45" stroke-opacity="0.9"/>
<path d="M212.4 189.2 L212.3 186.8 L213.0 185.9 L214.1 184.5 L212.3 184.1 L214.3 182.4 L212.1 181.5 L213.0 180.2 L211.6 179.8 L210.5 179.8 L210.7 178.2 L209.8 177.1 L208.1 175.5 L208.7 174.2 L207.8 173.2 L209.1 172.0 L211.6 170.7 L214.3 170.0 L217.0 169.2 L218.6 168.9 L219.1 167.6 L220.7 165.6 L223.1 164.2 L225.2 163.8 L226.6 164.7 L229.3 166.0 L232.0 166.8 L235.8 166.7 L240.1 166.7 L243.3 166.6 L244.9 165.6 L246.5 166.8 L249.8 166.9 L253.0 167.9 L256.7 168.7 L259.4 168.9 L262.7 168.9 L265.9 168.0 L267.5 168.0 L270.7 168.3 L273.4 169.2 L275.6 169.2 L277.7 168.5 L280.9 169.2 L284.2 170.3 L286.8 170.0 L288.7 169.2 L290.6 170.5 L292.8 170.7 L293.0 173.6 L294.9 173.2 L297.6 174.2 L299.7 174.9 L301.9 176.9 L304.6 176.3 L307.8 178.3 L311.0 178.5 L314.8 176.2 L315.9 176.6 L316.9 177.9 L319.6 177.9 L323.4 179.5 L326.3 180.8 L328.8 181.5 L330.4 182.2 L334.7 182.8 L337.4 181.9 L340.6 181.5 L341.9 181.8 L343.5 183.2 L341.7 184.1 L342.0 185.9 L342.2 188.1 L340.6 190.1 L337.9 191.9 L334.7 193.4 L331.4 195.4 L328.2 197.4 L324.5 198.3 L320.7 199.3 L318.0 200.4 L316.9 202.6 L317.3 204.6 L315.3 205.3 L313.7 206.6 L312.1 209.3 L309.4 212.6 L307.3 214.5 L305.7 217.2 L304.4 220.5 L304.6 222.5 L305.4 225.1 L306.2 227.4 L308.3 228.7 L309.9 230.0 L308.9 231.3 L307.3 232.4 L305.1 233.7 L303.0 235.3 L301.9 237.4 L300.8 239.7 L300.1 242.3 L300.3 244.9 L298.1 245.9 L294.9 246.3 L292.2 247.6 L290.1 248.9 L288.4 250.9 L287.2 253.5 L285.8 256.2 L284.2 257.2 L282.0 255.9 L279.3 257.2 L275.6 257.0 L271.2 257.5 L266.9 257.0 L262.7 257.2 L260.0 257.8 L257.3 260.1 L254.1 260.8 L251.4 262.8 L250.3 264.8 L249.2 266.1 L247.6 266.8 L245.5 265.7 L243.3 264.1 L241.2 261.5 L240.1 259.5 L238.8 256.8 L237.9 254.2 L234.7 252.2 L232.6 250.9 L229.9 250.9 L228.0 251.2 L227.2 248.3 L227.7 244.9 L229.9 241.0 L232.6 239.7 L233.1 237.7 L231.5 237.7 L229.3 234.4 L229.9 231.7 L232.0 228.7 L232.6 227.8 L230.4 224.5 L229.3 221.2 L226.9 218.2 L232.6 218.2 L233.1 213.9 L234.7 210.6 L234.2 207.3 L234.7 202.6 L233.6 200.0 L235.8 198.0 L239.0 195.4 L241.2 193.0 L237.4 191.7 L236.9 188.1 L234.2 188.1 L230.4 189.0 L227.7 189.4 L225.0 189.0 L222.3 189.4 L220.7 188.8 L219.7 185.9 L217.0 186.4 L214.8 187.2 L212.4 189.2Z M333.1 219.6 L334.7 221.0 L337.0 220.2 L339.5 222.3 L340.6 223.5 L342.7 222.5 L344.9 217.8 L343.8 216.8 L342.2 215.2 L341.1 214.5 L339.5 215.2 L337.4 216.1 L335.2 217.8 L333.4 218.9Z M348.7 213.9 L349.2 214.8 L351.9 215.6 L354.0 216.3 L354.2 215.5 L352.9 213.9 L350.8 213.1 L349.2 213.1Z M320.7 228.7 L322.3 229.1 L323.4 228.2 L325.0 227.1 L324.5 225.8 L322.3 226.0 L320.7 227.4Z M322.6 231.1 L323.4 231.5 L324.8 231.6 L323.9 230.7 L323.1 230.5Z" fill="none" stroke="#555" stroke-width="0.45"/>
<rect x="205.9" y="161.0" width="152.9" height="108.4" fill="none" stroke="#8a8a8a" stroke-width="1"/>
<line x1="203.9" x2="205.9" y1="161.0" y2="161.0" stroke="#888" stroke-width="0.8"/>
<text x="202.9" y="164.5" font-size="8" text-anchor="end">44N</text>
<line x1="203.9" x2="205.9" y1="187.4" y2="187.4" stroke="#888" stroke-width="0.8"/>
<text x="202.9" y="190.9" font-size="8" text-anchor="end">42N</text>
<line x1="203.9" x2="205.9" y1="213.9" y2="213.9" stroke="#888" stroke-width="0.8"/>
<text x="202.9" y="217.4" font-size="8" text-anchor="end">40N</text>
<line x1="203.9" x2="205.9" y1="240.3" y2="240.3" stroke="#888" stroke-width="0.8"/>
<text x="202.9" y="243.8" font-size="8" text-anchor="end">38N</text>
<line x1="203.9" x2="205.9" y1="266.8" y2="266.8" stroke="#888" stroke-width="0.8"/>
<text x="202.9" y="270.3" font-size="8" text-anchor="end">36N</text>
<line x1="221.8" x2="221.8" y1="269.4" y2="271.4" stroke="#888" stroke-width="0.8"/>
<text x="221.8" y="278.5" font-size="8" text-anchor="middle">8W</text>
<line x1="243.3" x2="243.3" y1="269.4" y2="271.4" stroke="#888" stroke-width="0.8"/>
<text x="243.3" y="278.5" font-size="8" text-anchor="middle">6W</text>
<line x1="264.8" x2="264.8" y1="269.4" y2="271.4" stroke="#888" stroke-width="0.8"/>
<text x="264.8" y="278.5" font-size="8" text-anchor="middle">4W</text>
<line x1="286.3" x2="286.3" y1="269.4" y2="271.4" stroke="#888" stroke-width="0.8"/>
<text x="286.3" y="278.5" font-size="8" text-anchor="middle">2W</text>
<line x1="307.8" x2="307.8" y1="269.4" y2="271.4" stroke="#888" stroke-width="0.8"/>
<text x="307.8" y="278.5" font-size="8" text-anchor="middle">0</text>
<line x1="329.3" x2="329.3" y1="269.4" y2="271.4" stroke="#888" stroke-width="0.8"/>
<text x="329.3" y="278.5" font-size="8" text-anchor="middle">2E</text>
<line x1="350.8" x2="350.8" y1="269.4" y2="271.4" stroke="#888" stroke-width="0.8"/>
<text x="350.8" y="278.5" font-size="8" text-anchor="middle">4E</text>
<linearGradient id="cbg4" gradientUnits="userSpaceOnUse" x1="213.2" x2="351.5" y1="0" y2="0"><stop offset="0.000" stop-color="#67000d"/><stop offset="0.125" stop-color="#a50f15"/><stop offset="0.250" stop-color="#cb181d"/><stop offset="0.375" stop-color="#ef3b2c"/><stop offset="0.500" stop-color="#fb6a4a"/><stop offset="0.625" stop-color="#fc9272"/><stop offset="0.750" stop-color="#fcbba1"/><stop offset="0.875" stop-color="#fee0d2"/><stop offset="1.000" stop-color="#fff5f0"/></linearGradient>
<path d="M206.2 286.0 L213.2 283.8 L351.5 283.8 L358.5 286.0 L351.5 288.1 L213.2 288.1 Z" fill="url(#cbg4)" stroke="#555" stroke-width="0.45"/>
<line x1="213.2" x2="213.2" y1="288.1" y2="289.4" stroke="#555" stroke-width="0.6"/>
<text x="213.2" y="297.1" font-size="8" text-anchor="middle">−65</text>
<line x1="240.9" x2="240.9" y1="288.1" y2="289.4" stroke="#555" stroke-width="0.6"/>
<text x="240.9" y="297.1" font-size="8" text-anchor="middle">−60</text>
<line x1="268.5" x2="268.5" y1="288.1" y2="289.4" stroke="#555" stroke-width="0.6"/>
<text x="268.5" y="297.1" font-size="8" text-anchor="middle">−55</text>
<line x1="296.2" x2="296.2" y1="288.1" y2="289.4" stroke="#555" stroke-width="0.6"/>
<text x="296.2" y="297.1" font-size="8" text-anchor="middle">−50</text>
<line x1="323.8" x2="323.8" y1="288.1" y2="289.4" stroke="#555" stroke-width="0.6"/>
<text x="323.8" y="297.1" font-size="8" text-anchor="middle">−45</text>
<line x1="351.5" x2="351.5" y1="288.1" y2="289.4" stroke="#555" stroke-width="0.6"/>
<text x="351.5" y="297.1" font-size="8" text-anchor="middle">−40</text>
<text x="282.4" y="307.3" font-size="8.25" text-anchor="middle">rel. Negative Hit bias [%]</text>
<g clip-path="url(#sp5)"><g filter="url(#nf5)"><rect x="390.7" y="161.0" width="5.6" height="6.8" fill="#191919"/><rect x="396.1" y="161.0" width="5.6" height="6.8" fill="#141414"/><rect x="401.4" y="161.0" width="5.6" height="6.8" fill="#191919"/><rect x="406.8" y="161.0" width="5.6" height="6.8" fill="#191919"/><rect x="412.2" y="161.0" width="5.6" height="6.8" fill="#191919"/><rect x="417.6" y="161.0" width="5.6" height="6.8" fill="#2e2e2e"/><rect x="422.9" y="161.0" width="5.6" height="6.8" fill="#2e2e2e"/><rect x="428.3" y="161.0" width="5.6" height="6.8" fill="#2e2e2e"/><rect x="433.7" y="161.0" width="5.6" height="6.8" fill="#2e2e2e"/><rect x="439.1" y="161.0" width="5.6" height="6.8" fill="#424242"/><rect x="444.4" y="161.0" width="5.6" height="6.8" fill="#5c5c5c"/><rect x="449.8" y="161.0" width="5.6" height="6.8" fill="#5c5c5c"/><rect x="455.2" y="161.0" width="5.6" height="6.8" fill="#525252"/><rect x="460.6" y="161.0" width="5.6" height="6.8" fill="#494949"/><rect x="465.9" y="161.0" width="5.6" height="6.8" fill="#494949"/><rect x="471.3" y="161.0" width="5.6" height="6.8" fill="#3f3f3f"/><rect x="476.7" y="161.0" width="5.6" height="6.8" fill="#3b3b3b"/><rect x="482.1" y="161.0" width="5.6" height="6.8" fill="#2e2e2e"/><rect x="487.4" y="161.0" width="5.6" height="6.8" fill="#4d4d4d"/><rect x="492.8" y="161.0" width="5.6" height="6.8" fill="#4e4e4e"/><rect x="498.2" y="161.0" width="5.6" height="6.8" fill="#494949"/><rect x="503.6" y="161.0" width="5.6" height="6.8" fill="#3e3e3e"/><rect x="508.9" y="161.0" width="5.6" height="6.8" fill="#333333"/><rect x="514.3" y="161.0" width="5.6" height="6.8" fill="#2e2e2e"/><rect x="519.7" y="161.0" width="5.6" height="6.8" fill="#2e2e2e"/><rect x="525.0" y="161.0" width="5.6" height="6.8" fill="#2e2e2e"/><rect x="530.4" y="161.0" width="5.6" height="6.8" fill="#2e2e2e"/><rect x="535.8" y="161.0" width="5.6" height="6.8" fill="#2e2e2e"/><rect x="390.7" y="167.6" width="5.6" height="6.8" fill="#191919"/><rect x="396.1" y="167.6" width="5.6" height="6.8" fill="#191919"/><rect x="401.4" y="167.6" width="5.6" height="6.8" fill="#080808"/><rect x="406.8" y="167.6" width="5.6" height="6.8" fill="#080808"/><rect x="412.2" y="167.6" width="5.6" height="6.8" fill="#080808"/><rect x="417.6" y="167.6" width="5.6" height="6.8" fill="#191919"/><rect x="422.9" y="167.6" width="5.6" height="6.8" fill="#191919"/><rect x="428.3" y="167.6" width="5.6" height="6.8" fill="#2e2e2e"/><rect x="433.7" y="167.6" width="5.6" height="6.8" fill="#2e2e2e"/><rect x="439.1" y="167.6" width="5.6" height="6.8" fill="#494949"/><rect x="444.4" y="167.6" width="5.6" height="6.8" fill="#676767"/><rect x="449.8" y="167.6" width="5.6" height="6.8" fill="#676767"/><rect x="455.2" y="167.6" width="5.6" height="6.8" fill="#494949"/><rect x="460.6" y="167.6" width="5.6" height="6.8" fill="#494949"/><rect x="465.9" y="167.6" width="5.6" height="6.8" fill="#494949"/><rect x="471.3" y="167.6" width="5.6" height="6.8" fill="#494949"/><rect x="476.7" y="167.6" width="5.6" height="6.8" fill="#2e2e2e"/><rect x="482.1" y="167.6" width="5.6" height="6.8" fill="#494949"/><rect x="487.4" y="167.6" width="5.6" height="6.8" fill="#5c5c5c"/><rect x="492.8" y="167.6" width="5.6" height="6.8" fill="#5c5c5c"/><rect x="498.2" y="167.6" width="5.6" height="6.8" fill="#494949"/><rect x="503.6" y="167.6" width="5.6" height="6.8" fill="#373737"/><rect x="508.9" y="167.6" width="5.6" height="6.8" fill="#2e2e2e"/><rect x="514.3" y="167.6" width="5.6" height="6.8" fill="#2e2e2e"/><rect x="519.7" y="167.6" width="5.6" height="6.8" fill="#2e2e2e"/><rect x="525.0" y="167.6" width="5.6" height="6.8" fill="#2e2e2e"/><rect x="530.4" y="167.6" width="5.6" height="6.8" fill="#2e2e2e"/><rect x="535.8" y="167.6" width="5.6" height="6.8" fill="#2e2e2e"/><rect x="390.7" y="174.2" width="5.6" height="6.8" fill="#2e2e2e"/><rect x="396.1" y="174.2" width="5.6" height="6.8" fill="#080808"/><rect x="401.4" y="174.2" width="5.6" height="6.8" fill="#080808"/><rect x="406.8" y="174.2" width="5.6" height="6.8" fill="#080808"/><rect x="412.2" y="174.2" width="5.6" height="6.8" fill="#191919"/><rect x="417.6" y="174.2" width="5.6" height="6.8" fill="#2e2e2e"/><rect x="422.9" y="174.2" width="5.6" height="6.8" fill="#191919"/><rect x="428.3" y="174.2" width="5.6" height="6.8" fill="#191919"/><rect x="433.7" y="174.2" width="5.6" height="6.8" fill="#2e2e2e"/><rect x="439.1" y="174.2" width="5.6" height="6.8" fill="#2e2e2e"/><rect x="444.4" y="174.2" width="5.6" height="6.8" fill="#2e2e2e"/><rect x="449.8" y="174.2" width="5.6" height="6.8" fill="#494949"/><rect x="455.2" y="174.2" width="5.6" height="6.8" fill="#494949"/><rect x="460.6" y="174.2" width="5.6" height="6.8" fill="#2e2e2e"/><rect x="465.9" y="174.2" width="5.6" height="6.8" fill="#2e2e2e"/><rect x="471.3" y="174.2" width="5.6" height="6.8" fill="#2e2e2e"/><rect x="476.7" y="174.2" width="5.6" height="6.8" fill="#494949"/><rect x="482.1" y="174.2" width="5.6" height="6.8" fill="#494949"/><rect x="487.4" y="174.2" width="5.6" height="6.8" fill="#676767"/><rect x="492.8" y="174.2" width="5.6" height="6.8" fill="#676767"/><rect x="498.2" y="174.2" width="5.6" height="6.8" fill="#494949"/><rect x="503.6" y="174.2" width="5.6" height="6.8" fill="#2e2e2e"/><rect x="508.9" y="174.2" width="5.6" height="6.8" fill="#2e2e2e"/><rect x="514.3" y="174.2" width="5.6" height="6.8" fill="#2e2e2e"/><rect x="519.7" y="174.2" width="5.6" height="6.8" fill="#2e2e2e"/><rect x="525.0" y="174.2" width="5.6" height="6.8" fill="#2e2e2e"/><rect x="530.4" y="174.2" width="5.6" height="6.8" fill="#2e2e2e"/><rect x="535.8" y="174.2" width="5.6" height="6.8" fill="#2e2e2e"/><rect x="390.7" y="180.8" width="5.6" height="6.8" fill="#191919"/><rect x="396.1" y="180.8" width="5.6" height="6.8" fill="#191919"/><rect x="401.4" y="180.8" width="5.6" height="6.8" fill="#080808"/><rect x="406.8" y="180.8" width="5.6" height="6.8" fill="#080808"/><rect x="412.2" y="180.8" width="5.6" height="6.8" fill="#191919"/><rect x="417.6" y="180.8" width="5.6" height="6.8" fill="#191919"/><rect x="422.9" y="180.8" width="5.6" height="6.8" fill="#191919"/><rect x="428.3" y="180.8" width="5.6" height="6.8" fill="#191919"/><rect x="433.7" y="180.8" width="5.6" height="6.8" fill="#080808"/><rect x="439.1" y="180.8" width="5.6" height="6.8" fill="#191919"/><rect x="444.4" y="180.8" width="5.6" height="6.8" fill="#191919"/><rect x="449.8" y="180.8" width="5.6" height="6.8" fill="#191919"/><rect x="455.2" y="180.8" width="5.6" height="6.8" fill="#2e2e2e"/><rect x="460.6" y="180.8" width="5.6" height="6.8" fill="#2e2e2e"/><rect x="465.9" y="180.8" width="5.6" height="6.8" fill="#2e2e2e"/><rect x="471.3" y="180.8" width="5.6" height="6.8" fill="#2e2e2e"/><rect x="476.7" y="180.8" width="5.6" height="6.8" fill="#494949"/><rect x="482.1" y="180.8" width="5.6" height="6.8" fill="#494949"/><rect x="487.4" y="180.8" width="5.6" height="6.8" fill="#2e2e2e"/><rect x="492.8" y="180.8" width="5.6" height="6.8" fill="#2e2e2e"/><rect x="498.2" y="180.8" width="5.6" height="6.8" fill="#2e2e2e"/><rect x="503.6" y="180.8" width="5.6" height="6.8" fill="#2e2e2e"/><rect x="508.9" y="180.8" width="5.6" height="6.8" fill="#2e2e2e"/><rect x="514.3" y="180.8" width="5.6" height="6.8" fill="#2e2e2e"/><rect x="519.7" y="180.8" width="5.6" height="6.8" fill="#2e2e2e"/><rect x="525.0" y="180.8" width="5.6" height="6.8" fill="#2e2e2e"/><rect x="530.4" y="180.8" width="5.6" height="6.8" fill="#2e2e2e"/><rect x="535.8" y="180.8" width="5.6" height="6.8" fill="#2e2e2e"/><rect x="390.7" y="187.4" width="5.6" height="6.8" fill="#1f1f1f"/><rect x="396.1" y="187.4" width="5.6" height="6.8" fill="#2e2e2e"/><rect x="401.4" y="187.4" width="5.6" height="6.8" fill="#2e2e2e"/><rect x="406.8" y="187.4" width="5.6" height="6.8" fill="#2e2e2e"/><rect x="412.2" y="187.4" width="5.6" height="6.8" fill="#2e2e2e"/><rect x="417.6" y="187.4" width="5.6" height="6.8" fill="#2e2e2e"/><rect x="422.9" y="187.4" width="5.6" height="6.8" fill="#191919"/><rect x="428.3" y="187.4" width="5.6" height="6.8" fill="#191919"/><rect x="433.7" y="187.4" width="5.6" height="6.8" fill="#191919"/><rect x="439.1" y="187.4" width="5.6" height="6.8" fill="#191919"/><rect x="444.4" y="187.4" width="5.6" height="6.8" fill="#191919"/><rect x="449.8" y="187.4" width="5.6" height="6.8" fill="#191919"/><rect x="455.2" y="187.4" width="5.6" height="6.8" fill="#494949"/><rect x="460.6" y="187.4" width="5.6" height="6.8" fill="#494949"/><rect x="465.9" y="187.4" width="5.6" height="6.8" fill="#494949"/><rect x="471.3" y="187.4" width="5.6" height="6.8" fill="#2e2e2e"/><rect x="476.7" y="187.4" width="5.6" height="6.8" fill="#2e2e2e"/><rect x="482.1" y="187.4" width="5.6" height="6.8" fill="#2e2e2e"/><rect x="487.4" y="187.4" width="5.6" height="6.8" fill="#191919"/><rect x="492.8" y="187.4" width="5.6" height="6.8" fill="#191919"/><rect x="498.2" y="187.4" width="5.6" height="6.8" fill="#2e2e2e"/><rect x="503.6" y="187.4" width="5.6" height="6.8" fill="#191919"/><rect x="508.9" y="187.4" width="5.6" height="6.8" fill="#191919"/><rect x="514.3" y="187.4" width="5.6" height="6.8" fill="#2e2e2e"/><rect x="519.7" y="187.4" width="5.6" height="6.8" fill="#2e2e2e"/><rect x="525.0" y="187.4" width="5.6" height="6.8" fill="#2e2e2e"/><rect x="530.4" y="187.4" width="5.6" height="6.8" fill="#2e2e2e"/><rect x="535.8" y="187.4" width="5.6" height="6.8" fill="#2e2e2e"/><rect x="390.7" y="194.1" width="5.6" height="6.8" fill="#2e2e2e"/><rect x="396.1" y="194.1" width="5.6" height="6.8" fill="#2e2e2e"/><rect x="401.4" y="194.1" width="5.6" height="6.8" fill="#2e2e2e"/><rect x="406.8" y="194.1" width="5.6" height="6.8" fill="#2e2e2e"/><rect x="412.2" y="194.1" width="5.6" height="6.8" fill="#252525"/><rect x="417.6" y="194.1" width="5.6" height="6.8" fill="#191919"/><rect x="422.9" y="194.1" width="5.6" height="6.8" fill="#191919"/><rect x="428.3" y="194.1" width="5.6" height="6.8" fill="#191919"/><rect x="433.7" y="194.1" width="5.6" height="6.8" fill="#191919"/><rect x="439.1" y="194.1" width="5.6" height="6.8" fill="#191919"/><rect x="444.4" y="194.1" width="5.6" height="6.8" fill="#191919"/><rect x="449.8" y="194.1" width="5.6" height="6.8" fill="#2e2e2e"/><rect x="455.2" y="194.1" width="5.6" height="6.8" fill="#494949"/><rect x="460.6" y="194.1" width="5.6" height="6.8" fill="#494949"/><rect x="465.9" y="194.1" width="5.6" height="6.8" fill="#494949"/><rect x="471.3" y="194.1" width="5.6" height="6.8" fill="#2e2e2e"/><rect x="476.7" y="194.1" width="5.6" height="6.8" fill="#2e2e2e"/><rect x="482.1" y="194.1" width="5.6" height="6.8" fill="#2e2e2e"/><rect x="487.4" y="194.1" width="5.6" height="6.8" fill="#191919"/><rect x="492.8" y="194.1" width="5.6" height="6.8" fill="#191919"/><rect x="498.2" y="194.1" width="5.6" height="6.8" fill="#2e2e2e"/><rect x="503.6" y="194.1" width="5.6" height="6.8" fill="#191919"/><rect x="508.9" y="194.1" width="5.6" height="6.8" fill="#191919"/><rect x="514.3" y="194.1" width="5.6" height="6.8" fill="#232323"/><rect x="519.7" y="194.1" width="5.6" height="6.8" fill="#2e2e2e"/><rect x="525.0" y="194.1" width="5.6" height="6.8" fill="#2e2e2e"/><rect x="530.4" y="194.1" width="5.6" height="6.8" fill="#2e2e2e"/><rect x="535.8" y="194.1" width="5.6" height="6.8" fill="#2e2e2e"/><rect x="390.7" y="200.7" width="5.6" height="6.8" fill="#2e2e2e"/><rect x="396.1" y="200.7" width="5.6" height="6.8" fill="#2e2e2e"/><rect x="401.4" y="200.7" width="5.6" height="6.8" fill="#2a2a2a"/><rect x="406.8" y="200.7" width="5.6" height="6.8" fill="#252525"/><rect x="412.2" y="200.7" width="5.6" height="6.8" fill="#1f1f1f"/><rect x="417.6" y="200.7" width="5.6" height="6.8" fill="#191919"/><rect x="422.9" y="200.7" width="5.6" height="6.8" fill="#191919"/><rect x="428.3" y="200.7" width="5.6" height="6.8" fill="#191919"/><rect x="433.7" y="200.7" width="5.6" height="6.8" fill="#191919"/><rect x="439.1" y="200.7" width="5.6" height="6.8" fill="#191919"/><rect x="444.4" y="200.7" width="5.6" height="6.8" fill="#2e2e2e"/><rect x="449.8" y="200.7" width="5.6" height="6.8" fill="#2e2e2e"/><rect x="455.2" y="200.7" width="5.6" height="6.8" fill="#494949"/><rect x="460.6" y="200.7" width="5.6" height="6.8" fill="#676767"/><rect x="465.9" y="200.7" width="5.6" height="6.8" fill="#676767"/><rect x="471.3" y="200.7" width="5.6" height="6.8" fill="#494949"/><rect x="476.7" y="200.7" width="5.6" height="6.8" fill="#494949"/><rect x="482.1" y="200.7" width="5.6" height="6.8" fill="#2e2e2e"/><rect x="487.4" y="200.7" width="5.6" height="6.8" fill="#2e2e2e"/><rect x="492.8" y="200.7" width="5.6" height="6.8" fill="#2e2e2e"/><rect x="498.2" y="200.7" width="5.6" height="6.8" fill="#2e2e2e"/><rect x="503.6" y="200.7" width="5.6" height="6.8" fill="#232323"/><rect x="508.9" y="200.7" width="5.6" height="6.8" fill="#191919"/><rect x="514.3" y="200.7" width="5.6" height="6.8" fill="#191919"/><rect x="519.7" y="200.7" width="5.6" height="6.8" fill="#3b3b3b"/><rect x="525.0" y="200.7" width="5.6" height="6.8" fill="#2e2e2e"/><rect x="530.4" y="200.7" width="5.6" height="6.8" fill="#2e2e2e"/><rect x="535.8" y="200.7" width="5.6" height="6.8" fill="#2e2e2e"/><rect x="390.7" y="207.3" width="5.6" height="6.8" fill="#2e2e2e"/><rect x="396.1" y="207.3" width="5.6" height="6.8" fill="#252525"/><rect x="401.4" y="207.3" width="5.6" height="6.8" fill="#191919"/><rect x="406.8" y="207.3" width="5.6" height="6.8" fill="#191919"/><rect x="412.2" y="207.3" width="5.6" height="6.8" fill="#1e1e1e"/><rect x="417.6" y="207.3" width="5.6" height="6.8" fill="#2e2e2e"/><rect x="422.9" y="207.3" width="5.6" height="6.8" fill="#2e2e2e"/><rect x="428.3" y="207.3" width="5.6" height="6.8" fill="#676767"/><rect x="433.7" y="207.3" width="5.6" height="6.8" fill="#888888"/><rect x="439.1" y="207.3" width="5.6" height="6.8" fill="#888888"/><rect x="444.4" y="207.3" width="5.6" height="6.8" fill="#494949"/><rect x="449.8" y="207.3" width="5.6" height="6.8" fill="#191919"/><rect x="455.2" y="207.3" width="5.6" height="6.8" fill="#191919"/><rect x="460.6" y="207.3" width="5.6" height="6.8" fill="#2e2e2e"/><rect x="465.9" y="207.3" width="5.6" height="6.8" fill="#494949"/><rect x="471.3" y="207.3" width="5.6" height="6.8" fill="#2e2e2e"/><rect x="476.7" y="207.3" width="5.6" height="6.8" fill="#2e2e2e"/><rect x="482.1" y="207.3" width="5.6" height="6.8" fill="#2e2e2e"/><rect x="487.4" y="207.3" width="5.6" height="6.8" fill="#2e2e2e"/><rect x="492.8" y="207.3" width="5.6" height="6.8" fill="#191919"/><rect x="498.2" y="207.3" width="5.6" height="6.8" fill="#272727"/><rect x="503.6" y="207.3" width="5.6" height="6.8" fill="#2e2e2e"/><rect x="508.9" y="207.3" width="5.6" height="6.8" fill="#3b3b3b"/><rect x="514.3" y="207.3" width="5.6" height="6.8" fill="#888888"/><rect x="519.7" y="207.3" width="5.6" height="6.8" fill="#777777"/><rect x="525.0" y="207.3" width="5.6" height="6.8" fill="#575757"/><rect x="530.4" y="207.3" width="5.6" height="6.8" fill="#2e2e2e"/><rect x="535.8" y="207.3" width="5.6" height="6.8" fill="#2e2e2e"/><rect x="390.7" y="213.9" width="5.6" height="6.8" fill="#2e2e2e"/><rect x="396.1" y="213.9" width="5.6" height="6.8" fill="#191919"/><rect x="401.4" y="213.9" width="5.6" height="6.8" fill="#191919"/><rect x="406.8" y="213.9" width="5.6" height="6.8" fill="#191919"/><rect x="412.2" y="213.9" width="5.6" height="6.8" fill="#191919"/><rect x="417.6" y="213.9" width="5.6" height="6.8" fill="#191919"/><rect x="422.9" y="213.9" width="5.6" height="6.8" fill="#2e2e2e"/><rect x="428.3" y="213.9" width="5.6" height="6.8" fill="#2e2e2e"/><rect x="433.7" y="213.9" width="5.6" height="6.8" fill="#494949"/><rect x="439.1" y="213.9" width="5.6" height="6.8" fill="#494949"/><rect x="444.4" y="213.9" width="5.6" height="6.8" fill="#2e2e2e"/><rect x="449.8" y="213.9" width="5.6" height="6.8" fill="#2e2e2e"/><rect x="455.2" y="213.9" width="5.6" height="6.8" fill="#2e2e2e"/><rect x="460.6" y="213.9" width="5.6" height="6.8" fill="#2e2e2e"/><rect x="465.9" y="213.9" width="5.6" height="6.8" fill="#2e2e2e"/><rect x="471.3" y="213.9" width="5.6" height="6.8" fill="#2e2e2e"/><rect x="476.7" y="213.9" width="5.6" height="6.8" fill="#2e2e2e"/><rect x="482.1" y="213.9" width="5.6" height="6.8" fill="#494949"/><rect x="487.4" y="213.9" width="5.6" height="6.8" fill="#191919"/><rect x="492.8" y="213.9" width="5.6" height="6.8" fill="#292929"/><rect x="498.2" y="213.9" width="5.6" height="6.8" fill="#2e2e2e"/><rect x="503.6" y="213.9" width="5.6" height="6.8" fill="#494949"/><rect x="508.9" y="213.9" width="5.6" height="6.8" fill="#494949"/><rect x="514.3" y="213.9" width="5.6" height="6.8" fill="#5c5c5c"/><rect x="519.7" y="213.9" width="5.6" height="6.8" fill="#888888"/><rect x="525.0" y="213.9" width="5.6" height="6.8" fill="#676767"/><rect x="530.4" y="213.9" width="5.6" height="6.8" fill="#494949"/><rect x="535.8" y="213.9" width="5.6" height="6.8" fill="#373737"/><rect x="390.7" y="220.5" width="5.6" height="6.8" fill="#2e2e2e"/><rect x="396.1" y="220.5" width="5.6" height="6.8" fill="#252525"/><rect x="401.4" y="220.5" width="5.6" height="6.8" fill="#191919"/><rect x="406.8" y="220.5" width="5.6" height="6.8" fill="#191919"/><rect x="412.2" y="220.5" width="5.6" height="6.8" fill="#191919"/><rect x="417.6" y="220.5" width="5.6" height="6.8" fill="#191919"/><rect x="422.9" y="220.5" width="5.6" height="6.8" fill="#191919"/><rect x="428.3" y="220.5" width="5.6" height="6.8" fill="#2e2e2e"/><rect x="433.7" y="220.5" width="5.6" height="6.8" fill="#191919"/><rect x="439.1" y="220.5" width="5.6" height="6.8" fill="#191919"/><rect x="444.4" y="220.5" width="5.6" height="6.8" fill="#2e2e2e"/><rect x="449.8" y="220.5" width="5.6" height="6.8" fill="#191919"/><rect x="455.2" y="220.5" width="5.6" height="6.8" fill="#191919"/><rect x="460.6" y="220.5" width="5.6" height="6.8" fill="#2e2e2e"/><rect x="465.9" y="220.5" width="5.6" height="6.8" fill="#2e2e2e"/><rect x="471.3" y="220.5" width="5.6" height="6.8" fill="#191919"/><rect x="476.7" y="220.5" width="5.6" height="6.8" fill="#2e2e2e"/><rect x="482.1" y="220.5" width="5.6" height="6.8" fill="#494949"/><rect x="487.4" y="220.5" width="5.6" height="6.8" fill="#494949"/><rect x="492.8" y="220.5" width="5.6" height="6.8" fill="#424242"/><rect x="498.2" y="220.5" width="5.6" height="6.8" fill="#494949"/><rect x="503.6" y="220.5" width="5.6" height="6.8" fill="#494949"/><rect x="508.9" y="220.5" width="5.6" height="6.8" fill="#494949"/><rect x="514.3" y="220.5" width="5.6" height="6.8" fill="#575757"/><rect x="519.7" y="220.5" width="5.6" height="6.8" fill="#494949"/><rect x="525.0" y="220.5" width="5.6" height="6.8" fill="#494949"/><rect x="530.4" y="220.5" width="5.6" height="6.8" fill="#525252"/><rect x="535.8" y="220.5" width="5.6" height="6.8" fill="#494949"/><rect x="390.7" y="227.1" width="5.6" height="6.8" fill="#2e2e2e"/><rect x="396.1" y="227.1" width="5.6" height="6.8" fill="#2e2e2e"/><rect x="401.4" y="227.1" width="5.6" height="6.8" fill="#252525"/><rect x="406.8" y="227.1" width="5.6" height="6.8" fill="#191919"/><rect x="412.2" y="227.1" width="5.6" height="6.8" fill="#191919"/><rect x="417.6" y="227.1" width="5.6" height="6.8" fill="#191919"/><rect x="422.9" y="227.1" width="5.6" height="6.8" fill="#191919"/><rect x="428.3" y="227.1" width="5.6" height="6.8" fill="#191919"/><rect x="433.7" y="227.1" width="5.6" height="6.8" fill="#191919"/><rect x="439.1" y="227.1" width="5.6" height="6.8" fill="#191919"/><rect x="444.4" y="227.1" width="5.6" height="6.8" fill="#191919"/><rect x="449.8" y="227.1" width="5.6" height="6.8" fill="#2e2e2e"/><rect x="455.2" y="227.1" width="5.6" height="6.8" fill="#2e2e2e"/><rect x="460.6" y="227.1" width="5.6" height="6.8" fill="#494949"/><rect x="465.9" y="227.1" width="5.6" height="6.8" fill="#2e2e2e"/><rect x="471.3" y="227.1" width="5.6" height="6.8" fill="#2e2e2e"/><rect x="476.7" y="227.1" width="5.6" height="6.8" fill="#2e2e2e"/><rect x="482.1" y="227.1" width="5.6" height="6.8" fill="#494949"/><rect x="487.4" y="227.1" width="5.6" height="6.8" fill="#676767"/><rect x="492.8" y="227.1" width="5.6" height="6.8" fill="#494949"/><rect x="498.2" y="227.1" width="5.6" height="6.8" fill="#494949"/><rect x="503.6" y="227.1" width="5.6" height="6.8" fill="#494949"/><rect x="508.9" y="227.1" width="5.6" height="6.8" fill="#494949"/><rect x="514.3" y="227.1" width="5.6" height="6.8" fill="#494949"/><rect x="519.7" y="227.1" width="5.6" height="6.8" fill="#494949"/><rect x="525.0" y="227.1" width="5.6" height="6.8" fill="#494949"/><rect x="530.4" y="227.1" width="5.6" height="6.8" fill="#494949"/><rect x="535.8" y="227.1" width="5.6" height="6.8" fill="#525252"/><rect x="390.7" y="233.7" width="5.6" height="6.8" fill="#2e2e2e"/><rect x="396.1" y="233.7" width="5.6" height="6.8" fill="#2e2e2e"/><rect x="401.4" y="233.7" width="5.6" height="6.8" fill="#333333"/><rect x="406.8" y="233.7" width="5.6" height="6.8" fill="#2e2e2e"/><rect x="412.2" y="233.7" width="5.6" height="6.8" fill="#191919"/><rect x="417.6" y="233.7" width="5.6" height="6.8" fill="#2e2e2e"/><rect x="422.9" y="233.7" width="5.6" height="6.8" fill="#2e2e2e"/><rect x="428.3" y="233.7" width="5.6" height="6.8" fill="#2e2e2e"/><rect x="433.7" y="233.7" width="5.6" height="6.8" fill="#191919"/><rect x="439.1" y="233.7" width="5.6" height="6.8" fill="#191919"/><rect x="444.4" y="233.7" width="5.6" height="6.8" fill="#2e2e2e"/><rect x="449.8" y="233.7" width="5.6" height="6.8" fill="#2e2e2e"/><rect x="455.2" y="233.7" width="5.6" height="6.8" fill="#2e2e2e"/><rect x="460.6" y="233.7" width="5.6" height="6.8" fill="#676767"/><rect x="465.9" y="233.7" width="5.6" height="6.8" fill="#494949"/><rect x="471.3" y="233.7" width="5.6" height="6.8" fill="#2e2e2e"/><rect x="476.7" y="233.7" width="5.6" height="6.8" fill="#2e2e2e"/><rect x="482.1" y="233.7" width="5.6" height="6.8" fill="#2e2e2e"/><rect x="487.4" y="233.7" width="5.6" height="6.8" fill="#2e2e2e"/><rect x="492.8" y="233.7" width="5.6" height="6.8" fill="#494949"/><rect x="498.2" y="233.7" width="5.6" height="6.8" fill="#494949"/><rect x="503.6" y="233.7" width="5.6" height="6.8" fill="#494949"/><rect x="508.9" y="233.7" width="5.6" height="6.8" fill="#494949"/><rect x="514.3" y="233.7" width="5.6" height="6.8" fill="#494949"/><rect x="519.7" y="233.7" width="5.6" height="6.8" fill="#494949"/><rect x="525.0" y="233.7" width="5.6" height="6.8" fill="#494949"/><rect x="530.4" y="233.7" width="5.6" height="6.8" fill="#494949"/><rect x="535.8" y="233.7" width="5.6" height="6.8" fill="#494949"/><rect x="390.7" y="240.3" width="5.6" height="6.8" fill="#2e2e2e"/><rect x="396.1" y="240.3" width="5.6" height="6.8" fill="#333333"/><rect x="401.4" y="240.3" width="5.6" height="6.8" fill="#3b3b3b"/><rect x="406.8" y="240.3" width="5.6" height="6.8" fill="#494949"/><rect x="412.2" y="240.3" width="5.6" height="6.8" fill="#676767"/><rect x="417.6" y="240.3" width="5.6" height="6.8" fill="#888888"/><rect x="422.9" y="240.3" width="5.6" height="6.8" fill="#676767"/><rect x="428.3" y="240.3" width="5.6" height="6.8" fill="#494949"/><rect x="433.7" y="240.3" width="5.6" height="6.8" fill="#494949"/><rect x="439.1" y="240.3" width="5.6" height="6.8" fill="#494949"/><rect x="444.4" y="240.3" width="5.6" height="6.8" fill="#494949"/><rect x="449.8" y="240.3" width="5.6" height="6.8" fill="#494949"/><rect x="455.2" y="240.3" width="5.6" height="6.8" fill="#494949"/><rect x="460.6" y="240.3" width="5.6" height="6.8" fill="#888888"/><rect x="465.9" y="240.3" width="5.6" height="6.8" fill="#676767"/><rect x="471.3" y="240.3" width="5.6" height="6.8" fill="#494949"/><rect x="476.7" y="240.3" width="5.6" height="6.8" fill="#2e2e2e"/><rect x="482.1" y="240.3" width="5.6" height="6.8" fill="#2e2e2e"/><rect x="487.4" y="240.3" width="5.6" height="6.8" fill="#2e2e2e"/><rect x="492.8" y="240.3" width="5.6" height="6.8" fill="#2e2e2e"/><rect x="498.2" y="240.3" width="5.6" height="6.8" fill="#494949"/><rect x="503.6" y="240.3" width="5.6" height="6.8" fill="#494949"/><rect x="508.9" y="240.3" width="5.6" height="6.8" fill="#494949"/><rect x="514.3" y="240.3" width="5.6" height="6.8" fill="#494949"/><rect x="519.7" y="240.3" width="5.6" height="6.8" fill="#494949"/><rect x="525.0" y="240.3" width="5.6" height="6.8" fill="#494949"/><rect x="530.4" y="240.3" width="5.6" height="6.8" fill="#494949"/><rect x="535.8" y="240.3" width="5.6" height="6.8" fill="#494949"/><rect x="390.7" y="246.9" width="5.6" height="6.8" fill="#2e2e2e"/><rect x="396.1" y="246.9" width="5.6" height="6.8" fill="#3b3b3b"/><rect x="401.4" y="246.9" width="5.6" height="6.8" fill="#494949"/><rect x="406.8" y="246.9" width="5.6" height="6.8" fill="#676767"/><rect x="412.2" y="246.9" width="5.6" height="6.8" fill="#676767"/><rect x="417.6" y="246.9" width="5.6" height="6.8" fill="#676767"/><rect x="422.9" y="246.9" width="5.6" height="6.8" fill="#494949"/><rect x="428.3" y="246.9" width="5.6" height="6.8" fill="#494949"/><rect x="433.7" y="246.9" width="5.6" height="6.8" fill="#494949"/><rect x="439.1" y="246.9" width="5.6" height="6.8" fill="#494949"/><rect x="444.4" y="246.9" width="5.6" height="6.8" fill="#494949"/><rect x="449.8" y="246.9" width="5.6" height="6.8" fill="#494949"/><rect x="455.2" y="246.9" width="5.6" height="6.8" fill="#494949"/><rect x="460.6" y="246.9" width="5.6" height="6.8" fill="#676767"/><rect x="465.9" y="246.9" width="5.6" height="6.8" fill="#494949"/><rect x="471.3" y="246.9" width="5.6" height="6.8" fill="#2e2e2e"/><rect x="476.7" y="246.9" width="5.6" height="6.8" fill="#353535"/><rect x="482.1" y="246.9" width="5.6" height="6.8" fill="#2e2e2e"/><rect x="487.4" y="246.9" width="5.6" height="6.8" fill="#2e2e2e"/><rect x="492.8" y="246.9" width="5.6" height="6.8" fill="#2e2e2e"/><rect x="498.2" y="246.9" width="5.6" height="6.8" fill="#2e2e2e"/><rect x="503.6" y="246.9" width="5.6" height="6.8" fill="#494949"/><rect x="508.9" y="246.9" width="5.6" height="6.8" fill="#494949"/><rect x="514.3" y="246.9" width="5.6" height="6.8" fill="#494949"/><rect x="519.7" y="246.9" width="5.6" height="6.8" fill="#494949"/><rect x="525.0" y="246.9" width="5.6" height="6.8" fill="#494949"/><rect x="530.4" y="246.9" width="5.6" height="6.8" fill="#2e2e2e"/><rect x="535.8" y="246.9" width="5.6" height="6.8" fill="#2e2e2e"/><rect x="390.7" y="253.5" width="5.6" height="6.8" fill="#2e2e2e"/><rect x="396.1" y="253.5" width="5.6" height="6.8" fill="#494949"/><rect x="401.4" y="253.5" width="5.6" height="6.8" fill="#676767"/><rect x="406.8" y="253.5" width="5.6" height="6.8" fill="#676767"/><rect x="412.2" y="253.5" width="5.6" height="6.8" fill="#676767"/><rect x="417.6" y="253.5" width="5.6" height="6.8" fill="#575757"/><rect x="422.9" y="253.5" width="5.6" height="6.8" fill="#494949"/><rect x="428.3" y="253.5" width="5.6" height="6.8" fill="#494949"/><rect x="433.7" y="253.5" width="5.6" height="6.8" fill="#888888"/><rect x="439.1" y="253.5" width="5.6" height="6.8" fill="#494949"/><rect x="444.4" y="253.5" width="5.6" height="6.8" fill="#494949"/><rect x="449.8" y="253.5" width="5.6" height="6.8" fill="#494949"/><rect x="455.2" y="253.5" width="5.6" height="6.8" fill="#494949"/><rect x="460.6" y="253.5" width="5.6" height="6.8" fill="#494949"/><rect x="465.9" y="253.5" width="5.6" height="6.8" fill="#2e2e2e"/><rect x="471.3" y="253.5" width="5.6" height="6.8" fill="#373737"/><rect x="476.7" y="253.5" width="5.6" height="6.8" fill="#2e2e2e"/><rect x="482.1" y="253.5" width="5.6" height="6.8" fill="#353535"/><rect x="487.4" y="253.5" width="5.6" height="6.8" fill="#2e2e2e"/><rect x="492.8" y="253.5" width="5.6" height="6.8" fill="#2e2e2e"/><rect x="498.2" y="253.5" width="5.6" height="6.8" fill="#2e2e2e"/><rect x="503.6" y="253.5" width="5.6" height="6.8" fill="#2e2e2e"/><rect x="508.9" y="253.5" width="5.6" height="6.8" fill="#2e2e2e"/><rect x="514.3" y="253.5" width="5.6" height="6.8" fill="#2e2e2e"/><rect x="519.7" y="253.5" width="5.6" height="6.8" fill="#2e2e2e"/><rect x="525.0" y="253.5" width="5.6" height="6.8" fill="#2e2e2e"/><rect x="530.4" y="253.5" width="5.6" height="6.8" fill="#2e2e2e"/><rect x="535.8" y="253.5" width="5.6" height="6.8" fill="#2e2e2e"/><rect x="390.7" y="260.1" width="5.6" height="6.8" fill="#2e2e2e"/><rect x="396.1" y="260.1" width="5.6" height="6.8" fill="#676767"/><rect x="401.4" y="260.1" width="5.6" height="6.8" fill="#676767"/><rect x="406.8" y="260.1" width="5.6" height="6.8" fill="#676767"/><rect x="412.2" y="260.1" width="5.6" height="6.8" fill="#575757"/><rect x="417.6" y="260.1" width="5.6" height="6.8" fill="#494949"/><rect x="422.9" y="260.1" width="5.6" height="6.8" fill="#525252"/><rect x="428.3" y="260.1" width="5.6" height="6.8" fill="#676767"/><rect x="433.7" y="260.1" width="5.6" height="6.8" fill="#888888"/><rect x="439.1" y="260.1" width="5.6" height="6.8" fill="#494949"/><rect x="444.4" y="260.1" width="5.6" height="6.8" fill="#494949"/><rect x="449.8" y="260.1" width="5.6" height="6.8" fill="#494949"/><rect x="455.2" y="260.1" width="5.6" height="6.8" fill="#494949"/><rect x="460.6" y="260.1" width="5.6" height="6.8" fill="#3f3f3f"/><rect x="465.9" y="260.1" width="5.6" height="6.8" fill="#3b3b3b"/><rect x="471.3" y="260.1" width="5.6" height="6.8" fill="#2e2e2e"/><rect x="476.7" y="260.1" width="5.6" height="6.8" fill="#373737"/><rect x="482.1" y="260.1" width="5.6" height="6.8" fill="#2e2e2e"/><rect x="487.4" y="260.1" width="5.6" height="6.8" fill="#353535"/><rect x="492.8" y="260.1" width="5.6" height="6.8" fill="#2e2e2e"/><rect x="498.2" y="260.1" width="5.6" height="6.8" fill="#2e2e2e"/><rect x="503.6" y="260.1" width="5.6" height="6.8" fill="#2e2e2e"/><rect x="508.9" y="260.1" width="5.6" height="6.8" fill="#2e2e2e"/><rect x="514.3" y="260.1" width="5.6" height="6.8" fill="#2e2e2e"/><rect x="519.7" y="260.1" width="5.6" height="6.8" fill="#2e2e2e"/><rect x="525.0" y="260.1" width="5.6" height="6.8" fill="#2e2e2e"/><rect x="530.4" y="260.1" width="5.6" height="6.8" fill="#2e2e2e"/><rect x="535.8" y="260.1" width="5.6" height="6.8" fill="#2e2e2e"/><polyline points="428.3,207.9 435.8,209.9 444.4,209.3" fill="none" stroke="#c0c0c0" stroke-width="2.3" stroke-linecap="round" stroke-linejoin="round"/><polyline points="467.0,229.7 464.9,237.7 462.7,245.6" fill="none" stroke="#e9e9e9" stroke-width="2.3" stroke-linecap="round" stroke-linejoin="round"/><polyline points="487.4,225.8 490.7,229.7" fill="none" stroke="#c0c0c0" stroke-width="2.4" stroke-linecap="round" stroke-linejoin="round"/><polyline points="441.2,173.6 455.2,174.2" fill="none" stroke="#9a9a9a" stroke-width="2.4" stroke-linecap="round" stroke-linejoin="round"/><polyline points="489.6,176.9 499.2,179.5" fill="none" stroke="#c0c0c0" stroke-width="2.4" stroke-linecap="round" stroke-linejoin="round"/></g></g>
<path d="M417.0 166.9 L419.2 171.6 L418.1 175.5 L419.7 180.8 L417.6 183.5 L420.2 186.8 L421.9 188.1 M419.2 172.2 L426.1 174.9 L433.7 173.6 L439.1 172.9 L443.9 171.6 L444.4 168.9 M443.9 171.6 L446.6 174.2 L449.8 176.2 L451.9 176.9 L454.1 174.2 L457.3 172.9 L458.9 169.6 M457.3 172.9 L459.5 175.5 L461.6 178.2 L465.9 179.5 L471.3 178.2 L474.0 170.3 M459.5 175.5 L459.5 179.5 L462.7 186.1 L469.2 187.4 L473.4 188.1 L474.5 184.8 L471.3 181.5 L465.9 179.5 M484.7 174.9 L481.0 180.8 L477.8 186.1 L473.4 188.1 M473.4 188.1 L471.3 194.1 L472.4 198.0 M500.3 176.2 L499.2 183.5 L497.1 190.1 L496.6 194.1 L494.9 200.7 L495.5 204.6 L498.2 207.3 M495.5 204.6 L490.7 204.6 L486.4 208.6 L484.2 213.9 L481.0 213.9 M481.0 213.9 L474.5 205.9 L472.4 198.0 M443.4 209.9 L447.7 205.9 L450.9 202.0 L456.2 198.7 L459.5 200.7 M443.4 209.9 L445.5 211.2 L451.9 213.9 L459.5 213.9 L459.5 207.3 L459.5 200.7 M459.5 200.7 L464.9 198.0 L472.4 198.0 M418.6 210.6 L426.1 208.6 L432.6 211.2 L439.1 212.6 L443.4 209.9 M439.1 212.6 L435.8 220.5 L439.1 224.5 L436.9 229.7 L438.0 231.1 M416.5 240.3 L421.9 240.3 L428.3 240.3 L432.6 237.7 L435.8 233.0 L438.0 231.1 M438.0 231.1 L442.3 232.4 L447.7 235.0 L455.2 234.4 L462.7 235.0 L467.0 237.7 M467.0 237.7 L469.2 241.6 L471.3 245.6 L474.5 248.3 M467.0 237.7 L473.4 232.4 L476.7 233.7 L481.0 233.0 M481.0 233.0 L482.1 236.4 L483.1 240.3 L484.7 242.3 M481.0 233.0 L482.1 228.4 L478.8 223.1 L476.7 219.2 L478.8 215.2 L481.0 213.9" fill="none" stroke="#5a5a5a" stroke-width="0.45" stroke-opacity="0.9"/>
<path d="M397.4 189.2 L397.3 186.8 L398.0 185.9 L399.1 184.5 L397.3 184.1 L399.3 182.4 L397.1 181.5 L398.0 180.2 L396.6 179.8 L395.5 179.8 L395.7 178.2 L394.8 177.1 L393.1 175.5 L393.7 174.2 L392.8 173.2 L394.1 172.0 L396.6 170.7 L399.3 170.0 L402.0 169.2 L403.6 168.9 L404.1 167.6 L405.7 165.6 L408.1 164.2 L410.2 163.8 L411.6 164.7 L414.3 166.0 L417.0 166.8 L420.8 166.7 L425.1 166.7 L428.3 166.6 L429.9 165.6 L431.5 166.8 L434.8 166.9 L438.0 167.9 L441.7 168.7 L444.4 168.9 L447.7 168.9 L450.9 168.0 L452.5 168.0 L455.7 168.3 L458.4 169.2 L460.6 169.2 L462.7 168.5 L465.9 169.2 L469.2 170.3 L471.8 170.0 L473.7 169.2 L475.6 170.5 L477.8 170.7 L478.0 173.6 L479.9 173.2 L482.6 174.2 L484.7 174.9 L486.9 176.9 L489.6 176.3 L492.8 178.3 L496.0 178.5 L499.8 176.2 L500.9 176.6 L501.9 177.9 L504.6 177.9 L508.4 179.5 L511.3 180.8 L513.8 181.5 L515.4 182.2 L519.7 182.8 L522.4 181.9 L525.6 181.5 L526.9 181.8 L528.5 183.2 L526.7 184.1 L527.0 185.9 L527.2 188.1 L525.6 190.1 L522.9 191.9 L519.7 193.4 L516.5 195.4 L513.2 197.4 L509.5 198.3 L505.7 199.3 L503.0 200.4 L501.9 202.6 L502.3 204.6 L500.3 205.3 L498.7 206.6 L497.1 209.3 L494.4 212.6 L492.3 214.5 L490.7 217.2 L489.4 220.5 L489.6 222.5 L490.4 225.1 L491.2 227.4 L493.3 228.7 L494.9 230.0 L493.9 231.3 L492.3 232.4 L490.1 233.7 L488.0 235.3 L486.9 237.4 L485.8 239.7 L485.1 242.3 L485.3 244.9 L483.1 245.9 L479.9 246.3 L477.2 247.6 L475.1 248.9 L473.4 250.9 L472.2 253.5 L470.8 256.2 L469.2 257.2 L467.0 255.9 L464.3 257.2 L460.6 257.0 L456.2 257.5 L451.9 257.0 L447.7 257.2 L445.0 257.8 L442.3 260.1 L439.1 260.8 L436.4 262.8 L435.3 264.8 L434.2 266.1 L432.6 266.8 L430.4 265.7 L428.3 264.1 L426.1 261.5 L425.1 259.5 L423.8 256.8 L422.9 254.2 L419.7 252.2 L417.6 250.9 L414.9 250.9 L413.0 251.2 L412.2 248.3 L412.7 244.9 L414.9 241.0 L417.6 239.7 L418.1 237.7 L416.5 237.7 L414.3 234.4 L414.9 231.7 L417.0 228.7 L417.6 227.8 L415.4 224.5 L414.3 221.2 L411.9 218.2 L417.6 218.2 L418.1 213.9 L419.7 210.6 L419.2 207.3 L419.7 202.6 L418.6 200.0 L420.8 198.0 L424.0 195.4 L426.1 193.0 L422.4 191.7 L421.9 188.1 L419.2 188.1 L415.4 189.0 L412.7 189.4 L410.0 189.0 L407.3 189.4 L405.7 188.8 L404.7 185.9 L402.0 186.4 L399.8 187.2 L397.4 189.2Z M518.1 219.6 L519.7 221.0 L522.0 220.2 L524.5 222.3 L525.6 223.5 L527.7 222.5 L529.9 217.8 L528.8 216.8 L527.2 215.2 L526.1 214.5 L524.5 215.2 L522.4 216.1 L520.2 217.8 L518.4 218.9Z M533.6 213.9 L534.2 214.8 L536.9 215.6 L539.0 216.3 L539.2 215.5 L538.0 213.9 L535.8 213.1 L534.2 213.1Z M505.7 228.7 L507.3 229.1 L508.4 228.2 L510.0 227.1 L509.5 225.8 L507.3 226.0 L505.7 227.4Z M507.6 231.1 L508.4 231.5 L509.8 231.6 L508.9 230.7 L508.1 230.5Z" fill="none" stroke="#555" stroke-width="0.45"/>
<rect x="390.9" y="161.0" width="152.9" height="108.4" fill="none" stroke="#8a8a8a" stroke-width="1"/>
<line x1="388.9" x2="390.9" y1="161.0" y2="161.0" stroke="#888" stroke-width="0.8"/>
<text x="387.9" y="164.5" font-size="8" text-anchor="end">44N</text>
<line x1="388.9" x2="390.9" y1="187.4" y2="187.4" stroke="#888" stroke-width="0.8"/>
<text x="387.9" y="190.9" font-size="8" text-anchor="end">42N</text>
<line x1="388.9" x2="390.9" y1="213.9" y2="213.9" stroke="#888" stroke-width="0.8"/>
<text x="387.9" y="217.4" font-size="8" text-anchor="end">40N</text>
<line x1="388.9" x2="390.9" y1="240.3" y2="240.3" stroke="#888" stroke-width="0.8"/>
<text x="387.9" y="243.8" font-size="8" text-anchor="end">38N</text>
<line x1="388.9" x2="390.9" y1="266.8" y2="266.8" stroke="#888" stroke-width="0.8"/>
<text x="387.9" y="270.3" font-size="8" text-anchor="end">36N</text>
<line x1="406.8" x2="406.8" y1="269.4" y2="271.4" stroke="#888" stroke-width="0.8"/>
<text x="406.8" y="278.5" font-size="8" text-anchor="middle">8W</text>
<line x1="428.3" x2="428.3" y1="269.4" y2="271.4" stroke="#888" stroke-width="0.8"/>
<text x="428.3" y="278.5" font-size="8" text-anchor="middle">6W</text>
<line x1="449.8" x2="449.8" y1="269.4" y2="271.4" stroke="#888" stroke-width="0.8"/>
<text x="449.8" y="278.5" font-size="8" text-anchor="middle">4W</text>
<line x1="471.3" x2="471.3" y1="269.4" y2="271.4" stroke="#888" stroke-width="0.8"/>
<text x="471.3" y="278.5" font-size="8" text-anchor="middle">2W</text>
<line x1="492.8" x2="492.8" y1="269.4" y2="271.4" stroke="#888" stroke-width="0.8"/>
<text x="492.8" y="278.5" font-size="8" text-anchor="middle">0</text>
<line x1="514.3" x2="514.3" y1="269.4" y2="271.4" stroke="#888" stroke-width="0.8"/>
<text x="514.3" y="278.5" font-size="8" text-anchor="middle">2E</text>
<line x1="535.8" x2="535.8" y1="269.4" y2="271.4" stroke="#888" stroke-width="0.8"/>
<text x="535.8" y="278.5" font-size="8" text-anchor="middle">4E</text>
<linearGradient id="cbg5" gradientUnits="userSpaceOnUse" x1="398.2" x2="536.5" y1="0" y2="0"><stop offset="0.000" stop-color="#67000d"/><stop offset="0.125" stop-color="#a50f15"/><stop offset="0.250" stop-color="#cb181d"/><stop offset="0.375" stop-color="#ef3b2c"/><stop offset="0.500" stop-color="#fb6a4a"/><stop offset="0.625" stop-color="#fc9272"/><stop offset="0.750" stop-color="#fcbba1"/><stop offset="0.875" stop-color="#fee0d2"/><stop offset="1.000" stop-color="#fff5f0"/></linearGradient>
<path d="M391.2 286.0 L398.2 283.8 L536.5 283.8 L543.5 286.0 L536.5 288.1 L398.2 288.1 Z" fill="url(#cbg5)" stroke="#555" stroke-width="0.45"/>
<line x1="421.2" x2="421.2" y1="288.1" y2="289.4" stroke="#555" stroke-width="0.6"/>
<text x="421.2" y="297.1" font-size="8" text-anchor="middle">−60</text>
<line x1="467.4" x2="467.4" y1="288.1" y2="289.4" stroke="#555" stroke-width="0.6"/>
<text x="467.4" y="297.1" font-size="8" text-anchor="middle">−50</text>
<line x1="513.5" x2="513.5" y1="288.1" y2="289.4" stroke="#555" stroke-width="0.6"/>
<text x="513.5" y="297.1" font-size="8" text-anchor="middle">−40</text>
<text x="467.3" y="307.3" font-size="8.25" text-anchor="middle">rel. Negative Hit bias [%]</text>
</svg></body></html>
